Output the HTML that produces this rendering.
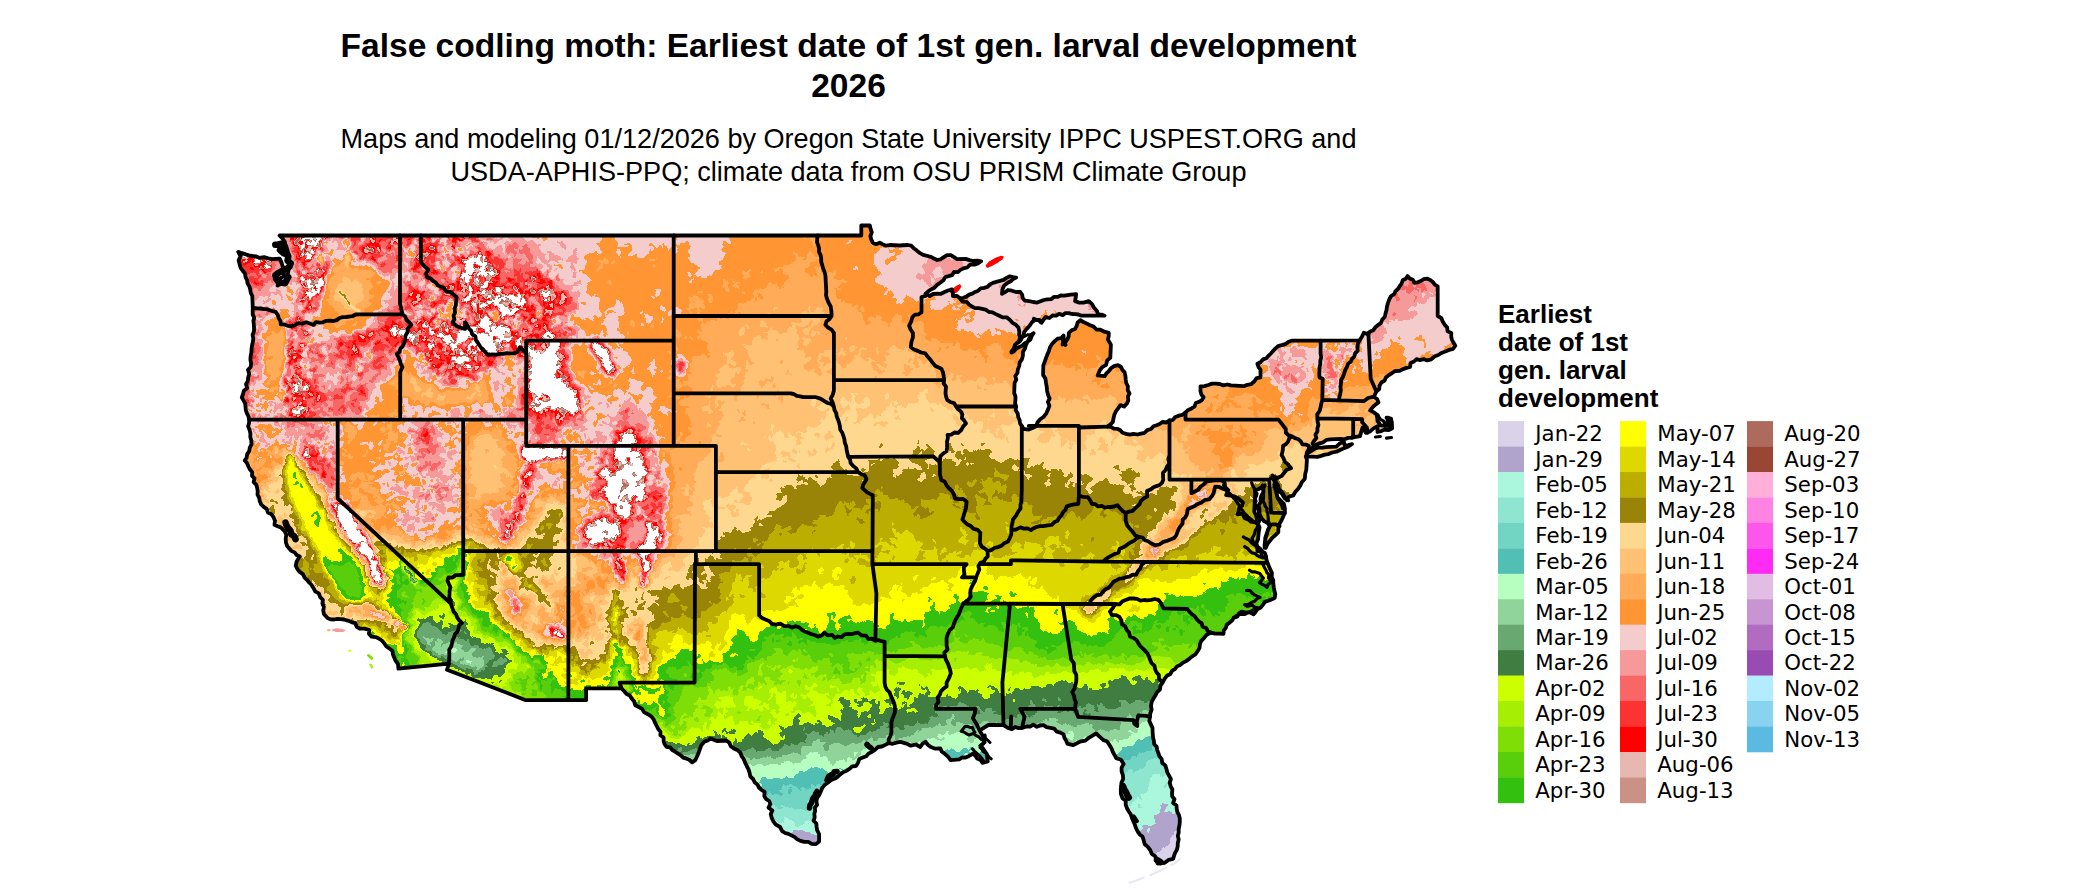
<!DOCTYPE html>
    <html><head><meta charset="utf-8"><title>False codling moth</title>
    <style>
    html,body{margin:0;padding:0;background:#fff;}
    body{width:2100px;height:892px;position:relative;overflow:hidden;font-family:"Liberation Sans",sans-serif;color:#000}
    .t{position:absolute;left:0;width:1697px;text-align:center;white-space:nowrap}
    #title{top:26px;font-weight:bold;font-size:33.55px;line-height:40px}
    #sub{top:121.9px;font-size:27.08px;line-height:33.4px}
    #ltitle{position:absolute;left:1498px;top:300px;font-weight:bold;font-size:26px;line-height:28px;white-space:nowrap}
    svg{position:absolute;left:0;top:0}
    svg text{font-family:"DejaVu Sans",sans-serif;font-size:21.3px;fill:#000}
    </style></head><body>
    <div id="title" class="t">False codling moth: Earliest date of 1st gen. larval development<br>2026</div>
    <div id="sub" class="t">Maps and modeling 01/12/2026 by Oregon State University IPPC USPEST.ORG and<br>USDA-APHIS-PPQ; climate data from OSU PRISM Climate Group</div>
    <div id="ltitle">Earliest<br>date of 1st<br>gen. larval<br>development</div>
    <svg width="2100" height="892" viewBox="0 0 2100 892">
    <defs><clipPath id="us"><path d="M279.5,235.5 L861.3,235.5 L861.3,225.5 L869.9,225.5 L870.6,229.0 L871.8,232.4 L870.4,236.0 L871.2,239.4 L872.8,242.9 L876.1,244.2 L879.7,242.7 L882.9,244.4 L886.2,245.7 L889.7,245.0 L899.2,245.5 L907.6,245.0 L911.3,245.7 L913.7,248.3 L916.6,250.3 L919.2,252.6 L923.2,254.8 L927.6,256.0 L931.0,256.9 L934.0,258.6 L937.1,260.0 L940.7,259.3 L943.8,257.1 L947.0,255.2 L950.8,255.2 L954.0,257.2 L957.1,259.2 L965.6,258.9 L969.4,260.1 L973.2,261.0 L977.3,260.6 L981.1,261.3 L977.9,263.5 L974.3,264.7 L970.1,264.6 L967.2,267.5 L963.4,268.4 L960.5,269.9 L957.9,272.1 L954.0,272.0 L952.0,275.2 L948.7,276.1 L945.4,277.0 L943.4,280.2 L940.2,282.7 L936.8,285.1 L934.0,288.1 L930.8,289.5 L928.0,291.5 L925.5,293.9 L929.7,296.0 L933.1,294.0 L937.0,293.6 L941.0,293.8 L944.5,292.0 L948.1,290.5 L951.9,289.4 L952.8,292.6 L952.9,296.0 L957.1,295.9 L960.3,298.6 L963.4,297.7 L966.5,296.6 L969.2,294.6 L972.3,293.6 L975.2,291.9 L978.2,290.7 L980.7,288.4 L984.2,287.8 L987.5,286.9 L990.0,284.4 L992.9,282.8 L996.4,281.8 L1000.0,280.9 L1003.5,279.9 L1006.5,277.9 L1009.8,276.3 L1012.9,277.0 L1016.1,277.6 L1013.1,279.0 L1010.7,281.3 L1007.7,282.8 L1004.2,285.5 L1002.4,289.4 L1002.0,293.9 L1005.1,292.2 L1008.0,290.0 L1011.9,290.7 L1016.0,292.0 L1020.3,292.0 L1022.2,294.8 L1022.7,298.2 L1025.0,300.7 L1029.1,301.1 L1033.1,302.0 L1037.2,302.6 L1040.5,301.3 L1043.8,300.0 L1047.4,299.3 L1051.1,299.2 L1054.1,296.8 L1057.5,296.9 L1060.7,295.5 L1064.2,295.7 L1067.5,295.1 L1070.9,294.7 L1076.2,294.1 L1075.7,297.7 L1075.1,301.2 L1079.2,302.6 L1083.5,302.6 L1088.8,301.2 L1092.0,304.1 L1094.1,307.8 L1096.8,310.7 L1098.3,314.4 L1101.5,314.6 L1104.6,315.7 L1094.1,315.7 L1081.4,315.7 L1078.4,314.5 L1075.2,314.1 L1071.9,314.0 L1068.8,313.1 L1065.5,313.1 L1062.6,315.1 L1059.1,313.8 L1056.2,315.7 L1052.6,315.5 L1049.3,318.0 L1045.6,317.0 L1043.4,319.9 L1041.4,322.8 L1038.8,320.2 L1035.1,319.7 L1031.9,322.3 L1029.6,325.8 L1026.7,328.9 L1024.3,331.8 L1023.4,335.6 L1020.3,338.1 L1018.3,341.8 L1015.1,344.6 L1013.7,348.8 L1011.5,352.5 L1014.0,351.2 L1016.2,348.6 L1019.1,347.0 L1022.3,345.8 L1024.6,343.3 L1027.7,341.6 L1029.2,338.5 L1031.0,335.6 L1033.4,333.3 L1031.6,336.2 L1030.5,339.4 L1027.5,341.8 L1025.9,345.0 L1025.0,348.6 L1023.0,351.8 L1022.9,355.6 L1022.0,359.1 L1019.8,362.3 L1019.2,366.1 L1017.8,369.6 L1017.4,373.0 L1015.3,376.0 L1016.3,379.7 L1014.6,382.8 L1014.2,393.3 L1015.5,396.5 L1015.4,399.8 L1015.1,403.2 L1016.1,406.5 L1015.7,410.2 L1017.7,413.4 L1018.2,417.0 L1019.6,420.1 L1020.1,423.5 L1023.5,428.8 L1028.8,429.6 L1032.5,428.1 L1036.1,426.2 L1037.6,422.3 L1040.1,419.3 L1043.5,417.0 L1046.3,413.3 L1048.2,409.1 L1049.4,405.7 L1047.9,401.9 L1049.6,398.6 L1048.0,394.8 L1047.1,390.8 L1046.7,386.7 L1046.0,382.6 L1045.4,378.5 L1043.1,374.9 L1043.3,365.7 L1044.6,362.1 L1045.9,358.4 L1047.2,354.8 L1048.8,351.2 L1050.1,347.0 L1052.6,343.3 L1055.0,340.9 L1057.6,338.7 L1061.4,338.2 L1063.5,335.4 L1063.8,340.1 L1062.5,344.6 L1065.6,342.0 L1067.4,339.2 L1068.7,336.2 L1068.8,332.8 L1071.6,330.3 L1075.1,328.9 L1076.7,325.9 L1077.6,322.5 L1080.4,320.2 L1083.4,322.1 L1086.7,323.6 L1090.1,325.2 L1093.6,326.6 L1096.4,329.5 L1100.4,329.7 L1104.4,331.7 L1108.8,332.8 L1108.7,336.2 L1107.8,339.4 L1110.9,344.6 L1110.3,357.8 L1107.2,360.4 L1106.1,364.8 L1102.5,367.0 L1100.3,369.5 L1098.9,372.4 L1097.7,375.4 L1104.6,376.2 L1106.4,373.4 L1108.9,371.0 L1110.9,368.3 L1114.1,366.1 L1117.9,365.2 L1120.9,366.8 L1122.4,369.9 L1124.6,372.3 L1125.4,375.8 L1125.7,379.4 L1126.2,383.0 L1127.9,386.3 L1127.7,390.0 L1129.5,393.3 L1127.9,396.6 L1128.3,400.5 L1126.7,403.8 L1124.0,406.6 L1120.4,405.1 L1118.3,408.1 L1116.2,410.9 L1114.4,414.5 L1113.5,418.3 L1112.8,422.1 L1110.2,424.5 L1107.4,426.7 L1110.8,426.9 L1113.8,428.6 L1117.3,428.8 L1120.3,430.2 L1122.5,432.8 L1126.2,433.9 L1129.9,434.6 L1133.5,433.8 L1137.4,434.5 L1141.0,433.6 L1144.7,432.8 L1147.3,430.1 L1151.0,429.0 L1153.5,426.2 L1156.6,425.2 L1159.6,424.0 L1162.4,422.0 L1166.0,422.5 L1168.9,420.9 L1172.7,420.0 L1175.3,417.1 L1178.8,415.7 L1182.5,414.8 L1185.5,412.5 L1188.2,409.9 L1191.6,408.4 L1194.6,406.5 L1195.7,403.0 L1199.1,401.8 L1201.9,400.1 L1203.6,397.2 L1201.4,394.5 L1200.5,391.2 L1200.5,386.5 L1204.5,386.1 L1208.3,385.0 L1212.1,383.6 L1215.9,383.6 L1219.7,384.0 L1223.4,385.4 L1227.3,384.5 L1231.0,385.4 L1243.7,386.2 L1247.3,384.8 L1251.2,384.1 L1254.2,381.5 L1256.6,378.2 L1260.5,377.5 L1260.5,369.6 L1258.5,367.0 L1257.4,363.8 L1260.5,362.2 L1263.0,359.4 L1266.4,358.3 L1268.5,355.8 L1270.9,353.5 L1273.1,351.0 L1275.3,348.6 L1278.1,346.1 L1281.7,345.2 L1285.2,344.2 L1288.2,342.1 L1291.5,340.7 L1320.6,340.7 L1359.6,340.4 L1361.9,336.8 L1363.8,332.8 L1368.0,334.1 L1370.1,331.5 L1373.3,330.2 L1375.3,327.3 L1378.1,325.1 L1380.9,322.9 L1382.3,319.4 L1384.8,317.0 L1385.5,313.5 L1386.5,310.1 L1387.0,306.5 L1388.0,302.9 L1389.3,299.3 L1391.2,296.0 L1394.1,294.2 L1395.5,291.1 L1397.9,289.0 L1399.7,286.2 L1401.6,283.6 L1402.7,280.3 L1405.8,278.7 L1407.6,276.0 L1409.7,278.4 L1412.9,279.8 L1414.3,282.8 L1417.7,282.3 L1420.8,281.0 L1423.7,279.2 L1427.0,278.6 L1430.2,279.9 L1432.8,281.9 L1434.8,284.7 L1437.7,286.3 L1437.7,316.0 L1441.3,318.0 L1442.8,321.7 L1444.9,324.9 L1447.2,327.5 L1447.5,331.2 L1451.3,332.9 L1451.2,336.8 L1452.1,340.0 L1453.6,342.9 L1455.4,345.7 L1453.0,348.8 L1449.4,349.8 L1446.0,351.2 L1442.0,352.7 L1438.3,355.0 L1434.4,356.5 L1431.2,359.4 L1427.0,360.4 L1423.6,359.1 L1419.9,360.1 L1416.5,359.1 L1414.0,361.5 L1410.6,363.0 L1410.1,367.0 L1406.5,367.9 L1402.9,369.1 L1399.6,370.9 L1395.0,371.0 L1391.2,373.6 L1388.4,375.4 L1385.9,377.5 L1384.5,380.7 L1381.4,382.5 L1379.6,385.4 L1379.2,389.0 L1376.4,391.5 L1373.9,396.7 L1377.0,399.0 L1378.5,402.5 L1375.8,404.4 L1373.3,406.5 L1370.1,410.4 L1373.4,412.1 L1376.4,414.3 L1377.2,417.6 L1377.5,420.9 L1380.6,425.4 L1389.1,426.2 L1387.1,422.4 L1388.0,418.3 L1386.5,417.8 L1389.0,420.2 L1391.8,422.2 L1392.2,428.3 L1388.7,430.1 L1384.8,429.6 L1381.3,431.1 L1377.5,432.0 L1377.5,426.2 L1373.5,428.4 L1370.1,431.4 L1365.9,432.8 L1362.7,427.5 L1361.2,431.8 L1360.0,436.2 L1356.0,436.8 L1352.0,437.7 L1348.2,437.9 L1344.5,439.3 L1340.6,438.8 L1330.1,439.3 L1326.3,439.9 L1323.2,442.3 L1319.5,443.3 L1316.1,444.8 L1313.2,447.2 L1310.2,449.5 L1307.9,452.5 L1305.8,456.4 L1306.9,459.8 L1306.3,469.6 L1305.2,474.1 L1304.8,478.8 L1302.0,481.9 L1300.2,485.6 L1298.0,489.0 L1295.3,491.9 L1293.2,495.4 L1288.9,496.8 L1286.9,500.3 L1284.7,496.8 L1282.7,493.2 L1279.4,491.7 L1276.9,489.0 L1274.2,486.7 L1274.9,480.1 L1275.3,489.3 L1276.5,493.2 L1277.4,497.2 L1280.6,500.6 L1283.9,503.8 L1284.9,508.3 L1284.8,513.0 L1283.2,516.6 L1281.5,520.2 L1279.6,523.6 L1278.4,527.4 L1278.3,532.1 L1275.4,535.1 L1272.1,538.0 L1269.7,541.1 L1267.3,544.2 L1265.8,547.9 L1265.2,538.0 L1266.6,533.9 L1268.0,529.9 L1270.0,526.1 L1267.6,523.1 L1264.1,521.2 L1261.6,518.2 L1259.5,513.8 L1259.5,509.0 L1258.6,505.4 L1260.7,502.1 L1260.5,498.5 L1261.6,495.2 L1263.5,492.2 L1263.3,488.5 L1264.8,485.3 L1261.6,487.1 L1258.6,489.1 L1255.3,490.6 L1254.8,499.8 L1254.2,511.6 L1256.1,515.5 L1257.0,519.6 L1258.0,523.7 L1259.5,527.4 L1258.8,531.4 L1258.4,535.3 L1258.0,539.4 L1256.3,543.2 L1257.5,547.1 L1257.4,551.1 L1261.3,551.2 L1264.8,552.9 L1266.0,556.2 L1266.4,559.7 L1267.5,562.9 L1268.9,566.3 L1270.3,569.6 L1271.9,572.9 L1271.7,576.7 L1273.2,580.0 L1273.3,583.6 L1273.8,587.2 L1274.4,590.7 L1275.3,594.3 L1274.7,597.9 L1271.4,599.4 L1268.1,600.8 L1264.8,601.9 L1263.0,604.7 L1260.9,607.4 L1257.6,608.9 L1255.7,611.7 L1253.6,614.2 L1249.8,612.2 L1245.5,612.7 L1241.6,611.6 L1238.9,613.6 L1237.3,616.7 L1233.9,617.8 L1232.0,620.6 L1229.4,622.7 L1226.8,624.7 L1225.8,627.8 L1223.7,630.6 L1223.5,633.9 L1219.3,633.7 L1215.1,633.7 L1211.0,632.6 L1206.7,634.8 L1203.6,638.4 L1201.1,641.1 L1199.9,644.4 L1199.5,648.0 L1197.7,651.0 L1195.5,654.3 L1192.1,656.3 L1189.2,658.9 L1186.1,661.1 L1182.6,662.9 L1180.0,665.0 L1177.0,666.4 L1174.9,669.1 L1172.0,670.8 L1170.3,674.0 L1166.9,675.8 L1164.7,678.7 L1162.6,682.6 L1160.5,685.7 L1159.9,689.7 L1156.9,692.4 L1155.2,695.8 L1153.2,699.0 L1151.5,702.4 L1151.0,706.3 L1151.6,709.9 L1150.3,713.3 L1149.9,716.8 L1149.3,720.9 L1151.0,724.7 L1152.5,727.8 L1152.6,731.2 L1152.7,734.5 L1153.1,737.8 L1153.9,741.0 L1154.2,744.3 L1156.7,746.9 L1157.2,750.1 L1158.4,753.2 L1159.4,756.2 L1161.7,759.2 L1162.2,763.1 L1165.4,765.6 L1166.5,769.2 L1167.4,772.8 L1169.3,776.0 L1170.9,779.2 L1169.7,782.9 L1170.7,786.3 L1172.4,789.5 L1172.0,793.1 L1172.2,796.4 L1174.5,799.2 L1173.1,803.0 L1176.5,805.5 L1176.7,808.8 L1177.4,812.2 L1179.0,815.2 L1179.8,818.5 L1179.8,822.0 L1179.4,825.5 L1178.7,828.9 L1178.7,832.5 L1177.8,835.9 L1178.7,839.5 L1177.8,842.9 L1177.7,846.4 L1176.9,849.7 L1175.2,852.6 L1174.1,855.7 L1173.1,858.8 L1168.5,859.9 L1164.7,862.8 L1157.7,863.5 L1156.1,860.0 L1155.2,856.2 L1151.8,853.9 L1150.2,850.0 L1147.8,846.9 L1144.7,844.3 L1143.7,840.4 L1142.5,836.5 L1139.7,834.4 L1137.8,831.6 L1136.2,828.6 L1134.8,824.6 L1133.1,820.7 L1131.8,817.5 L1130.7,814.3 L1128.8,811.5 L1127.0,808.3 L1125.7,804.9 L1125.8,800.8 L1122.5,798.3 L1120.9,793.9 L1120.8,789.1 L1121.5,782.5 L1123.2,779.0 L1122.9,775.2 L1121.6,771.4 L1121.6,767.6 L1123.6,764.1 L1121.0,759.8 L1116.2,758.1 L1114.7,755.2 L1113.0,752.3 L1111.3,747.9 L1108.8,743.9 L1106.8,741.2 L1103.4,740.1 L1101.0,737.9 L1098.5,735.8 L1096.2,733.4 L1092.5,735.6 L1088.8,737.8 L1085.4,740.6 L1081.1,741.3 L1077.2,743.1 L1073.0,745.2 L1067.3,743.6 L1066.1,740.5 L1064.4,737.7 L1063.6,734.4 L1060.4,732.6 L1056.8,731.7 L1054.1,728.6 L1050.4,727.9 L1046.6,727.2 L1043.5,725.2 L1040.1,725.5 L1036.9,726.8 L1033.3,724.7 L1030.1,726.7 L1026.7,726.5 L1022.0,727.8 L1018.6,728.1 L1015.1,727.0 L1011.9,729.2 L1007.5,727.6 L1003.5,725.2 L992.9,724.9 L988.4,725.0 L984.5,727.3 L979.7,730.5 L982.4,735.2 L984.5,740.5 L983.2,743.7 L980.3,745.7 L982.7,748.1 L984.5,751.0 L986.6,753.6 L987.2,757.6 L987.7,761.5 L982.4,762.8 L980.5,760.0 L977.3,758.6 L975.4,755.8 L972.9,753.6 L968.7,756.2 L965.6,757.5 L962.1,757.5 L959.2,759.4 L950.8,760.2 L947.9,756.6 L944.5,753.6 L941.7,751.5 L940.3,748.4 L935.4,748.7 L930.8,747.0 L927.8,744.7 L925.5,741.8 L922.4,743.9 L920.3,747.0 L915.8,744.5 L910.8,745.7 L907.4,744.0 L903.8,742.9 L900.2,741.8 L896.4,742.6 L892.6,743.8 L888.7,743.1 L885.3,744.9 L881.9,746.5 L878.1,747.0 L875.2,749.6 L872.1,751.8 L868.6,753.6 L866.3,756.3 L862.8,757.5 L859.3,758.9 L858.1,762.8 L856.0,766.0 L852.1,766.3 L849.5,768.8 L846.6,770.7 L843.4,772.0 L840.5,774.2 L837.9,776.6 L834.9,778.6 L831.2,780.1 L828.1,782.5 L824.9,784.8 L822.3,787.8 L820.8,791.4 L819.2,795.0 L817.0,798.3 L816.4,801.5 L817.1,804.8 L814.9,807.7 L815.1,811.0 L814.3,814.1 L814.7,817.3 L813.6,820.7 L816.3,823.5 L816.6,826.7 L817.0,829.9 L819.1,834.0 L819.1,838.6 L819.1,841.5 L815.9,844.1 L811.7,843.8 L808.3,841.9 L804.3,841.8 L800.5,840.9 L797.0,839.1 L794.4,836.9 L791.4,835.4 L788.4,833.9 L785.1,833.0 L782.2,831.2 L780.0,827.0 L775.9,824.6 L773.4,821.5 L771.7,817.9 L770.7,814.1 L772.4,810.6 L768.5,807.7 L770.3,804.2 L769.2,801.0 L766.2,799.1 L764.3,796.3 L764.6,791.9 L761.7,790.0 L759.1,787.8 L757.5,784.6 L754.6,782.2 L753.1,779.0 L750.3,776.5 L749.6,772.9 L748.5,769.4 L746.7,766.0 L745.1,762.6 L743.7,759.0 L741.5,755.8 L740.1,752.3 L737.2,749.9 L733.8,748.4 L730.8,746.2 L729.3,742.7 L726.4,740.5 L716.9,741.0 L713.7,739.7 L710.6,738.4 L707.7,740.5 L704.3,741.8 L701.3,745.3 L699.7,749.7 L698.4,753.3 L696.9,756.8 L695.3,760.2 L692.1,762.3 L689.5,760.0 L686.5,758.6 L683.2,757.6 L680.8,755.3 L678.0,753.6 L675.2,751.7 L672.3,750.0 L670.0,747.3 L666.4,746.8 L664.5,744.0 L663.6,740.9 L663.6,737.5 L660.4,735.3 L660.5,731.8 L658.2,729.0 L656.7,725.8 L655.0,722.7 L653.7,719.4 L651.2,716.4 L647.9,714.2 L644.3,712.4 L642.1,708.9 L638.8,707.0 L635.3,705.2 L634.0,701.2 L631.6,698.4 L629.8,695.5 L626.6,694.1 L624.5,691.5 L622.1,689.2 L621.5,688.4 L586.1,688.4 L586.1,700.2 L525.8,700.2 L447.0,669.7 L448.9,663.7 L398.4,668.7 L398.0,664.0 L395.2,660.2 L394.1,657.2 L392.9,654.2 L392.5,651.0 L389.7,648.6 L386.4,646.5 L384.3,643.4 L381.9,640.5 L378.9,638.6 L375.6,637.1 L371.4,636.6 L368.9,633.7 L369.3,630.0 L364.6,628.6 L359.8,628.7 L356.7,626.8 L355.1,623.1 L351.4,622.1 L347.7,620.6 L344.0,619.5 L340.8,619.1 L337.5,618.9 L334.2,619.5 L330.9,619.4 L327.8,618.2 L324.0,614.2 L323.2,610.6 L323.9,607.0 L322.4,603.4 L322.9,599.8 L320.2,597.1 L318.8,593.3 L315.2,591.3 L313.4,587.9 L311.6,585.0 L309.1,582.5 L307.0,579.8 L304.5,577.3 L302.9,574.1 L300.0,572.1 L297.6,569.5 L295.7,565.7 L296.6,561.6 L299.7,556.4 L296.6,555.0 L294.5,552.4 L291.4,550.9 L289.2,548.5 L287.1,545.8 L285.9,542.3 L285.7,538.7 L286.3,534.8 L284.8,531.4 L280.8,527.4 L277.6,526.3 L274.5,524.8 L275.0,520.7 L273.4,516.9 L271.3,514.1 L267.9,512.5 L266.7,508.9 L263.7,506.9 L261.2,504.5 L259.7,501.1 L259.2,497.8 L257.5,494.7 L257.7,491.3 L257.2,488.0 L256.3,484.8 L253.7,482.1 L254.5,478.4 L252.0,475.7 L252.3,472.2 L250.0,469.6 L248.4,466.5 L247.1,463.2 L244.8,460.6 L246.6,457.7 L247.2,454.1 L249.2,451.2 L249.8,447.6 L251.5,444.3 L251.3,440.6 L250.3,437.1 L250.4,433.3 L249.5,429.7 L248.1,426.2 L249.1,423.0 L249.2,419.6 L248.5,416.3 L246.9,413.4 L245.8,410.2 L245.5,406.8 L245.1,403.4 L243.5,400.4 L241.8,397.5 L243.0,394.2 L243.9,390.8 L247.1,388.1 L246.0,384.1 L247.8,380.9 L248.2,377.3 L249.2,374.0 L248.0,369.9 L250.7,367.0 L251.1,363.5 L250.4,359.9 L250.6,356.4 L251.3,353.0 L251.5,349.5 L251.9,346.0 L252.8,342.3 L253.3,338.7 L252.6,334.8 L254.0,331.3 L254.0,327.5 L253.8,324.3 L253.4,321.0 L254.2,317.6 L252.7,314.4 L252.7,311.1 L252.8,307.8 L252.3,296.0 L250.8,292.9 L250.2,289.4 L249.3,286.3 L247.6,283.5 L247.1,280.2 L245.5,277.1 L245.0,273.5 L242.7,270.7 L240.6,267.8 L239.7,264.4 L238.7,260.3 L240.4,255.8 L238.2,251.8 L241.7,253.2 L245.3,254.2 L248.8,255.4 L252.5,256.0 L256.3,256.4 L259.7,257.9 L264.0,257.2 L268.2,258.4 L272.4,259.2 L279.7,258.6 L281.3,261.9 L282.3,265.3 L283.3,268.8 L283.9,272.3 L283.5,276.2 L280.0,278.5 L279.4,282.3 L277.6,285.5 L281.8,283.5 L286.0,281.5 L286.9,276.9 L288.2,272.3 L288.7,268.8 L290.0,265.4 L290.3,261.8 L287.5,258.7 L285.9,254.9 L283.9,251.3 L283.3,246.5 L285.0,242.1 L282.5,238.5 L279.5,235.5ZM1306.9,456.4 L1317.4,456.9 L1321.1,455.9 L1324.8,454.6 L1328.6,454.1 L1332.2,452.5 L1336.5,451.7 L1340.6,449.8 L1344.1,448.1 L1347.9,446.8 L1351.1,444.6 L1352.0,444.1 L1348.4,445.1 L1344.8,445.9 L1343.8,441.7 L1339.6,443.6 L1336.4,446.7 L1325.9,447.2 L1322.3,447.6 L1318.8,447.5 L1315.3,448.5 L1311.1,451.2 L1306.5,453.8Z"/></clipPath><filter id="rough" filterUnits="userSpaceOnUse" x="220" y="210" width="1250" height="680" color-interpolation-filters="sRGB"><feTurbulence type="fractalNoise" baseFrequency="0.11" numOctaves="2" seed="7" result="n"/><feDisplacementMap in="SourceGraphic" in2="n" scale="5" xChannelSelector="R" yChannelSelector="G"/></filter></defs>
<g clip-path="url(#us)">
<g filter="url(#rough)"><g transform="scale(.5)" fill-rule="evenodd" shape-rendering="crispEdges">
<rect x="400" y="400" width="2600" height="1400" fill="#DAD2E9"/>
<path fill="#B0A4CC" d="M452 432l2476 0 0 1236-5 4 1 4-12 8-8 0 0-4 0 4-4 3-4-1-12 2-4 7-4-7-4-1-4-5 0 10-8-1-3-3 3-4-2-8 1-4-7-4 4-4-4-8-4-1-4 2-12-6-10-3-2-4-12 4 1 4-1 1-4-5-4 6-8 4-8-1-2 3 5 4 1 5-8-3-4-8-4 1-8 4-4-6-8 1-4 6-4 2-11-6-1-4 2-4-6-5-4 3-12 1-4-1-4-3-4 7-8-3-8-7-8 4 3 4-3 3-8 2 0-2 4 1 2-8-6-1-2 5-2 2-4-4-4 1-4-5-8-1-4 6-4-6-7 7 4 4-5 0-4 7-4 0-3-7-4-4 4-4-5-7-8 7 0 4-4 2-6-2-2-4-10-4-3 0-3 6-3-6-9-1-2 5 2 2 4-2 3 4-11 6-3-2-1-5-4 4 0 3 8 10-4 3-4-2-4 3 8 3 0 2-4 2-4-1-4 2-9-4 4-4-3-2-8 2-8-2-4-5-8 2-2-3 0-4-2-2-4 2-2-8-6-4-4 6-4-1-4 3-12-8-4 0-7 8 5 4-1 4 4 4-3 4 6 4 4-1 2 1 9 16-2 4-9 3-4 0-8 4-4-3-4 0-12-3-5 3-8 16-7 2-3-2-2-8-3-3-4 4-8-3-4 1-3-3 0-4 4-4-12-12 4-4 0-8-5-8 6-8-10-7-8 1-4 3-4-2-1 1 3 4-2 4-5 0-11 6-9 14 0 8-14 8-2 4-7 5-4-2 0 5-3 4-2 8 1 2 4-1 2 3 1 12-7 16 6 4 0 4 6 0 8 5-2-5-2-2-4 1-2-3 4-4 0-4 10-4 0-4-6-4 7-8 4 8-1 4 4 4 4 1 3 7 5 1 1 3-5 8-4-1-4 1 4 4-58 0 5-12-7-6-4 2-8-10-12 12-4-1-4-6-13 5-4 12 1 2 6 2-72 0 2-3 4-1 0-6-4 4-4-3-12 1-3 8-301 0 1-4-5-4 1-4-4-4-1-4 6-16-2-4-4 0-8-3-9 11 4 4 0 4-3 4-12 2-8 0-4 3-3-1 2-4-6-4 1-4 2-4 7 0-11-2-4 4-2-2 0-4-2-1-4 4-3-3 11-12-8-2-8 7-4-8-8 15-8-11-8 0-12 10-1 5 4 4-3 2-12-3-2 13 6 3 0 4-8-3-4 3-2-3 1-8-3-3-14 7-6 5-4-2-5-7-7-2-1-2 1-2 8 2 1 4 3 1 7-5-6-4 1-4-2-4-4 0-4-6-8 0-2 2 2 4 0 8-4 0 1 4-4 4-1 4 3 8 5 2 2-2-3-4 1-2 4-2 4 1 4 11-4 1-2 3-9 0-5-3-4 3-4 0 0-4-4-9-8 7-4 0-4-2-2-4 2-4-4-1-2 1 0 4-7 8 1 4-31 0 6-4-14-4 4-8 0-4 3-1 12 6 4-3 4 7 16-9 4-5 5 1-6-12 1-4-3-4 3-5 4 1 0 5 7 7 4 12 13 9 3-1-7-18-1 6-3 1-8-17 4-5 8 5 2-4-1-4-5 1-4-2-12-7-4-6-4 2-8-16-2 4 2 8-4 0-4-3-8 4-5-1-3 3-4-2-4 2-8-5-1 6-7 8-12 4 3 4-15 6-8-6-4 4-12 2-4 3-2-5-6-4 0-4-4-3-8 3-3-4 3-1 1-3-5-8-1-4-3-2-4 3-12 0-8 2-4-3-3 12 5 8-2 4-4-1-5 1 0 4-5 4 2 4-1 4 5 2 8 8 4-3 4 1 4 8-4 10-8 1-7 5-6 0-3-6-6 6-17 0-5-5-4 3-4 0-13-10-1-8 2-4-4-3-7 3 3 4-4 3-4-2-4 0-3 7-6 0-1 4 2 3 8 0-1 5-927 0zM1428 1723l-5 5 1 4 4 4 3-4 1-4zM1560 1679l-2 9 2 3 4-7 4 0 1-4-5-3zM1680 1711l-4 1 0 5 4 1 5-6-1-2zM1812 1712l-2 4 6 5 6-5-6-1zM2284 1720l-2 8 2 5 4 0 6-5zM2304 1722l-6 6 0 4 6 1 4 8 3-1 0-4-6-8 1-4zM2388 1635l-2 1 1 8 5 7 4-7-8-4zM2512 1654l-2 6 2 2 8 3 4-1-3-4-5-2zM2768 1647l-3 5 7 1 3-5-3-2zM2868 1659l-4 5 4 1 3-1 1-3 6-1zM2376 1660l0-3 4 0 2 3-6 9-2-5zM2474 1660l6 0-3 4-5 2-1-2zM2762 1672l2-4 3 4-3 4 5 4-5 6-5-2 1-7 4-1zM2834 1676l2-1 8 4 5-3 6 8 0 4-8 0-3 8-8 1-4-16-8 7 0-4zM2679 1680l1-3 4 0 5 3 2 4-3 4-4-1-4 2-5-5zM2781 1680l3-2 7 6-3 2-4-3-4 3-3-2zM2582 1684l2-2 6 10-6 2-6-2 4-4zM2714 1684l2-1 0 5-4 2-1 2 3 4-2 1-5-5 1-4zM2594 1696l2-4 4 1 2 3-3 4-3 2-3-2zM2877 1700l3-4 3 4-3 6-4-1zM1589 1708l7-4 5 4-11 16 0 4 5 4 2 8-1 4-8-8 0-5-8-3 10-8-4-4 6-4zM1618 1728l2-3 4 2 1 1-4 4 6 4-3 1-6-1zM1775 1732l3 0 0 4 3 4-1 8-4 0-2-4 1-4-5-4zM1582 1740l4 0 3 4-1 2-7-2zM1477 1744l3-2 4 2-1 4-3 2zM1502 1744l2-3 4 2 2 1-4 4 2 2 16 4 2 2-2 7 4 0 5-3 3 8-19 0 0-8-1-2-4 4-4-9-4 1zM1522 1744l2-3 5 3-5 3zM1541 1748l3-1 4 1-6 4 4 8 6 4 1 4-10 0 0-4-7-5-2-3zM1783 1752l5-2 4 7-4 3zM1702 1756l2-2 4 0 3 2 1 4-12 2-5-2 1-2 4 0z"/>
<path fill="#AAF7DE" d="M452 432l2476 0 0 1223-44-17-12 2-4-1-8 3-12-5-4 2-8-1-3-2-1-4-4 0-4-9-4 5-3-8-9 1 1-5-5-3-4 2-4-4-12 5 0 6-4 0-8 3-4 8-4-5 1-4-1-8-4 0-4 1-4 7-11 8-9 3-4 0-4-4-8 1-4-4-1-4-3-2-4 1-4-3-3 4 1 4-14 5-1-9-3-3-8-3-1-2 6-12-1-2-12-7-3 9 3 4-4 3-4-3-4 1-4-9-4 6-8-10-5 8 1 4-8 1-8-4 0-5-8-7-4 3-4 8-4-5-4 0-4-2-1-5-7-3-16 4-3 3 1 4-3 4 9 4 3 4-3 4-4-1-4-6-8 4-1-1 2-4-2-4 0-12-5 0-2 3-5-3-3 8-4-2-2 2 4 4-6 3-8-9-8 2-4 4 5 8-1 8 5 4-1 8-8-4-4 2-4-2 0-5-4 3-4 1-2-3-6-2-1 6 7 4-2 1-8 1-8-4-8 7-4-2-16 4-4-1-4 2 4 2 4-1 8 3 0 4-8 1-8 12-8-6-4 2-4-1 1-8-2-4 0-12-3-4-7-4-5-6-12-3-7-3-5-5-4 13-4 1-8-5-4 5-8 1-4 4-12-4-4 1-2-3 2-12-4 0-4-3-5 7 5 4-4 4 0 7-4-1-4 6-5 0 1 11 5 1-5 4-8 3-12-1-4 10-5 4 3 4-4 4 2 4-3 12-9 1-8 4-4-3-12 4-2 2 8 8-3 4-3 4-4-3-15 3 3 12-8 3-10-11-6-4-5 0-11-12-4 5-4-6-4 7-8-1-4-4-4 2-4-3-4 4-8 0-8-9-8 6-8-1-4 4 0 6-4-2-1-4-3-3-8 7-4-1-8 4-4-2-4 1-3-2-1-4-4 2-1-2 3-4-1-8-5-1-4-4-16 5 4 3 0 5-4 4 2 4-10 13-8-15-9 2 2-4-1-1-12 3-4 6 1 4-5 2-3-2 2-4-11-9-3-7-8 0 3 1 5 7-1 8-12-12 4-4-4-4-8 4-8-1-4 1 2-8-6-2-1 6-7 2-4 5-4-6-4 0 0 7 10 8-2 3-8 4-8-3-4 2-8-1-8-3-4 4-6-6 10-4 1-4 1-4-6-4-8 7 0-3-8-8-16 5-4-1-4-6-4 6-4 0-8-7-8 5-8-1-4 3-12-8-16 9-4-2-4 4-4 1 0-9 0 5-4 0-4-3-4 0-4 5-4 0-4-5-3 3 2 4-3 1-12-8-12 15-6 0-2 5-1-5-6-4-1-4-4 0-3 4 4 4-1 4-8 1-1-9 5-8-1-4-6-4-5-7-4 4-12-3-4 3-11-17 4-8-5-2-2 2 0 8-2 3-5 1-2 8-4 4-5 1-4-1-3-4 3-4-8-3-8 1-8-6-4 0-4-2-20-2 0 4-4 3-4-2-4 3-16-1-4-4-12 5 0-4-4-2-4 2-12-7-4 3-12-3-16 3-4-2-2 2 1 4-6 12-17 11-4-1-4 5-8 1-2 4-7 8-7 2-4 6-4-2-11 6-5 7-4-1-8 6 0 4-4 4-16 3-12 11-6 2 2 4-8 5-4 0-4 7-892 0zM1756 1679l-2 5 2 2 4 0 0-5zM1768 1678l-2 2 2 2 4 4 4 0 1-2-1-4zM1832 1672l0 5 4 1 3-2-1-4zM1904 1681l-3 3 3 4 4-2 1-2zM1912 1695l-2 1 6 8 2-4zM2036 1696l-5 4 5 5 3-5zM2396 1601l-2 3 2 7 4 0 2-3-2-4zM2696 1592l4 4-8 6-13 6 9 13 8-16 12-2 4 1 0-5 4 1 9-4-5-5-8 0-8 7-4-2 2-4-2-1zM2744 1615l-6 5 6 2 1-6zM2748 1604l-1 4 1 5 4-2 8 5 3-4-3-8-4 4zM2768 1614l-4 2 12 1 3-1-3-2-4 1zM2643 1620l1-1 8 5-4 7-4-2-2-5zM2786 1624l2-1 4 5-4 4-4 0-1-4zM2798 1624l2-2 6 2-6 7-2-3zM2292 1656l4-3 5 3-5 8-4-2zM1970 1716l2-2 4 1 0 5-6 4 6 7 4 8 8 6 4-1 12 12 8-5 8 0 8-7 2 4-3 4 0 4 5 4 4-7 8-1 3-4 9-3 16 6 16-3 16 8 4-1 4-5 20 8 1 6-3 4-262 0 0-8-4-2-4-6 2-12 14-14 8 3 4-3 12 1 8-2 4 3 12-2 12 4 16-3 8 4 8-9z"/>
<path fill="#8FE6D0" d="M452 432l2476 0 0 1217-44-15-20-4-4-3-4 1-3-4-9-2-32-16-12-2-7-4-9-1-12-4-4-4-12-3-8-5-16-4-4-3-8 4-4-6-4 0-8 3-4-2-4 2-4-3-4 0-4-2-7 12-5 2-8-3-4 1-4-3-4 3-12-4-12-1-4 5-4 1-4-3-12-1-8-4-12 4-4-4-8-2-4 5-4-3-12 5-8-3-4 2-8 1-4-2-4-6-4 1-12 9-4 1-4-3-8 1-2 1 0 4-2 1-4 1-4 4-4-2-4 8-4 3-12 5 0 4-4 3-4 1-4-4-4 4-4-6-4 4-4-10-4-3-12-5-2-8-6-6-4 0-4 4-12-2-2-8 2-2 4 2 3-8-7-8 1-4-9 0-4-3-4 0-3 3-1 5-8 2-4-2-4 0-4-1 2-4-2-3-4-2-8-11-3 4 2 4-1 4-2 3-6 1-2 4 0-12-4 1-4-2-8 3-4 22-4 4 1 4-1 4-4 3-4-2-8 2-1 1 3 4 1 8-3 2-4-7-4 3-9 6 0 8-3 4-3-12-7 0 2-4-8-5-4 5 3 4-3 4 2 4-2 2-8 1 0 3 3 2-2 4-10 8 2 8-1 2-4 2-2 4-10 7-8-1-3 2 3 3 4-2 2 3-2 3-4-2-3 3 6 8-6 4 1 4-2 3-6-3-2-4 3-8-2-8-5 8-4 2-6-2 2-4-8-5-4 3-1-6-3-2-12-2-4-3-6 3 6 8 8-1 4 9 5 0-2 12 1 2 4-1 1 3-1 3-4 1-1-4-3-2-4 2-23-8-6-4 2-4-1-3-6-1 2-5-8-2-4 6-4-3-8 7-4-2-4 1-4-3-4 6-4 1-4-4-8 4-4-1-4 1-4-3-8 0-3-3 0-4-9-4-4-1-4 2-4-2-8 1 4 1 2 3-6 5-4 6-4 1-4 7-2-7-6-4 5-8-9-3-3 3 1 8 2 3 2 1-4 4-2 1-1-5-11-7-3 3 0 4-5 2-1-6-11-8-4-7-4 1-4 4-8-13-4 15-5-4-2-4-1-8 5-8-5-9-7 9 1 4-2 2-4 3-4-1-4 5-2-1 0-4-2-1-2 1 1 4-3 1-4-4-4-1-1 8-11 11-8-2-2-5-11-4-3-1-4 4-4-2 2-5-2-4-12 3-4 6-4 0-4-5 0-4-1 4-3 1-2-5-6-2-4-5-4 2-4-4-7 9 4 4-1 3-4-1 0-2-12-7-4 0-4 5-12 1-4-6-8 3-2 8-6 3-2-3 3-4-2-4 3-4-6-2-4 2-8-6-8 10-2-4 2-1 0-4-5 5-7 1-12 7-4-2-4 2-8-1-5-3 0-4-3-5-8 0-4-2-4 5-4 0-8 7-16-4-8 6-12 6-8-10-16-10-4 7 0 5-8 3-4-1-2 1-2 5-6-1 5-4 0-4-11-6-8 6-4-8-4 2-8 1-4 3-5-2-3-6-4 0-12 2-4-2-8 5-2-3 6-4-4-1-4 2-4-1-4 5-16-14-3 5 8 8-3 4 10 8 4 12-8 20-8 2-8 5-4 5-16 11-8 2-8 9-20 11-4 5-8 4-4-2-4 2-5 10-11 1-4 7-4 0-4 7-4 1 3 8-883 0zM2392 1560l-2 0 4 4 0 4 4 0 0-4 3-4zM2338 1564l2-1 1 1 0 4-6 4-1 4-4 0-1-4zM2686 1580l2-2 4 0 1 6-9 4zM2249 1612l3-3 2 3 0 8-2 4-5-4zM2275 1612l1-2 4 0 5 6-5 1zM1792 1644l4-2 9 6-9 5zM1802 1660l2-3 5 3-5 5zM2002 1688l2-4 9 4-5 2zM1879 1736l9 2 12-1 12 4 8-3 8 2 4-1 8 1 4-2 8 3 4-2 8 1 26 12 1 4 9 12-124 0 1-8-4-4-3-8 1-4zM2088 1760l4-1 5 5-3 4-8 0-2-4z"/>
<path fill="#72D4C3" d="M452 432l2476 0 0 1214-60-22-12-3-18-9-14-4-8-5-20-7-8-1-32-16-12-1-16-7-8-2-32-15-4 1-8-2-4 2-4-3-8 0-4-2-4 3-1-5-3-1-5 5 6 4-5 6-3-2-1-7-1 7-7 11-4-3 4-4-3-8 2-12-6-8-5-3-4 0-4 3-9-8-11 0 0-4-4 4-4 0-4 3-4-4-4 7-3-2-1-4-4-2-8 0-8 3-12-4-12 1-12 7-6 7-2 15-4 0-6 5-1 4 2 8-3 3-4-4-4-1-4 3-4-1-8 5-4 11-12-2-4 4-3-6-6-4 3-8-6-4-8 2-3-2-1-4-4-1-4-4-4-7 0-5-4 2-4-5-4 0-4 2-12-10-4-2-4 2-8-6-8 7-2-1-2-4-4 3-2-3-6-1-4-4-12-4-8-7-24 4-3 4-1 8-8 7-4-4-4 7-4-1-3 3-1 5-4-9-4-1-8 5-5 8 1 4-5 4 1 12-2 4-5 4 1 4-10 5-4-3-8 4-2 10 1 8-15 9-4-5-16 10-4-1-2 7-6 2-5-6 1-5-4-3-7 8-9 3-7-3 5-8-6-1-2 5 1 4-11-1-3 1-1 3-12-6-8-1 0 12 4 0-12 2-6-2-2-6-12 11-2-1-2-5-4-3 1-4 6-4 0-4-7-4-4-4-4 6-5 2 5 4-8 6-4-4-4 0-5-6-11-5-4 4-4 1-4 13-9-5 2-4-6-8 0-4-3-2-8 4-4-1-4-10-16-1-6 2-2 4-4-11-12 2-4-4-8 7-3-2 1-16-2-4-3 4 2 16-18 4-5 6-4 1-5-7-7-3-4 1-4-2-8 4-4-2-4 2-8-4-8 2-4-4-4 4-13 2 6 8-9 4 2 4-2 2-4-3-8-2 0-5-9 0-3-2-8 0-4-3-14 9 6 4-4 1-8 9-4-3-4 2-8-4-4 4-8-8-4 2-8-8-6 1 1 4-15 2-4 4-7-2 0-4 3-3 4 4 4-5-12-1-4 3-4-3-4 2-4-1-12 5-8-3-8 4-20 0-2-2 3-4 0-4 8-8-5-4-8-2-8 6-6 0 6 4 4-2 6 2 0 4-6 1-4 3 4 4-1 4-3 1-16-4-4 1-4 4-8-8-12 0-8-4-2 2 4 4-2 1-4 0-12-7-4 0-4 6-12-5-20 10-8-11-8 16-8-5-4-6-4 0-4 2-4-3-8 2-8-8-4-1-4 10-9-1 1-4-7 0 1 4-6 4-3 8-5 4-4 0 0 3 4-3 1 4-1 3-3 1 2 4 9 2 8 9 5 1-1 8 10 0-2 8-4 2-3 6-6 4-6 8-13 6-4 1-4-3 0 4-22 12-8 8-1 4-9-4-8 2-2 2 1 4-3 4-10 0-2 8-4 3-4-2-7 11-7 4 2 5-5-1-1 8-862 0zM1352 1706l-11 6 7 4 4-5zM1384 1603l-1 5 5 4 0 7 4-11-1-4-3-3zM1396 1589l-4 3 3 4 1 5 2-1-2-4 4-4zM1420 1615l-8 5 4 1 8-5zM1760 1597l-4 7 4 4 4-4zM2084 1611l-4 4-6 1 6 8 6-12zM2164 1607l-2 1 2 6 8 0 0-3zM2181 1628l3-4 2 4-4 4 0 4-2 1-5-5 1-3zM2077 1636l3-2 4 1 6 9-6 0-2-4zM1915 1744l4 0 5 3 32-1 16 5 4 2 6 7-1 8-96 0 0-4-4-8 7-7 12-3 8 3z"/>
<path fill="#52BFB5" d="M452 432l2476 0 0 1210-72-25-40-18-19-7-6 0-31-15-12-2-32-14-8-5-20-9-4-2-4 2-12-5-4-3-8 0-16-3-44-19-12 1-4-4-12 0-8-2-12 4-8-5-10 1-10-8-4 12-16 8-8 10-4-1-4 7-6 4-2 6-4 1-4 4-5-3 3-4-2-5-3 1 2 4-8 0 1-6 4 1 1-3-13-4 2-4-2-9-4 2-4-2-11 9 0 4 3 2 4-2 5 4-13 9-6-21-6-6-8 3-3-1 5-4-6-6-4 1-12-2-2 3 3 8-1 1-8-3-4-4-8 2-4-3-8 3-12-17-4 0-4-4-8-2-8 1-5-2 2-8-5-2-8 4-4 12-8 0-4 5-8-3-8 11-8-3-8 9-4-2-8 4-2 5-6 1-7 3-3 8-2 2-8-1-16 2-4 4-4-5-4 2-5 4 5 4-1 4 2 4-9 8 0 4-4 0-4 2-8 12-8 1-4 3-7 2-5 5-8-5-3-8 3-8-4-1-4 2 1-5-1-2-4 2-12-7-12-2 0 5-8 6-3-6 4-4-1-3-4 0-8 5-1-2 3-4-8 0-6-6-10 2 2 8-4 1-4-8-4 1-8-3-4 2-1-1 2-4-5-1-12 3-4-2 1-4-2-8-3-4-8 13-8-1-4-3-6 3-2 13-4 1-2-6-2-1-3 1 1 12-6 4-4-7-4 0-4-3-8-1-4-5-4 3-4-2-4 2-1 5-15 2-3 2-1 4-4-4 1-8-6-4-2-8-5-1-2 1 4 4-6 1-4 7 0 4-4 2-4-2-4 3-4-2-11 3 3 4-4 5-8 0-12-9-4-5-8-1-4 1-3 5-7 4-1 4-5 3-8-8-8 2-2-1 4-4-2-2-12 8-7-2 3-4-4 0-1 8-3 7-16-1-8-5-8 1-4 7-8 0-4-4-8 3 0 4-4 3-5-3 0-4-3-5-8 1 5 4-5 2-8-9-12-2-8-11-4 3-8 1-4 3-8-4-4 4-4 0-4-3-5 4 1 6-4-2-4 4-1 0 1-4-8-5-2 5 1 4-3 2-4-8-12-4-12 3-4-3-4 9-4 0-3 5 8 4-1 4-4 3-8-6-8 0-8-7-2 2 3 4-6 0-7 6-4-4-4 4-8 2-16-7-8 1-8-4-4 4-4 0-4 4-4-3 1 5-5 4-12-3-4 1-4-1-8 4-4-9-4 0-2-8-2-1-12 4-8-8-4 4-4-4-4 0-4 2-4-3-4 0-4 2-3 4-1 8 4 3 4-1 4 2 1 28 5 4-3 4 4 4-5 4 1 4-6 12-1 2-3-2 0-4-2 0-15 20-2 8 1 4-7 6-8 2-1 4-7 4-5 12-3 3-5 1 1 8-4 3-5 9-11 8-8 3-6 13-1 8-829 0zM1356 1580l-2 4 2 2 4 0 2-2 0-4zM1408 1572l-5 4 5 4 4-4zM2023 1560l9 4 4-3 6 7-5 8-13 6-9-10 0-4zM1583 1576l3 0-3 8-7 2 0-7zM1416 1656l7 4 0 4-4 4 5 4-3 8-5 2-1-2 3-4-1-4-7-4zM1901 1756l7 1 8-5 8 5 7-1 5 7 8-6 4 2 4-3 8-1 9 5 4 8-78 0-2-8 3-3z"/>
<path fill="#B7FFC1" d="M452 432l2476 0 0 1207-68-24-12-7-64-23-100-44-16-6-22-3-6-4-28-8-16-7-8 0-8-6-16-3-3-4-5 2-8-5-4-6-4 3-6-2-6-11-7 3 1 4-2 2-8-3-12 4-1 1 3 4-7 4 2 4-13 14-2-6-6-8-12 8-3-4 3-4-2-8-10-5-1 5-7 2-8-2-4 1-2-5 3-4-1-4-8 2-4 5-12-4-4 2-4-1-8 9-8 0-8 7-4 1-16-7-4 2-4-3-12-18-8-5-14-2-2-2-20 3-4 5-12 1-8 10-8 0-8 5-4-1-12 15-9 4-4 0 0-4-3-3-4 3-7 0 3-1 1-3-1-4-4-4-4 5-7 3-1 3-4 0 1 5-5 2-3 6-5 3-12-11-7 4 9 4-9 4 1 4 4 4-2 2-4-4-4 0-3 6-6 4-3 8-4 2-4-4-9-2 3-8-6-8-4 3-12-4-4 3-4 0-3-2-2-8-7-4-4-6-12 11-8 3-4 0-4 4-4-2-4 4-10-10-1-4-13-12-6 0-2 4 1 4-5 1-4 5-4 1-4-2-12 3-6-4 2-4-5-4 2-4 0-4-5-7-16 12-4 6-5-3 3-4-2-2-8 8-4-2-2-4 11-4-9-7-4 10-4-5-8-3-1 5-3 3-8 0-4-5-4 0-4 3-8 1-12 0-8 9-6-3 1-4-3-2-4-2-8 3-8-4-13 5 0 4-3 2-12 0-8 3-8-1-12 13-4-9-4-1-8 3-2-2-4 0-3 4 4 16-3 7-8-3 3-8-3-4-4 3-4-1-8 0-7 6-5 2-8-2-4 11-11 9 1 4-2 4-9-8 1-3 8-1-12-6-4 5-8 1 4-3-1-5-7-6-8 4-12 3-12-9-4 2-4-4-8 0-4 3-4-3-12 9-8-2-4 6-4 2-4 7-12-1-4-4-2 5-10 2-4-2-16 3-12-6-4 1-4 2 0 4-2 4 5 4 1 4-8 3-8-5-8 3-5-1-1-4-6-5-5 1 2 4-1 2-4-1-3-1-1-4-8-1-4-3-1 4-11 6-8 1-8-2-4 3-4 1 4-5-4-9-8 3-18-2-4-4 4-4-6-5-6 9 4 4-6 8 1 4-1 1-12-6-8 2-4-10-8 1-4-6-4-2-12 9-12-3 1 18 3 1 6 11 10 12 12 4 0 5 4-1 4 1 2 3-1 12 6 8-12 8-2 4 2 4-3 7-4-2-4 3 1 4-5 6-6 14-14 12-4 1-11 15-2 8-9 8-2 10-17 14-3 8-6 8 0 4-818 0zM1288 1556l3 4 1 9 3-13-3-3zM1384 1556l-6 8 2 2 8-6zM1456 1552l-10 4 2 3 4-1 4 3zM1680 1535l-3 1 7 5 5-1zM2132 1512l-4 4 0 4 4 3 8 1-1-8-3-3zM1925 1512l7-4 4 3 2 13-1 4-5 2-6-2-2-4 2-4-4-4zM2159 1540l5-2 4 2 1 4-5 4zM1345 1564l3-2 4 2-1 4-3 2-4-1-1-1z"/>
<path fill="#91D49A" d="M452 432l2476 0 0 1205-16-5-112-45-12-3-108-49-12-4-20-4-36-13-12-6-16-4-20-10-11-2-5-4-12-18-1-6 4-8-3-8-4 8-11 4-1 9-13-9-2-8 2-4-7-3-6 3 5 8-3 5-4-6-20 7-4-1-4 4-4-4-4 0-8 5-10-2 3-4-1-2-4 3-8-3-8 1-4-2-4 2-4-1-12 2-4-2-6 10 1 4-3 4-8 2-4 4-12-2-4-6-4 6-2-4 2-8-8-8-12-4-9 0-3-4 2-8-1-4-5-3-8 2-12-1 0 2-12 6-4 6-9 4 3 4-6 7-8-7-3 4 4 4 0 4-5 5-8 0-12 9-4-7-4-1-4 6-4-2-8 4-1-2-11-2-4-5-8 3 0 4-4 2-12-12-4 2 4 8-4 5-4-3-4 4-7-2 3-4-4-7-4 7-8 5-4-6-12-3 0-5-4 1 4-8 4 6 4-4 2 6 6 2 4-1 2-1 2-8-3-4-5-1-2 1 2 4-4 0-8-4-4 3-4 0-4 2-6-5-2-9-4 2-4-2-2 1 1 4 3 4-2 1-8-1-4 2-7 6-1 6-4 1-8-5-8 0-8 3-4 0-8 9-4-4-4 3-3-1 2-4-3-3-8 3 0-4-4-1-12-11-8 5-16-3-4 2-4-6-4 6-4-1-4 3-4 8-4-1-4 6-4 2-7-5 1-8-7-8-3-1-16 4-4 4-8-2-4-6-12 6-8-4-2 7 6 4 4-2 4 2-1 4-7 0-12-5-8 4-4-3-16 9-4-3-4 5-12-4-16 9-4-1-10 13-3 0-3-5-12 4-10-7-2-4-8 8-12-8-4 4-8 2-5 6-4 8-11 8-8-2-2-2-6 0 3 4-2 4-9-4-4 0-8 4-4 5-4 0-12-15-12 1-1-3 0-4-7-2-8 1-4-1-8 6 5 4-4 4-5 1-8 6-4-3-4 1-4 5-8-9-8 1-12 6-8-1-4 2-4-2-12 2-4 2-4-2-8 2-4-1-4 2-8-5-3 5-9 1-8 7-12-5-4 5-8-5-4 1-8-2 0 8-6-2-2 4-2-4-10-4-12 0-4-9-4 5-7 0-1-5-4 4-12 3-4 9-2-3 1-4-5-4 1-4-3-1-12 3-8-1-4 2-1-3-3-2-12-1-8 2-4 5-20-8-1 8-3 3-2-3-6-3-4 5-4 0-1 2 3 4-8 0-10-4-6 0-6 4 0 4 6 4-3 4 15 8 0 4 10 8 0 5 12 1 8-2 8 7 4 0 8 8 4 0 7 5 1 4 4 3 20 13 3 12-12 24-11 15-4 13-8 0-2 4-5 4-1 5-8 7-6 16-12 8-8 16-8 4-11 24-807 0zM820 1587l0 7 4 1 2-3-1-4zM840 1475l-4 2-2 3 0 4 2 1 4 0 7-9-3-3zM844 1438l-3 6 3 5 8 1 2-2-8-4 0-4zM848 1413l-4 3 8 8 3-4-1-4-2-4zM880 1377l-8 8-4-3-2 2 2 4-4 3-8-2-5 7 5 8-1 4 1 3 4 1 0 8 5 4-7 4 2 3 4-1 4 4 8-1 0-9 4-2 5 2 1-4-4-4-2-6-4-1-8-9 1-4 3-2 4 1-4 5 12 8 2-8-4-8 3-4 0-4zM900 1296l-4 7-4-2-2 3 2 2 4-1 4 5 12-6 3-4-11-5zM1228 1518l-2 6 6 5 4-1 0-8zM1712 1503l-4 1 0 10 4-3 1-3 1-4zM2540 1439l-4 3 0 6 4-1 4-3zM844 1519l0 4 7 1-1 8 2 3 3-3 1-8-4-2-4-5zM852 1460l-1 4 5 2 2-2-2-3zM936 1321l-2 3 2 4 5 0 1-4-2-3zM1240 1531l-5 9 5 5 2-1 0-12zM2083 1480l5-4 3 4-3 6zM1312 1560l3 4-3 3-5-3z"/>
<path fill="#6AA871" d="M452 432l2476 0 0 1202-32-11-52-23-8-1-24-11-24-7-64-30-24-9-12-8-12-2-8-5-16-4-19-7-9-1-13-7-35-12-16-8-14-12-3-16 1-5 9-15 3-12-2-4-8-8 3-4-9-4-4 0-4 4-8 2-12 1-2-3-14-4-4 7-4-4-4 3-4-3-4 1-4 6-8 6-4 2-4-2-4 7-4-7-16-1 0 5-4 4 0 4-4 3-4-4-4 5-12-3-1 3-11 2-6 6-6 0 0 8-4-4-4 1-12-6-4 2-4-5 2-4-2-2-8-1-4 2-4-5-9-2 2-4-5 2-4-8-4-3-4 3-20-3-8 1 1 4-5 0-8 12-4-2-4 3-2-1-1-4-5-4-2 8 3 4-5 3-12-7-2 4 4 4-4 8 0 8-14-2-8 6-8-4-12 1-4 2-3-3 0-4-5-7-8 4 0-6-8 0-4 2-8 2-4 4-8-3-4-4-4 0-4-2-8 4-13-6 3-4-2-5-12 1-4 4-4-3-16 11-6 0-6 8-8 0-4-4-8-2-2 2 8 4-6 6-12-2-4-8-4 2-28-6-4-5-3 1 1 4-2 2-8-2-8-6-4 1-16 14-4-7-4 4-4-4-4 0-20-6-3 0-1 7-4 1-7-4-2-4 5-5 4 1-1-4 4-4-3-5-4 7-9 6-1 8-2 2-8 0-4-4-16 11-4-3-8 4-8 1-4 3-4-2-6 8-10 6-4-2-6 4-6 1-4-1-8 5-9-1 5-1 2-3-2-8-5 4-3 5-4-6-4 4-8-2-7 3-1 5-8 1-2-2 1-4-3-1-4 4-6 1-2 6-4-3-4-1-4 5-20 2-8 5-8-7-4 3-4-4-8 0-8 3-4 11-4 1-4-3-3-6 8-8-9 1-4-6-12 4-6 5 0 4-6 1-4 2-8-1-2 2-1 8 3 4-12 0-8-4-3 4-5 0-3 4-17 2-4-2-1 4-3 1-16-5-12 4-4 3-4-4-4-1-4 4-16-8-4 3-8-3-20 4-4 0-4-3-8 2-8-4-3 3 7 4-4 6-3-2-1-7-4-1-16 1-4 3-8-6-12-3-8 5-8-2-4 3-4-1-8 0-4 3-4-1-8 4-12-1-4-2-8 1-1-12-3-4-4 2-4-3-4 4-9 1 2 4-1 1-8 0-4 3-4-2-5 6 0 4-7 5-13-9 2-4-5-12-4-5-8-1-6-6 4-4 2-8 4-4-8-1-2 1 5 4-7 2-9 6 6 4-9 2-8 7-1-5-16 0 5 4-1 4 1 2 12 2 5-4 0 4 7 4 1 4-3 4 2 8 4 4-2 4 8 4-5 20 8 4 0 4-5 8-8 2-6-6 0-4-2-3-4-1 3 8-3 3-2 9-5 8 7 16 8-4 0 4 4 3 8 2 2 7-6 7-3-3 1-4-2-1-2 1-1 4 2 4 9 3 1 5-7 4 0 8-2 2-8-1-6 3 3 8-5 3-4-7 1-4-5-2-2 2 3 8-2 4 1 3 4-2 0 3 7 4-2 4 6 4 3 4 0 4-2 2-4-3-13-3-3-4-2 4 1 4 8 8 3 8 5 4-2 4-5 4-4-1-12 5-4-1-6 13 2 5 4-5-3-4 15 1 4-5 8-2 14 6 2 8-1 4 3 4-6 4-2-4-6-3-12-2-4-4-8 0-2 1 4 8-6 3-8-8-3 1-1 13-1-9-3-2-12 11-1 3 1 4-3 4 2 8-9 0-2-8-1 4-3 2-3-2-3-4-1-8-1-1-2 1 1 8-2 4 2 4-671 0zM880 1276l-5 4 3 4-6-2-3 2 1 4-8 8 2 4 8 2 4 5 8 0 12 7 4 6 4 1 8 0 8-7 4 2 4-2 0 6-10 4 2 2 12 6 12-1 4 3 4-5 3 7-3 4 4 1 12-11 1-2-4-12 5-4-6-1 0 5-4 2-4 1-4-2-8-9 6-8-2-2-8 1-4 5-8-1-4-3 3-4-1-4-2-2-8-1 1-5-1-1-12 3-4-4-16 10 0-3 4-5zM1184 1648l-8 11-4-3-9 0-3 4-3 8 1 4-2 2-8-2-1 4 6 8-2 4 5 3 4-1 8 10-3 4 3 4 4 2 5-10-5-4-4-8 6-4 2-4-1-8-3-8 4-4 5 0 0-4 5-4zM1268 1499l-2 5 2 3 9-3-5 0zM1212 1632l-4 0-3 4 3 5 5-1zM848 1274l0 6 5 4 1 4 6 4 1-4-2-4 5 0 3-4-2-4-4 0-5 3zM852 1355l-4 9 2 4-3 12-3 3-4 13 3 4-4 4 4 4-8 12 0 4 5 8-4 8 5 24-9 8-3 8 1 16-2 8 0 8 1 16 4 20-3 4 0 8-7 8 0 4-12 12 0 8 5 12-3 4 1 4-6 8 0 8-4 0-5 12 1 18 4 1 8-12 8 2 3-1 1-4-2-4 3-8 0-4 5-4 8-24-3-4 9-11 0-5 4-4 5 0-2-4 5-1 8-7 2-8 3-4-6-8 4-4-1-8 2-2 4 2 1-4 7-5 3 1-1 4 2 1 1-9-5-8 7-8 0-4 6 0-1-4 3-4 2-8 7-8 4 2 2-2-1-8 7-1 4-7 8 1 4-5 0-7-4 1-1-2 2-4-6-8 1-3 4-2 4 3 1-2-1-3-4-2-3-7 3-2 4 1 3-3-7-6-4 1-4-1-2 6 3 4-5 9-7-5-1-5 3-3-3-4-8 6-1-2 13-11 8 1 5-2-1-5-4-2-4 1-12-13-4 1-3-2-6-12-8-4-1-4-10-5-4-5zM879 1452l1-1 8 3 2 2-2 5-4 0zM1288 1604l8-3 10 3 7 8-1 12 4 3 4-9 7 6-3 4 4 8 8-12 3 4-1 4-3 4 4 4-2 4 2 4-3 2-8-3-4 5-5 0-2 4 3 3 4-1 1 2-1 2-4 0-2 6-7 12-11 7-9-3-3-3-6-1-3-8 2-4-2-4 1-4 4-3 4 1 4-2-4-8 3-4 17-4 1-4-4-4 0-4-5-4 6-4-5-4 4-4 1-4-2-2-8 9-7-7zM1312 1632l4 5 5-5zM1274 1624l2-2 4 2 1 4-9 3-2-3zM1218 1664l2-3 3 3 1 4-4-1zM1251 1672l5-1 2 5-6 4 1-4zM1264 1684l-1 8-7 2-2-2 2-3zM1240 1704l12 6 4-2 2 4 7 8 0 4 4 4 1 4-5 4-1 6-4-3-4 0-4 2-5-1 5-2 2-10-2-4-4-1-7-7 1-4-9-4zM1272 1704l4-3 4 5 4 0 1 2-5 3-8 10-1-1zM1169 1748l3-3 4 2 2 5-2 3-4-3-1 4 17 11 6-3 2-6 20 0 4-5 3 3-1 4 3 8-20 0-5-5-3 1 1 4-25 0-3-8-8-4 2-3 8-1zM1239 1748l9 1 6 3 1 4-3 3-12 3-4-10zM1230 1764l2-2 8 6-9 0z"/>
<path fill="#3F7D40" d="M452 432l2476 0 0 1199-68-26-16-8-20-6-12-6-36-12-8-6-68-29-8-6-16-4-32-14-12-1-20-10-8-1-8-5-8-2-8-7-4-2-4 1-16-10-4-9-1-12 9-14 4-14-1-16 5-16-1-4 10-12-1-12-8-8-3 8-17 12-4-4-4 5-8 0-4 3-8-2-4 8-8-7-1 9-7 6-4-3-4 0-4-3-8-2-8 4-4 6-13 0-3 1-4 6-8-1-4 5-4-1-4-5-4 2-4-2-4 8-4 3-8 0-4 4 2 4-6 2-4 7-16-10-1 1 1 4-10-4-10-2-8-7-8 4-4-1-2-2 3-4-5-7-12-5-4 1-4-4-8 2-4 5-4-3-4 5-8-2-4-3-8-2-12 9-6-4-2-4-12 0-1 4 5-1 0 1-2 8-2 2-4 0-8 5-4-2-4 2-4-1-4-2 0-4-4-1-4-4-4 3-4-3-2 1 1 12 3 4-2 1-10-5 2-4-1-4-7-8-4 0-2 4 1 4-3 4-4-2-4 3-3-1 4-4-5-2-4 2-2 4 2 4-1 4-7 6-8-14-4 10-4-7-4 0-8 6-5-1 1-6 4 4 1-2-3-4 1-4-3-2-4 8-6-2-2-4-4 1-8-2-12 5-4 12-8 2-8 4-8-6-8-3-4 4-5-1-3 5-4 0-4-2-4 6-8 1-3-2 0-4-5-5-4 4-13-3 7-8-6 0-4-3-12-2 0 5-4 2-6-2-6-7-3 3 5 4 1 4 0 4-3 1-6-5 1-4-7-1-16-11-8-1-2 1-2 4-4 2-8 0-8 4-4-7-4 0-8 5-2 0-1-8-5 2-4-3-2 5 5 8-2 4 7 8-12 3-4-1-2 2 3 4-12 8-9 1-2-1-2-6-4 7-12 1-4-3-8 1 1 8-5 6-6-2-2-5-4-2-4 3-4-2-8 3-4-1 4-4 0-4-4 0-4-3-2 3 2 4-4 1-4-2-4 9-4-1-8 6-4-5-8 9-4 2-8-1-4 3-3-5-9-2-4-6-8 0-4 2-8-8-6 2-6 14-1-6-7-4 1 8-9-2-4 10-1-4-3-3-4 3-4-7-4-2-4 1-4-4-4 8-4 1-4-3-4 2 4 1 2 7-3 4 2 4-5 3-8-2-8 4-8-4-4 6-4 1-4-3-12 7-4 5-8-2-4 1-4-4-16 9-12-1-6-4-2-4-4 3-12 3-8-3-4 2-12-3-12-7-8 9-8-6-4 4-4 0-12 0-4-2-8 2-16-1-12 6-8 0-4 4-8-3 5-4 2-4-3-2-8 4-12 0-4-1-4 0-13-5-19-1-4 6-4 0-3-1 3-4 5-4-1-3-4 1-4-3-4 4-8-5-2 2 1 4-3 5-4-1-8-8-4 4-7 0-2-4-2-8 1-4 4-4 1-8-3-2-4 2-4 6-4-3-4 3-8-2-8 9-8-8-4 9-4-3-4 1-5 4-2 4-5 3-4-4-9 1-4 8 5 0 1 8 3 5 14 11 19 4 0 8 4 4 2 8-3 8 1 4-5 6-8 4 0 10-8 12 0 16-8 0-3 8-2 8 2 4-2 4 1 4-4 0-11 20-10 4-4 8 2 8-9 4-3 4 1 12-2 2-4-3-1 1 3 4 2 8 5 4-10 4 3 4-2 5-4 3 1 4-9 12 2 4-6 4-1 4-5 4-1 8 2 8-7 4-656 0zM812 1138l-1 2 5 7 3-3zM820 1152l8 14 4 3 1-5-1-2-8-11zM856 1243l-4 4-4 0-12 17-3 8 8 8-1 4 13 8-2 4 2 4 3 3 4-1 4 7 4 2 12 3 5-2 15 14 8 3 4-1 12 9 8 3 4-3 8 1 3 6 5 4 15-8 1-5 8-3-2-4 6-9 4 1 6-12-5-8-5-4-8 3-4-4-8 1-8-5-8 2-8-15-4 2-4-2-4 0-3-2-1-5-8 0-4-3 2-4-2-2-8 2-8 7-3-3-5-1-4-7-12-9-4 0-6-3 2-1 0-4zM916 1255l-3 9 3 2 7-6zM928 1263l0 5 4 3 2-3zM996 1316l-11 12 3 5 12-3 4 1 8-7 0-5-8-2-4-3zM1136 1435l-3 5 3 5 4-5zM1436 1480l-2 8 2 2 5-6zM1608 1454l-4 6 4 2 3-6zM2064 1399l-4 1-1 4 4 4-7 4 2 4 6 0 4 3 3-11-6-4zM2084 1396l0 4 5 4 3 2 4-2-4-6zM2116 1394l0 7 4 1 2-2zM848 1342l-4 6 0 12-5 4 4 8-6 24 1 4-5 12 1 4-3 20 2 8 4 4-5 8-2 12-4 8-1 20-2 4 2 20-3 4 4 8 0 8-4 12-4 4 0 4 2 4-12 20-1 8 4 12-7 12-9 24 2 8-5 4 3 8-6 4-1 9 8 4 4-6 4 1 8-4 8-9 5-3 5-8-2-10 4 3 5-13 4-4 0-8 3-4 1-8 4-4 4-12-1-4 12-5 1-3-2-4 5-4 3-8 7-12-2-12 4-1 4 3 4-2 3-16 6-8-2-8 5-1 1-3 7-7-1-5 2-4 7-3 6-5 2-5 4-2 2-5 7-4 1-8-2-8 5-4-3-8 3-4-2-4 7-8-2-15-4 1-2-2 0-4-6-4 3-4-8-8-14-8-9-8-12-1-4-3-16-8 0-5-8-7-8 5zM796 1687l-4 1 0 4 6 0 1-4zM2168 1420l4-4 3 4-5 4 2 3 4 1 4-2 2 2-2 2-8-1-4 4-2-1-3-4z"/>
<path fill="#CCFF00" d="M452 432l2476 0 0 1196-16-5-20-10-16-4-20-10-20-7-24-11-32-11-28-14-20-6-48-25-5-1-35-16-8 0-8-7-4 1-8-6-8 1-4-6-5 1-7-3-4-4-24-10-3-3-2-12 13-20-2-4 2-4-2-16 5-8 0-8 5-4 3-16 6-8-2-4 1-9 4-4 10-3 0-8-6-8-6 4-2 4-8 4 0-4 7-4-3-7-4 10 0-3-4-3-4 0-20 15-1 4-3 2-4 1-8-5-8 1-4-7-4 1-16 8-4 6-8 5-8 0-8 4-3 4 1 4-6 6-16-1-8 4-5-1-9 4-10 2-4-2-3 4-9 2-8 8-4-6 0-4 0 4-4 1-3-1 1-4-6-5-4 2-6-1 1-4-7-5-8-13-4 2-1 4-3 2-2-2 5-4-3-4 2-4-6-5-12 0-4 4-4-1-4 3-2-1 2-4-4-4-7 4 2 4-7 2-8-11-4 1-4 6-4-3-4-7-12-1-4 5 3 4 8 4-7 7-17-19-7-3-4 8-4-1-8 4-8-1-7 9 4 4-5 5-7-1 4-4 1-4-2-2-8 2 3 4 1 4-12 5-4-1-4 1-4-3-5 2 1-8-4-4-5 0-1 4-6 5-4-1-8 3-1-3 4-4-5-4-1-4-3 0-2 3-4-1-4-6-4-1-4 1-16 10-8-5-4 0-2 7-6 3-8-4-4 2-8-2-8 2-4 6-4-5-4 3-12 2-4-2-7 7-1 5-4-4-4 1-4-3-1 5-3 2-4-2-7-4-2-4-7-5-8-3-6 4 2 3 4-3 11 8-3 4-8 0-1 4 2 4-5 1-4-2-4 0-3-3 2-4-8-4-3-6-8 3-8-1-2 4-2 1-8-9-8-4-5 8 1 5 3-5 2 0 0 8-5 2-1 6-3 2-16-11-4 9-4 1-8-1-4-5-16 0-4 1 1-4 3-4-5-8-3-2-4 5-4-6-8-5-1 4 5 1 4 7 10 0-2 8-12-4-5 8 2 4-1 1-5-1-3-5-1 5 2 4-9 14-4 1-4-7-8-2 0 3 4 0 2 3-10 7-6-3-2-3-12 0-4 6-4-1-8 8-4 1-4-3 5-4-4-4 4-8-2-4-3-1-4 6-2-1 1-8-3-3-8 5-12-9-5 3 1 4-4 0-4 2-4-4-4 0 0 2 0 5 4-1 4 2 2 2-3 4 5 4 6-4-1-4 3-3 8-1 6 8-4 4 1 4-3 4-4-2-8 2-4 14-2-2 1-4-5-4-1-4-9-8 0-8-1 4-3 0-1-8-3-7-4 2-7-3-1-2-6 6 3 4 3 10 3 2-1 4-2 1-5-1 5 9 1 7-5 4-4-6-4 2-16-8-1 8 9 7 5 1-5 8-5 4-3 1-8-8-7-1 3-4-8-6 2 6-2 3-4-5-4 7-16-6-8 7-4-1 2-9-6-4 4-4-4-4-6 8-3 8 1 4-4 3-4 0-4 3-16-2-1 4 3 4-4 4 1 4 5 10 4-9 4 1 1 2-4 4 0 4-5 0-8 5-4 0-5 3-3 0-8-10-8-3-2-3 3-4-9-9-4 1 1 4-1 4-2-4-6 0-4 8-8-6-8 9-4 8-9 1-3-9-5 9 1 8-12-11-3-1-1-4-4-4-3 0-1 5-16-15 2 10-18 1-8 5-3-2-1-5-9 5 5 4-4 2-3 6-9 3-4-6-4 6-4-4-20 1-4-4-4 2-2-2-2-6-4 9-4-2-4 3-5-16-3-1-3 1 1 4 3 4-1 1-4 0-1-9-3-5-4 0-4 8-4-2-4 4-20-8-4 1-5-10-7-8-4-2-4 2-1-4-11-1-1 1 1 5-4 0-4 3-4-2-4 7-8-3-12 0-3 2 0 8-9 1-1-1 1-3 7-9-3-2-8 1-4 6-4-5 2-4-4-4-5 0 3 4 0 8 4 4-8 13-8-1 4 0 3-4-2-4 7-8-10-4 1-4-7-10-2 2-1 8 5 4-2 2-6-2-4-8 4-4-1-4 2-4 0-4-3-4-4-2-4 0-14 10-2 4-4-2-7 2 7 4-4 5-4 0-8-3-4 1-4 3 0 3 4-2 3 5 5 1 4 3 12-2 1 2-4 8 11 3 4 10 8 5 8 0 6 2 0 4 4 4-2 4 8 6 8 4 4 4 4-2 16 13 9 3-5 6-2 10-6 8-6 12 0 8-3 8 1 8-12 6-4-1-3 11 3 4-6 12-2 12-4 8-11 8-5 11-3 1 3 4-8 5 0 7-4 6 3 10-5 8 0 12-8 12-3 8-10 12-1 4-8 8-1 4 3 4-2 4-325 0 1-4-4-4 6-12-6-7-6 7-2 8 3 4 2 8-317 0zM812 1132l-4 1 0 3 8 12 4 0 1-4-8-8zM860 1231l-8 6-4 0-4-2-8 2-3 3 6 4 0 4-4 8-5 4 1 4-3 8 4 8 16 22 11 6 5 6 12 5 4 0 4 4 8 3 4 2 0 4 4 2 8 1 7 5 0 4 5-2 4 3 4-2 2 1 2 7 7-3 1-4 8 9 12 0 4 4 4 0 4-3 12 5 4-3 0-4 4-4 4 6 8-4 4-6 0-8 2-4 11-8 3-4-8-1-5-7 7-4-6-7-8-1 0 5 4 3-4 1-8-3-4-10-5-4 0-4-3-5-8 6-4-3-8 1-4-2-1-5 1-4-8-1-4-4-3 1-1 5-5-5 1-8-4-3 0-5-6-4 7-4-4-4-1-4-11 4 6 4-3 1-12-2-4 3-8-3-4 1 7 8-3 1-4-3-8 1-4 4-2-3 2-12-4-3-8 5-5-6-2-8zM888 1224l-4 8-4-2-5 2 5 2 4 5 6-7zM904 1198l-1 2 1 8 4 5 3-5-5-4 0-4zM1072 1444l-1 8 5-1 2-3-2-3zM1088 1421l-9 7 1 3 3 1-3 2-1 6 4 8-1 4 2 3 4-3 1-12 12-4 1-4-1-8-9 2zM1240 1337l-3 3 0 4 3 2 2-2zM1468 1456l-7 4-1 3-4-1-4-6-4 1-4 7 0 8 0-4 8-6 4 8 4-5 8 1 3-2 1-4zM1792 1374l-2 2-2 12 8 11 3-7-2-8 3-3 4-1zM1796 1364l-2 0 2 7 8 3 5-6-5-5zM2020 1376l-5 4 5 3 1-3zM2592 1323l-5 5 1 3 4 0 1-3zM820 1148l-1 4 8 16 5 2 2-6-10-15zM848 1336l-6 4-3 16-5 8 4 8 0 16-6 17-2 7 2 8-4 16 0 8 4 4-3 4-3 8-1 12-2 4-3 16 0 20 1 4-3 8 4 16-2 8-8 8-1 4 2 4-9 23 0 5 3 8-1 4-7 8-3 16-4 4-2 4 2 9-1 3-4 4 1 4-7 8 7 16-3 8 1 4-6 4-2 8 2 3 8 2 9-5-1-3-4-1 12-4 3-12-2-4 10-4 1-5 8-10 4 0 1 7 3 2 16-10-4-6-6-2 3-4-1-7-2-1 9-16-3-4 4-10 4 0 0-6 6-4-2-4 8-10 4-2-1-4 3-4 0-4 8-8 1-4 10-12 1-8 7-4-4-4 1-4 8-8-2-4 8-16 11-8 1-10 8-5 2-5 8-8 2-5 8-3-4 0-2-4 3-4 2-8-2-8 7-12-1-4 12-8 0-4-7-8-4 0 2-4-1-4-9-11-8-2-4 1-4-2-4-7-8 0-12-13-12 4-8-5-8-9-12-9zM980 1466l-4 2 4 10 3-2-1-8zM984 1363l-3 1 3 5 4-5zM1004 1360l-4 1-3 3 3 2 4-2zM1772 1398l-4 2 11 8 1 3 9-7-5-6-8-2zM1808 1382l-4 2-2 4 5 4 1 5 8 3 10-16-6-3-4 5-4 0zM2339 1364l5 0 4 4-4 3-4-3zM2026 1400l2-1 2 1-2 11zM1812 1420l4-3 4 0 14 3-2 7-8-5-4 3-4-2-4 3zM1738 1428l2-1 5 1-1 6-3 2-5 0-3-4zM1746 1440l2-4 1 4-1 8-4 2-4-2-8 1 0-2 8 0 4-1 2-2zM1725 1452l3-2 3 2-7 10-8 3-10-5 2-6 8 1zM1140 1468l0-4 4 1 5 3-1 4-4 1zM1413 1480l3-2 5 6-8 0z"/>
<path fill="#A6EE03" d="M452 432l2476 0 0 1193-24-9-12-7-8-1-40-20-8 0-8-5-12-3-31-12-13-9-12-4-8-6-20-3-27-14-9-9-4 0-33-15-7-14-4 5-8-1-8-10-8-3-8 4-4-2-5-3 3-4 0-8-7-4-3-1-2 1-2 9-8-3-2-2 2-4-1-4 5-2 1-2-3-4 2-4 0-4-4-6-4-2-4-8 3-8-1-4 1-8-3-4 4-8 7-8 0-8 7-16 11-12 0-4 4-4-2-8 5-4 0-4 1-4 1-12-2-6-3-2 4-4-2-4 2-4-1-3-4 0-8-9-10 4-9 8-1 5-9 3-3 6-8 1-4 8-8-2-3 3-1 8-4 5-4-1 7-8-3-9-24 19-8 2-8 5-6-1-10 14-4 1-4-5 0 2-8 1-4 3-4-2-4 5-4 0-4-4-4 1-4 5-2-1 0-4 2-4-4-1-4 11-2-6-10-5-3 25-5 2-4 0-4-6-8-5-8-2-3 3-1 9-4 0-8-5 5-4-1-4-4-4 3-4-3-3-4 4-10-5 0-4-2-2-4 0-4 3-8-8-8-3-12-3-4 2-4-5 0-4-4 0 4 4-2 4-10 4 0 2 0-2-12-2-8 3-4-2-12 0-16 3-28-7-4 2-5-1 2 4-5 5-10-1-2-4-4-1-12 0-8 4-8 0-8 3-8-1-4 4-12-5-3-4-5 0-4 6-12 4-8-4-12-2-8 8-4-2-16 5-4-11-12-1-4-3-2 4-10 3-4 6-2-1-2-8-4-2-8 4-4-1-4-4-4 2-8-2-7-5-1-12-4 5-4-2-4 4-4 1 2 8-10 4-4-5-8-1-4 0-4 3-2-5-6-3-4 2-16 0-4 2-12 1-4-1-8 4-12-1-4-3-4 1-3 2 3 4-4 4-4-3-8 12-2-1 0-4-8-4-3-8-3-3-12 4-16-7-14 6 6 4-8 8-8-4-2-4 2-4-4-1-8 6-12-5-5 4 1 6-4-3-4 1-3 4 7 2 2 2-1 8-1 1-4-3-2 6 6 6 8-6 6 12-2 3-4-2-1 3-7 2-8-6 0 4 2 4-10 5-4-8-4-2-1-3 7-4-10-1-5 5-1 4 5 4 1 4-7-4-9-11-4 5-4-1-4-4-11 11-5-1-4 2-7 7-4 16-5 1-6-1 11-12-5-3-2-5 2-3 4 5 1-6-9-3-4 3-4 0-8-5-8-2-2-1 2-5 6-3-6-7-5 3 0 4-3 2-4-1-4-5-4 4 0 4 4 0 4 4 4 1 1 3-9 7-8-2-4 3 4 6 4 0 8-6 7 8 1 8-6 4 2 3 9-3-1 8 4 4-3 4 1 4-2 3-13-11-3-1-4 3-8-7-8 3-4 4-8 0-2-2 6-4 4 1 2-9 6-4-4-7-8 7-4-4-7 0-2-20-3-2-8 7-8-12-8-2-3 1-2 8 4 4-8 8-1 4 2 2 12-15 2 9 4 4-1 4 3 3 4 1-2 16-2 5-4-1-4-10-8 6 6 8 6 4 4 0 1 8-5-2-2 2 3 4-1 2-4-3-12 10-8 1-10-6 2-4-1-4-3-1-8 1-4-4-4 4 6 4-2 3-8-3-1-4-3-1-4 2-8-3-3 2-1 6-8 0-5-10 2-4-5-3-13 7 1-10 4 3 0-5 4-4 0-4-8-2-3 2 0 4 2 4-3 1-8-7-1 2 0 8-3 6-8-2-8 4 7 4 0 4-3 4-4 10-5-6 0-4 4-4-3-5-4 1-4 21-4-9-8-2-8 1-6 5 0 4-10 4-4 8-4 2-8 0-12-4-16-18-8-1-4 2-4-1-2-4 3-4-5-5-8 0-4 6-4 1-12 0-4-1-4-5-5 0-1-4 8-4-6-4-4 3-16 4-1 1 1 4-5 0-3-3-4 4-12-1 0 4-12 5-8-5-4 4-6-4-2-6-6 2-2 3-6-3-1-4-5-4-8-2-4 1-8-10-8-5-4 3-4-1-2-2 6-4-4-4-4 4-8 4-4-5-3 1 1 4-2 2-8-2-2-4-14-4-2 0-2 5-4-3-4 5-4 2-4-1-3-4-1-6-8 6 0 2 4 1 0 2-20 0-4 5-4-4-4 6 0 4 8 2 12-6 4 6 4 1 8-7-1-4 2 0-1 4 10 4-7 12-6 4 3 7 14 1 6 7 4-2 4 3 8-5 11 5 0 4 5 9 4 1 4-3 4 0 1 1-3 4 2 4 8 2 4 5 8 0 8 5 0 4 4 5 11 7 9 9 8-1 0 7 4-1 8 10-3 4-5 12-5 8-3 16-2 4-6 5-8 2 1 9-6 8 0 12-3 1-5 7 1 8-8 4-3 4 1 4-9 12 1 4-7 8 1 8-5 4 2 4-3 8 1 4-5 8 4 4-16 16 2 12-7 8-1 4-6 4-2 4-7 4 3 8-62 0 2-4-4-2-3 2 1 4-8 0 5-4 1-10-4 3-4 0-8 3 7 8-20 0-3-2-3 2-111 0-2-5-2 5-20 0-6-6 2 6-49 0-1-3-3-1 0-4-15-12 2-4-2-4 4-4-1-4 7-8-1-4 7-4 5-8-2-4 10-8-1-4 8-12 2-1 4 3 4-2 4 5 8 2 3-3-1-8 2-2 8 0 2-2-3-8 1-3 4 4 4-1 4 2-1 10-7 7-10 1 6 8 4 1 8-5 4 0 1-8-4-8 5-4-6-5-4-7-8 3-6-7-1-4 3-7 4 1 1-2 0-8-3-4 9-16-4-8 5 0 3 4 4 0-1-4 7-8 2-12-1-4 2-2 4 3 4-5 2-8-3-4 11-4-1-12 5-4-1-4 5-4-2-4 4-2 4-8 4-1 3-5-4-8 5-7 9-5 7-15 7-5 1-5 7-3-2-4 3-2 4 1 4 5 4-2 9 6-5 4-4 0 0 5 4 3-6 4 1 4 5-1 8 7 7 2 5 8 0 6 12-9-1-13 9 2 2-2 1-4-3-3-1-5-7-3-3-9 2-4-5-4-2-1-2 1-2 5-8-7-3 2 4 4-5 5-5-5-3-5-4 3-6-2-4-12 3-8 3-1 4 3 2-2-3-4 2-12 3-4 4-3 4 1 4-1 3-5-3-8-7-4-4-4 3-4-6-4 2-5 7-3 1-9 12 3 8-6 9 8-5 12 4 2 4-2 0-3 4-1-2-4 0-4 2-3 5-1-3-4 2-8 4 1 4-4 4-1-1-8-3-3-4 1-1-2 1-4 8-5 8 3 5-10-1-2-4 3-1-5-3-1-1-3 1-4-6-4 4-8-2-3-8-3-4-6-11 4-1-5-5 1 4-4-7-3-8-8-12-1-8-4 0-5-12 1-5-4 2-8-1-2-5-2-1-4 1-4-7-7-12-5-4 2-12 0-9-6-3-5 8-5 8 1 5-15-7-8-2-8-8-10-3 6 4 4-2 4 1 9-8 0-4 3 2 4-2 2-4-3-7 5 2 4-3 4-4-2-4 4-4-4-8 9-4-2-4 5-8-4-4-5-4 2 1 5-5 9-6 3 2 2 4 0 6 6-2 5-9 7 2 8-5 4 0 2 8 1 0 5-2 4 6 11 22 13 5 8-1 4 4 4-2 2-4 0-4 4-4-2-4 3-6 9-2 8 0 4-4 8-1 4 4 8 1 16-6 12-2 12 1 8-5 20 1 8-2 24-7 16 2 16-2 8 2 4-2 8 2 16-1 8-9 6 2 10-9 20 0 20-13 32-1 4 1 4-10 20 0 4 3 4-1 8-8 32 5 4-5 4-4 0 0 12-1 4-5 4-3 12 1 8 6 8-314 0zM804 1127l2 9 10 13 10 19 6 3 3-3 0-4-20-28-3-6-4-3zM904 1155l-8 5 0 8 4 6 12-6 4-8-4-1-4-5zM1052 1331l-1 1 5 6 2-2-2-4zM1240 1335l-5 5 0 4 7 4-2 1-5 7 1 5 4-3 3 2-5 4 6 8 4-4-4-4 4-8 0-4-4-4 0-8zM1440 1392l1 4 5 4-6 5-4-1-4-4-3 4 2 4-6 4 11 6 4-4 4 2 16-2 9 2 1-4-3-4-1-12-2-3-4 0-4-2zM1500 1391l-4 3-4 0-4 5 1 9 7 4-4 7-7 1 11 1 2-1 2-6 8 7 4-4 8 5 6-2 2-6 4 6 4 1 4-5-6-4 5-4-3-2-4 4-4-5-3 7-5 2-3-2 4-4 2-4-7-7-4 0-4-5-4 1zM1520 1369l-5 7 1 2 7-6zM1580 1338l-4 6 4 5 6-5zM1664 1370l-4 2 4 6 4 0 4-3 8 7 1-2-8-8-1-1-4 2zM864 1702l-2 2 6 5 1-1-1-6zM880 1683l-3 13 4 4-2 4 1 1 7-5-5-8 2-4zM892 1623l-4 5 4 3 2-3 0-4zM916 1623l-4 8-8 1-4-4-4 4 12 9 2 3-2 4 8 4 4 5 4-2 8 6 8-1 4-4 1 4 7 5 9-1-1-5-8-3 3-4-4-4-3-9-4 17-4-3-4 7-4-1-1-7-5-4-6-3-4 1-6-6 6-4 2-12zM936 1631l-6 5 6 7 4-3 2-4zM984 1560l-12 7-8-2-5 7-1 4 2 7 4-9 12-4 3 6 0 8 1 2 4-4 1-2-4-4 3-3 5-1-3-4 0-4zM996 1407l-6 5 12 4-1 4 3 9 1-5 5-4-1-4 4-4 0-4-5 2-4-3zM1584 1387l-5 5 3 4 2 2 8-1 3-5-3-2-4 4zM1040 1616l-4 1-6 7 2 5 8-5 4-8zM912 1703l-2 1 5 4-8 8 11 4 0 4-2 4 8 1 1-9 4-8-11-4 1-4-3-2zM944 1735l-5 13-5 4 2 3 4 2 3-1-1-4 7-12-2-4zM928 1538l-8 8 0 3 4 4 9-5-3-4 2-6zM964 1589l-8 8-4-1-4 7-4 1-1 4 1 1 4-3 4 1 4-3 5 4-5 4-4 0-8 16 4 1 3-5 5 0-1 4 4 4-2 4 7 3 8-6 4-7 6-2-2-4 8-3 7 3-6 4-2 4-1 4 2 3 3-3-2-4 6-4 1-3 6-1-2-7-8 1-7-6 1-8 5-4-7-1-4 3 0-6-4-3-4 6-4 0zM992 1603l-3 1 3 4 4 1 2-5-2-2zM1020 1507l-1 5-7 8 4-1 4 6 12 5 2-6-2-4 0-12-4 1-4 3 2 8-2 2-3-6 1-8zM1536 1439l-4 8-5 1 5 1 4-2 4 4 3-7zM916 1740l-2 4 2 5 6-9-2-2zM928 1759l-2 1 0 4 2 4 3-8zM984 1711l-6 5 6 2 1 2-4 8-4-4-1-6-4-1-5 3-1 4 3 4-5 1-1 3 1 2 8 2 10-4 2-3 2 3-2 4 4 4-4 4-8-4-8 6-10-10-2-4-3 4 1 4-3 4-2 8 2 4-3 10 4 0 7-6 5-2 4 3 0-5 4-1 4-1 8 5 12-13 2 2-1 4 3 3 9-11-1-8 4 1 4-2 0-5-4-1-3-5 5-4-2-9-15 13 6 12-7 3-3-3 2-16-3-4-4 2-3-2 3-4zM1016 1554l-3 2 0 4-5 4-1 4-1 8 6 4 3-4-5-4 1-4 1-2 4 7 3-1-2-4zM1020 1581l-2 3 2 4-4 1-5 7-3 3-4-5-2 2 0 12 2 2 4-6 6 4 0 4-4 4 2 2 12-9 4 0 8 6 4-7-1-4-3-1-12 4-6-3 10-1 2-7-1-8-5-6zM1008 1623l-4 7-4 2 0 2 9 2-9 1-4-2-2 1 14 10 4-2 1-4 3-3 4 2 4-7-4-5-4 3-4-6zM1008 1684l-6 8 2 1 6-5zM1020 1683l-5 5 5 5 4 0zM866 1324l2-2 9 2 3 5 4-2 9 9 15 7 0 2-13 7-7-4-4-6-4 0-4-9-8-1-5-4zM917 1352l3-1 4 3 20 1 4 4 4 0 4-2 4 5 7 2 4 4-7 6-4 2-4-4 0-4-16 0-4-2-8 2-4-5-7-3-2-4zM2395 1372l1-3 4 1 1 2-5 6-2-2zM1568 1428l4-4 3 4-3 5-4-1zM978 1492l2-2 8 6-4 3zM975 1600l4 0-3 4 1 4-7 8-2 6-2-6-3-4 1-4 9 0 3-4zM779 1724l2 0 0 4-5 2-2-2z"/>
<path fill="#80DE07" d="M452 432l2476 0 0 1189-14-5-2-3-4 0-24-14-12-1-11-6-5-5-4 1-4-3-16-4-4-4-24-11-12-2-13-8-3-7-4 2-8-3-4 0-8-8-4 0-8 3-25-11-8-8-3-6-12-2-6-4-2-5-12-3-3-4 7-1 4-7-6-4-2-4-8 2-10-6-2-4 5-4-9-5-4-5-8 2-8-8-4 0-8 5-2-5 5-4-16-4-1-4 4-8-2-4 8-7 4-1-4-1-4-5-12 0-2-2 2-7 8-4 4 0 4 11 4-5 5-3-5-3-5-13-6-4 7-4-4-8 4-4-5-4 5 0 6-8 6-20-2-4 2-3 4 0 4-5-4-1-3-7 1-4 6-8-1-4 3-8 6-8-3-16 3-2 7-2-2-4 4-12-1-4-4-1-8 11-5-2-3-6-12-2-5 4-3 6-12 1-4 4-4-2-4 1-4 2-4 5-4-2 1 5 8 8-5 9-8 1-3-2 1-4-2-2-5 2 2 4-13 4 0 4-4 3-4 0-12 6-8 9-12 1-4 7-4 1-8-4-4-11-8 3-2-3 2-3 4 2 0-5-16 4-8-4 2 10-6 6-4-6 0 8-3 4-17 12-4 6 0-6 2 0-22 4-4-4-4 2-2-6 6-4 0-4-4-1-4-3-4 1-4-5-6 4-2 4 4 4-4 4-8-7-8 2-4-4-8 4-10-11-10-5-8 1-4 3-12-1-8 3-4-2-8 8-16 4-4 4-36-3-4-2-4 1-12-5-2 2 2 4-4 3-8-4-4-1-4 4-12-5-4 1-8 6-12-3-4 1-4-2-24 6-12-7-8 6-5-5-11 5-12 2-2-3 1-4-3-1-4 4-16-10-4 1-8 5-3-3 1-4-2-3-16 2-4-5-4 1-4 3-8-1-4 1-12-2-8-7-8 1-4 4-2-6 4-4-2-1-4 0-8 6-4 0-8 3-4-4 6-4-2-2-8 2-4-2-4 2-4-2-8 1-4 3-4-2-4 3-4 0-4 6-4 1-12 9-4-4-12 0-4-2-12 2-8-6-4 1-4-6-4 4-4 0 0 4-4 1-7 7-5-1-12 5-8-7-4 0-4-4-5 3-3 4 0 4 0-4-8-2-4-8-4 4-3 6 4 4-1 1-4 3-4-2-3 2-4 12-9-1-2 1 5 4 1 8-2 8-6 3-4 0-4-13-4 4-4-1-8 7-8 2-4 0-12-8-8 3-8-2-4 5-5-8 5-4-16-5-4 8-4-3 0-5-8 4 0-4 4-1 6-6 0-8-2-1-4 4-4-4 0 5-8 4-4-2-4 2-12-6-4 1-8-6-10 7-2 4-4-3-6 3-2 4 7 4-12 8 5 6 4-3 7 1-11 10-13 2 3-8-9-4-1-6-8-1-4 7 7 4 2 4-1 2-4 0-4-5-4 2-6-3-2-4-4 4 1 4-4 4-1 8-8-1-4-2-4 5-4-2-6 0 6-8-4-3-4 1-5 6 0 4 4 4-3 8-4-3-4 1-2-2 3-8-1-2-4 3-1-1-3-9-4 5 1 4-1 5-7-5-1-3-8 4-4-4-4 3 0 6-4-2-1-4-7-7-5 7 3 4 0 4-6 9-8 1-8-4-2 2-1 8-5 4 4 2 4-3 1 5-5 8-7 4 1 8-2 3-8-4-1 5-7 1-2-5 7-4-5-5-2 1-7 16 3 4-5 4 3 3 4 0 2-3-1-4 3-2 4 1 2 1-1 4-3 4 4 4-2 4-4 1-4-3-6 2-2 5 4 0 4 3-4 5-4-3-4 3-9-5 2-4-1-2-4 4-6-6 0-4-6-1-4-3 2-4-2-2-4 0-4 3-8-9-8-1-8-4-4 9-12 0 0-4 3-4-3-7-4-1-8 0-8-3-8 7-4-5-4 6-4-3-4 0-8 6-4 0-8 11-12-2-4 1-1-2 1-2 6-2-8-8-2-9-3 5-1 8-3 4-5 1-7-9-5-3-4 1-4-5-4 0-4-7-4-1-4 1-2-6-2-1-8-2-8 1-4-4-4-1-16 7-16-14-4 6-4 1-4-5-4 6-12-6-4 3-13-7 5-6 0-4-4-4-4 0-6 2-2-6-4 2-3-4 2-4-4-8 1-2 9-2-1-13 4 2 2-5 6-2 8 6 4-6 4-1 5-5 0-4-9-6-8 4-4-2 4-4-1-12-3-2-4 4-6-6-8-16-7-8-7-3-8 3-4-1-1-3-27-13-8-6-4 1-3-2 0-8-1-3-4-1 4-4-6-8-16-8-2-7-4 2-1-3-3-2-4 2-1-4 1-2 5-2 0-12-8-8 0-8-5 1-2-5 8-8 4-12-2-6-8-3-8 2-8 7-1 4 4 8-2 20 4 4-1 2-4-1-8 6-8-7-8 2-2 2 1 4-4 4 0 4-7 5-4-5-4-1 2 5-2 4-11-4-8 0-1-2-1 6-4 8 1 4-8 8 10 12-6 8 1 8-10 8 1 3 4 2 11 11 3 4 1 8 5 5 6 3 2 4-7 12 1 4-6 19-2 1-1 16 3 5 1 11-6 16-2 16 2 4-4 8-3 44-6 12 1 20-3 4 2 8-1 4 1 20-10 16 2 8-2 8-4 7-4-2-1 3 5 8-4 20-12 28 0 8-11 28 4 12-5 4-2 4 2 8-2 8-3 4 1 4-6 12 2 4-4 4-1 8-4 4 1 4-5 8 2 4-1 4-300 0zM804 1123l-2 5 2 8 12 16 8 16 8 4 4-3 0-5-24-36zM916 1135l0 7 4 1 2-3zM1224 1371l0 5 8 0 4 9 4-9-4-4-8 4-1-4zM1236 1335l-4 5 5 8-1 4-5 0 2 8-3 4 6 7 4 0 0 5 4 3 4 2 4-3 4 4 2-2-3-8-8-8 5-2 2-6-7-8 0-4 2-4-9-7zM1344 1451l-3 5 3 2 7-2-3-6zM1524 1324l-7 8 1 4-4 8 6 10 6-6-2-4 0-8 4-8zM1536 1330l-2 2 2 2 6 6 6 2 4-10 4 6 7-6-3-3-8 3-4-2-4 7zM1588 1314l-5 6 1 2 12-2 0-6-4 6zM1668 1350l-5 6 1 3 5-3 1-4zM1724 1350l-2 6 2 4 4-7 3-1zM1728 1331l0 3 4 3 6-5zM2444 1302l-3 2 3 4-6 4 0 4 2 1 9-9zM2664 1423l-7 9 7 7 4-3-3-4 1-8zM2680 1428l0 5 4-1 1-4-1-3zM2632 1395l-3 1 7 5 5 11 0 4-4 4 2 4 5 8 4 0-2-4 1-4 11-8-5-4 2-4-2-4-5-1-4-6-8-4zM1508 1353l-4 5-8 5-2 5-6 4 4 4 8-9 5 1 5-8 1-4zM2632 1406l-2 6 2 4 3-8zM1905 1320l3-2 4 1 0 5-4 0zM1607 1352l1-4 11 8-3 2-8-1-2-1zM1598 1360l2-1 1 1 1 4-2 9-5-5zM1644 1360l4-3 2 3-2 4-5 0zM1573 1364l7-1 1 5-5 0zM1403 1404l4 0-3 4 16 7 7 5-3 6-5 2 5 4-8 2-7-6 4-4-3-4-6-1-2-3 2-8zM1476 1424l4-3 4 3-4 5zM991 1428l1-3 1 7 10 8 4 8-7 4-8-1-4 4-8-1-3-2 4-4-1-3-9-1 2-4-8-4 2-4 5 1 8 6 10-7zM1518 1432l4 0-5 8-5 0zM1388 1436l8-2 2 10-2 2-4-1-4-5zM1023 1444l1-1 4 3 8-2 8 9 4 0 8-4 2 7 11 4 3 4-2 4 2 1 16-4 8 4 4-4 9 15 7 3 4 5 5 0 3 4 0 4 1-4 3 0 4 4 4-2 14 10 2 9 8-2 2 1 8 12 7 4-2 4 1 4 4 3 8-4 4 1-4 1-8 12-4 0-2 3 0 4 3 4 0 8-5 5-4-1 0 5-5-1 0 4-4 12-5 4-1 4 2 4-7 4 3 12-4 4-1 8-6 2-8 13-8-4-4 1 11 8-7 1-2 3 4 4 1 4-4 4 2 4 0 4-5 4-2 16-2 1-4-4 1 11-8 16-1 1-4-4-5 7 6 4-1 4 2 4-2 3-10 13-1 4-5-3-3 3-8 12-32 0-1-5-2 5-7 0 5-20-12 2-4-3-4 1-2 0-1-4 7-4 5 4 1-4-4-8 4-4-3-8 0-4 4-4-2-4 0-12 6-4-3-8-4 1-4-5-7-4 5-8-5-4-2-8 5-5 4 0 4 5 4-2 2-2 2-11 8 6 5-3 1-4 4-4 0-4-8-12 1-4 1-3 4 2 2-7-3-4 5-1 4-7 0-4-8-4-8-14-4 5-4-5-9-2 7-8-2-3-4-1-2 8-5 0 2-8-2-4 3-2 4 5 8 0 4-2 4 0 6-5-1-4-9-4-2-4 1-16 5-8 4 0 0-4-8-5-4 2-3-5 1-4 2-3 8 4 4 5 3-6-8-8-2-8-5-1-8 1-8-7-2 3 5 8-11 21-3-9 5-16-6-8 3-4-2-4 0-4-3-8 10-9 3 1-1 4 2 2zM1048 1483l-2 1 2 5 4 1 4-2-1-4-3-2zM1060 1637l-6 7 2 2 8 2 2-4zM1016 1467l-3 5 7 2 0-4zM997 1468l3-2 6 6-2 1zM943 1476l4 0 3 4-6 4 1 4 7 6 8 2 2 4 1 4-7 7-4-3 2-4-2-8-4 2-4 7-5-1 1-5-4 2-1-1 1-4-2-4 2-1 7-11zM923 1512l1-1 4 5 0 4-4 5-3-1 1-4-2-4zM929 1516l3 0 4 4-4 4zM971 1516l17 6 12-4 4 1 5 5-1 9-4-5-7 8 6 12 0 4-3 3-4-3-6 0-2 7-4-4-12-7-8 2-4-5-7-1 2-4-3-1-4 5-1 8-4 0-3-8 4-4-1-4 5 0 3-4 0-4 5-1 4-5 3 2 1 4 8 7 4 1 1-4-4-4 2-4-5-4zM1022 1536l2-3 4 7-4 4-4 1-2-5zM903 1552l5 1 12 12 8-6 4 2 4-7 12 4 3-2-2-4 3-2 1 10-3 4 4 4-1 4-6 4 7 4-2 3-4 0-4-5-2 10 4 4-10 11-4-2-12 3-8-5-4 1 3-8-7-1-4 3-4-5-5-1 2-4-7-4 2-5 4-2 4 3 8-11 8 6 2-3-2-6-8 2-3-4 0-4zM916 1576l-9 4 9 4 4-4 4 5 4-4 4 4 5-5-5-6-4 5zM880 1600l4-2 1 2-1 3-4 2-2-1zM902 1612l6-4 3 4-1 4-2 2-4-1-2-1zM913 1612l3-3 6 7-6 2-3-2zM931 1612l1-1 4 8 4 2 2 3-2 2-4-5-4 2-7-7zM923 1632l5-2 1 2-5 8-3-4zM875 1636l2 0 3 4-6 4-2 5-3-9zM864 1644l6 8-2 1-4-1zM883 1648l9-3 10 3 0 4 3 4-7 8 1 4-3 8-4 2-12-17-4 1-1-2zM980 1648l0-2 4 4 4-3 3 5-7 3-4-3zM999 1656l5-3 1 3 10 4-7 3zM906 1660l10-3 10 15 6 3 4-4 12 0 2 1-2 4 10 8 2 5 2-1 2-12-4-4-4 0 4 0 4-4 2 4-2 4 4 4 5-4-3-4 6-5 1 9 5 4-1 4 6 4 5-2 1 6 3 4 6 0 1 4-11 7-8-5-4 2-12-5-8-1-4 2 2 4 2 2 4-5 5 7-5 0-4 5-8-6-8 6-4-1-9-4-1-4-2-2-8-1-4-4-4 2-7-3 2-12 4-4-3-6-5-2zM932 1687l-3 5 7 2 3-6-3-4zM891 1684l9-2 3 2-7 4-4-1zM819 1688l10 0-1 8 16-1 4 3 4 1 2 1 2 6 4 1 5 5 0 4 2 4-7 4-2 4 2 3 4-2 1 3-3 4 7 4-2 4 1 6 6 2-2 4-2 0 2 4-4 8-12-7-8-9-8 5-4-5-4 0-4 8-4-7-4 2 0 5-4 7-5 1-4-4 2-4-5 0-1-4-8-8 2-4-5-4-3-8 7-5 8-3-4-4 4-5 4 0 2-3 1-4-2-4 3-1 4 4 6-3zM832 1697l-1 7-6 4-1 4 8 5 6-5zM844 1735l-3 5 3 2 4-2 2-4-2-3zM852 1708l-3 4 3 4 4-4zM890 1696l2-2 2 2-1 4 6 4 2 4-5 10-5-6 1-8zM895 1724l1-1 2 1 1 4-1 4 4 8-1 4 6 8 3 8-2 7-6-7 1-4-3-4-4 0-4-5-4 3-3-2-2-4 1-1 4 3 7-6 0-4-3-4zM927 1732l1-2 2 2-2 9-4-5zM920 1756l1 4-1 3-6-3zM830 1764l2-2 5 2-2 4-5 0zM879 1764l1-4 4 4 4-2 1 6-8 0z"/>
<path fill="#59CF0B" d="M452 432l2476 0 0 871-4 1 0 10-1-6-3-1-5 5-1 4 2 1 4-3 7 6-13 12 4 4-2 2-4 2 1-4-2-4-7-5-7 5 5 4 1 4-3 3-8 0-4-7-3 4 11 6 4 5 7 1 1 5 4 1 2-6-4-4 6-2 4 6 1-4-2-4 5-4 4 0 0 47-5 5 1 2 4-1 0 18-8-6-4 3-4-3-4 5-4 0-2 2-1 8 15 7 4-4 4 3 1-2 3-1 0 30-4-3-4 4-8 0-8-6 2-4-1-12-1-2-11 2 3-8 3-4-7-7-12 11-4 1 4-10 0-6-6 7-6 2-1-6-7-3-1 3 2 8-1 3-7-3-1-7-4 2-4 0-4 3-3-2-1-3 0 3-8 5-2-1-2-5-4 9-7 4 6 8 2 8 3 4-8 7-4-1-4-4-12 3-3-17 3-2 7 2-3 8 4 3 12-1 3-2-3-1-4-5-5-2 5-8 1-8-5-1-2-7-5-4 7-5 4 2 5-1 3-12 6-4 1-4-7-6-8 2-4-3-4 11-8-4-4 2-4-6-4 0-3 4 3 4 4-2 3 2 3 4-10 6-4-2-4 2-4 6-7-8-3 0-11 12 9 5 8-3 8 4 12-6 0 4-4 0-4 6-8 2 1 8 6 4-4 4-3 12 8 1 2 3-2 3-4 0-3-3-5-7-8 3 4 3 6 1-3 4 5 2 3 10 5 5 4-4 4 5 4 0 4 5 20-3 0 7 8-6 10-1 2-4 11 4 4 8-2 4 3 4-2 4-6 4 4 4 4-2 8 4 6-2-1-4-5-4 4-2 5 6-1 8 4 3 5-3 2-8 5-6 4-12 15-2-5-4 2-5 12 9 4-2 12 20 0 9-8-6-4 9-8 1-4 3-2-2 4-4-2-1-5-7 5-8-4-1-4 4-4-3 2 8-11 8 9 3 4-2 3 3-3 2-4 0-1 2 1 2 12-1 4 5 4-6 4-2 4 2 4-5 4 5 0 23-11 9 3 9 2-1 0-4 2-3 4 1 0 59-4 0-6-5-3-8-3-4-12 2-4 3-8-7-4 0-8-12-4 1-2-3 2-8-12 2-4-9-14-9-10-1-1 1 1 3 6 5-2 2-8-2-9-12 5-9 4 3 0-10-2-4-14-2-3-2-2-4 3-4-1-4-5 2-10-2 1-4-3-7-20-3-4 3-8-3-2 6-2 1-2-1-1-8 1-4-2-1-5 1 5 4-8 2-4 4-4-1-4-4 0-2 4 1 4-8 4 2 2-6-2-4-1-16-3-2-4 2 0-8 4-4-4-4-4 0-2-4 3-12-1-2-4 2-4-3-4 6-2-3 2-9-12 3-3-2-3-4-2-8-8-7-7-13-5 3-4-1-7-6-1-7-8-1-4-8-2-8-4-4 2-2 4 1 4 5 6-4 2-5 16-2 12-14 4-1 5 2 3-6 2 6-2 4 7 4-3 1 0 5 4-5 8 2 4-4 4 2 17-17 2-8-2-4-7 4-2 7-4-2-4-6-8-5-4 0-3-2-1-5-4-6-4 6-2-3 4-4-2-3-4 0-3-9-5-3-4 14-4-3 2-4-2-1-4-1-6 2 5 4-3 8-5 4 5 8-4 5-4-1-1 4-3 2-3-2-1-6 0 10 4 6 6 2 1 4-7 2-4-7-4 3-4 7-8-9-3 8 3 4-4 4-5-4 4-4-4-4 13-28-3-4 2-4-2-4 7-5 4 2 4-1-8-8 2-4-3-8 3-12 10-5 3-7 5-4 5 0-4-4-2-4 2-4-2-4 3-12-4-4 1-4 6-12-5-4 2-4-2-6-12 6-4-1-3 1 1 4-2 2-8-4-4 7-4-5-2 4-15 12 3 4-3 4-7 6-8 0-3 10-13-5-14 9 4 4-2 1-4 0-8-6-12 3-2 2 6 8-8 5-4-8-16 7-4-3-4 2-12 0-8-4-2 1 0 4-2 1-1-1 0-4-7-6 2 10-6 8 8 8-8 12-4-3-4 2-4-1-4 1-4-3-8 8-1-4-3-2-4-1-4 1-4-5-4 2-8 10-8-6-12 6-12-6-4 1 0 5-8-6-8 11-5-2 5-8-4-1-8 0-4 2-16 1-8 5-8-7-8 4-3-4 7-4 0-4-8-3-4 3 2 4-2 2-8-1-3 3 3 3 8 1-3 8-5 0-12 9-4-4-4 7-4-1-4 1-8-3-4 2-8-1-4 4-8-7-4 0-4 8-12-5-4 7-4-1-8-9-4-1-4 4-12 6-10-4 4-4-2-2-8 5-4-6-6 11-2 1-8-5-24 6-4 0-4-3-8 5-16-1-8-5-8 4-12-5-4-9-4-1-4-1-4 7-3-1-13-15-12 2-12 7-12-4-8-9-4 1-8-5-4 4-4-3-4 0-4-6-4 3-8-5-12 1-4 3-4-2-4 9-4-4-7-1-4-4 3-2 0-4-4 0-4-3-4 1 3 8-7 5-4-1-3 4-9 5-4-3-8 1-8 6-8-5-8 7-8-3-8-7-8-3-4-5-2 3 2 8-4 3-4-2-1 3-3 1-4-2-4 2-6-1-6 8-4-2-4 2-12 0-1 4 1 4-16-6-8 2-4-5-8 0-12 5-4 0-4-3-4 4-3-1-5-4-4 6 0-2-4-2-2 6 4 8-2 4 4 4 0 4-4 4 4 4 8 2 3-2-1-4 6-1 2-3-4-4 5-4 1-4 2 0 0 12-10 8 0 4-12 3-4-2-8 4-2-1-1-12-2-4 3-4-2-2-4 4-4-3-4 2-4 5-8-2 4-4-8-13-8 1-4 7-4-4-8 6-4-3-4 0-4-6 2-4-6-4-3 4-5 0-8-13-4-1-4 6-4-2-16 7-5-1-1-8-2-1-12-1-4-2-4 4 8 2 1 2-8 4-1 5-8-1-2 4 3 4-1 2-6-2-2-5-4 0-4 4-4-1-8 7-4-1-4 3-4 1-2 4 0 12-2 3-4 0-2 5-2 1-8 1-2-2 1-4-3-5-8 1 3 4-5 0 2-4-12-4 1-4-5-1-4 5-4-3-2 3-6-1-8 6-3 3 3 6 3 2-3 4-5 0 4 4-8 4-3 9-8-1-8-3-4 2-4 0-4-7-4 4-12-2-2 2-2 12-7 12 1 4-2 4-4 0-1 4-5 8 2 8-2 4 6 8 0 4-16 13-4-1 0-4-4-4-9-4-7-8-12 4-8-9-4 2-4-1-4-5-8-3-4-6-7-2-5-5-2 1 4 4-10 3-4-1-3 2 3 3 4-1 3 2-11 6-12-2 8-11 3-1-8-4-3-4 2-4 14-16 4-1 4 3 4-2 5-4 0-4-5-8 2-12-8-12 2-4-1-4-3-2-9-2-3-5 0 5-10 8 6 4-4 8 0 7-4 5 0 2 5 2-5 0-3 4 2 8 9 8-4 7-10 5-6 13-4-3-4-1-8-5-8 11-5 1 4 4-3 6-12 1-8-7-4 2-3-2-2-4-8-8 3-8-2-1-8 8-4 1-6-4-6 2-4-5-16-2-4 8-5-7-7-4 3-4-6-8-5-1-4-3-4 11-8 1-3-4 4-4-1-4 12-1 1-3-5-9-8 7-2-2 2-9 4 3 4-6-5-4 4-12-4-4 4-8-3-2-4 2-6-4-3-4-1-8-6-3-4-6-12-4-12-21-16-7-4-8-4 6-11-1 1-4-2-1-4 2-2-1 3-4-5-6-4 5-12-9-5-14-14-12-1-3-4-1-4-7-11-1 5-4 2-8-4-2-7-10-3-12 10-28 0-4 5-4-1-6-4-2 2-12-2-2-3 2 1 4-10 8 0 8-4 4-8 1-4-1-4 3-4-3-4 7-8 2-1 3 5 2 4-4 4 1 0 3-4 4-8 5-4-1-4 1-8-4-4 0-2 5 2 4-4 1-8-3-4 2-4-4 2-8-7-8-3-8-7-8-7-12-10-7-3 3 1 12 2 4 12 14 6 14 12 8 2 4-4 4 2 4-6 4-2 8-6 8 4 1 1 3-2 8-8 8 5 4-4 1-3 7 10 12-7 13-4 2-3 9 3 6 8 6 3 4 1 8-4 4 8 3 11 9 0 4-7 4 3 8-4 12-3 2-4 0-2 2 4 4-1 8 2 4 4 20-4 4 1 4-3 4-2 12 0 12-3 8-1 20-4 4 3 8 0 8-5 12-3 4 3 8 0 8-1 2-5 2 5 12-2 8 0 16-6 8 0 5-4 3 3 4-3 4 1 8-1 2-8 0 1 6 4 4-3 20-8 20-6 8 1 12-6 12 1 4-4 4-2 8 3 12-3 4-1 8-3 4 0 8-3 4 1 8-4 7-4 1 5 4-5 4 2 4-5 8 0 4-4 4-1 12-69 0-3-3-8 3-216 0zM512 1591l-8 10 16 10 2-7-2-4zM548 1530l-6 6 3 4-1 2-8 2 4 13 4 0 8 11 12 4 0 5 1-5 3-3 4 4 12 1 0-4-5-6 1-10-4 0 1-6-2-4 0-4zM556 1527l0 4 8-1 2-2-2-3zM588 1503l-4 5 0 4 4 2 8-1 3-5-5-4zM600 1518l-2 6 2 2 4-2zM632 1447l-1 5-3 4-4-3-3 3 3 4 4-4 5 0 3-6 4 2 4-4-4-3zM644 1588l-5 4-2 4 4 0 5-4zM740 1340l-5 4 5 9 6-5-1-4zM760 1330l-9 6 6 12 11 2 2-2-1-4-5-1-1-3 10-4-1-4-4 2-4-4zM1064 1324l8 2 4 3 3-1-3-5-4-1zM1368 1347l4 9 2-4-2-7zM1608 1296l-2 4 6 7 2-3zM1656 1307l0 2 8 9 2-10-2-2zM1904 1260l-1 8 1 4 4 0 4-8zM1932 1268l-2 0-1 4 3 3 2-3 0-4zM2160 1303l0 5 4 4 2 0-2-8zM2468 1260l-2 4 1 4 5 1 2-5-1-4zM2492 1235l-2 5 6 8 3-4-3-8zM2540 1225l0 4 4 3 4 0-2-4zM2704 1266l-2 2 1 4 5 2 1-2-1-4zM2720 1268l0 1 8-1 4 4 5-4-1-2zM2736 1251l0 9 19 16-9 20 2 3 4 1 5-4 1 4-3 4 2 4-3 8 10 6 2-6-4-4 0-8 3-4-3-4 6-8-4-4-4 2-1-2 0-8 3-8-3-8-10 0-5-8zM2780 1327l0 7 4-1 1-1-1-4zM2788 1279l-3 1-3 4 3 4 7 2 7-2-9-4zM2824 1250l-2 2 4 8-2 2-4-4-1 2 4 12 5 1 8 5 2-2-7-16 5-8-8-3zM2844 1299l-4 5-5 0 1 2 8-2 4 4 2-4 0-4zM2876 1292l-3 4 4 8-2 4 1 4 8-4 4 8 4-2 3 2 1 7 5-3-4-4-1-13-8 1zM2904 1270l-4 6-4 0 1 4-7 8 2 4 11 0 7-12-3-4 2-4zM2888 1391l3 9-4 4 5 1 2-13-2-2zM2752 1474l-1 2 1 2 4 3 4-1-4-6zM2756 1459l0 6 8 0-4-6zM2792 1495l0 5 4 1 3-5-3-2zM2804 1487l-1 1 0 4 5 2 0-5zM2844 1507l-2 5 6 4 3-4zM2744 1385l-4 7 8 3 4-7-4-4zM580 1643l-5 5 0 4-7 13 4-1 13-20zM632 1643l-4 4-8 2-4-3-2 2 6 10 8-8 4 1 5-3zM652 1608l-5 4 1 5-8-7-2 2-1 4 7 16 8-1 1 1 2 8-5 8 2 1 8-9 4 9 3-9 4-4 2-12 7-3 5 3 8-8-1-3-8-5-12-1-4 2-4 6-4-5-4 3zM684 1394l0 3 4 0 4 4 4 1 3-2-3-3zM2780 1342l-3 2 1 4-2 4 1 4 11 1 2-1-1-4zM2820 1295l-1 5-7 4-4 1-4-3-8 6 1 8-3 4 0 8-8 8 6 10 19-6-5-12 0-4 2-3 8 2 4 4 8-1 2 2-6 4 2 8-2 4-4-1-5 1 5 2 9-2 3-4-1-4 3-4-1-4 3-5 8 3 2-2-6-11-4 0-4 6-7-11 0-4 9-4-1-4-1-1-4 4-4 0zM808 1182l-6 6 6 7 4-1 4 3 2-5-6-3-1-5zM508 1651l-2 1 6 3 3-3-3-3zM616 1663l-4 5-8-2-4 14-12-8-4 4 3 8 9 3 8-2 4 4 8 1 4 3 2-1-4-4 2-3 5 3 3 3 8-4 12 3 4-2-4-5-4-1-8 1-4-4-8-3-4 6-3-2 3-8 4-4-4-7zM672 1641l-2 7 2 3 4-3-1-4zM680 1671l-8 5 2 4-1 4 3 12 1-4 7-4-2-4 6-4-4-8zM2756 1372l-8 8 0 3 4 0 8 5 4 1 2-5-6-14zM2796 1355l-5 5 1 1 4-2 2 1 1 8 5 2 4 5 2-3-4-4 3-4-1-4-8-6zM2820 1349l-3 3 3 9 3-1zM2848 1366l-1 6-5 8 2 5 6 3 2 6 4-9 6-1-5-4-1-4 1-4-1-3zM836 1180l4-3 2 3 0 4-2 2zM842 1200l2-2 6 6-6 7-2-3 2-4zM2327 1296l5-2 7 2-3 5zM2248 1312l6 4 0 4-2 1-4-3-1-2zM1736 1316l4-2 4 6-8 3-3-3zM2922 1332l2-3 4 3 0 6-4 2zM1670 1336l2-1 5 5 6 12-3 1-4-4-4-1-5-4zM1050 1352l2-2 8 6-6 4 0 16-2 3-8 1-3-4 1-4-6-4-4 1-3-5 3-2 4 5 4-2 0-2-4-3 4-5 3 5 5 1 5-5zM1046 1384l2-2 5 2-5 6zM2845 1424l3-3 4 4 8 0 8 7 8 3 8-4-4 5 4 4 0 4-8 7-4 1 1 4-9 6-11-2-1-6-4 3-2-5 2-2 8 0 8-10-8-2-6 2 6-8 2 0-10-1-3-3zM2824 1428l9 0 0 4-9 2-2-2zM1025 1452l7 0 4-2 2 6-6 4 4 3 4 1 4-5 8 10 4-2 4 4 4-5 2 2-6 8-4-3-4 2-4 5-4 1-7-5-1-3-4 4-7-1-1-4 6-4-5-4-5-1-2-3 8-4zM2888 1456l4-3 5 3-5 9-8 1-4-2 0-2 8 1 2-3zM2780 1460l4 1 0 6-7-3zM2912 1464l5 0 1 4-1 4-5 3-3-7zM1081 1472l3-2 10 2 22 21 6-1-2 4 2 4 6 1 6 7-7 8 9 12 5-4-5-4 4-3 8 4 4-4 8-1 8 4 5 8-4 4 1 8-3 12-3 0-2 4 2 3 4-1 4 2 3 4-7 7-4-1-1 2-2 16-5 1-5 7-2 8 0 12 4 4-8 4 0 4-9 11-8 1-8-2-3-2 1-8-2-3-8 3-3-4-1-4 4-9 4 5 5 0 3 0 4-9 4 2 3-1-7-7-4 1-8-5-4 0 1-5-9-4-5 8 4 4 0 4-3 4-8 3-2-3 2-3 4 1 2-2-2-4-4-1-2-3 5-8-3-8-6-8 6-2 4 7 2-1 2-7 8 6 4-3 0-4 4 3 12-9 4 0 0-4-7-6 4-8-5-1-4 5-4-9-3 1 2 4-3 6-4-9-4 1-1-2 2-4-3-4-2-1-6 1 3 8-3 4 6 8-2 4 6 3 4-7 11 4-2 4-5-2-6 2 4 4-2 2-4-3-4 4-12-14 0-6-4-1-4 6-7 4-1 3-4-2 0-5-4-2-4 1-6-11-1-4 4-4-5-1-1-3 1-3 4 0 4 5 4-2 4 3 3-7-3-1-4 5-4-5-4 0 1-7 3-3 12 1 2-2 2-8 4 2 6-2-6-5-8-2-2 3 1 4-3 0-6-4 4-4-1-4 3-1 4 4 4-1 4-8 4 1 0-5-4-2 7-4zM1084 1508l-2 4 2 3 5-3zM1120 1520l-4 1-2 3 2 11 4-11 6 4-2 4 3 0 2-4-2-4zM1136 1539l-3 1-2 4 1 5 4-4 4-1zM1156 1556l-8 2 0 2 0 4 8 5 5-5zM1072 1515l-3 9 3 1 5-5zM1132 1610l-3 6 7 1 3 3 1 5 3-1-3-8-4-1zM1120 1590l-2 2 6 3 3-3-3-4zM1136 1592l-3 4 3 4 4-4zM1132 1500l12 0-2 8 2 1 0 5-4 1-7-3 7-4zM2742 1504l2-1 2 5-8 8 6 9 4 0 2 3-2 2-7-2-5-6-4 6-9-4 1-6 4 0 4 2 2-8zM1059 1560l9 4 0 4 0-4 4-2 8 5-4 14-9-5-2-4 3-4-8-4zM1063 1596l1-1 11 1-11 3zM1058 1612l6-4 4 4 2 8-2 2-4-2-4 1-3 3 7 5 8 1 7 6-6 4 7 5 8-7 1 2-2 4 3 4 0 8-2 3-8 0-4-5-1 2 0 12 5 7 4 2 4-2 4 2 0-5 10-4-2-12-6-4 1-4-3-4 4-4 12 5 8-6 4 5-8 4-2 4 2 1 12-6 1 5-4 4 5 4 1 4-7 2 0 4 3 2-3 7-9-7 1 4 3 4-5 4-2 6-3-2 1-8-2-1-2 5-6 4-1 4 3 4-1 4-3 0-2-3-7 7 0 8-2 4 7 0 2 4 0 4 4 0 2 8-14 14-4 6 1 4-5 6-4-3-4 3-4-1-1-5 3-4-2-2-4 4-4 1-8-12-4 4-5-3 5-8 2 0 2-4 5-4-13-4-4 4-1-4 0-4 5-4 0-3 4 4 3-5-7 0-3-4 0-4 3-4 5 4 3 7 1-3 5-4-4-4-2-12 4 1 8-6 4 2 2-1 0-12-12-12 6-2 4 5 3-3 1-6 3-2-5-12 2-4-8-7-4 0-4-5zM1072 1688l0 4 4 3 3-3-3-6zM1060 1710l-2 6 2 1 8 0 4-5 4 0 0-1-8 2-4-3zM1074 1612l2-2 4 5 4-3 4 1 4 6 3 1-3 3-8-2-4-4-5-1zM653 1624l3-3 4 0 2 3-6 5zM1059 1648l2 4-5 1-8 10-8-4 2 9-6 0-2-12 2-3 8 2 4-5 8 0zM893 1652l4 0-1 6-4 0-2-2zM1045 1668l7-3 2 3 0 4-6 0zM818 1716l2-3 4 3-7 12 7 1 6 7-3 4 1 4 4-1 2 1 0 4-6 1-4-3-8 2-4 4 4 4-4 1-8-5 3-8-6-12 3-4 8-2 1-2-2-4 5-1zM1031 1732l5-4 3 4-7 6zM852 1736l0-2 10 6-3 4 3 4 0 4-2 2-5-2 3-4-2-2-4 1-4-3 5-4z"/>
<path fill="#33C00F" d="M452 432l2476 0 0 771-4-3-3 0 2 4-3 1-4-4-4 2-4-3-5 4-2 8-9 2-8 6-12 3-8-3-9 0-3-5-8 6-10-1 0-4-6-4-4 5-5-5 2-4-5-5-8 7-4-4-3 2-9 11-4-3 2-4-3-4 1-4-2-4-5-4-1-4-16-4-2 4 0 4-10 6-8-1-4 2-4 0-3-7 3-5-20-2-2-5 3-4-3-4 0-4-10-4 3-4-4-8 5-12-2-4 3-4-1-2-4 0-11 6-1 5-12 2-4-3-4 12 3 8-3 5-8 2-4 4-4-6-8 5-4-3-2 5 1 4-3 0-4-8-4 4 1 8-5 5-4-1 0-4-8-5-4 7-5 2 1 4-4 3-4-1-8 5-4-1-3 2 7 4-4 5-8 4-2-9 5-4-3-4-12 1-4 5-4 0-4-4-8 2-2-4 4-4-2-5-4-1-2 2 0 8-2 3-2-3 2-4-1-4-3-2-28 2-2 4 2 6-4-1-4-7-4 6-6-4-2-4-12-2-4 2 1 4-5 1 0-5-4-1-10 5 2 8-3 4-1 6-3 2 4 8-1 1-8 1-8-2-1 4 4 4-3 3-4-4-4 10-1-5-11-13-8 2-1 3 4 4-2 4-5 2-5-6-1-4 1-8-3-5-8 5-4 1-4-2-3 5-17 10-6-2-2-7-4-5-4 1 0 3 2 4-6 3-2 5-1 8 1 4-6-2-4 4-8 1-5-3 5-4-4-1-7 5 0 4-5 2-2 6-18 13-8-3-8 4-1-6 1-4-3-4 1-4 6-2 4 11 7-1 0-8 2-4-1-3-8 1-4-3-4 2-8-1-6 8-2 5-4-3-4 5-4 1-4 5-4 2-4 9-24 18-4-1-4 1-3-2-5 1-8-3-4 3-4-6-4-1-4 3-8-4-4 3-4-4-8 2-3-2-1-4 2-4-6-2-2 2 1 4-7 8-8 4-8-3-4 0-2 3 11 4-17 13-4-7-12-3-9-7-2-4 4-4-5-5-4 1-7-8-1-6-4 8-2-6 7-8-1-6-4 1-4-3-2 4 6 4-6 4-2 6-8 2-4-4 3-4-1-12 4 0 2 5 4-4 4-1-8-1-4-10-4 8-4 0-4-3-4 4-4 1-5-7-7-1-2 1 4 4 3 8-2 4 1 4-4 1-10-5-1-4-5-5-12-1-4 4-4-1-3-1 3-2 1-2-1-1-4-2-5 3-11-13-8 2-4-1 5-4 1-4-6-5-4 2-8-2-4 5-4-2-3 2-1 5 4-1 4-4 8 8 1 4-1 4-4-3-4 5-4 1-4 4-4-3-8 0-8 6-12-2-4 2-4-3-4 1-9 4-3 4-4 2-1 6 3 4-2 2-12-5-4 6-4-1-3-2-1-4 4-4-22 0-6 3-4 9-4 2-3-2 1-4-2-1-15 13-4 8-5 5-3-1 6-8-7-1-4-4-4 2-3-1 3-4-8-2-4 7-4-3-4 3-4 0-4 3-8-4 2-4-2-4-8 5-4-2-2 1-2 6-12-4-8 2-8 6-8-2-4 2-16-7-16 1-16-5-2 1 1 8-3 2-8-5-4 3-4-2 0-3 4-3 4 2 3-2-5-4-6 3-3-3 0-8-5-5-4 2-1 7-3 2-4-2-12 5-1-1 8-8-3-1-12 4-5-3 1-4-3 0-7 4 2 6-2-2-6 0 0 4-8-2-2 2 5 4 1 4-8 2-1 2 2 4-3 8-13 12 3 4-4 3-4-5-4 1-4-5-4 6 5 4-7 4-2 10-8 8-4-1-4-6-4-1-4 2-8-1-4-9-12 2-12 4-8 7-8-2-4 7-7 0 3 1 3 3-3 7-6 1-2 12-1-4-7-7-4 0-4-1 0-1 3-7 5-5 8 3 4-2 0-4-14-8-10-9-2 1 2 8-12 2-4 3-4-2-4 4-1-7-3-1-12 5-4 6 1 6 7 4 4 6 4-3 4 2 5 7-1 5-4 0-4 10-4 0-8-11-2 4 0 8 5 4-4 4-2 8 1 4 7 8-4 8 1 4-2 4 4 1 2 3-2 5-4 0-4 6-8-1-6-6-7-8 1-8-4-1-12 6-4-2-4 5-4 0-5-4-2-8-4-4-9 2-2-2-7-20 5-4 8 0-4-1 0-7-4-12 3-4 0-4-8-20-7-8-5 4 0-4 4-4-3-3-4 0 2-5-2-4-6 8 4 4-5 4 1 4-10 2-1 2 3 8 0 8-4 16-7 4-3 6-4-5-9-1 1 5 4 1 4 4 9 2 0 4 4 0 0-4 4 0 1 8-6 5-2-1-2-8-2 8-6 0-4-4-4 1-2-1 2-1 4 1 1-4-1-2-8-1-4 3-4-4-6 4 11 8-10 4 0 8 4 4-11 3-6-3 6-2 2-2-6-6-4 4-8 1-4-7-12-4-4-4 4-4-3-4-5-2-4 5-4-6-4 1-4-4-4 1-4-2-5 3 2 4-5 0-4-16 4-8 4 0 5-4-5-2-4 5-4-3-4 2-4 6-4-5-4 0-4-5-3 2 7 4-4 8-9-12 4-4-3-5 8-1 1-2-1-3-4 2 0-5 4 2 4-4 4 5 1-5-1-4-4-2-8-12-4-1-4 5-4-1-8-8-5-1 0-4-6-4-6 0-4-4 2-4-8-4-2-8-7-7-15-5 0-8-5-4-6 0-2 8-4-6-4-1 4-9-4-4-7 4-5 1-4-2-4 2-1-5 2-4 0-8-1-2-8 3-5-5 5-4-8-1-6-7-2-5-4-3-5 0 1-3 4 3 2-4-2-2-4 1 1-11-5-1 0-7-8-16 5-8-1-6 5-6-1-4 3-4-1-16-2-7-5-5-3-7-3 11 1 4-2 3-4-3 0 8-6 4-2 4-8 5-7-5 1-4-2-2-8 1-5 13-7 10-4 0-2 6-2 1-4-3-7 2-3 4-6 2 0-6-8-8-2-8-8-8-2-8-16-13-5 5 2 8-2 4 10 12-6 12 5 2 5-6 3-1-1 5 4 4-1 4-6 3-8-4-3 9-8 4-2 8 2 8 7 1 4 5 11 2-3 6-8-5-9 3 0 4 1 2 4-4 1 6 3 4-3 8 5 8-2 4 4 2 4 0 8 10-2 8-2 3-5 1-2 4-1 8 2 8-3 4 1 2 4-1 5 11-8 8 3 8 7 4-1 8 9 0-3 8-6 8 4 8-2 4 5 8 3 20-9 20 2 16-3 8 1 8-3 12-5 4 4 8 1 8-4 0-2 4 2 5-5 7 3 4-2 12-4 4 6 12-2 4 0 16-6 12 0 4-3 4 1 4-11 8 0 16 3 6 0 10-8 16 0 5-4 6-6 5 4 4 0 8-6 12 1 4-7 4 2 4-2 8 4 4-2 3-5-3 3 12-4 8 2 4-4 1 1 11-1 8-8 4 0 4 4 8-8 4 2 8-2 2-4-8-1 6 0 12-4 4-38 0-9-3-4-5 1-4 7-7 8-1-4 0-5-8 7-8-7-8-1-12-2-2-4 4-8 2-9-12 17-1 4-4 8-1 2-2-3-4 9-4 4-4-6-8 4-4 3-12-5-2-2-6 6-4 1-8 4-4-1-6-8-2 6-4 0-4-2-13-7-11-1-8-5-8 3-4-7-4-3 7-4 1-4-4 4-4-6-4 6-5 8 0 4-6 4 1 1 6 8 4 1 4-4 4 6 3 4-1-3-6 2-4-2-4 1-4-3-4 0-4 5 2 4 0 4 4 2-2-3-4-1-8 1-4 6-4 3-12-4-2-4 1 1-7-1-2-4 0-3-2 5-8-6 2-12-4-8 4-4-3-4 1 0 4-4 2-3-2 1-4-3-4 1-4-8-2-4-14 4-1 4 3 12 0 4 2-2 4 2 2 6-6 0-12 14-2 1-2-1-3-4-5 4-8-8-4 0-8 4-5 3 9 3 4 6 4 6 0 2 6 4 2 4-3 7-1-1-4 2-1 1 5 12 8-1-6-3-2 0-4 4-4-2-4 6-4-13-3-4 4-5-5-3-9-6-3 2-4 8 5 3-5-4-4 1-2 4 1 4-2 4 5 6-2-2-8 3-4-7-4-1-4 2-4-2-4 4-8 1-16 4-4 10 0-2-4-4 3-2-3 6-3 4-8 12-7 4-4 12 5 3-3-6-4 0-12 7-4-4-4-4-1-3 1-3 8 4 4-1 4-5-5-4 7-5-2 6-8 0-4-6-12 3-4-2-5-4-3-24 0-8 7-3 5 4 4-1 2-8-1-3-5-3 0 0 4 3 4-13 6-1 2 1 4-12 10-6-2-8 16-8 8-10 17-4-3-8 1 1 5-4 8-6 4 2 8 4 4-1 5-8 6-8-5-8 2-6 8 0 4 2 2 10 2-6 0-8 14-4 1-4-4-4 1 0 4-4 6-16 10-9 12 5 3 4 0 2 1-6 6-8 2-4-2-1 2 2 4-2 4 0 4-3 2-16 0-10 2-2 4 0 8-4 4 1 4-1 8-6 4-2 4-4-2-4 5-5 9 1 4-4 12-16 16 1 8-9 8-3 8-1 8-4 3-8 1-3 4 4 4-1 2-8-1-2 3-2 10-1-2-3-1-4 1 7 4-3 2-4-2-8 4-4-1zM700 1122l-8 4-8 7-20-5-4 1-2 3 2 8 14 20 6 14 13 10 5 8 2 2 16-1 7-5-1-8 2-4-6-8-3-12 3-4-1-4-5-14-4-7zM908 1113l-3 3 3 8 2-4zM920 1100l-2 4 2 3 8-3zM1324 1400l2 4-2 5 4-2 2-3-2-3zM1500 1295l1 9 7 0 1-4-8 0zM2092 1292l-2 4 2 3 5-3zM2404 1210l-3 6 7 4 2-8-2-2zM2560 1179l-7 13 3 2 4-4 8 5 6-3 2-4zM800 1146l-8 4-1 2 4 8-2 4 3 6 6-6-5-4 5-4zM740 1463l-1 5 13 5 5-1-5-7-8-3zM720 1300l-7 4 8 4 5 0zM728 1478l-11 10 3 5 4 1 4 5 1-3 6-4-2-8zM2515 1196l1-3 4 2 8-3 4 3 3 9-3 7 0-3-10-4zM2697 1200l3-3 4 9 4-1 4 3-8 13-4-7-5-2-1-4zM2597 1208l3-4 5 4-5 5-3-1zM2924 1212l4 2 0 15 0-5-7-8zM2379 1228l8 4 1 8-4 2-8-7-3 5 5 4-2 13-2-1 2-4-6-4 0-4-4-4-1-8 7-4 8 5zM2803 1244l1-1 2 1 0 4-2 4-4 1-4-1 0-4 4 0zM2349 1248l5 0 3 4-1 2-4 1zM2313 1252l7-4 3 4-3 5zM2339 1252l1-1-3 13-5 0-1-4 2-4zM2347 1256l1-1 2 1-2 9-4-5zM2356 1260l0-2 4-1 13 7-5 1-4 6-4 1-3-4zM1545 1276l3-2 3 6-3 3-4 0-1-3zM1553 1280l3-2 4 2-4 5-3-1zM1574 1284l2-2 4 1 5 9-5 0-4-3-4 0-1-1zM714 1368l2-1 2 1 2 4-4 2-2-2zM1079 1372l1-4 6 4-2 9-3-1zM732 1376l8-3 3 3-11 4zM710 1388l2-2 4 0 1 2-1 2-4 1zM1133 1392l3-3 4 3 0 8-13 0 1-8zM1239 1392l5-2 4 0 6 6-10 9-4-3-4 0-3-2 7-4zM724 1408l4-2 6 6 0 4-6 11-4 1-4-3-1-5 6-8zM629 1476l11-2 2 2-10 5zM622 1484l2-3 5 3-5 6-5-2zM658 1488l2-4 2 4-2 4 4 4-8 6-4-1-3-5 3-2 4 3 1-1 3-4zM1095 1488l1-1 10 1 2 2 4 10-7 8-5 4-6-4 5-12zM1109 1508l3-3 5 7-5 10-4-2 3-4-4-4zM642 1516l2-3 4 1 4-2 2 4-10 3-4 5-2-4zM1158 1520l6-1 2 5 1 4-3 8 2 4-1 8-9 5-4-3-8 1-4-15 4-2 3-6 5 1 9-5zM646 1524l6-2 3 2-6 4-1 4zM1075 1524l5-1 12 5 16-1 6 5-2 3-4 2-8-8-20 0-3 3 3 7 4 1-8 0-5-8 4-4zM1054 1540l6-1 2 5-2 3zM701 1548l3-4 4 2 2 2 0 4-2 3zM1071 1568l1-2 2 2 0 4-2 4-2-4zM1129 1572l7 0-2 4 2 1 4-3 4 4 12-1 2 3-2 5-4-4-4 1-8 9-5-3-3-10-8 7 1-5-5 1-4-1 0-6zM531 1576l5-3 7 3 0 4-10 8 7 1 2 3-3 4 2 4-5 5-4 0-7-9 3-12-2-4zM1092 1580l4-2 2 2-2 6-4-2zM591 1620l1-1 8-1 8 2 5 4-5 0-8 6-7-6zM1128 1620l0 4 4-1 1 1 0 4-5 6-4 1-2-3 0-8zM530 1644l2-2 4-1 4 3-8 4zM486 1656l2-2 4 3-1 11-3 2-4-4-4 5-4 1-2-4 2-8 4-4 4 2zM1105 1656l3-4 4 4 4 0-3 8 1 4-6-1-3-3 1-4zM529 1668l3-3 4 7 4-3 4 0 3 3-3 4-4-3-4-1-3 4 3 3 5 1-5 1-1 3 13 8 0 4-4 5-4 1-4-2 2-4-6-4-2 4 5 4 1 10-12 0-8 7-6-5-3-4 1-3 8 1 2-2 0-4 5-4-3-3-4 4-3-1 1-4 10-11 4-1-10-8 2-3 8 1zM499 1672l1-2 4 2 4-3 5 3-5 4-8-2zM1077 1680l11-2 2 2-10 2zM471 1684l1-1 3 5 0 4-7 3-1-7zM550 1684l6-1 4 1-4 4 5 4-10 4-3-4zM457 1700l3-2 4 2 4-4 8 4-3 4-5 2-4-6-4 9zM483 1704l5 1 1 3-3 4 7 0-5 10-6 2 0 4-2 1-1-9-4-12zM1076 1704l4-2 2 2 0 8-2 3zM1054 1720l2-2 8 4 4-3 4 0-2 5 6 10 4-3 8-3 4 4-4 5-4-3-3 2 2 4-3 7-2-7-6-5-4 1-4 5-4-2-2-3 5-4-4-4 2-4zM659 1728l2 0 4 4 7 1 4-4 4 12-8 2-6-3-2-8-5 4-1 8-2 2-2-2 1-4-8-4 2-4 3-1 4 3zM627 1736l13-2 2 2-6 8-4 1zM456 1740l10 4-6 4 6 8-6 5-1-1 1-4-1-4 1-4-4-3-4 0 0-3zM623 1744l2 0 4 4-1 4-8 1-6-5 2-1 4 3zM520 1748l0-2 4 3 11 3-8 4 5 1 4-1 0-2 4 6 9 4-5 1-2 3-16 0-3-8-7-4 6-4zM571 1748l8 4 1 4-4 1-3 3 1 4-2 2-10-10 2-1 4 2zM643 1748l1-3 5 3-13 10-4-1 0-2 4-1z"/>
<path fill="#FFFF00" d="M452 432l2476 0 0 754-8 0-8-7-4 1-4-8-4-1-4 3-3-10-5-2-4 3-4-3-4 0-4-6-12-8-8 3-8 0 0 5-7 4-1 4 4 8-3 4 4 4-1 5-12 0-4 5-4-1-4 2-12 2-4-5-1-8-4-4 9-9-12-3-4 5-4-3-8 1-12-5-2-6 2-2 4-1 4 5 2-2-1-4-5-4-12-1-8 11-4-4-8 0-1-2 4-4-7-4-4 4 2 8 2 2 4 0 1 6-1 2-8-2-5-8 5-8-3-4 5-8-4-4-9-16-5-1-3-3 1-4-2-2-16 0-8 7-4 10-4-1-4-5-4 9-4 1-6 9-1 4-6 0-7 8-4 1-4 8-12-10-4 1-4-1-4 4-8 0-1 1 1 3 8 1-12 1-7 11-1 6-4-7-4 2-1-1 2-8-5-1-4-3-4 7-4 1-8-2-5 6-7 2-4-1-7-5 4-4-1-2-8 3-8-2-1-3 5-4-8-2-8 7-4 1-2-2 3-4-1-4-4 4-8-5-3 9-1 1-4-4-6 7-2 0-2-4-2 0-8 5-8-8-3 3-3 8-6 0-4-2 1 10-9 9-4-5-12-1-7 5-1 6-4-2-4 2-4 6-4 0-4 5-8-6-12-1-8 2-4-3-1 3-3 2-4-1-4-7-8 2-4-2-8 1 6 5-10 16-4-1-4 5 0 8-4 4 1 4-5 4-8-4-4 0 0 4-12 4-16-7-4 7-8-2-6 2-2 7-4 3-15-6-1-5-12 2-2 3 6 16-3 12-13 0-8-4-3 4-5 1-4 7-4-6-4-1-4 4-1-5-14-8-1-8-12-7-4-4-8 4-4-3-8 4-5-2 5 6 8-1 5 3-1 2-4 1-12 14-12-5-8 3-1-3-7-2-8-7-1-3 1-4-4-4 0-7-4 1-2-2 0-4 1-4-2-8-5-4-16-2-12 4-8-7-4 0-4-4-4 3-4 0-2-2 2-4-4-6-2 2 0 4-2 3-10 5 4 4-2 2-7-6 11-8-1-8 5-4-12-4-2 4 4 4-2 3-8 4-4 5-4-4-7 0 3-2 4-6-5-4 5-4-4-4-8 1-4-5-8 5-4-2-8 4-5 5-2 8-13 6-4-5-3-1 3-1 3-3-7-5-4-1-2 2 6 8-1 4-12 4-1 4 2 4-4 6-4 2-12-2-2 2 1 4-3 1-1-5-7-8 5-8-1-4-4 3-1 5-7 3-1 5-8 4-3 8 3 4-6 4 3 10-4 5-1-15-3-1-24 3-4-5-2 3-6 2-16-1-3-5 6-8-3-3-8 6-2 13-7 8-3 8-4-3-8-1 3-4-22-12-1-3-24 11-8-6-4 3-5-5 1-1 8-1 2-2-2-5-8-4-4 6-4-3-4 2-4 7-3 1 0 4 5 4-3 4 2 4-9 6-3-6 4-8-2-4-3-3-5-1-2-8 3-3 4 9 5-10-1-3-8 1-4-2-4 1-1 3 1 3 2 1 1 8-5 16-7 4-3 7-4 1-4-8-7-4 3-8-5 0 0 8-3 2-8-5-1-5-3-4-8 1-4-4-12 3-4-3-9 3-3 10-8 0-4 3-4-1 0-5 4 0 3-3-7-5-6 5-13 4-5 3-4 6-12 3-1 4 2 4-2 8-7 5-5-1-3-4-2-4 2-5-8 0-4-7-13-4-3 3 0 6-8 5-4 6 3 4 0 4-7 15-8 1-5 4 3 16-2 1-8-3-4 5-8-4-8-2-4 3-8-6-2 2 2 4-3 4-3 0-4-4 4-8 4-4-2-5-3 1-1 5-4 1-6-10 3-4-1-1-8 4-8-4-12 0-3 5-5 4 2 4-2 6-4-1-4 2-8 9-4 1-8-1-6 4 0 8-3 4 1 2 5 2-9 12 4 5 4 0 0-5 4-2 5 2-1 12 2 8-2 6-10 6 1 4-4 4 9 16 7 4 3 8-6 5-4 0-9-9 2-12-5-6-4 0-4-4-4 5-4 2-4-4-4-1-8 5-4-12-3 3 1 4-6 1 4-5-8-7-4-1 2-4 6-2 8 8 4-5 4 0 0-5-4-1-3-7 3-1 12 7 4 0 4 7 8 1 2-2 0-4 10-3 2-5-2-2-4 3-4-2-8 4-4-3-4 1-4-2-4-7-11 4-1 4-4 2-3-2-2-4 1-3 4 5 3-2-3-4-4-16-4-2-2-6-2-12 1-4-5 2-5-2-2-8-5-4 3-8-3-4-4 0 4-4-1-4-9-4 3-4-5-3-4 1-4 6 7 4-4 4 8 4 2 8-6 4 1 4-4 1-1 3 2 4-9 4 2 8-3 4 3 8-2 3-4-5-4 5-4-2 0 5 4-1 4 4 4-3 1 2-4 8-5 4-4-5-4 3-8 0-2 2 1 4-3 6-4-1-8 5-1-2 3-12-2-2-8 1-8 11-4-3-12-1-4-2 0-4 0 4-4 3-4-9-16 4-2-2-2-16-6-4-6-10-6 6-2 7-8 2-2-1-2-11 4 2 4-1 0-14 5-8-5-6-4 1 0-8-4-1-4 1-4-1-8 1-1 5-3 1-9-13-7-4-2-4-14-5-2-7-10-12 1-4-5-4-4 2-14-10-6-9-4 2-4-5-5 0 2-4-4-8-1-8-9 0-3-4-2 0-2 4-1-4-7-1-14-15 2-12-4-1-2-3 2-5-4 2-2-1 4-8-6-7-2-9 6-4 1-4-1-20 4-8-7-8 5-8-7-8 0-4-7-1-5 5 2 8-5 5-4-4-12 7-8-2-1 2 2 4-2 4 2 4-5 2-4-1-4 2 0 5-5 0 1 8-4-1-4 2-2 3 0 8-2 2-4-1-4 3-4-2-4 2-8-2-4-5-2-9-7-4-2-12-5-4-4 0-8-7-7 7 2 8-6 4-5 6-7-6-1-4 0 8 6 4 2 8-4 8-5 0 10 8-6 8 3 4-6 2-6 6-1 4 6 4-5 8 4 4 2 9 6-1-3-4 1-2 7 2-2 4 4 4-2 4 12 12 0 4 9 4 7 8-2 8-1 2-4-1-4 3-2 8 1 8-2 8 2 4 2 12-9 4-4-3-1-1 2-4-5-4 1-4-5-5-4 1-8-1-4 1-16-12-4 6-11-10 3-1 8 4 2-3-10-8-8 4-5 0 1 3 4-3 2 4-2 3-13 1 4 4-3 2-4-1-4 8-8 0-8 15-10 8 3 4-4 4 0 4-1 2-4-3-4 5 1 4-5 9-6 7-7 4 1 4-5 4 0 8 2 8-9 2-8 5-4 8-13 13-5 12-6 6 0 6-4 8-11 4-5 9-9 7 1 4-8 5-4 13-4 0-7 6-1 4-8 1-8 11-1 4-7 4-3 16-17 20-4 16-13 12 0 8-8 8-2 8-5 6-4 0-4 4-12 19-4 0-4 5-8 3zM592 942l-6 6-1 4 2 4 5 3zM604 968l-4 0 1 4-3 4 6 2 2-2zM636 1024l-14 4 0 4 2 4 4-5 4-2 2 7-7 12 9 7 2-3 1-8 3-8zM680 1096l-2 4 5 12 0 8-7 4-4-3-8 1-10-2-2-7-4 1-1 6 5 15 7 13 4 4 12 20 1 4 16 20 12 4 20-4 2-4 6-2 1-2-5-4 1-8 5-4-2-5-8-3 2-4-5-16 0-12-5 2-5-6-1-4-6-4 0-5-12-7zM1016 1112l-3 8 7 3 5-7-4-4zM1032 1131l-8 2-1 3 1 4 4 0zM1140 1347l-3 1-1 4 8 1 1-1-1-3zM1164 1359l-4 5 4 2 6-2zM1856 1195l3 5-2 4 3 3 4-6 4-1-8-6zM1944 1159l-2 1 2 4-6 4 10 2 2-2 1-4zM1972 1172l-4 1-2 3 2 4 10-4zM2024 1179l-4 5 2 8 2 2 4 1 7-3-3-6-4 3zM2116 1220l-4 0-4 4 0 5 6-1zM2404 1163l0 3 4 2 4-4zM592 962l-4 7 8 2 4-3-2-4zM844 1145l-2 3 2 2 4 0 0-4zM1974 1216l2-3 5 3-7 4 5 4-3 2-6-2zM1985 1220l7 0-3 4-5 1-3-1zM2051 1224l5-2 1 2 1 12-3 0-4-8zM1611 1256l2 0 2 8-3 2-4-2-2-4zM1460 1308l8-2 9 2-1 4-4-2-4 3-8 1-3-2zM699 1320l5 2 2 6-4 0-2-4-2 4-3 0 0-4zM804 1328l4-2 2 2-2 5-5-1zM671 1352l1-2 6 2-5 4 0 4-5 3-4-7zM803 1352l5-2 8 2-4 4 7 4-3 4 8 8 1 4-1 4 2 4-3 4-3 9-4 3 1 4-3 4 4 4-2 8 1 16-4 12-5 4 4 10-8 2 4 1 1 3-2 4 1 4-5 8 2 4-4 8 0 8 7 12-4 3-4-5-3 6 3 3 4-2 2 3-2 12-7 16 0 8-5 4-8-1-4 7-4 1-6 5 6 9 2-1-1-8 3-4 4 1 3 3-4 4 3 4-3 4 5 2 1 2-2 4 3 4-10 15-4-3 0 4-10 8 5 4 5 14-4 0-4-5-1 7 5 8-6 4 3 4-5 0-2 4 3 8-1 2-4 6-4 1-2 3 4 4-5 4 3 3 4-6 3 3-9 8 0 4 2 4 2 8-3 8-6 4 2 8-3 2-4-1-2 3-6 2-8 6 4 4 6 0 1 4-7 4 5 4-1 4-4-3-4 3-18 0-4-12 2-7 5-1-1-3-6-9 2-8-9-8 4-4-2-4 14-12-2-4 5-4 1-4-2-4-5-4-1-4 4-4 1-6 8-6 1-8-1-3-4 3 2 4-2 2-2-2 2-4-4-4 1-8 6-4 0-12-5-12 4-8-7-4 1-3 8-2 4-7-3-8 1-4-3-4 1-2 4 4 8-14 0-8-5-8 9-11 4 4 8 0 2-1-1-4 6-4-6-4 2-4-2-8 7-4-1-4-3-2-4 0-3 2-1 6-4-10 2-8 12-8 3-4-1-4 9-8-1-7-4-1 2-4-3-4 5-8 1-4-5-6-4 1-5-7 1-4 4-3 4 0 3 7 6 0-1-11-4-1-2-4 4-4-3-4 2-8-2-4 3-4 2-8 4-4-7-8 7-4 4 0 6 4 2 5 4 0-4-9 14-8zM712 1721l-3 3 3 2 4 1 3-3-3-3zM720 1702l-3 2 10 8 3 0 2-4-4-1-4-6zM772 1516l-4 2-4-1-3 3 3 4 4 0 4-4z"/>
<path fill="#DDD800" d="M452 432l2476 0 0 739-8-3-8 1-24-18-24-12-4 1-8-5-16 0-6-7 3-4-13 0-4-6-8 5-12-2-1-5 4-4-10-4 5-4-2-1-12-1-4-3-4 1 0-4-4-2-3 2-1 5-2-5-20-8 5-8 1-4-8-4-4-6-4 0-3 2 0 4-9 2-4 5-8-1-4 4-12-3-3 1 3 12-8 4-5-4 1-4-4 2-8-1-7 15 1 4-2 3-4-2-4 2-4 4-2-3 4-4-2-4-8 9-8-3 0 11-1-5-11-7-4 3-7 4 6 4 2 4-1 11-2-3 1-4-7-4-4 3-4-6-8 2-4 5-10 4-14 3-4-4-16 3-12-5-20 2-7-3 1-4-2 0-12 6-4 6-4-1-8 6-8 0-4-3-7 2-3 4-6 0-3-8-5-2-12 4-4 4-8 4-4-2 2-4-2-3-4 1-16 13-8 1-8 9-20-5-16 12-8 0-4-4-4 1-8-7-8 6-4-2-4-6-12-1-12 6-2 3 4 8-1 4-5 1-7 7-1 4-4 1-4-3-8 1-3 1-1 4-8 4-8 2-3 6-5 4-4 9-4 0-8 7-12 17-8 5-4 0-4-6-12-4-4-5-7-3 0-4-3-4-2-1-4 2-4-7-4-1-4 2-8-12-5 1-2-4 1-4-2-5-4 7-8-1-8-5-4 0 4-4-8-8-4-10-8 8-4 0-4-4-10-2 1-4-4-4 8-8-3-8-8 9-4-5-5 0 1-6-15 6-5 5-8-4-16 0-1 3-7 5-10-9-11-4 3-4-2-8 2-4-2-9-4 1 1 4-3 4-6 3-8-2-12 2-4-5-4 3-8-2-1 1 1 4-5 0 0 4-4 4 1 8-3 4-13-2-6 6 6 6 11 6-9 4 4 4-2 1-8 1-2-2 5-4-5-4 3-4-13-7-4 3-4-1-5 5-7 0-8 7-8-3-9 8 6 4-5 5-4 1-4-4-8 1-3 5-5 1-14-9 3-4 0-8 2-4-3-2-1 6-6 4-1 6-5-2 1-4 4-1 2-3-2-2-4 0-6 2-2 8-6 4 0 4 6 9-12 1-8-4-3 2 3 4-4 2-8-1-12 11-4-3-4 1-4-2-8 6-15-2 1-12-6-2-6-10 2-4 4 1 0-1-4 0-4-4-4-12-12 4-8 1-8-6-8-1-8 16-6-6 0-4-8-4 2-5-4 1-7 8-9-2-9 2-4 4 1 6-5-2-1-4-2-2-5 2-5 8 5 4-3 7 0-3-4-3-7 3-3 12 6 7 5-7 0-4 3-4 4 0 8-6 8-3 3 9-7 3-4-2-5 3-1 4 8 8-2 3-7-3-1-4-1 4-3 3-4-1-12 4-4 4-12 1-4 0-4-4-16 3-4-1-1 3 3 4-8 4 3 4-1 3-4-1-4-6-4 2-10 10-2 6-6-14-6-7-8 0-4-4-9 7 0 8-3 1-3 7 2 8-7 8-1 4 1 4-3 8 5 8-2 5-4 1-8 9-2-7 7-8-1-2-4 3-4-2-2 1-4 4 2 4-4 2-4-2-3-4 1-4-6-5-4 1-4 6-4-4-8 5-8-10-3 7-5 2-7-6-1-4-4 6-2-2 2-3 4-1-4-1-2-7-6-3-8 2-5 5-3 11-4-2-4 3 8 4-5 4 1 3 4-1 5 2-5 4-4 1-4 5-4-6-8-4 0 5-4 3 4 0 3 8-13 16-3 20-7 7-4 1-4 6-12-3-4 4-5 1 6-8-5-8-9-4-1-4 4-4-2-2-4 1-1-3 7-8 1-4-11-11-12-1 4-4-3-16-9 0-4-7-8-6-4 5-1 8 3 4-1 4 3 4-4 4-1 12-3 3-4 1 2 4-4 8 6 4-6 4-2 6-4 0-8 6-4-1-8 4-4 0-4-5-12 4-3-2 1-4-2-1-3 5-8 4 5 4-2 3-8 2-12-3-4 3-6-5 2-2 4 4 9-6-9-3-4 1-5-6-1-4 2-2 4 3 4-4 2 3-1 4 3 3 12 1 1 0-1-5 4 3 2-6-2-4-4 1-20-2-2-7 2-1 4 4 2-3 1-4-3-6-4-1-12 3 0 5-8-3-4 5-4-7 4 0 4-4 2-8-2-2-8-2-8 2-6-6-2-1-4 3-8-3-4-11-3 0-5 6-8-3-4-5-6-2-2-10-12-2-4-8 0-7-7-5-5 0-8-4-8-8-4-8-8-3-4-5 0-8-8-9-12 2-8-2-5-7-3-4 3-4 1-1 4 2 4-1 0-4-7-4-3-4 1-8-1-4 2-12-4-1-4 7-3-2 1-4-9-4 8-4-1-9 8-3-8-8 5-4-3-4 1-4-1-8 2-4 5 0-5 0-4-4-1-8-4-4-11-5-10 9 3 4-1 3-4-1-8 2-12-1-5 1-1 4 2 4-4 1-4-3-4 1-4 4-4-3 1-4-1-1-8 9 1 4-9 7-12-5-5 6 9 4-4 1-4 6-8-3 2-8-10-12-4 2-8-8-8 8-4-4-8 4-4-2-4 4-1 4 3 8-7 4 9 4-2 4 2 3 4 0 2 1-2 5-4 0-2 3 4 8-3 4-1 4-6 4-3 4-1 12-4 4 1 4 7 8 0 4 5 0-2 4 3 4 6 2 4-1 3 3-1 4 6-1 5 5 1 4 6 4 4 1 6 7-2 8-7 0-8 12 4 4-1 6-4-3-8-1-1 2 1 2 8 1 1 5-1 2-4-1-8-4-8 0-12-9-4-1-3-3 1-4-2-2-8-1-4-4-12-1-10 4-6 6-4-3-2 1-1 4 3 4-7 4 4 4-10 0-3 8-4 4 1 4-15 8-3 4 3 4-8 8 2 4-4 1-8-1 6 8-4 4-2 8-4-2-1 6-7 4-5 16-8 8 1 4-14 12-4 8-12 16-2 10-13 10 0 4-7 1-4 2 0 5-8 8 0 8-8 7-5 1 0 4-15 9-2 3 0 4-3 8-7 2-3 14-14 20-6 12-1 8-6 4-18 31-8 4-4 8-8 5 2 4-2 2-4-1-2 3-10 3zM580 919l-5 17 0 12 2 4-1 12 4 15 3 5 1 8 6 8 0 8 7 16 4 4 3 10 4 2 2 4-2 4 5 4-1 4 4 2 5 14 4 4 2 8 7 8 8 16 6 28 6 12 5 4 9 17 4 3 0 5 7 7 7 12 5 4 13 2 20-2 4-3 8 0 4-3 5 2-1-12-4-2-4 2-2-8 3-4-6-8 0-4 5 2 0-6-4-1-4 2-2-5-3-12 5-4-8-8-4 0-11-16-13-10-2-2 2-4-8-3-6-5-6-12-11-12-12-24-4-20-5 1-7-9-5-16-7-8-9-20-8-8-2-8-4-4-2-8-4-4-8-17zM1012 1111l0 5-4 4 10 4 4 16 6 2 8-6 0-8-4 0-4-3 3-5-7-10zM1116 1303l-3 1 0 8 3 8 1-4 7-2 4 10 3-8 5-2 0-4-8-3-8 1zM1232 1223l-3 1-1 4 0 5 2 3-4 4 6 3 1-15 2-4zM1640 1134l-5 6 5 9 4-1-2-4 5-4zM1672 1136l-7 8 1 8-1 4 3 6 4-5 4 3 4-4-5-8 1-2 4 4 3-6-1-8zM1832 1148l-4 0-8 8 8 5 5-5-1-5 5-3-1-1zM1868 1151l-4 1 0 4-7 4 3 3 10-7 0-4zM2068 1155l-7 9 7 5 6-5-1-8zM2748 1054l-3 2-5 8 4 2 3-2 4-8zM2747 1100l1-2 16 10 8-2 4-3 4 4 4-1 3 2-3 5-11 3 7 1 2 3-4 8 2 1 8-7 2 6 5 4 1 5-4 4-4 0-8 3-7-4-3-4 1-4-3-2-8 3-8-2-3-11 19 2 4-6-4-4-4 1-4-5-4 3-4-2zM867 1124l1-1 4 2 3 3-3 4-8-4zM855 1140l5-3 4 3-7 8 0 4-5 1-2-9zM1801 1200l12 0-5 1-4 5-3-2zM2280 1208l3 4-3 8-4 4-8 1-4 2-11-3 3-4 4 0 2-8 2-2 8 0 4 3zM1420 1304l0-2 4-1 4 6 4 1-4 9-10-1-1-4zM1094 1340l2-3 8 3-8 7zM806 1356l2-2 4 5 4 1-3 4 8 8 2 4-1 8-7 12-3 10-1 2 4 4-2 8-8 4 3 5 4 0 2 7-2 4-2 8-4 4 0 8-4 4 3 8-4 4 1 4-1 4-5 4 3 4-1 8-7 8 4 8-11 9-1 3 5 1 1 3-3 4 2 1 8-4 4 3 1 4-5 8-4-1-8 4-12-5-3 2 3 8-5 4 7 8-11 8 9 6 8 8 3 14-3 2-4-4-2 2 2 4-4 7-4 1-4-3-5 3 1 2 5 2-9 1-2 3 2 3 4-1 3 2-1 4-5 4 0 4-2 4 4 12-10 12 3 4-1 4 3 12-6 8 4 4-8 2-2-2 6-4-8-12-4 1-5 7 2 8-1 3-13-7 5-8 2-8-4-4 2-4-5-4 5-3 12-1-4-6-4 1 0-3 2-4 6 2 3-2-2-4 4-8-6-4-1 4-6 7-8-7 4 0 2-4 0-4 7-12-6-4-1-20 5-8 5-4-4-4-1-4 1-2 5-2 3-8 5 0-6-8 1-2 6 2 5-12 0-4 9-2 4-10 12-6 4 3 3-1-3-4 1-4 5-4-6-1-2-11-9-12-3-8 0-4 6-8 4 5 4-4 4 2 2-3-10-2-4 2-1-4 5-4 0-12-4-2 0-6-3-4 2-4 5-3 4-13-3-4-1-5-4-3 2-4 6-5 4 3 2-2 4-8-1-4 10-8-1-8 8-8zM748 1641l-6 7 2 3 5-7zM1175 1360l1-3 5 7-5 4-2-4zM1301 1364l3-4 4 9-4 1-3-2zM778 1368l3 0 0 4 3 4-4 2zM773 1552l3-3 9 11-5-1-4 5zM747 1708l1-2 5 2 0 16-10 0 3-4-2-6-2 2 0 4-2 3-2-7-2-2-3 2 1 4-2 3-10 9 3 4-1 5-7-9 4-4 4-8 0-4 3-2 4 1 4-6 8 1zM711 1752l9 5 3-1-2-4 3-3 4 3-3 4 1 4-1 4-5 2-2-2-2-7-5-1z"/>
<path fill="#BBAE00" d="M452 432l2476 0 0 734-8-3-4 1-16-13-4-1-8-6-8-1-7-7-5-2-24-16-8-4-8-1-8-7-8-4-8-8-4-2-14 0 4-4-8-8 0-4-6 0-3-8-15-20-2-12 3-8 0-8-7-10-5 6-2 8-13 7 0 10-8 0-4-6-6 5 2 10-8-1-4 3 0 3-16-3-3 4 2 8-3 2-2-2 1-8-7-4 0-7-5-1 5-2 4 3 3-1-7-7-12 3-2 4 2 7 8-1 4 2-8 4-4-1-4 2-3 3-1 5-2-1 0-8-2 0-1 4-5 4-2 7-10 1-5 4-1 4-8 3-8-6-6-1 2-3 4 2 4-3-4-3-4 2-4-3 0 4-6 4 3 4-2 4-5 0 0-4-2-1-12 11-4-14 4-4-3-8 1-4-2-2-4 5-4 2-4-3-4 5-4-4-8 7-8 0-8 4-2 6 6 8-1 4-7 6-4-1-4-3-12 6-8-6 0 6 4 4-16 8 1-4-6 0 7-8-2-2-4 1-2 5-6 3-5 5 5 4-2 8-6 4-8-4 9-4 1-4-6-4-4 2-8-6-4 6-12-3-4 2-2-5 14-12-4-3-4 1-8-1-4 3 0 5-3-1 2-4-3-4-1 12-3 3-4 1-4-3-16 6-1 5 4 0 1-2 1 2 0 12-1 2-4-2-8 3-4-1-3-2 2-4-3-4-4 4-4-2-1-2 5-1 2-3-4-4-6-1-8 2-4 4-8-4-10 11 11 4-5 0-7 4 3 4-4 5-8-1 1-4-9-4-8 2-4 8-8-5-4 5-13 10-1 4-6 3-8 13-4 3-16 4-15 9 0 4-7 4-2 6-16 13-4 7-8 2-6 8-2 6-16-5-8-9 0-6-4-2 6-12 0-8 2-2 4 4 4-7 8 2 2-5 10-6 4-7 4 1 8-4 2-4 6-4 0-5 6-7 14-2 3-2-2-4 3-1 4 3 8-14-6-8 3-4-1-2-4-2-4-5-8 8-4-3 1-4-2 0 1 8 8 1 2 7 4 4 0 4-4 0-2-2-3 6-7-8-3-8-3-2-12 0-4-2-4 3-4-2-8 3-4-3-4 0-1-1 1-4 4 3 6-7-10-8 0-3 0 3-12 10-4 1-4 4-1 1 4 4-3 2-8-5-4 5-4-7-8-5-6 2-3 8 4 8-7 4-6-4 1-4-2-4-14-12 1-5 7-3-1-4-6-1-8-7 12-6 5 6-2 4 5 3 4-3-2-4 5-4-5-4 1-8-3-2-16-2-10 8 0 8-3 4 4 4 0 4-4 12 0 8-7 7-4-3 0-4-1 0 1 4-4 2-5-6 0-4 13-11 7-9-3-1-4 2 0-5-4-5-4-2-4 1-16-6-7 12 1 4-2 2-4-2 2-4-6-6-4-3-4 2-2 7-4 4 6 9 4-2 3 1-3 4-4 1-8-2-2 1 2 4-4 1-4-4-8 6-8 0-4 2-4-1-2-4-5-4 1-4-11-8 5-4 9 0 2-4-1-4-2-3-4 1-6 2-6 10 0 6-4 1-16-3-3 2-3 12-2 2-8-3-4 5-4 3-8-9-4-2 8-2 2-2-2-2-4-1-4 3-4-3-2 7-6 0-8 4 0 4-8-1-1 5-3 2-4-2 1-4-4-12 1-4-4-8 2-8-4-6-2 2 1 4 0 12-7 4-12-1-6-3 7-8-6-4-11-3-8-13-4 1-4-9-4-1-6 5-2 5-8-5-4 2 1-6-9-2 0 8 12 10-4 4-4-4-8-1-2 1 2 8 4 3 4 0 6 5 0 4-10-6-4 2-8-10-8 3-2-1 2-6 4-2-4-1-4 2-1 7-5 4-3 8 3 0 6-6 4 1 2 1-4 8 2 3 8-3 6 0-1 8-17-4-2 12-7 4 1 4-2 4 1 4-11 5-8-7-12 0-6-2 3-4-1-4 4-2 12 0 4 5 4 1 3-4-5-8-6-4-4 3-8-3-4 2-4-3-4 5 7 8-3 3-8-9-4 5-4-14-4 7-6-8-1-8 4-8-5-3-7 3 1 4-6 4 3 4-3 3-4-6-8 0-8 11-4-2-4 3-5-1 1 7-6-7 3-4-1-3-4 3 0-4-8-4 0 4-4 4-8 4-4-4 0 5 4-1 4 8-7 4-1 4-3-8 1-4-6-4-4 4 2 16-14 6-4-2-2-4 2-5-4-1-4 6-7-8-4 0-5 4 0 4-3 4 3 4-13 8 0 4-5 4 0 4-2 2-8 2-3-4-7 0 2 5 5 3-5 1-8 7-1 12-4 0-3-9-8 1 3-16-3-5 10-3-6-3-8 2-4 7-3 2 0 4-5 1-1-1 4-4 1-11-8 0-4-3 0 6 2 4-5 4 1 4-5 4 1 12-7 4-1 8 2 2 4-5 4-2-4 13 4 4-11 8-1 12-12 2-4 6-9 0 1 5 4-2 0 5-8 10-4-5-4 2-4-1-2 2 4 8-2 4-4 2-4-2-4 5-6 3-2 5-4-1-4-4-4 2-4-5-4 2-8-9-4-1-4 4-2-1 1-4-3-2-4 6 0 2 3 2-7 2-4-2 2-4-2-1-8 3-4-3-18 5-3 8 3 4-11 4 0 8 8 4 3 4-3 4 1 5-4 3 3 4-2 8-5 8-1 16-5 4-1 8-5 7-9-3-1-4-8-12-3-16 5-4-11-8-3-4 1-4-2-4-1-1-4 1-1-4 3-4-3-4-7-3-8 1-4-7-4-1-4-4-8 6-2 4 3 4-2 12 2 4-2 4 1 8-4-1-4 9-4 2-8-4-8 2 7 4 2 4-5-2-4 4-8 2-3 4-1 8-4-5-1 5-3 1-4-3-8-1-2-5 2-5-4-5-4 1-4-6-4 8-2-1 1-4-3-4 1-4-2-4 2-4-2-8-11-6-4 3-2-1 2-4 0-4-5 4-15 5-1-1 1-5-4 2-8 10-4-5-8 2-6-4 0-4-6-6-4-1-8 2-4-6-8-5-4-6-12-7-5-11-19-7-4-5-1-8-11-4-3-4 3-4-4-18-4-4-4 4-8 1-2-3 0-4 4-4 0-4-3-4-3-1-4 5-3-4 1-4-4-4 1-4-4-4 5-1 3 1-2 4 7 3 4-1 4-6-8-6-4 1-3-3-1-5-4 2-3-5 7-2 1-2-4-8-5 2-2-2 2-8-5 0 3-4-5-8 2-8 8-8-1-4-2-4-9 4-1-16 4-8-2-1-2 1 0 4-6 4-4 0-8-3-8 7-12-2-4 1-4 5-4-1-4 4-4-3-16 6-4 5-4 1-4-3-8 1-8-3-3 1 4 12-5 5-3-1-1-9-4-1-4 3-8-2-4 1-4-6-4 2-4 0-4-7-4-2-8 2-8-5-3 0 1 8 5 8-1 8-4 4 6 8-6 4 5 4 0 8 5 4-4 4-1 8 1 4-3 4-5 6-4 0-2 2 0 4-2 2-8 0-13-14 0-4-3-8 2-4-1-4-9-3-1-5 2-12-1-4-12-8-4-8-14-12-6-11-9-5-1-4-6-9-5-3-1-4-7-8-2-8-9-12 1-4-3-4-2-13-6-3-6-8-8-18-4-3-9-19-20-32-7-16-8-8-4 5-4 11-1 20 2 4 0 12 6 24 1 8 12 28 5 8 5 12 1 12 10 8 12 24-1 4 6 4 9 16 5 22-1 6 5 4 1 4 7 5 9 15 0 4 13 16-3 8 6 4 15 4 28-2 16-4 8 4 4-6 5 4-7 4 4 4 14 4-4 1 0 5 8 2 2 4 6 4 16 9 4 0 2 3 12 8 3 4 0 4-1 3-4-1-6 2-2 5-6-1-3 8 4 4-3 1-4-2-4 2-4-2-1 5-3 1-5-5 1-8-4 0-4-4-4 1-3-5-5 0-12-9-4 1-12-4-4 6-16 14-1 8-11 8-2 8-6 9-9 7-7 12-11 8 2 8-1 4-6 4-3 8-9 0-1 4 3 4-6 12-9 4 0 4 3 4-6 4-2 4-9 8 1 4-15 16-6 16-13 5-4 9-6 6-2 6-4 1-2 5-11 8-13 16-6 4-8 24-16 24-2 8-7 4-2 12-12 12 1 4-6 8-4 1-4 7-8 4-8 12-8 0 0-361 4-2 1-5-1-2-4 4zM952 1098l-3 2 7 7 3-3zM1024 1104l-5 4-7 1-3 3 1 4-4 4 6 5 4 0 4 15 4 4 8 1 4-5 4 0 4-3 1-5-9-16 0-8zM1060 1170l-4 2 4 6 5-6zM1452 1195l0 7 6-2-2-6zM1524 1127l-5 9 1 1 6-1 1-4zM1744 1103l0 4 2 1-1 4 3 4 4-4-3-4-1-5zM1888 1094l-6 6 0 4-4 4 2 2 16-10zM2008 1043l5 5 3 1 2-1-2-4zM2020 1051l-4 4-4-1-2 2 2 13 16-5-6-4 3-4zM2128 1086l-3 2 5 4-10 4 12 4 4 4 4-4-1-4-6-4zM2132 1058l-2 2 2 8-2 4 2 5 3-1 2-8 0-4zM2160 1086l-1 2 5 6 2-2 0-4-2-3zM2236 1082l-3 2 2 8-7 3-4-3-4 8 12 3 8-11 3 8-1 4 1 4 5 6 0-6 4-8-6-4-2-5-4 0-1-7zM2552 1053l-3 3 3 2 8-2zM2760 1004l0 4 4 10 2-6-2-5zM1232 1216l-4 1-4 6-1 5 1 4-2 4 0 4 7 4-1 8 4 1 7-29-6-4 6-4-3-2zM1692 1095l0 5 4 4 4-4-1-4zM1700 1081l-1 3 2 4-1 4 4 8 6-8 1-4zM1784 1044l0 9 6-5zM1920 1057l-1 7 5 2 5 6-5 0-4 4-3 8 11 5 8-3 3-2 2-4-1-1-4 1-5-4 3-4-3-4 1-9-4 3-4-6zM1952 1082l-3 2-1 8 4 1 3-5 5-4 0-2-4-1zM1228 1259l0 2 7 3 1 4 3-8-3-4zM2548 1080l3 8-1 4 2 2 8-3 2 5-2 2-8-1-3 3 1 4-2 2-7-10 5-4 2-4-2-4zM1840 1100l4 3 4-1 2 2-5 8 6 8-11-1-4 4-4-3zM1788 1108l5 4-5 9-2-1zM2557 1116l3-2 4 1 5 5-1 1-4-1zM1690 1120l2-2 3 2 1 4-4 2-6-2 2 0zM1780 1120l1 0 1 8-2 1-2-5zM1895 1120l1-1 2 5-3 4-7 2-2-2zM2166 1124l6-3 4 2 3 9-3 4-4 0-8 6-5-6 8-8zM2349 1124l3-1 0 5 6 4 2 6-6-2zM1606 1128l2-4 8 4-10 4 6 4-5 8-11 6-2-14 2-2 4 2-1 4 3 0zM1563 1136l8 0-11 6-3-2zM1703 1152l9 0 1 4-2 4 1 4-8 5-4-9 3-4zM1519 1184l1-1 3 1 0 4 9 4-4 5-4-2-4 3-4-6zM1481 1188l4 0 4 8-5 1-4-3-1-2zM1419 1268l1-2 0 7-4 2-6-3 2-2 4 1zM802 1368l2-2 4 3 4-2 4 7 4 2-4 13-4-2-4 3-2-2 0-4 4-4-3-8zM798 1384l2-4 3 4 0 4-3 3-8 1 0 4 1-8zM803 1396l5-1 4 2 1 3-3 4 2 8-4 4 1 4-8 4 4 4-1 3-4-2-1-5-3-3-4 7 2 4 6 3 4-2 5 7-1 4-4-5-16 4 0-5 5-2-2-4-3-1-8 8-2-3 2-4-1-4 5-8 4 0 2-4-6-8 8-7 8 0zM783 1448l5-2 8 2 7 4-8 4 6 12-1 2-8-1-2-1 2-4-4-2-4 1-4-2-1-5zM776 1484l4-2 3 2 2 8-1 1-4 1-8-6zM781 1500l7-4 3 8-7 5-1-1 2-4zM775 1528l6 0-5 7-4-1-4 5-3-3zM760 1548l4-4 2 4-3 8 2 4-9 2-4-6 4-1zM753 1568l3-2 4 2 1 4-3 0zM743 1572l2 0 1 4 6-2 4 7 4-2 4 5 5 0 8 12-1 2-6 2-2 9-8 1-4 5-4-2-3 3-1 4 6 8 5 4-3 3-4-2-4 1-4 5-14-7 8-12 2-1 5 1 0-4-8-4 3-3 4 1 3-2 1-4-4-3-4 2-2-3 5-12-3-4 3-4-1-4zM741 1656l3-2 5 6-5 0 1 8-5 6-2-2-1-12zM742 1676l2-1 3 1-2 4 5 4-2 4 0 5 0-5-4-7-3-1z"/>
<path fill="#998408" d="M452 432l2476 0 0 729-12-4-4-5-21-12-11-3-16-14-20-11-16-7-4-5-8-4-12-12-21-16-9-16-8-8 3-4 4-20 9-20 0-8 5-4-1-4 4-4 1-4-7-4-8 6-3-2 4-4-9-4-1 4-3 1-4-2-8 0-4-6-4 1-8 3-4-1-3 4 4 4 5 8-4 4-7 0 1-5-5 1 0-4-3-4-3 4 2 4-3 4-17 16-5 8 1 4-3 2-4-2 4-4-5-4-1-4 4-4-2-12-2 0 2 4-5 12-1 8-2 2-4-2-8 9-1-5-10-12-9-3-12 1-8 6-4-1-7 5-5 9-4-3-4-10-8 5-5-1 4 12-3 2-1-2 1-4-4-2-4 6-3-4 2-4-3-4 2-4-2-3-3 19-2 0 0-4-3-5-11 1 0-4 9-8-6-2-4 2 0 5-4 3 5 8-5 8-4-9-5 5 3 4-2 2-8-4-4-6-4 0-4 4-6 0-10-16-8-5-7 5-1 4 3 4-7-1-4-7-4 4-4-5-4 0-6 5 5 8-4 4 1 4-3 4 1 4 2 1 3 7 1 5-11-5-5-14-3 2 2 8-7 8-8-2-8-8-2 2 1 8-7 3-8-5-4 1-17 13 2 4-1 2-4 0-2 2 0 4-2 3-8 4-4 0-3 9 0 4-5 2-5 6-3 2-8-3-4 0-4 5-8 0-2 4-6 1-3 3-3 8-2 2-4-2-1 4-3 2-4-3-3 1-17 14-12 3-2 7-5 4-13 17-4 0-2 3-10 4-12 7-4-1-2 2-3 8-7 8-4 0-4 3-9 13-7 4-4 7-16 4-9-11-1-4 4-4-2-5 4-1 8-9 4 0 4-4 5-1-1-4 4-1 7-7 13-8 16-3 6-5 3-4-4-4 15-7 7-17 5-6 1-6-5-4 4-12 4 2 5 6 1-8-4-4 3-4 0-8 4-4 1-4-4-16-2-1-1-11-4-4-1-4-6 3-4-3 1-4-5 1-4-2-4-9-4-1-4-5-12-3-8-8-2 3 1 4-3 4 0 4 4 0 2 4-6 4-8-4 1-8 4-4 0-4-3-8-2-2-4 6-4-2-5 6-3 10-20 14-3-4-5-3-4 3-8-12-4 0-5 8-7 6-8-4-4 3-3-1-1-5-4 0-4 4-8-3-1 4-11 4-4 11-1-7-3-2-4 6-8 0 0-5 8-4 8-1 5-6-17 1-4-19-4-3-4-1-4-4-8 5-4-1-1-2 3-4-6-4 2-4-6-6-8 0-2 2 1 8-7 4-8 1 0-7-4 2-8-2-4-4-8 4-1-6 7-8 0-4 2-2 4 6 0 4 4-4 4 0 8 4 3-4-1-4 3-4-4-4-1-6-4 5-4-1-2-6-6-3-8 5-6-6 5-4-7-2-4 1-3 5-5 2-3-2 0-4-2 0 2 8-5-1-1 1 6 12-5 6-4 2 4 3 4 0 4-5 4 2 1 4 3 4-3 4 2 8 1 2 4-2 2 4 6 4-8 1-4-3-12-1 5-9 0-4-5 0-7-4-1-3-4 2-1 5 3 8-3 4 1 4-3 4 1 4 2 8 8 8 1 4-5 1-4-2-4-7 2-4-10 0-4-2-4-5-8 2-1-3 4-4-4-4 6-4-1-4-5-4 8-4 0-4-7-15-4 4-2-1 0-4-6-7-5 15 5 1 6 7-4 4 1 4 4 4-11 4-2-4 2-4-8-2 0-6-4-3-18-1 2 7 5 1-9 1-4 3-4-3-12 3-13-4-2 4 1 8-2 4 4 4 8 2 4-6 3 4-1 4 2 4 8-2 2 2-2 4-12 2-4 5-4 0-4 3-4-1 1-5-5-5-8 7-4-2-2-4 17-16-7-1-2 1 0 4-6 3-3-3 4-4-9-8-4 0 0-4-4-2-8 2-8-2-4 3-4-3-4 0-4-2-1-4-8-4-3-7-4 4-4-7-7 6-1 4-5 0 13 3 1 1-1 3-4-1-4 3-4-2-4 3-8 1 0 3 4 6-8 3-4 7-4-2-4 1-11-1 1-4 5-4-3-4-4-2-3 2-1 5-8-6-2 1 1 4-3 2-2-2 0-4-6-3-4 7-5 4-2 12-5 8-8 3-8-5-8-1-2 7-15 8 13 4-12 4-20-2-13 10-3 5-4-1-4 4-4-4-4 0 12-8-4-4-8 2-4 5-6-3 2-4-8-1-8 5 4 4-12 8-4 1-4 17-4-4-3 2 4 4-6 4 2 8-4 4-1 4-8 6-3-2-8-8 1-4-2-6-7 6 4 8-1 4 4-1 6 5-6 7-4 1-2-4 0-4-2-2-4-1-4 7-4 0-4 3-8-2-4 2 0 9-4 8 1 4-17 1-3 3-3 8 10 8-7 4-5 8 5 12-5 8 5 4-5 8-4 1-4-3-4 2-4-7-3 3 3 4 4 0-2 4-10 9-4 0-3 3-2 4 2 4-1 1-4 3-4-1-4 4-4-1-4 1-8-8-4 1-2-8 4-8-10-7-4 2-4 1 14 8-10 14-4 1-8-2-4 1-3 2 1 4-2 5-8-1-8 2-12 13-4 0-8-5-2 10 3 16-1 4-4-2-1 2 5 10 0 6 4 0 0 8 4 4-9 16 2 4-2 8-3 4-3 8-5 4 0 4-1-4-8-8-5-12 0-8 3-4 0-4-4-4 1-8-10-6-3-6-9-10-4-1-4-6-4 7-3-6 2-4-1-4 3-4 0-16-5-4 4-4-2-4 0-8 2-4 6 0 0-4-7-4 3-4-2-4-4-2-4 2-1-4 5-8 1-4-7-8-1-4-2 4-3 28-8 24 7 8 1 4-1 4 2 4 9 8 1 12-3 0-4-4-4-2-4 6-3 8 2 4-4 16 1 4-4 0-1 12-3 3-4-3 0-4-6 4-6-1-4 5 4 4-12 7-1-3 4-4-1-4-6-1-2 13 3 4-5 2-4-5-4 2-5-11-7-2-1-2 5-8 0-6-4-2-3 4 2 4-3 4-4-2-1-2 4-4-5-4 3-4-17-8-4-6-12 6-4 0-4-8-4-1-7 1 3 3 4 1-8 4-8-5-12 0-6-3 2-5-4-1-4 2-12-9-4 0-2-3 1-8-7 1 0-5-8 0-1-4-5-4 0-4-18-4 0-8-4-7-4-2-4 3-2-2 3-4 1-4-6-4 0-12-8-6-4 4-4-2 4-18 4 2 1-4 1-4-2-1-4 4-1-3 1-10 4-2-4-1-4-8-4-4-4 0-8-10-5-1 1-2 12 0 3-2-3-6-11-2 0-8 3-4 4-1 2 1-3 4 1 2 8-3 7-7-2-8-9-13-16-5-4-10-4-1-4 2-4 3 0 4-12-2-8 4-8-1-12 8-4-3-4 4-4 0-4-3-4 1-8 5-4 1-4-3-3 5-5 2-12-3-4 2-4-2-4 3-8-3-4 6-4-9-4 7-5 1 2-4-1-4-6 0-2-5-4 4-8 0-16-7-12-1 0 2 12 8 4 7-4 3-8-9-1 2 3 8 5 4 1 3 4-6 4 3-2 8-2 2-4-5-1 3 1 4 4 1 6 7-5 4 4 4 1 8 4 4-5 12 1 4-18 16-3-4 1-4-2-3-4 2-6-3-3-8 1-4-2-8-8-4 0-20-12-8-6-12-12-8 1-4-1-5-4-1-12-12-8-12-10-10-1-8 4-4-1-2-8 1-4-7 1-4-5-4-4-21-4 0-3-3-1-4-9-12 1-4-7-4 0-8-5-3-2-5-7-8-3-8-12-18-5-14-11-11-8 11-3 16-1 12 4 8-3 4-1 4 2 4-2 8 0 4 6 4 2 4-1 12 9 12 4 13 5 7 3 8 0 7-5 5 12 8 0 8 5 7 4-2 4 4 3 11 8 16 5 2 3 6 1 12-4 8-4-5-2 1 3 8-1 2-4-3-2 1 1 4 5 0 4 5 12 2 0 5 8 3 4 4 3 9-7 12 4 2 12 14 6 4 3 4 10 4 5-1 4 2 4-4 44-2 13 9 7 10 12 4 12 9 12 4 8 7 4 1 4 5 0 4-16 4-4-4-5 4 1 11-4 1-8-4-4-6-9-2 1-3 3-1-5-4 6-4-8-2-2 2 1 4-2 4-5 1-5-5 1-5-4 1-8-2-3-2-1-4-1 4-3 2-8-1-3 3-1 4-8 3 0 5-8 7-4-3-6 4 3 8-10 12-1 8-11 12-3 9-4 4-4-3-2 2 0 4-4 4 1 8-3 4-16 12 0 12-4-1-6 1 4 4 0 4-7 4 1 6-16 18 2 4-8 4-2 8-4 4-4 8-4 0-4 6-5 2-7 12-5 4-1 4-7 8-1 4-11 8-7 8-8 3-1 1 2 4-9 8-4-1-2 5 7 4-5 3-2 13-6 11-8 5-1 8-11 12-2 8-18 25-4 2-4-1-3 2-1 6-4-1-2 3 2 5-3 3-5 0 0-352 0 4 4 3 8 0 7-7-3-6-8 0 0-4 6-6 0-4-6-8-1-4-7-1zM488 1280l-2 4 2 5 4-2 1-3zM516 1136l0 4-4 5-8 2-5 5 1 5 12 3 2-4-2-5 17-7-5-7-4 1zM520 1093l-3 3 3 4 7-4-3-3zM556 1175l-2 1-1 4 6 0 1-4zM1056 1088l-2 0 0 8-3 4 1 4-8 7-4 1-4-8-4 2-8-5-8 2-14 9 1 8 12 8 3 12 6 6 8 1 4-4 4 0 10-7-1-8-5-4-1-8 1-3 8 0 6-5-1-8 3-1 6-11-2-2-4 3zM1084 1049l-4 3-1 4 1 4 4-1 4-3 1-4zM1096 1045l-2 3 2 12 4-1 4-8 4-3zM1116 1028l-2 4 2 2 4-2 0-5zM1324 1222l-1 2 3 4 6 6 4-1-8-12zM1344 1187l-4 5-3 12 3 2 8-1 4 4 5-5 0-4zM1472 1096l-4 0 4 9 2-5zM1508 1075l-2 1-2 8 4 3 7-7 2-4zM1520 1084l-8 4 4 2 4-2 2-4zM1764 972l-2 0-1 4 3 3 3-3zM1956 956l-4 2-4 0-4 7-4 2-4-3-3 4 1 4 2 2 12 1 4-11 5-4zM1988 939l2 5-3 4 1 7 8-1 12 8 4-2 4-7 3-1-11-4-4 1zM2292 1031l-1 1 5 8 8-4 0-4zM2708 971l-3 1-1 4 10 0zM596 1283l-4 3 0 3 8-1 7-4-3-3-4 3zM608 1116l0 4-3 8 2 4-3 3-4 1 7 8-4 8 7 0-1 4 3 5 8-13-3-8 2-4-1-8-6-10zM456 1271l-2 5 6 2 2-2-2-4zM492 1304l4 9 4-1-4-7zM992 1120l-3 4 0 4 3 3 5-3zM1052 1153l-5 7 3 4-4 8 6 5 4-3 3 6 9 3 4 4 4-7-7-4-5-7-8-1zM1088 1117l-7 7 7 6 4 2 4-4zM2272 1050l-3 2 3 4 4 1 1-5-1-2zM612 1269l-2 3 0 4 2 3 4 1-3 4 7 3 4-1 2-2-1-4-4-4 0-4-5-4zM460 1284l-1 0 3 4 2 8 4 0 1-4-5-11zM512 1451l-9 5 5 3 8-4 3-3-3-2zM548 1175l-9 9 0 8 5-3 4 7 2-8-5-4 7-4-1-4zM616 1364l-10 4 10 2zM2767 980l9 1 3 3-1 4-2 1-9-1zM1756 1000l3 4 0 4 3 4-3 4 2 4-1 2-4 2-1-4-7-5-4 9-4-1-4 6-4-5 1-4 8-4 2-8-2-4 3-2 8 3zM1903 1008l5 0 14 8-2 2-4 0-3-2-1-3-4 0zM1690 1016l2-4 8 6 4 0 1 2-9 8 4 4-5 0 1-4-3-4 0-4zM2496 1036l4 2 1 2-1 2-4 1-4-3zM1714 1040l2-4 8 2 6 10-6 3-4-2zM2096 1040l0-1 8 1-4 1-4 5-2-2zM1626 1060l2-1 3 1-7 8-2-4zM2439 1060l1-3 1 3 3 1 4-3 4 6-4 2-4 4-4-2zM1559 1068l1-2 5 2-5 6-2-2zM2182 1076l6-3 4 3-8 10zM1076 1300l4-3 5 3-1 4zM800 1408l4-2 4 1 1 5-5 4-4-4zM751 1584l5-1 8 6 2 7-2 5-4 3-2-4 4-4-4-8zM744 1596l7 0 0 4-3 2zM743 1624l3 0-1 4-9 5-2-1 2-5z"/>
<path fill="#FFD890" d="M452 432l2476 0 0 721-8 1-4-5-8-3-12-9-8-2-8-7-4 0-12-13-8-2-12-9-11-4-5-6-28-20-4-7-8-3-4-5-8-19 4-20 5-8-1-4 6-4 0-4 3-4 3-12 5-4 0-8 6-12 9-5 2-3-2-4 5-8-1-4 3-4-11-21-4 1-7 8 1 8-2 5-4-4-4 2-7 1-5 7-4 2-12 1-8 7-8-7-4 3-8-3-12 9-8-9-4 2-4 6-4 0-4 3-4-8-3 3 0 4-1 1-5-1-3-4-8 1-4-4-4 3-8-2-5 2 3 12-2 2-15 2-9-2-4-3-8 5-2 4-5 4-3 12-6-1-4-6-2 3-10 4-4 9-8-1 2-4-1-4-5-1-3-3-1-4-1 4-4 0-1-12-12-12-1-4 4-4-9-1-5 5-1 8 6 1 4 3-2 4 3 4-5 3-8-1-3-2 3-4-8-9-12 11-4-4-4 4-4-1-4 4-4 2-4-3-4 12 4 4-4 3-8 1-20 14-6 14-2 2-4-1-8 5-4 6-12 10-8 0-8-6-4 2-1 2 5 2 1 2-1 4-4 4-4 1-1 3-11 12-4 1-16 18-4 0-4 5-12 6-8 2-4 4-4-2-8 12-4 3-4-1-1 4-11 3-4 4-16 9-4-1-6 13-7 8-15 11-7-3 3-1 8-11-3-4 0-4 4-4 0-4 6-8 2-8 7-6 14-2-2-4-4 3-2-3-1-4 3-3 4-1-4-4 1-4-2-4 1-2 12-10 0-4 9-8 11-7-1-5 3-8 6-4 8-11 4-3 4 7 3-5 0-4 5-6 5 2 0-8 2-4-7-7-5-1 9-11 0-6 9-3-5-7-4-2-3 1-5 7-8-6-4 3-9 0-3 2-2 10-2 2-8-4-8 2-8-2-8-5-4 1-2 2 2 4 4 0 5 4-5 3-8-1-4 2-4-6-4 0 0-2-4-1-8 1-5-8 7-4-6-6-4-2-4 2-16-5-8-7-4 1-4 3-4-1-8 8-8 3-3 4 5 8-6 5-4-1-6-12 6-9 9-7 1-4-6-2-8-5-4 3-4-3-5 7 7 12-14-2-3 2 0 4-5 0 3-4-3-5-6 9 2 5-4-1-5-8 1-3 4 1 3-6 7-8 0-4-5-4-6 4 0 4-3 3-6-3 2-4-8-8-4 2-4-4-8 1-4 5 2 4-2 4-4 4-3-4 5-4 2-4-4-4-5 0 1-6-4 4-4-1-2-5 2-4 5 0-1-5-4-1-16 12-4-1-8 4-1-5 4-12-5-4-10-4-4 7-4-4-4 5-12-5-8 6-8 3-8-1-18-11 4-8-6-6-12 2-8-4-4 6-4-2-8 4-4-6-4-1-3 3-2 8-3 3-4-3 0-5-4-1-3 2-4 8 5 4 2 7 4-4 4 0 4-5 3 2-7 4-6 12-6-1-3-7-5-3-12-2-4-2-4 4-4-5-5 4 1 4-4 8-4-2-4 1-4-4-3 1 2 4-3 6-2-2 2-8-5-4 1-2 1-2 11-4 6-12-2-5-4 1-8-11-4-2 0 5 2 4-2 3-4 3-4-2-4 3-1-3 2-4-5-4-4 7-5 1-4 12-5 4-1 4 26 12-2 4 1 4-2 3-8-6-4-1-8 3-4-3-4 4 0 5-1-5-5 0-4 8-6 3-4 5-5 0-1-4 5-4-5-4 2-5 4 2 6-5-4-4 4-4-1-4-9-7-12 0 0-5-4-5-1 9-7 5-8-5-4 4-4-1-4 2-8-1 0 4 3 4-1 8 2 4-8 6-8 0-4 4-28 0-5-6 9-4-4-4-4 2-10-10-2-9-15 13 3 4 9 4-1 6-4 0-4-5-4 3 2 4-1 8-10 4 2 4-9 7-4 1-8-9-4-1-2-6-6-2-4 6-8-6-8-3-4-4-5 9 4 4 1 4 4-4 4 0 0 6 4-3 9 5-5 2-8-1-4 3-4-2-4 10-4-8-8-3-8 1-4 7-4-3-3 6 4 8-1 5-1-5-7-2-2 2 2 4-3 4 7 5 9-5 3-5 4 1-3 4 1 8-6 7-4-1-4 6-4 1-8 6-9-3-6 8 3 3 8-2 1 3-1 2-8-1-8 4-8 1-4 4-2-2 5-4-3-3-8 6-1 1 5 4-5 4-3 6-4 1-1 1 3 4-2 2-8 1-4 3-8-6-4 3-4-10-4 3 1 4-5 2-4 5-4-4-7 1-1 4 3 4-3 3-4-1-5 2 5 4-8 2-6 6 1 4-2 4-5 6-1 6 1 2 3-2 5-8 10 8-1 4 3 3 3 1-7 1-4-2-4 6-4-6-8-3 0 4-4 2-5-2-1 8-6 4-7-4 2-8-3-1-2 1 1 4-7 6-8 5-4 9 3 4-7 4 0 8 4 3 4-4 4 4 3-7-4-8 5-1 9 13 1 8 2 2 4 1 2-3-3-4 1-2 4-1 6 7-3 8 6 4-1 1-4 1-4-3-4 2-8-7-8 3-4-3-4 5-4-2-4 0-4 4-4 0-2-1-2-6-4-1-8 1-8 8-12-7-3 5-1 5-4-2-8 2-4-2-8 3-4-2-2 4 2 1 8 5 8-1 4 7-7 4 8 8-1 2-8-5-8 9-7 2 11 12-1 4 5-2 1 6-1 4-12 9-4 7 4 1 1 3-5 4-1 4 6 8-4 8 1 8 9 20-2 8-7 8 4 4-6 16-8 2-4-6 1-4-5-4 3-16-4-4 6-4-1-4-8-8 1-4-1-3-12-1-4-4-1-4 3-4-6-8-4 2-4-5-1-9 3-4-5-8 3-5 4 2 0-5 4-5 6 1-8-12 2-4 6-4-2-2-4 1-4 4-4-1 0-3 6-3 0-8-2-3-8-2-4-7 2-8-6-6-4 3-4-1 1 16-2 4-3 16-11 8 3 2 4-1 1 3-5 12 5 4 1 4-4 4-1 4 7 1 2 3-5 4 7 4 0 4-7 8-1 6-5 2-2 8 1 4-4 4 7 4-5 3-4-3-4 0-2 4 1 4-3 4-4 1-4-6-8 5-4-3-4 2-4-3-8 2-4-13-8-13-12 2-4-4-4 0-12 4-4 4-3-2 4-4-5 0-4-5-16 1-8 5-12-1 2-4-2-4-7-4-1-3-8 2-7-3 1-8-2-8-4 2-8-3-5-3-1-4-11-4 3-4-2-2-4 3-1-1 2-4-5 0-4-4-1-12-9-4 1-4-5-12-4-4 1-4 7-4 3-8-1-1-4 3-10-10 2-4 8-4 4 2 1-2-4-4-2-8 1-2 4 4 1-6-1-3-4 1-4-4-4 2 1-4-5-7-4 4-1-1-1-12 2-5 4-3 2 0-4 8 5 8 5 0 4 6 8-2-4-8 3-4-2-4 3-3 12 8 6 15 6 6 4-1 12 5 4-3 4 1-3 4-7 4 6 4-5 8 1 6 4-2 4 0 8 6 12 4 8 6 1 4-2 4 5 6 8-4 12 14 2-4-3-4 2-4-5 0-5-4 8-12-3-1-4 3-5-2-7-12-8-6-2-6-6-4 3-8-11 2-2-6-5-4 7-7 8-3 8 6 4-5 4 1 4 8 8-4 5 0 1-8 6-4 1-4-5-4 0-4 4-6 5-2-4-16 12 0-1-4 2-4-2-2-9 2-2-8 7-9 8-2 0-5 4-4-4-3-4 2-2-3 1-4 5-2 0-6 5-8-5-14-4-1-8 5-4-4-4 2-5 4 5 8-4 4-2-4-3 0-2 8-5 1-6 7-3 8-4 4 1 4 3 4 5 1 8-4 3 3-6 8-21 0-4-2-4 2-12 20-8 1-4 7-8-6-8 1-4 3-8 2-8-8-4 4-4-5-2 5-4 0-18-14-4 3-4-1-8-6-4-5-12-1-8 6-8 1-4 5-8-4-12 8-4-2-8 6-4-3-24 5-4-3-8 6-16-5-12 5-8-8-8 3 0-8-8 6-7-6 3-5-7 1 1 8-2 2-4-1-4-3-6-2 4-4-2-3-4-2-4 2-4 5-4 0 0 2 10 12-4 4 2 8 5 4-1 8 3 4 7 4 2 4-4 4 4 5 1 7 4 4-6 12 1 4-12 9-4-1-4-5-4 2-4-2-4-7 1-8-5-7-4-1-1-20 2-4-5 2-9-6-3-13-4 0-9-7-2-12-17-14-4-6 0-5-4 0-3-3 0-8-3 0-2 2-1-2 4-8-3-5-5 1-9-12 1-4-5-16-4-4 0-4-5-8 0-4-13-8-7-20-5-2-6-10-1-8-9-8-8-17-12-13-6 6-4 8-4 16-2 14-4-3-3 1 11 8-7 20 1 4 8 8-7 8 4 8-1 8 6 2 4-3 4-1 1 2 0 4 4 4 0 4-7 4 2 8 6 4 1 4-4 4 5 7 4 1 0 6 5 2 2 4-3 4-1 4 5-4 12 9 1 3-1 4-4-5-8-2 0 3 4 5 4 1 4-2 3 4 1 6 5 2-5 1-5-1 3 8-10 8-4-6-8 7-4-5-4 2-4-1-3 3-1 4-8 0-4 4-4-2-4 1-8-3 0-5-2 9-2 2-4-1-8-4-4-4-4 4 0-10 4 4 8-7 4 0 4 5 4-6 4 4 8 2 3-5-3-4 4-2 4 5 3-3-5-4-2-4-4-2-3 2 1 4-2 2-16-2-4 1-4 5-3-2 0-4 5-8 5-4 2-8-5-3-8-1-11 8-3 4 1 4-7 8-4-1-8 7-4 0-7 6 1 4 6 2 4-2-2-4 2-3 1 3-3 12 5 4 1 4 8-6 1-2-2-4 1-4 4-2 2 2 0 8 3 4-4 4-1 8-4 1-4-3-6 2-5 12 1 4-2 5-4 2-2 5 6 6 8-4 8 4 4-6 6 4 2 6 6-2-3-8 1-1 8 4-1 5-5 8 2 3 3-3 3 0 1 4-3 9-4 3-8 2-3-2-1-8-4 1-3 3 5 4 2 7 4-1 4 7 8 3 4-2 4 3 8-7 4-1 4 1 1-2-3-8 2-10 2 6 7 0 3-12-4-9 8-7 4 8 4-1 1-3-5-8 0-8-2 4 1 4-11 7-8-7-4 0-2-4 10-8 8 4 4-2 4 2 4-5 4 5 3-8 9-3 3 3-10 8 1 4 6 0 4-6 4 2 3 12 7 4-2 3-8 1 4 6 9-2-3-4 7-12 7-2 8 12 4-2 8 4 0 12 4-2 6 6-3 8 5 6 12 1 1 1 0 4 7 3-2 9 3 8 3 0-1-4 1-5 4 3 1-2-2-8 1-4 8 0 4-4 24-1 8-2 16 5 3 2 1 4 8 3 4 5 12 3 7 5 1 6 8-1 8 3 15 12-4 4-7 3-4 0-4-4-2 1-4 4-2 8-5-8 5-4-1-4-3-4-3 4 0 4-5-1-4-3 2-4-2-6-8 2-4-2-8 1-4-2-4 2-4-5-4-1-4 4-16 0-4 5-2-6-6-4-3 4 4 4 5 8-3 4 3 4-2 1-4-3-4 3-8 1-5-6 3-4-6 0-4-6-8 1-4 4-8-8-2 5-9 4 0 4 9 4-6 5-8 3 0 4 4 3 7-3 9-18 4 3 4 0 4-5 2 4-2 4 3 4 1 8 10 8-2 3-5 1-5 16-8 8-2 8-4 0-4 4-1 4-5 4 0 8-17 16-1 4-3 4-5 1-4-3-4 0-8 5-4 1-7-4 3 0 6-8-2-1-4 0-7 5 3 4 4 18 4 3 8-3 2 2 2 8-9 8-4 8-6 4 1 4-6 9-12 11-8 4-1 8-8 4-3 9-7 3-2 4 3 4-6 0-12 14-4-2-10 4 4 4-2 4-4 1-4-3-1 2-1 8-3 4-7 4 4 8 5 4-5 8-9 4 1 3 4 1-7 16-8 8-9 15-4 0-2 9-2 2-8 0-4 3-6-5 3-8-2-4-7-3 0-124 2-1-2-2 0-45 3-9-3-2 0-4 13 2-6-8 2-4-3-4-2-1-4 7 0-65 4-1-4-2 0-27 3 17-2 4 7 5 4-5 4 2 4-2 4-8 4-2 5 2-6 8-3 12 2 4 6-2 1 6 5 4-6 4 4 9 5-1-3-4 0-4 2-2 4 3 1-1 2-12 5-4 0-4-4-3 0-3 12-2 4-4 4 5 1-5-5-7-2-1 2-4-4-8-8-1-8 10-4-10-4 2-4-2-4 2-6-1 4-8-3-8 4-4 1-4-8-4 8-8-1-8 1-12-16-3-8 7-4-4 2-4-2-2zM464 972l-4 2 0 3 8 5 4-2zM676 583l4 6 14 11 6 10 2-2-7-12-15-13zM1184 1280l-5 4 1 6 9-6zM1208 1262l-2 2 2 2 8 2-4-6zM1260 1219l-1 5 6 4-2 4 1 3 6-3 3-8zM1272 1176l-2 4 2 4 5-4zM1288 1186l-3 2 2 4-5 4 2 2 4 0 1-2zM1724 936l-2 4 2 3 4 0 3-3-3-4zM1760 886l-2 6 1 4 3 0 5-8-3-4zM1836 879l-2 5 2 8 3-12zM1920 887l8 8 1-3-3-4-2-1zM1964 886l-3 2 1 4 2 2 3-2 3-4zM2232 929l-5 7 9 4 4-1 1-7-5-3zM2252 936l1 4-11 0 2 4-4 4 3 4 1 9 12 9 4-5 2 3-3 4-1 4 4 4 2 7 4-6 4-1 0-4-7-8 7-14 4 1 4-2 1-5-5-1-8-5-4-6zM2412 1016l-8 11-4 3 0 6 6-4-1-4 11-5 1-3zM2568 922l-10 14 6 6 8 1 4-2 4-5 5 0-5-9zM2824 902l-8 14 8 2 8-6-6-4zM1072 1149l-4 3 4 4 5-4zM1116 1134l0 6 4-1 2-3-2-3zM496 1197l-7 7 0 4 7 3 4-5 4 1 2-3 0-4zM524 1220l-3 4 2 4 8 8 1 4 4 1 4 5 7-2-7-15-8 5-4-10zM576 1269l-2 3 2 8 4-6 4 2 3-4zM608 1258l-10 14-1 4 5 4-2 1-8-2-2 1-2 8 3 4 1 5 4 2 4-4 8 2 4 4 8-8 4-1-2 4 6 3 2-3-1-8 3-5 6-3-2-3-8-1-12-14-4 3zM624 1187l-8 5 4 1 4-1 3-4zM644 1203l-3 1 2 4 9 5 2-1-6-11zM476 1403l-2 5 2 2 4-2 1-4-1-2zM496 1382l-6 6-1 8 3 1 9-5 1-4zM532 1066l0 9 4-2 1-5zM544 997l-4 3 0 6 4-2 8 7 2-3zM1272 1196l-1 8 8 0-1-4zM1288 1201l-8 7-4 7-3 1 3 6 4 1 4-1 5-6-3-4 5-8zM1632 946l-2 2 2 9 4-5zM1900 885l-1 3-6 4 3 4-5 4 9 5 8 0 3-1-5-4zM500 1251l-10 9 2 5 10-9zM544 1251l-3 5 2 4 1 1 1-1 0-4 3-4 4 10 1-2-1-9zM568 1299l-4 11 0-2-4-1-1 5 5 0 3 4 1 5 8-13 4 0 4-4-8-6 0 9-6-3zM492 1431l-14 13 2 3 4 0 4 7 4 1 4-2 11 11-3 7-4-1 0 7 4-1 4 7 8-7 4 5 8-3 1-2-1-1-6-3 2-8-4-2-8 6-3-4 13-8-2-16-4 7-12-6-8 2-1-3 2-8zM544 1011l-5 13 5 10 4-2 2-12-2-6zM532 1315l0 4 8 5-4 4 4 5 8 2 4 4 5-3 5 8-3 4-6 4 7 4 12-20-4-2-5-6-19-12-8 1zM556 1274l-1 2 5 3 5-3-5-3zM576 1332l4 5 5-1-1-5-4-1zM600 1316l-4 1-6 11 2 2 6-2 3-4-2-4zM544 1073l-2 3 2 1 8 1 2-2-2-3-4 2zM548 1044l-2 12 2 3 2-3zM544 1346l-2 2 0 4 2 4 4 2 1-2zM572 1355l0 10 7-5 0-4-3-2zM544 1358l-4 5 0 6 3-1zM544 1383l-1 5 5 4 6-8-2-4zM1836 908l4-4 4 4-4 6-8-2zM1932 924l4-2 4 5 8-2 1 3-5 3-4-3-4 3-3-3zM1742 928l6-2 2 2-6 5zM2022 932l2-2 8 2 6 4 1 4-3 2-12-5zM2040 940l4-2 4 0 2 2-1 4 3 5 10 3-1 4-5 4-7-8-7-4zM1840 948l8-2 4 5 2 5-10 5-8 0-3-5 7-3zM1867 948l1-2 6 2-6 6-1-2zM1731 956l2 8-5-3-4 2 0-4 4 1zM2095 960l1-3 5 3-3 4 4 4-2 4-4-1-4 3-5-6zM2516 988l4 8 0 4-2-4-6-4zM2499 992l1-2 8 6-7 0zM2535 996l8 0-3 5-4 0zM2268 1008l7 0-5 4-6 0zM2309 1016l4 0 2 4-8 0zM1519 1048l5-3 2 7-5 0zM1075 1104l3 0-1 4 2 4-3 4-10-4-1-4 3-1 4 4 4-3zM992 1108l4-2 4 11-4 1-4-2 3-4zM625 1112l3-3 3 3-7 7-2-3zM1063 1120l5 0 4-3 1 3 1 4-2 6-4 4-4-6-5-4zM1407 1132l5-3 5 3 11 17 1 3-1 3-4-4-6 5 4 8-6-1-6-7 3-4-1-6-4 1-4 5-2-4 0-4 5-4 2-4zM976 1152l7 0 3 4-2 2zM2214 1176l6-1 1 5 0 8-5 8-12 2-1 6-3 5-8 2 3 5-7 3-3 5-5 3-8 1-1-4-4-4-1-4 5-4 2-8 3-2 8-1 16-18 4 3 4 0 2-2-1-4zM688 1268l6 4-2 6-4-6zM503 1288l1-3 7 3-7 7-2-3zM490 1296l2-2 4 2 2 4-10 1-2-1zM1170 1324l7 0-9 10-4 0-2-2 2-3zM622 1364l2-2 5 6-5 6-4-2-2-4z"/>
<path fill="#FFC174" d="M452 432l2476 0 0 714-17-6-1-4-6-5-4 0-8-5-4 0-12-8-12-12-4-1-8-6-4 0-8-2-8-8-5-1-5-8-11-8-3-8 0-5-8-1-14-18-1-4 3-8 5-4-2-8 6-8-1-5 8-11 9-4-1-8 1-8 15-19 7-5 1-6 6-2 2-8-4-1-4-7 8-5 4-7-4-4 9-8 3-8 0-4-4 0-1-4 1-9-16-11-4 0-1 4-7 2-16 14-8-4-4 5-4-2-12-12-10 1-6 4-4-2-3 2 1 4-9 4-1 4-6 4 4 4-2 4 0 8 3 4-1 4-2 2-4-5-3 3-1 4-8 6-4-6-3 4-1 13-3-1-9-10-8-2 2-4-2-2-8 2-8 8 0 7-4 1-2-8 3-4-1-4-4 6-5-2 7-8-2-2-1 2-7 3-4-6-8-5-4-8-4 2-8-5 0-10-12 3-3 2 7 6 5 2-1 4-8 5-4-2-4-6-2 3-1 8-1 0-6-8-5-4-2-8-3-3-8-3-4 2-4 7-4 0-8-4-4 0 1 5-9 4-6 8 5 4-3 6-4 0-8 5-8 2-2-1 3-4-4 0-2 4-7 5-4-6-1 5-7 3-4-3-4 0-8 3 0 3 4 2 0 1-3 3-5-1-5 5 5 1 2 3-2 3-9 1 0 4-3 1-4-1-4-4 0-4-3-4-5-4-4 0 0 8 2 8-2 4 4 8 4-5 4 5-4 4 10 12-1 4-9 6-4 0 1-18-4-4 3-4-4 0-8-5-1 1-5 20-8 0-5 4-1 13 0-5-4-1-4 1-3 4 1 4-3 4 3 8-10-3-8 8-4-1 2-4-2-2-1 6-7 0 0 5-4-1-2 4 2 5-12 1-1 2 4 4 1 4-2 4-11 4 2 4 11 4 4-5 6 1-2 4-8 4-4 9-4-3-1 2 2 4-9 4 0 4-12 8-12 5-5-1-11 12-1 4-11 4 0 4-8-1-4 6-8-6-8 13-4-2-3 2-1 4-4 2-4-2 6-4-5-4 5-4 0-4 2-3 4 0 4 4 1-5 4-4-1-6-3-2 1-8-2-4 3-4 1-1 4 4 1-3-1-4 6-4-1-4 3-2 4 5 4-3 0-4 6-4-1-4 3-4 0-8 4-8 5 0 7-9 4 3 11-6 0-4 9-16-2-4 9-4 2-8-2-8-4-4 8-8-1-4-6-9-6-3 0-4 5-4-11-9-2 1 0 4-3 0 2-12-5-9-8 3-4-2-3-4 5-8-2-7-5-1-3-5-4 0 2 5-2 1-4-1-8 12-8-8-4 8 0 4-4-1-4 2-10-9-1-4 2-4-2-4 3-3 8 1 2-6-2-4-8-3-4 5-4-1-4 2-4-6-12 1-2-2 3-8 0-8 8-8-9-6-4 1-4-3-2 4-1 12-7 8 1 4-7 6-2-10 8-8-3-4-11-3-4-4 2-13-3-4 1-5-18 13-4 8-1 8-17 4 2 8-4 8 2 5 5 3-5 2-4 4-7-2 0-4-9-6-3-6-5-1-3 1 6 4-7 16-2-4-1-4 3-4-3-8-5-4 2 4-2 4-8 5-3-1 1-8-2-4 4-4-7-8-1-6-4 3-3-1 6-12-3-4-8 4-12-4 3-4-7-5-4 1 4 2 0 3-6 3 18 7 4-2 0 7 8 12-4 3-4-3-12 12-8-1-4 1 0-4-4-1-2-3 6-7 6-1 0-4-2-2-4 0-4-6-5-4-15 0 0-1 4 0 2-3-2-2-8 3-1-1 6-8-1-3-16 1 0-6-4-2-4 2 6 8-6 2-4-1-12 12-8-7-8 6 5 4 0 12 3 4-4 7-4 0-4-5-4 0-3-2 2-4-3-2-4 1-4-3 0-4-4-3-3 3 1 4-2 3-7-3-3-4 6-4-3-12-5 1-4-4-4 6-4 1-2-4 2-4-4-2-4 5-2-3-1-8-12-8 1-4-2-2-8 4-3-2 0-4-5 0-6 4-2 3-9-7 1-4-8-6-4-2-1 4-3 2-8-5-8 1-2-2-6-8 1-8 5-4-2-6-4 0-4 5-8 0 2 5-6 3-2 5 5 4-3 4-4 2-4 2-12-4 0 4-4 6-4-1-4-6-4 3-4-2-4 7-6-7 0-4-2-2-4 11-8 5-6 6-2 7-4 2-4-4-8 10-2-7-6-4-18 12-2 4 0 4-4-2-8 2-3-4 7-1 2-3-1-8 5-4-5-4 0-4 3-5 8 3 12-4 4-6-3-4 1-4-6-4-4 1-4 3 5 4-13 3-9-11 1-4-4-4-8-1-1 1 1 2 4-1 1 3 0 4 4 8-1 2-20-12-4 2 7 20 1 1 8-9 4 4 0 9-9-1-11 15-8-11-4 5-3-1 1-4-2-6-5-6 2-8-9 0-8 4-4 6-4-1-2 3 6 6 8 2 6-8 5 0-1 4-6 8-1 8-3 2-4-3-5 5 7 4-10 7-8 3-4-3-4 2-4-2-4 10-4 3-8-4-7 4 3 2 3-2 1-3 3 11 3 4-2 3-4-1-2 2 0 4 4 4-2 1-4 2-2-3-2-4 2-8-2 0-2-4-6-1-4-5-5 2 3 8-6 1-5-5 1-4-8-9-4 6-4 1-5 6-3 2-5-2-1 4 2 8 4-3 7 7 0 8 2 4-3 4 4 12-2 4 1 4-9-3-8 4-4 4-8 3-5 8-9 8-1 4 4 4-1 1-12 1-7 10-8 8 7 11 4-1 5 2-2 4 4 4 1 4-6 4 2 4-4 3-12-9-6 2 4-8 5-4-1-4-6-4-4 1 1-5-5-5-4 4-6 1 4 4-6 1-1 3 2 4-17 3-4-5-2 2-6 8 5 4-9 11-9-11 4-4-3-2-12 5 2 9-3 4 5 8-2 4 2 3 12 5-4 1-1 3 6 4-1 4 7 8-3 2-4-4-4 3-12-3-2 2 3 4 0 4-5 7-4 1-3 4 0 8 3 8-4-1-4 5-4-1-4 6-4-2 0 11-4 1-10 9-1 4 6 8-3 4-4-5-1 5-7 6-4 1-8-3-4 3-4-7 8-2 2-2-6-9-4 1 0 4-4 3-4-1-5 6-1 4 4 8-2 2-4-4-1 2 1 4-8 6-4 0-4-5-1 3 2 8-7 12-10 4-8-2-3-2-1-5-4-3 0-13-8-1-1 6 1 4-5 4 1 6-4 2-6 0 5 8-3 3-6-3 0-4-2-1-4 1-4-1-4-5-12 2-2 4 1 8-3 6-4-3-3 1 0 4 9 12-6 3-8-2-4 3 4 8-3 4 8 4-2 4 6 12-19 0 3 4 0 8 3 3 5-7 3-1 2 1-4 4 0 4-2 2-8 0-2 2 2 3 4-3 4 3 5 5 0 4-6 4-11 2-4-10-1 4-3 2-4-8-2 2-2 12 2 8-2 6-8-5-5-5 1-3 4 1 5-2-2-4 3-4-2-1-4 1-4 7-8 1-4-1-2-3 1-4-3-1-3 9 2 4-3 1-2-9-2-1-4 3-4 1-2 5-10 4-23-8-1-5 0 5-4 2-4 0-8 4-4-2 7-4-5-4 2-4-5 0-3 7-4-11 0-4-4-2-4 1-8-2-12-11-4 2-1-4-7-5-4 0-12-11-7-8 2-8-6-4 4-8-5-7-4 2-5-3 5-5 3-7 0-4-3-5 4-1 6-6-6-8 1-4-2-4 1-8-3-4 8-4-7-8 6-7 8 8 3 7 0 8-6 4 3 2 8 1 4-1 4-3 8 12 2 1-1 12 4 8-1 2-4 0 0 3 4 3 8-10 4 6 8-1 8 5 4-1 0 9-2 4 3 4-1 5 8-4 8-1 4 4 0 8 3 4 5-1 4 3 1-2-2-4 4-8-5-8 4-4-2-3-4 3-4 0 2-8 5-4-3-3-6-1-9-8 2-4-7 0-4-4 4-12 8-5 4 1 4 7 4-2 4-10 2 1 6 14 7-2 9-7 6-1-3-4 1-4 4-4 4-1-2 5 2 4-5 8 9-2 4 2 4-3 1-5-1-3-5-1 0-4-5-4 6-1 4 6 3-5-3-8 1-8-10-8-4-8-1-8-6-4-1-4-7-4-2-4 3-8-1-5 4-3-4-4 4-1 2-3-1-4 3-4-7-4 0-4 7-10-1-14 7-8-2-9 0 5-4 3-8 0-4 2-3-5-5 2-4-4-1 2 1 5-8-2-8 2-2 3 2 4-6 8-1 8-7 4-6 16-8 1-1 3 3 4-5 4 0 4-9 4-4 7-4-6-1 7-5 4 0 8-10 6-4-3-4 2-8-2-1 5-7 2-4-6-4-3-4 1-8-6-4 4-4-6-8 0-4-5-12-2-2-3 3-4-5-2-4 3-12-3-8 5-8-5-3 2 1 4-2 2-4-3-16 13-4-2-8 5-4-5-4 5-4-9-4-2-4 4 0 3-4-1-4 2 0 5-12-1-8 2-8 0-3-2-1-4-4-1-8 4-4-5-8-1-4-5-8-4-4 4-4 1-8-5-4-6-8 6-4-6-3 2-1 4-4 4 3 4 0 4 5 8 3 16 5 4-1 8 5 6 5 2 0 4-2 4 6 8-1 4 3 4-5 16-6 6-4 1-4-1-8-7-4 1-3-8 2-4-7-8-2-4 0-20-2-1-4 2-7-5-1-8-4-8-4 2-7-6-3-12-9-8-1-4-4-1-3-3 0-4-5-9-4 2-1-1 1-8-6-4 2-4-1-4-4-4-7-3-5-5 2-4-3-4-5-20-6-8 3-4-1-4-13-6-6-10 3-8-1-2-8-2-8-8 3-4-15-17-3-7-13-18-4-2-10 8-2 12-4 11-4 2-8 1-4 14 4 1 4-3 2 2-4 4 0 4-2 1-4 0-4 6-5 1 2 4-1 4-4 4 2 4-2 2-3-6-5-5-1 5-3 4 6 4 2 4-4 4 4 2 4-3 2 13-2 2-4-4-3 2-3 8-6 3 0 5-6 4 4 8-3 4 1 4 8 4 2 4-2 4 3 4 1 4-4 0-4 4-4-2-7 2 0 4 6 4-5 4 0 4-2 2-8-3-8-9-4 1 2 9-2 2-2-2 1-4-3-1-4 9 0 4 4 1 0 4-4 1-4-4-4 2 9 20-1 4-4-6-4 1 4 6 4 1 1 2-4 4 3 3 4-1 2 2 0 4 5 4-3 5-4 4-8-1 2-4-2-3-5 3-3 4-2 8-2 2-5-10-3-2-4 1 0-18 4-4 4 4 11-5-11-2-4-4-4 0 0-85 1-1-1 0 0-23 8-3 2-6-2-3-4-1-1-4-3-3zM460 970l-3 2-1 4 4 6 4 2 4 9 2-1 5-12-11-12zM676 580l-3 4 19 18 10 14 14 8 5 0-13-12-12-18-16-14zM988 930l-1 2 1 6 4 0 3-6-3-3zM1180 1194l-2 2 4 4 1 4 4 0-1-4 4-4-2-2zM1488 883l-8 4 2 5 2 1 4-3 8 0 0-3zM1500 895l-6 5 2 5 4-2 1-3zM1532 870l-6 6 2 2 4-2 2-4zM1544 847l-4 5 3 4-1 4 2 10 2-2-1-4 3-1 1-3-5-4 4-4zM1628 792l-7 4 5 4-5 4 1 4 6 7 4-3 1-4-2-4 3-4-5-4zM1668 775l-2 5 10 5-4-12zM1712 785l-2 3 2 3 5-3-1-3zM1772 789l-3 7 3 4 4-4 1-4zM1792 801l-3 3 2 4 3 0 2-4zM1972 839l-1 1 5 4 2-4-2-2zM1988 815l-2 1 2 12-8 3 0 2 8 1 2-2zM2016 820l4 15 8-1 4-2-4-7-4 6-3-3 0-8zM2364 947l-2 1-2 8 2 4 6 1 7-9-3-3zM2380 948l-6 12 2 5 4 1 4-5 4 1 9-2-1-4-4 3-4-2-4 1-2-2 3-4-1-3zM2680 879l-2 1 4 8-8 8-2 14 4 0 12-14-1-4 3-4-1-4zM2720 902l-3 2 5 8 6 4 2-4-2-3-6-1 5-4zM1004 1150l-3 2 1 4 2 2 4-2-1-4zM1152 1168l-11 4 11 1zM480 988l-5 4 3 4 2 2 4-2 4 1-1-5zM720 1021l-2 7 2 3 8 0 3-3 0-4-7 0zM2060 827l-1 1 1 5 10-5-2-3zM2268 879l-3 5 3 2 8 0 1-2-1-5-4 2zM1064 1231l-4 1-1 4 9 8 4-8zM1076 1235l-4 1 3 4-6 4 3 5 5-5 2-8zM1992 855l-1 1 0 8 5 7 3-3-2-4 5-4-6-5zM1859 816l1-3 8 7 1 4-1 2-8-6zM1785 820l3-3 3 3 3 4-2 3-8-3zM1917 828l3-3 8 8 7 3-3 4-4 2-6-6-1-4zM1691 832l5 3 0 6-4 1zM1793 832l3-2 6 10-2 2-4-2-4 3-1-3-5-4zM1907 832l1-2 7 2 4 4 1 7 7 5-3 2-4-2-4 3-6-7-1-4-4-4zM1771 840l6 4-9 7-4 2-4-5-4 1-4 5-5-2-1-4 2-2zM1658 864l2-2 4 1 0 5 5 8-9 1-8 5-4-6 0-8 4 0zM1628 868l8-3 3 7-1 4-5 0 1-4zM2010 876l6-1 1 1-2 4 2 4-1 5-4-2zM2199 876l5-3 7 7-2 8 10 4-3 4 2 4-2 9-8-8-14-1 6-10 7-2-3-2-9-2zM1663 888l1-2 4 1 3 5-3 4-16 10-1-2 5-11 4 5 3-2zM1592 896l4 8 4-2 0 6-4-4-1 4-7 0-5-4zM2183 896l9 10 0 7-4-2-8 1zM1626 900l2-2 3 2 3 4-6 7-4 0-4 3-9-10 5-2 8 5 5-3zM2055 900l5-4 3 8-3 2-4-1zM1562 904l2-2 8 4 8 1 0 4-12 4-4-7-4 0zM1579 916l1-3 2 3 6 0 2 4-2 2-8 0-2-2zM2628 916l4 0 0 6-4 0zM1567 920l1-2 9 6-1 1-4 0zM1595 928l1-2 4 2 2 8-2 2-3-2zM1539 936l3 0-2 4 0 12-4 4-4 1-4-3-5 2-3-8 4-8 12 0zM2485 956l3-3 3 3-2 4-5 1-1-1zM1538 960l2-2 6 2-2 6-4 1zM555 980l2 0 3 4-4 6-5-6zM1467 1004l5-4 4 4-4 3-4-1zM2447 1004l1-2 4-1 4 3-2 8-18 10-6-2 3-4-1-3-8-5 8-3 4 1 4-2 4 3zM1454 1008l2-1 4 4 8-2 3 3 0 4-5 4 2 8 4-9 4-1 3 2-2 4-1 8-12 5-6-9 4-4-10-12zM1432 1012l4-1 4 4 8-1 3 2-3 3-12-2zM571 1024l1-1 4 5-4 12-4 1-6 7 7 12-1 2-4-2-5-8-5-4-1-4-3-4 2-3 4 2 0-7 8 1 4 6 4-3-3-4zM2418 1028l6-3 8 3-12 8-4-4zM584 1068l3 4-3 11-4-4-4 4-8-3-6-8 6-2 4 3 4 0 5-1zM596 1088l7 4 2 4-5 3-12-2-12 8 0-13 12 2zM860 1088l4-1 3 5-7 0zM1131 1116l1-4 8 2 2 2-2 4-4 2-5-2zM2263 1136l1-3 4 3-4 5-2-1zM1106 1140l3 0 7 9-4 3-3-4zM1328 1156l4-3 8 1 3 2-15 5zM461 1168l3-2 4 0 1 2-9 12-2-4zM478 1172l4 0 9 8-8 8 5 4 1 4-5 6-4 2-12-8-8 8-1-4 5-5 4 0 2-3-4-4-1-4zM585 1172l11-2 1 2-2 4 6 4-1 4 10 4 2 4-4 4 1 4 8 8-5 0-6 8 6 4-2 4 2 4-6 4 2 2 11-2 1-4-2-4 4-8 1-8 5 2 4 0 1 2-5 4-1 4-5 4 3 4 0 12-3 4 6 10 4 0 4 6 8-1 0 5-12 2-8-10-10 0-6-4 1-4-5 1-2-1 2-4-2-4-6-7-2 7 3 4-5 3-8-4-4-6-4 3-12-6-8 7-4-4-4 0 0-2 8 0 9-7-5-2-8 4-6-2-2-4 4-4 4-1 4 2 5-1-3-4 2-7 4 5 2-2-1-8 4-4 2-12 1-2 4 0 4-2zM642 1180l2-1 1 1-1 9-6-5zM2196 1192l4-4 6 4-6 2zM732 1208l12 2 4 2 1 4 15 11 4-1 13 6 1 4-4 4 0 4 4 4-2 2-4 3-1-1-1-8-2-5-8 4-8-4-4 2-4-4-4 3-4-8-16 7-20-12-1 5-3 4-7-4-2-4 3-4-3-8 1-1 4 0 20-6 4 1zM2174 1208l2-3 4 2 4-1 4 4 0 4-4 6-5 0 1 5-8-5-2-4 4-4zM647 1216l3 0 2 4 4 3 4-3-1-4 4 0-3 4 4 3 8 0 2 5-5 4-1 4-4-6-4-1-4 6-8-13-7 2 1 4-6 7-7-3 8-8 1-4zM531 1220l5-2 8 6-7 0zM490 1228l2-3 3 3 0 4 3 8-1 4-5 6-9-6 1-10 4 0zM508 1228l8-3 3 3 1 4-4 7-2-7zM687 1232l1-1 2 1-2 9-3-5zM1267 1236l5 1 8-4 4 3-2 4 6 2 2 6-2 4-1 8 2 4-2 4 0 8 4 4 5 29 4-1-1 4-4 4 3 4-2 3-4 0-8 7-2-2 0-4-4-8 6-4-1-4-3-6-5-2-1-16-7-8 1-11-4 1-4 4-10-2 1-4 5 1 1-1-2-4 1-4-5-4 1-6 4 4 4-3 7-7zM523 1240l2 0 3 6 8-1 2 7-2 6-4-1-10 7 5 4-3 3-4-4-5 1 2 4 0 4-1 1-2-5-8-8 0-12 2-8 4 1 4-4zM790 1240l10 1 14 11-4 4-6 2-4 0-4-3-4 2-6-9zM562 1244l2-1 10 5-2 2-8 2-4-4zM695 1252l6 0 1 4-2 2-4 0-2-2zM664 1260l4 0 4 5 4-3 1 2-2 4 1 4-4 4 6 4-2 8 2 4-6 10-4-3-1 1 1 4-4 7-4-4-5 1-1 8 2 4 0 4-5 0-3-4 1-4-1 0 0 4-7 8 3 4-4 4-4-1-1 1 5 8-4 2-4-2-2-4 1-4-3-3-8 5-2-6 1-4 7-4-6-4-9 0 5-8-4-3-4 2-3-3 1-4 2-4 4 7 4-6 4 0 9 3 7 9 8 0 0-2-4 1 0-4-6-4 6-2 4 4 4-5 4 1 1-2 1-4-2-2-4 3-8-5 5-4 7-2 13-14-6-4zM1220 1268l1 4-5 5-2-5zM636 1284l4 8-4 1-2-5zM550 1288l6-2 5 6-5 2-4-2zM534 1292l6-2 5 2-4 8 1 4-2 2-9-6-1-4zM524 1300l8 7 4-1 3 2-3 3-4-1-4 7-4 1-3-2 1-4-2-4zM1155 1300l9-1 4 7 4-4 8-3 4 1 3 4-3 5-4-2-3 1-5 8-4-4-4 3zM579 1312l5 1 4 4 4-2-1 5-3 3-4-3-4 4-6 0 5-4-4-4zM452 1316l0-4 8 10 2-2 2-7 8 7-6 4 1 16 1 3 3-3-2-4 3-4 8 3 4-1 0 3-4 0-8 3 16 9 4-7 4-2 2-8 6-7 3 3-4 4 5 4 3-4-2-4 3-4 8 2 8-3 1 1 3 4-4 3-12 2-3 3 2 4-5 4 2 1 3-1 1-2 0 2 6 4-3 4 0 4-5 4 6 4 4 1 1 3-7 8 0 4-6 2-4 5-4-11-4 4-1-4 1-2 4 1 0-4-4-3-4 0 2 4-3 4 0 4-7 5-4-4-4 12-4 4-4-2 0-7-4-4-1-8-5-8 0-4-5-4 2-4-4-4 7-8-6-5-4 4zM476 1324l4-2 3 2-7 1-4 6-2-3zM523 1336l1-1 10 9-2 2-8-6-7 0zM590 1336l2-2 4 1 8 9-4 4-4-5-4 0 2 9-2 8 6 8-5 8 7 6 10 2 0 8-8 0 3 4-1 4-5 4-1 8-6 6-13 6 3 4-6 6-4-2-4 4-1 4-4 4 0 4-6 8-5 0-3-4 0-8 7-6 4 2 2-4-6-1-16 5-2 12 3 4-1 4 3 4-7 8-4 1 0-6 6-3-2-3-8 4-3-5 2-4-3-8 0-4 4-2 4 7 2-5 0-8-4-4 1-4 5 2 2-6-6-10-4 9-4-7-4 1-8 19-8 0 2-8 3-4-1-4 4-4 1-8 5-4-6-1-1-3 3-8 6-3 4 0 4-4 4 4 8 1 2 2-9 4 0 4-2 4 1 6 4-6 4 0 4-7 4 1 4-7 4 4 4-2 8-9 7 0-7-1-1-3 5-4-4-6-8 7-12-13 4-5 4 3 8-7 4 2 2 11 6 2 5-6 3-12-4-4-6 0-2 3-2-7 6-7 4 4zM544 1407l4 6 4 0-4-7zM576 1419l-9 5 1 2 8-3 2-3zM1282 1336l2-2 6 2-1 4-3 0zM610 1340l8 0-4 4 2 4 4-5 1 1-1 4-4 6-4-6-7-4zM525 1352l3-4 4 4-4 3zM523 1360l5-2 4 3 4 3-1 4-3 0-4-7-4 2zM535 1372l1-3 4 16-16-9 8-2zM452 1404l0-4 6 8 6 2 4 5 3 1-7 10-4 0-4-7-4 4zM496 1416l4-2 1 2-3 4-2 9-4-5zM479 1424l2 0 0 4-1 2-4-1-1-1zM459 1436l5-3 8 1 4 2-2 8 4 8-1 4-10 0 8 8-3 9-4-4-3-9-5-5-4-1-3-2 3-3 5-1 2-8zM488 1460l4 1 4-4 2 3-6 7-4 0-2-3zM452 1468l4 9 4 0 3 3-2 12 3 2 4-7 4-1 4 4 4-2 7 4 1 4 12-6 1 2-5 8 4 1 4-4 1 3 0 4-8 8 4 20-3 4 4 4-6 12-8-1-4 1 4 3 2 5-11 12-3 9-4 1-4-1-4 1-2-2 6-2 1-2-2-4-5-4 7-4-5-4-4-1-2 1 1 4-3 2-4-5 0-6 4 2 6-5 1-4-11-8zM472 1490l-2 2 1 8 5 3 2-3-5-4 1-4zM476 1505l-2 7 5 4 1 9 3-9 5 2 1-2-5-5-4 4zM480 1476l8 0 5 8-9 0z"/>
<path fill="#FFAB57" d="M452 432l2476 0 0 508-4 0 3-4-4-4 0-4-11-12-8 5-4-1 0-5-4 4-3-3 1-8-2-5-4 1-2-4 4-8 0-8-6-10-4 0-8 5-2-11 2-4 4 0 2-4-1-8-5-11-4 2-5-3 2-4-1-1-4 3-3-2 1-8 2-2 4 4 8 1 3-3-3-5-8 3-4-7-4 7-8-1-4 11-1-4-3-3-4 1-8 0-4 6-8 1 1-5-12-20-5 2-8-3-1-3 4-8-3-2-4 9-20-5-8 7-4 1-4 14 6 12-2 1-12-11-10 6-2 9-4 3-4-8-4-1-4-5-4 3-3-5 3-3 8 1 2-2-7-12 13-8-4-5-4-1-4 6-8 4-4 7-4 0-4 6-12 5-4 4-8 0-3-2 5-4-2-2-5 2-3 5-4 0-3-9 5-4-2-2-10 2-2 6-1-6-7-2-2 2 0 8 3 8-5 4 4 4-4 1-8-5-4-1 0 17-8-2-4 6-8 1-4 5-12-1-8 9-5-2-7-9-8 0-8-4-8 2-8 5-8-1-3 3 7 4 4 0 0 4-9 12 2 4-7 4-1 4 2 4-5 4 1 4-3 1-4-3-4 3-16 3-4-7-4-1-1 4-4 4-8 4 0 12-3 6-8 0-3 2-1 5-10 11 0 4-2 3-8-2-6 3 2 3 5 1 0 4 5 8-2 3-4-2-8 12-8 5-3 6-1 10-4 0-4 2-8-2-4 7-8 3-4-2-3 2 2 4-9 8-1 4 2 4-11 9-2 3-2 10-1-2-3-1-10 9-6 0 0 4-4 5-4-3-12 10-8-2-2-2 4-4 2-1 4 3 3-2-5-4 0-4 2-3 4-1-2-4 2-3 4 4 1-1 6-12-3-4 19-12 9-20 9-8 0-4 3-3 0-5 4-3 8-1-4 0-3-8 3-2 8-1-2-5 2-3 12-2 8-3 3-4-2-8 1-8-2-3-8 0-3-5 1-4-2-1-4 3-5-2 0-4-8-12 2-8-1-1-4 2-4-1 0-4 10-8-6-5 0 5-8 6-2-2 1-4 2-4-2-4-3-3-4 1-3-2-5-7-4 1-3-2 1-4-5-4-1-5-4 3-2-2 1-4-3-1-4 2-3-1-1-4-4 4-4-1-8-10-4 5-1-2 1-3 3-1-3-5-8 3-8-4-4 1-8-2-5-5-2-8-5-2-4 4-4 1-3-3 9-8-5-4-5-7-4-1-6 8 0 4-4 0-2-8-4 0-1-4 3-4-2-7-12-8-4 3 0 4-8-4-4 6-4 1-4-3-12 5-8-9-12 3 4 4 4-1 6 6-2 5-4-6-4-3-4 2-12-7-4 1-3 4-1 8-5-4 4-4-3-2-8 8 0-10-4-1-4 3-8-7-3 5 2 4-3 3-4-4-4 1-4 4-4 0-4 4-4-1-8 4-1-3 4-4 1-4-4-11-8 4-4-6-5 5-11 2-4-4-8-1 0-5-8-4-4 3-4-3-12-20-4 0-4 6-4-1-8 4-2-1-2-4-1 4-3 2-4-3-4 2-5-5 6-4-1-4-4 1-4-5-12 6-4 9-8-9-4 0-16 9-7-11 7-4-4-3-6 3 0 4-6 6-8-2 4-2 3-6 1-4-4-2-4 1-8 13-4-2-8 6 3 8-3 2-4-5-9-1-1-4 6-4-2-4 3-8-5-11-10-5 1-8-3 0-8 4-2-4-8-4-2-3-2 3 6 12-4 3-4-1-6-6 5-16-3-4-4 0-8-13-4 2-4-3 2 6-2 0-12-5-8-8-2 5-6 2-4 6 4 9-4 3-4-2 0 6-4 8 5 8-1 5-4 1-4-6-2 0-2-5-4-1-2 2 8 12 11 4-13 5-8-5-10-16 2-4 10-4-10-2-4-4-4 2 2 4-2 3-17-11 4-4-2-4 3-3 4 2 8-3-8-5-10 5 1 4-7 9-8-2 6 5-6 3-2 5-10 7 0 4 3 1-3 0-8 1-4-10-4 2-1-1 2-4-10-8-1-8 2-4 4-4-2-4-4 0-2 5-4-2-8 0-4 8-8-2-4 7-2 12 6 4-6 4 12 16-2 4-4 0-11-8-1-5-4-1-4 2-4 4-2-4-6-4 1-8 7-5 4 0 4-3-4-5-4-1-5 2-1-8-4-4 1-4-3-2-4 4-4 1-7-3 9-4-4-12 10-8-4-1-8-7 3-12-1-4 2-1 4 4 12-8 4 2 3-1-1-8 2-1 8 4-8 12-8-2-8 6 0 2 6 7 6 2 2-2-2-4 4-2 8-10 5 0 7-8 1-8 7-4-4-12 3-4-3-4-4 3-4-3-8 13-4-1-3-4 1-8-2-1-4 5 2 8-2 2-8-3-4 1-3 8 5 8-2 4-8-1-8 2-6-1 5 8-11 4-2 4 3 4-5 3-8-1-4 3 0-5-4-3-9-1-7-9-2 5-6 7-6 1 2 3 8-1 0 3-4 1-2 2 4 4-1 4-11-4 0-4-6-2-9 6 1 4-5 4 2 4-1 2-4 0-4-3-9 1 3 4 2 8 4 0 4 12 3 8 4 4 1 4-4 1-11-5 3-1 1-3-1-2-3 2-1 8 3 4-6 4 7 3 0 5-4 1-6 7 3 12-4 8-6 4 4 8-3 8-4 3-1 5-3 2-3-2-1-4 5-12-1-2-4 4-4-3-4 2-4-3-12 6-12 1-7-9 2-4-2-8-2 0-3 8 2 4-8 12 6 2 8-5 6 7-5 4-1 4 3 4-5 4 2 1 4 0 5-5-3-4 2-5 4 1 4 5 4-1 3 4-7 2-4 7-4 1-1 2 5 4 4 1 5 7-10 12 2 4-5 4 1 4-6 8 0 4-7 4-1 12-4 4 3 8-3 4 0 4-9 12-2 6-4-2-4 4-4 0 0 8-5 12-7 4 3 4 1 8 4 4-5 8 4 4-7 12-7 4 1 8 8 4 0 8-2 3-8-2-3 3 3 5 4-2 2 1 2 10-4-3-12-1-4 2-4-1-12 6-1 3 9 5 4-7 1 2-2 12-5 4 9 4-6 4 4 4-8 4 3 6 4-3 5 1-5 14-4 2-5 8 3 8-7 4 0 4-3 3-8-2-8 6-4-2-3 3-5 14-4 1-4 8-7 5 1 4-3 8 2 4-3 8-10 6-8-2-4-8 1-4-3-12-2-3-4 0-4-7-4 2-1 4 2 4-1 10-9 6 3 4-2 1-12 5-3-2 2-4-7-6-4-2-4 1-4 4-4-2-3 1 3 16-2 4-6-1-8 3-4-1-4 1-3-2-1-4-4 0-4 5-4-2-4 3-9 2 3 4 2 10 4-3 12 5 6 4-1 4 2 8-3 20 4 4-1 4-7 3-4-1-4 4-4 0-3 2-5 8-1 4-7 8-4-12 0-4-4-1-1 5 1 4-4 6-4-2-4 4-4 1-8 8-20-5-2-4-6-5-4 7-2-2-8 0 3-4-5-6-8-7-10-3 3-4-3-4 2-4 12 5 4-4 6-1-3-4-2-12-1-1-4 2-2-1 3-4-1-4 7-8-4-4 9-1 3 13 9 4-5 4 1 2 8-1 5 7 4-8-4-4 2-8-3-4 1-4-2-4 1-3 8 3 3-4-2-4 2-4-3-2-11-2 3-9 8-6 4 0 4 8 2-9 2-1 4-2 12 3 8-1 4-7 4 3 3-3-8-12 2-4-1-8 8 0-1-8 1-1 12-2 9 3-5 6-4-4-4 6-8 0 2 4 18 4 4 7 1-3-3-4 1-4 5-1 3-3-4-4 5-4-8-7 0-5-4-2-6 2-6-7-12-6-12 1 2-4-2-8-4-2-6-10-6-4-2-4 3-8-2-4 0-8 6-16-5-4 4-8-2-16 7-4 1-4 0-8-6-5-4 1-2 4 2 5-4-2-5 1-13-8-2-4-4 2-4-1-8 12-16-10-7 5 3 4 1 12 3 1 4-3 3 2 2 4-4 4-1 5-4-3-4 3-4-2-1 1 7 8-2 4-7 4-7 8 2 8-8-4-8 10-4-3-5 1 3 4-2 6-5 2 2 4-3 4 5 4-3 4-4-4-4 4-4-1-9 1-3 5-4 1-4-8-4 0-4-3-4 2-5-5 5-4-4-3-8-2-4-3-4 5-4-6-8 0-8-6-8 1-4 2-8-12-8 4-10 0 2 4-2 4-7 0 1 8-4 3-20 7-4-4-4 4-1-6-3-4-8 2-10 6-2 5-8-6-8-1-3 2 1 4-2 2-8-6-8 0-4-2-2-2 5-8-3-2-4 5-4 1-1-4-11-4-12 3-8-9-2 2 4 4-2 2-4-2-4 1-4-1-8-7-8 0-2 3 2 10 4-4 2 2-3 8 7 16-3 4 5 3 3 9 4 4 0 8 5 7 4 1-2 8 6 8 1 12-9 17-8-1-12-8-2-4 3-4-8-8-1-4 0-12 2-4-2-4-4-2-4 1-4-3-2-8-4-4-2-6-5 2-8-16-9-8-2-7-4-2 0-9-4 1-8-14-5-1 3-4-1-4-5-6-10-6-6-19-3-17 3-8-4-2-4-8-4-1-2-5-8-4 2-4-5-8 1-6-12 3-1-1 4-4-5-4-2-4-4-2-8-14-4-3-1-5-7-7-1-5-7-1-4 1-4-8-4 0-3 4 2 4-3 2-4-1-2 3 10 8-4 15-4 3-4-6-4 5-4 9-4 3-4-5-5 4 4 4 0 8-5 4 2 2 4-2 4 0-4 5-8 3-8-2-4 2 8 3 4-2 5 3-13 1-4 6-4-3-2 4 6 3 1 5 6 4-3 2-16 3-5-1 3-12 5-8-11-1-4 1 5 4 0 4-5 3-4-2-2-1 3-4-6-8 1-7 2-1-10-1-4 3-16-1-4-2-4 3zM468 944l-10 8 3 4 0 4 3 2 8-6zM476 934l-1 2 4 4 1 7 3-3-1-8-2-3zM496 927l-3 1 7 4 3-4-3-3zM640 511l-3 5 7 9 1-5-4-4 4-4zM820 756l0 9 4 0 1 3 4 12-2 4 13-1 4-3-4-7-4-3-7-14-5-2zM856 777l-4 6-10 5 2 8 8-7 8 8 4-5 0-4-4-4 0-8zM880 632l1 4 3 1 2-1 1-4-3-3zM908 624l-6 4 7 8 3 1 2-1-5-4 10-4-3-4zM936 788l-4 8 8 1 8 0 6-9-2-2-8 1-4 6zM952 767l-2 1 0 8 2 4 4 2 3 6-5 4 6 5 2-1 1-12-5-4 2-4-5-8zM976 867l-21 5-9 8 2 10 6 2-2 3-4-2-1 3 3 4-2 1-4-3-4 2 2 4-2 4 5 8-5 4-2 4 2 4-2 4 4 4-3 8 1 4 5 4-5 8-7 4 7 4 4-1 4 7 4 0 2 2-1 8-5 10-4-3-8 5 4 3 12-4 4 3 6-6-3-4 9-1 8-4 4 4 4-4 4 0 4 5 6-8-2-2 0-4 4 3 12-4-10-13 2-4-3-4 1-4 6-4 6 4-4 4 2 2 8-4 4 5 4-3-10-8-2-6-12-2 2-8-6-4 0-4 11-8-3-4-3 0 2-4-3-4-4-4-4-1-2-11 3-4-1-3-8 1-3-6zM1200 1147l-3 1 3 0 8 8 3-4-7-5zM1276 1131l-12 5 5 4 3 7 6-11zM1372 963l-1 1 2 8-5 3-4-1-2 2 2 2 4-1 2 3-2 3-6 1 1 4 9 5 3-1 2-12 3-2 4 4 0-2 0-4-4-2zM1464 699l-8 8-8-2-3 3 3 3 3 1 0 4 4 12-7 2-6 6-3 8-3 3-4 0-5 5 5 1 4 3-4 4-1 4 5 12 16-3 4-4 6 3 2 5 2-1 3-4 0-4-5 0-2-4 1-4 8-8-1-4 2-4 4 2 7-6 1-4-4-3-8 0-6 3-5 0-5-8 4-2 4 3 8 0 1-5-1-2-8-2-1-4 4-4 1-4-2-8zM1484 655l-4 2-5 11 4 4 1 9 1-9 10-8 2-4-5-6zM1492 648l2 8 6 1 0-5-2-4zM1524 642l-2 6-4 4 2 2 12 0 2-2-3-8-3-3zM1536 623l-5 5 5 8 5-8zM1680 696l-4 11-4-2-2 3 2 2 4-2 4 5 4-8 4 4 4 0-4-7-4 1 0-8zM1692 673l-3 3 3 3 4-3zM1704 691l-7 5 1 4 6 6 8-10 4 2 1-2-5 0-4-7zM1756 695l-5 5-1 4 2 4 5-4zM1836 707l-2 1-2 4 4 4 3-4zM1988 754l-3 2 3 8 6-4-2-5zM2028 765l-4 7 4 4 5-8zM2084 766l-7 6 7 5 8 0zM2376 847l-4 11-4-3-3 5 3 8-4 0-3 4 3 10 4 1 4 0 5-3-7-8 6-4 6 0-3-12 2-4zM2424 935l-3 1 1 4-9 8 2 4 3 0 6-6 4 3 2-1 0-8zM2748 797l-2 3 2 4 4-3 4 3 1-4zM2844 806l-4 5-4 0-1 1 5 6 4-2 1-8zM2848 783l-2 5 6 5 4-9zM1608 674l-4 2 5 8-1 4 4 5 5-5 5-8zM1624 663l-2 9 2 3 4 2 4-12 4 5 4-1-4-7zM1416 804l-1 8-3 3-8-2-1 7 1 4 4 2 4-3 4 0 4 6 7-5-3-2-2-6-5-4 0-4 4-4zM1168 1210l-1 2 5 5 3-1-3-4zM1176 1235l-1 1 5 4-2 4 2 5 8-1-1-4-6-4 1-4zM1088 1239l-1 1 1 6 8-2-2-4zM1128 1200l1 4 3 2 2-2 0-4zM1140 1209l-3 7 3 2 2-2zM548 894l-1 2 2 4-1 4 4 3 2-3 0-8zM696 508l-5 8 2 4-5 4-1 8 9 6 3-6-2-4 3-8-1-8zM876 788l-1 8 5 5 7-1 5-8-8 0-4-4zM940 1051l0 11 3-2 0-4 2-4-1-3zM1108 927l0 3 4-2 4 2 3-2-3-3-4 3zM1552 615l-4 1 0 7 8-5 0-5zM2736 815l-8 5 4 5 6-9zM1412 843l-1 5 1 5 8 2 3-3-1-4zM696 552l-8 1-3 7 1 8-2 1-4-2-2 1-1 4-5 5-4 15 1 8 18 12 1 5 4 1 4-1 20 10 4-1 3-2-11-12 12-10 5-2-1-3-3-1 1-4-2-8 2-4-2-12-8-3-4-5-8 2-4-2zM820 1074l-5 6 1 2 4-3 4 1zM948 1045l-3 3 7 4-7 4 1 4 2 1 8 0-3-5-1-8zM712 1018l-2 2 1 4 1 2 4 0 8 16 16-19 4 4 5 1 0-4-5-5-20 3-4-4zM740 1029l-3 3 7 2 2-2-2-3zM1551 680l5-3 3 3-3 3zM1642 712l2-2 4 4 8-1 5 7-1 5-12 5-3-2 3-5-4-2-4 2-4-3 9-4zM1561 720l3-1 2 5-2 3-4 1-2-4zM1816 720l4-3 3 3-3 5-4 0zM1805 728l3-2 4 3 4 1 4 4 7 2-7 8-3 0 3 0 2 4-6 5-3-1-1-3-6-1 2-5 6-3-9-8zM1664 736l7 4-7 4 8 4-8 2-13-6zM1571 744l5-3 4 6 5 1-1 2-8-2-4 2-1-2zM1543 752l6 4-3 4 1 4-7 1-4-4-7 3 2 4-7 9-6-9 0-4 10-3 4-7 4 5 4-2zM1749 752l3-1 3 5-3 3-4-2zM1547 768l1-3 4 7-4 4-2 0-2-4-5 0 5 0zM1954 772l2-2 5 6-1 2-4-1zM1967 776l5-1 2 5-2 2-3-2zM1551 784l5-2 2 2-6 4 0 4-4 2-1-2 5-4zM1515 788l2 0-1 11-4-7zM1561 792l3 0-1 4 3 4-2 6-3-2 0-4-3-4zM1524 808l4-2 8 2 3 8-7 0-4-6-5 2zM2778 816l2-4 5 4-5 6-2-2zM1473 820l3-4 4 6 4 2 4-4 4 0 2 8-2 2-8-6-4 1zM2767 824l5 8 8-1 4 5 4 3 4-8 8 1-8 9-4 0-4 3-4-3-4 2-3-3-1-8-4 6-2-2 0-4-3-4zM1482 836l2-3 4 1 2 6-2 3-8 3-3-2 5-4zM1507 836l2 0-1 4 2 4 0 4-2 2-2-2zM2750 844l2-2 4 6-8 3-1-3zM2816 844l4-4 4 3 4 0 2 9-2 2-4-1-2-1 2-4zM2712 848l8-1 3 1-2 4-5 1-3-1zM2778 848l2-2 4 3 2 3-1 4-9-1-2-3zM2759 852l2 0-1 4-4 2-4-2zM2794 856l6-3 4 3 1 4-9 3-2-3zM1433 868l3-1 6 5-2 2-4 0-4-2zM967 900l5-3 5 7-5 5-2-5zM1444 904l4 1 1 3-1 12-4 3-8 1-1-4 4-4 1-7zM2888 952l4 0 3 4-7 3zM2849 964l3-2 4 2 5 0-2 4 2 4-9 6-8-5-8 1-3-2 11-4zM2873 964l3-3 4 3 8-4 8 7 4-2 4 3 1 4-13 13 4 1 4-1 4 2 12-3 2 4-2 4 1 4-6 4 4 8-7 4-4 5-8-13 4-5 4 2 3-1-1-4-6-7-4 0-6 3-2 5-4-1-7 4 3 1 2 7 4 4-2 4-4 0-4 5-5-5-2-8 7-4-3-8 4-8-1-8-9-8zM2888 971l-2 5 8 0 1-4-3-3zM2835 984l1-1 4 5-4 3-6-3zM2835 996l5-2 3 2-3 5zM2807 1004l5-2 4 6 6 4-6 4-1 4 5 2 4-3 1 5 6 4-1 4 5 8-2 4-9 6-4 1-1-3 2-4-3-8 1-4-11-4 1-8-5-1-4-3 0-4zM471 1008l5-2 0 6 12-2 8 2 4-6 5 2 3 5 8-3 2 2-2 5-4-2-3 5-1 9 3 3 0 4-4 8 5 1 3 3-3 7-4-1-4 0-2 2 4 4-6 2-2-2 0-4-6-1-1 9-3 5-12 9-1 2 3 4-2 4-10 8 3 4-5 5-2-1 2-4-5-4 3-4 0-4-2-2-4 5-4 0 0-28 2-3-2-5 0-14 4-4 4 3 4-1 0-5-4 0-1-2 3-4 4-12-2-4-10 12 3 4-3 0-2-1 0-15 4 1 8-1zM2895 1012l3 0-2 9-4-2-2-3zM2910 1020l2-1 4 5-1 4-3 4-7-4-1-4zM2880 1024l4 10 8 2 0 8 7 4-2 4 2 8-2 8 3 4 4-1 4 3 5-2 1-4 0-4-4-4 0-8-2-2-4 4-4-6 3-8 5 1 8-8 1 3 8 8-2 4 5 6 0 19-4-3-7 6 3 9 8-7 0 11-4 0-1 3-3 1-4-5-11-8-1-4-4 1-2 3 2 12-8 8 0-4-4-4-2-8 4-4-2-4-4 6-4-8-12 8-4 1-4-3-4 1-4 4-9-9-3-11-4 2-8-3 4 0 4-6 8 7 16-3 6 2 6-13 4 1 5 0-4-4 2-4-9-8 6-4zM2887 1024l1-2 4 5 8 1-4 7-4 0 0-3-5-4zM2351 1076l9 4-4 5-12 6-1-3-3-2 0-5 4 0 4-5zM2296 1084l8 5 8-4 4 3 2 8 7 4-5 11-12 6-4-2-4-1-4 4-6-2-1-12 4-4-3-4 8-4zM1003 1128l1-1 1 1 1 4-2 4-3-4zM452 1140l8-2 1 2-1 3-8 1zM1007 1140l5-3 0 9-8 0-2-2zM1009 1160l3-2 12 3 8-2-1 9 5 4-4 8 4 12 4 2 8-4 4 4 8 0 4 5 3 1-6 4-1 8 1 4 4 4-1 2-4 0-13 14 2 4 8 4-5 3-4-2-1 3 7 4 1 4-3 2-7-2-4-8 5-4-2-2-4-1-3 3-1 5-2-1 0-4-6-5-4-1-4-6-4 1-2-1-2-5-4-2 4-5-4-6 4 2 3-4-6-8 0-4-7-8 3-8-1-4 4-1 2-3 0-4-4-4zM1016 1170l0 3 10-1-2-3zM1082 1160l6-3 8 6 7 1 6 4-1 2-8 0-8 7-4-7-7-2zM574 1192l2-2 4 6 5 4-1 5 4 0 5-5-1-2-4-1 0-3 4 0 4-4 4 2-1 4 5 4-7 4 7 4-2 4 0 8-6 8-5-4 2-4-5-5-3 1 3 4-10 12-2 1-6-5-3-8 2-4 3-3 4 8 8-5 1-4-1-2-6 2-2-10-4 1-1-3zM1200 1200l4-3 2 3-1 4-5 2-1-2zM724 1212l4-2 8 3 4-2 4 1 1 4 18 12 9 2 8 4-4 10-4-8-8 6-4-3-8 0-4-4-4 2-4-7-4 0-8 4-4-6-8-2-8 1-4-3-4 4-3-4 3-5 4 5 4-2 2-2-5-4 3-2 4 0 4 4 4 0 4 10 4-2 3-2-4-4zM1198 1232l2-2 4 1 1 1-3 4 6 4-14 0-1-4zM1275 1240l1-2 1 6 3 4 7 0-2 4 1 20-2 7-2 5-5 4-1 4 0-8-6-8 2-16-8 2-3-2 3-5 4 5 4 0 6-4 1-4-3-3-4 3-4 0-4-4 12-4zM790 1244l2-3 8 1 12 10-3 4-5 1-4 0-4-3-4 1-3-7zM514 1248l3 0-1 6 8 2-8 8-5-4-1-8zM1169 1264l7-2 3 2-1 4-6 5-3-1 2-4zM664 1276l3 0 5 8 1 4-5 6-4 1-3-3 5-8-3-4zM653 1288l3-4 2 4-2 6zM1291 1296l1 0 2 8-1 16-5-2-4 4-3-6 6-4 0-4-2-4-4-4zM656 1300l4-3 3 3-7 5-2-1zM495 1344l3 0 0 4-6 3 0-3zM480 1348l4 4 4 1 2 3 0 4-2 2-4-5-4-2-2 1 4 8-2 1-4-1-4 10-3-2 2-8 1-3 3-1-2-4zM514 1368l2-1 2 1-2 6-4 1-4-2zM583 1384l1-3 8 5 4-2 4 4-4 4 5 4-5 10-4 4-4-4-1 2 3 4-10 4-6-4 7-4 1-4-2-2-12-1-4 4-1-5 9-3 1-5zM452 1412l0-2 12 2 0 2-8 2-4 4zM543 1420l1-3 5 3-1 7-4 0-4-2zM542 1432l2-3 2 3-3 4-3 1-1-1zM456 1496l4-1 0 5 4 2 4-1 2 3 0 4-6 4 6 4-2 1-3-1-1-4-4-3-2 3 2 7 4-1-1 6 5 0 4 5 5 3 3 4-4 3-8-6-12-1 2-4-2-7-4 7 0-25 4 3 2-2-3-4zM483 1500l1-2 3 6-3 3-3-3zM496 1520l-1 8-3 4-4-1-3-3 9-4zM473 1548l3-1 1 5 6 4 1 4-4 3-8-1-4-4-8-2 8-3z"/>
<path fill="#FF9533" d="M452 432l1156 0-4 4 7 4 0 4-10 4 0 4 8 4-3 4 6 3 12-8 4 9 8-8-4-4-4 1-10-5 4-4 2-5 4 1-3 4 3 1 1-1-1-4 3-8 1297 0 0 311-6 1-4 12-6 1-4 7-4-1-8 6-4-3-11 2 3 1 4 7-4 2-4-7-4 3-8 1-4 2-1-9 2-4-1-2-8 2-7-4 3-4-7 0-1 4 2 4-2 2-12-5-4 0-2 7-2 1-4-1-4-6-8-4-4-6-7 4 3 4-8 2-3-2 6-4-4-8 5-1 2-3 0-4-2-1-4 3-4-4-8 6 5 8-5 4-8 2-1-6-7-5-4 1-4 7-8 1-4 11-5 1 3 4-2 3-4-3-6 0 3-4-1 0-8 5-4 1-4-4-4 0-4 4-12 1-8 4-5 5 0 4-1 8 3 4 1 4-6 5-5-1-3-3-8 3-2-4-10-5-4 1-8-3-8 0-4-4-4-1-6 12 0 8-2 4 2 8-3 8 3 4-4 8-6 4-8-4 3-4-2-4-5 0-8-10-1 6-5 8-3 8-3 3-8 0-5-3-3-8-4-3-4 2-2-7 2-3 4 5 2-6-6-5-4-1-2 2 0 4-2 2-4-6-8 0-4-5-5 1 1 4-4 0-1-4-3-1-1 9 1 4-4 3-7-7 4-4-1-2-14-6 11-4 1-4-5-4 7-13 5 5-1 8 8 3 4-3-8-14-8-3-8 1-8-3-12 8-8-3-4 5-8-1 0 3 8 1 0 6 8 7 4-2 3 3-7 5-8-2-4-9-4-4-3 2 0 4 3 4 0 4-4 1 0-5-4-2-7 6 1 4-10 6-3-6 3-4 0-4 4-1 3-7 9-4-2-8 2-2 6-2 1-4-7-13-4-2-4 2-3-3-1-4-4 1 1-5-1-1-12-4-4-11-1 4-3 2-12-6-4 3-4 0-8 9-8 1-4 4-4-1-4 2-1-2 1-4-4-8-8 3-3-3 4-4-1-3-8-6-4 0-12 5 4 4-12 7-4 0-3-7-5-2-5-6 1-7-4 2-4-1-8 6 5 4-1 3-8-4-4 7-4 0-4-3-3 1-9 7-4-5-4 3-4-2-4 1-3-8-9 4-4-1-3-7-5-4 2-4-4-8 3-4-1-1-4-2-4 13-14-6 0-4-6-6-3 6 6 4 0 4-4 4 1 4-8 6-12 2-4 9-2-1-1-4 7-4 0-4-4 2-12-13-4 1-1 2 5 2 5 6-9 7-4 0-1-3 1-8-8 0-4 4-8 0-4-4-4-9-4 6-12 0-2-1 1-8-3-3-4 7 2 4-6 3-4-2-8 2-4-2-4 5-4-7-4-1-4-5-12-2 2 5-4 0-4-4 4-8-6-6-4 4-3-2-1-4-3 8 5 4 4 12-2 3-8-4-7-7 3-4-20-1-4-7 5-4-5-12-16-8-12 10-4 0-1 6-6 4 3 1 4-3-1 6 7 4 0 4-5 4 1 4-2 2-3-2 2-4-2-4-5-4 0-4-6-4 2-5-4 0-4 3-4-2-4 1-4-6-8 8-10-3-3-4 2-4-5-9-4 7-8 3 2-5-2-2-4 0-4-3-8 4-12-3-4-2-4-7-8 7-8 0-2-10 5-4-7-4-1-4 1-4-4-13-8 1 0 4-1-4-3-1-8 7-16-1-6-5 0-4 4-4-2-4-12-5-9 9 1 4-4 4 1 4-5 9-1-5 4-4-11-3-4-5 0-5-8-5-4 0-4 7-8-7-2 2-1 4 4 4 1 4-6 8-2-4 1-4-3-3-6-1-1-8-3-4-8-4 2-16-4 1-4 4-4 0-1-5-7-2-3 2-1 3-4-8-8 5 1-8-1-2-4 1-4-7-1-12-3-4 4-1 3 5 5 3 3-3-8-8 5-1 4-4 8 0 3-3-7-7-20 0-1-1 2-4 4-4-1-8-7 4-1 4-4-5-12 6-7-5 5-4 1-4-3-3-8 4-4-6-2 1 0 4 6 12-4 4-4-6-4 5-4-1-9-6 1-6 9-6-2-4 5-2 4-4 4 0 4-5 3 3-4 4 1 3 8 3-2-10 1-4-7-3-8 0-2-5-6-6-6 6-1 8-5 3-2-3 5-4-7-1-4 3-4-2-1-4-7-2-4 2 8 8 0 4-4 4-12 7-4-1-8 2-8-1-8 4 4 8 4-1 4-8 6 6 1 8 5 0 5 4-7 12-2 14-4-7-4 8-7-7 3-5-12 1-4-6-4 1-8 15-4-1-8 5-4-4-4 2-1 4-5 4 4 4 1 4-7 6-4-1-8 8-4-4-4 0-2 3 1 8-9 8 2 3 4 1 4-6 5 6-9 0-4 4-2-4-5 0 1 4-10 7-6-3-2-3-4 4-3-1-1-4-4-5-2 13-2 2-8-3-4 2-4 2-4 7-3-2-1-4 1-12-1-2-8 4-4-1-1 3 5 7 4 2 3 3-6 4 2 12-3 1-4-7-2 2-1 4 5 4-2 8 4 5 4-3 0 6 8 1 3 3 1 4-3 4 3 3 5 1-1 4-6 4 2 3 4-1 1 2-5 5-8-7-16 3-8-1 1 12-1 1-4 0-2 3 2 8 4 0-4 0-2 4 7 8-5 3-4-2 0 11-4 4-6 0-2 7-4-7-5 0 3-4-2-2-10 2 3 12-4 4 1 4-3 4 1 5-6 3 1 4 5-4 12 7 4-2 0-3-2-2 2 0 4-6 3 2-2 4 5 4-10 5-3 3 3 6 8-1 7 3 3 4-6 1-4 11 4 1 12 11 0 4-2 4 3 4-1 4-8-3 0 7 5 8-5 6-4 0-4 7-4 1-4-10-4 3 0 6-4-1-13 8-11 2-5 6 1 3 15 5 3 12-2 3-4 1 4 2 3 10 4 4-1 12 5 4-4 8 5 4-2 4 1 4-4 8-7 4 1 4 5 4 0 8 0 4-6 3 0 2 4 0 3 3-3 6-4 0-2 10 5 8 1 7 2 1-3 8 3 8-2 4 5 8-5 8 0 8-4 9-4 4-8 2-10 9 2 4-4 2-4 9-4 1-1 12-6 4-3 4 1 8-4 4 3 4-3 8-5 4-7 0-3-2-3-6 2-8-2-8 4-8-2-4 1-4-7-16-2 0-3 10-2-6-2-1-3 1 0 4-5 0-2 4 5 8-4 12 0 8-7 9-8 1-8-6 0-4-7-4 1-8-2-3-8 5-4-4-4 0-7-6 2-16-3-3-4 2-1 5-3 2-2-2 1-4-3-4-8-2-8-7-4 2-4-5-8 0-10-12-6-12 5-8-5-1-4 2 1-5-3-4 2-6 4 3 4-1 0-4-5-4 3-8 0-4-5-4 3-3 5-1 3-4 1 12 3 4 7-4 3-8-2-3-4 4-3-5 5-4-5-4-3-8 6-4 12 0-4-5-4-2-4 1-4-3-5 1-3-15-8 1-4-3-6 1-6-4-4 10-3-2 2-4-3-3-4 4-8 1-4-2-3 4 3 4-12 0-4-4 4-4 8-6 9-2-1-4-4-2-8 7-12 4-3 3 3 4 4 0-8 2-6 6 3 8-2 8 3 4-6 6-4-4-4 6 0 2 4 1 4 6 4-2 1 1-5 5-8-3-8 17-8 0 0 2 4 3-13 4 0 4 2 4-5 8-9 4 5 5-16 1-12-4-9-10-11-6-4-1-4 5-2-10-10-8 8-1 4 8 4-3 4-12-4-3-8 6-4-3-6-8 10-3 0-5-8-1-4-8-6-3 2-4 4 1 8 9 4-1 2-1-3-4-8-4 5-6 4 0 4-4 4 3 5-1 4-4-1-5 12 3 16 1 4-4 4 3 6-6-2-4-8 0-1-4 9-7 8 2-2 5 7 0 2-8 2-4-1-3-4-3-4 8-5-6 5-6 5-2-5-4 0-4 4-3 1-5-3-4 0-4 10-5 2-3-1-4 4-4-6 0-1 8-2 3-4-1-1-10 2-4-6-8 1-2 4 3 2-5-2-2-4 0-4-3-4 2-6-5 1-8 5-3 2-5-12-4-6-8 0-15-10-1 2-2 4 0 3-2-3-2-4 2-4-3-2 7 3 4-1 2-4-5-4 5-4 0-4-4-4 0-8-4-2 2 2 4-22 12-5 8 2 4-1 4-15 20 0 12-3 4 4 6 8 2 1 8-4 8 3 8-6 4 2 5 6 3 0 16 5 4-7 8 4 7 3 1-7 4 8 4-5 4-3 10-4 2 4 8 5 4-5 2-3 6 8 8-1 8-4-3-4-8-12 5-8-2-4 8-4 1-4-7-2 10 2 4 4 0 0 4-8-5 0 6-4 2-6-3-2 4-8-11-4 4-8-2-4 5-4-1-1 5-3 3-4 0-4-3-4 1-8 0 2-9-10-1-11-3-5-7-4 2-3-3 2-4-3-1-8-2-4 5-4 0-4 3-8-11-5 2-3 8-8 1-1-1 1-4-7-4 2-4-5-4 0-4 2-2 3 2 1 6 4-9 8 0 4-4 4-1 4 5 4-1-4-6-4 2-2-4 6-3 1-5-3-8-8-4 7-8-5-4-3-8-5-1 0-8-21-7 5-3 8 1 3-2-11-4-15 0 3-3 4 0 8 3 1-4 9-8-6-5-4 1 0 2 0-2-4-2-8 2 4 0 5 8-5 3-4-11-4-5-4 5-1-4-3-1-8 5-4-2-2 2-3 8 1 2 5 2-1 1-4 0-3 3 3 2 4 4 2-6 10-10 8 6 1 8-13 9-4-1 0-5-4 2-4-2-6 1 5 4-5 4 11 12-1 13 16-10 2 1-2 7-7 5 1 4-2 3-8 1-5 4 5 2 4-4 3 10-2 4 7 0 6 8-3 4 0 4 4 0 0-4 5-5 3 1-2 8 3 2 4-3 4 1 3 4-3 6-4-4-3 2 3 5 0 7 11 24-1 8 5 4 3 8 3 4 1 8 7 8-1 8 7 8 2 12-5 10-4 1-4 3-4 0-12-7-1-3 2-4-7-8-1-4 2-4-2-8 3-4-4-5-8-3-4-8-5-4-3-8-8-5-7-11-7-4 1-4-7-8 2-4-2-4-4 2-2-2-8-20-6-8-8-6-3-6-3-16 2-4-5-4 3-12-8-12 1-4-3-3-12-1 1-4-4-16-5 2-9-6 1-5-8-7 1-4-5 0-7-8-1-6-7-6-1-7-12 1-4-9-4 0-8 9-3-2-1-5-8-3-2 0 0 8-2 4-4-1-4-5-4 2-8-5-2 5 2 2 4 1 4-3 2 8-3 4 1 2 4-1 4-4 8 2 8 9 4-7 5 3-1 4 1 4-5 5-12-8-6 7 5 8-3 2-7-2-1-2-4 3-6-5 0-4 4-4 1-4-3-3-9 3-3 8-4-5-4 4-3-3 6-8-3-4-2-8 5-8-3-4-11 8 5 4-4 8-6 5-4-1 1 8-9 6-7 2-1 8-13 0-1 4-6 3zM544 659l-5 5 3 4-2 3-6 1-2 4 5 8-3 12 1 12 5 5 4-2 3 1-3 8-8-2-2 6-1 12 2 8 7 8-4 8-6 4 0 4 4 1 6-5-1-4 7-1 4 4 0-7 10-8 1-4-4-4-1-4 6-8 1-8 3-4-4-4 4-4 1-4-3-16 4-12-5-8 3-8-4-2-4 8-4-2-4 4zM552 642l-2 6 10 1 0-2-4 1zM640 510l-5 6 9 12 3-8-3-4 2-4zM760 561l-6 7 2 2 6-6zM796 739l-2 13 3 4-9 1-4 4-6 7 2 4 4 2 4-1 4 6 7 1 2 4-6 4 5 7 4 1 4-2 12-2 6 4 2 8 4-3 4-1 4 3 6 1 2 5 4 2 7-7 5-1 16 7 8 0 4-5 4 4 4-2 12-2 4 1 4-3 28 2 4-3 4 1 4 4 4 0 4-5 4 1 4-6 4-1-4-3 2-5-2-8-4-4 2-4-2-1-1-7-3-2-8 0-4 3-8 2-16 14-4 0-4-2-8 3-16-1-16 4-12-8-8-8-4-1-4 2-4-1-10-9-10-5-12-13-2 2 1 4-3 2-3-2-5-10-4 1-4-2zM844 714l-8 6 4 4 4-3zM884 531l-2 5 6 2 2-2zM1092 926l-2 2 2 4 7-4-3-4zM1140 915l-3 1 1 4-6 2-4 3-12-5-4 5-5-1-2 4 0 4-2 4 2 4 7 5 4-6 12-3 0 4 8 3 4-4 11-3 3-4-2-3-4 5-4 0-3-2 4-8-3-4 1-4zM1156 742l0 11 4-1 4 6 2-2 0-4 5-4 0-4-3-3-8 2zM1192 1004l-4 3-8-1 0 8 12 4 2-2zM1196 518l-2 2 8 8-6 4-2 8 2 2 8-3 2-3-1-4 3-4 4 2 7-6-7-6-8 2-4-3zM1228 519l-5 5-1 4 2 1 5-1 2-4zM1256 659l-2 5 2 12 2-4zM1260 643l0 9 4 4 5-4 0-8-5-4zM1304 515l-4 5 12 1 2-5-2-1zM1356 655l-3 1-2 12-3 4 8 6 7-6 0-4-5-4zM1384 592l-4 0-2 4 1 8-4 8 1 5-5 3 9 3 4 3 2-2-5-4 11-5 2 1 1 8-5 4 6 4 5-12-3-4 2-2 4 4 4-1 2-1 0-4-4-4 1-4-7-4-4-6-4 0-4-6zM1404 580l-10 4 2 3 4 1 5-4zM1416 589l-3 3 3 4-1 4 5 7 6-7 1-8-3-3zM1448 557l-5 15 9 3 1 1-5 4 8 5 5-5-5-8-1-12zM1464 558l-3 2 3 4 4 2 3-2zM1472 566l-10 6 10 4 4 5 2-1-4-8 9-4-3-3zM1484 540l-1 4 7 4-4 8 2 2 4 1 4-4 8-2-5-9 3-4-2-2-8 7-4-4zM1524 538l-5 6 5 4 3-8zM1600 458l-7 6 2 4 5 7 4-6 3 3 0 4 5 1 2-9-2-4-8 0zM1624 467l-6 5 2 8 5 4 3 9 4-6 4 0 4-7-12-16zM1724 613l-6 7 6 5 5-1 0-4-1-4zM1816 626l-2 2 1 4 5 5 2-1-1-4zM2280 726l-2 2-1 4 3 5 4 0 2-5zM2388 735l-7 5 3 4 4-2 4-6zM2424 467l8 10 6-9-6-3zM2532 808l-3 0 7 6 6-2-2-3zM2540 804l1 4 3 1 2-1-2-6zM2660 689l-3 3 3 4 6-4zM2672 721l-1 7 5 1 0-4zM2688 728l-2 8 2 1 4-5zM2700 715l-4 3-1 2 1 1 5-1 2-4zM1360 867l0 5 4-1 3-3-3-2zM920 934l-5 6 5 0 4-4zM564 787l-8 5 3 4 5 3 4-11zM696 500l-4 12-6 12-6 4-2 4-6 0-4 7-1 13-3 1-3 3-6 16 6 12-4 12-6 4 3 4 2 8 13 4 8 12-3 4 1 4 5 0 0 6 4 2-4 1-4-1-4 3-4-1-1 2 5 8 8 0 12-8-4-4 4-4 12 1 0-5 4-3 16-4 8-15 4 0 6-6 2-4-5-4 5-6 4-2-8-3-3-5 7-8 1-8-4-4-1-8 9-4 2-4-2-4-13-5-8 0-8 2-4-5-4 1-9-1-4-8 3-8-1-8-3-4 3-8zM784 816l4 0 3 4-3 3-4 1-4 6-4-2 0 4 8 2 4-5 4 1 6-2-5-8 0-4zM904 858l-1 6 5 1 4-1zM880 630l-1 2 1 4 4 2 4-4 5-2-1-3-4 2-4-3zM904 616l-4 4 5 4-4 4 2 4-4 4 5 4 4-3 4 1 3-2-4-4 9-4-4-7-8 1zM1144 942l-2 6 1 4 5-2 4 4 2-6-6-2zM1144 904l0 10 5-10-1-2zM1156 903l-2 1 0 4 2 2 6-6zM1216 561l-4 3 4 1 4 5 4-2-4-6zM1304 532l4 5 1-1 1-4-2-4zM1336 702l-1 2 5 7 2-3-2-7zM1372 670l-4 3 0 4 5-1 1-4zM1380 672l-2 4 1 4 5 4 3-4-3-6zM1460 623l-2 5-8 4 6 2 8-6zM1484 584l-2 0 2 5 4 1 3-2zM1148 1071l-1 1 5 3 3-3-3-3zM920 1001l0 4 4 1 2-2-2-3zM516 901l-4 6-4 1 8 5 2-1-3-4 4-4zM528 854l-3 2 2 4 5 1 0-5zM556 771l-4 2-8 0-9 11 9 5 2-1 2-6 4-3 4 2zM680 922l-2 2 0 4 6 2 3-2 1-4-4-3zM684 895l0 3 8 4 2-2-2-4zM692 848l-1 8-3 4 3 4 5 0 3 4-3 8 2 4-3 4 1 4 4 1 0-5 11-8-2-4 6-4 2-4-6-8 1-4-11 0 4-4-5-2zM712 643l-6 5-2 4 9 0zM736 705l-3 3 3 6 3-6zM740 830l-1 2 1 4 12 3 6-7-2-4-4 4-4-2zM784 843l-8 4-4 7-8-2-5 8 5 7 8-8 4-1 4 2-4 6-8 3-1 3 1 1 4-3 4 0 3 2-1 8-6 0-2 4 4 4-7 4-1 4 2 3 4-1 4 2 4-1 1-11-3-4 2-2 16 3 2-1-5-4 4-8-3-4-1-4-1-2-4 2-5-8zM808 872l-3 4 0 4 3 2 1-2-1-4 4-4zM908 941l0 8 5-5-1-4zM1012 793l-3 3 4 4 1 8 6 3 3-7zM1148 962l-8 8-8 2 4 5 4 0 4-1 0-4 1 4 7 1 9-5-1-4 2-4-2-2-8 4zM1224 760l-4 0-4 4 4 3 4-2 1-1zM1228 766l-2 6 2 4 9-8zM1308 648l-6 4 2 3 4-2zM1320 849l2 7 2 1 2-1-2-8zM1340 738l-2 6 5 4-9 8 2 4 4 1 4-5 0-4 2-8-2-5zM1352 691l-2 9 6 2 2-2zM688 905l-2 3 2 6 4-2zM696 907l-4 5 2 4 6 3 7-3-7-11zM776 986l-4 2 4 6 5-6zM1320 903l4 10 4 2 5-3-5-10-4 2zM2716 733l-1 7 1 1 5-5zM736 900l-4 1-3 7-4 4 3 2 4 0 1-6 4-4zM752 915l0 3 4 0 4 4 3-6-3-3zM776 1004l-6 4 2 4 12-3 2 3 0 4 10 5 5-5-5-8-8-6-4 6zM808 938l-4 5-4-2-3 3 0 4 3 2 4-4 4 0 6-6-2-4zM1172 967l0 5 4 4 1-4-1-3zM1212 1127l-3 5 7 5 1-9-1-3zM784 1026l0 6 4-2 4 3 1-1-1-5zM731 556l7 0 1 4-6 0zM1515 588l5 0 4 2 2 6-2 2-9-6zM1509 596l3-3 2 3 0 4-2 5-2-1zM1381 604l3-3 7 3-3 2zM1895 692l2 0 1 4-7 4 0-4zM1878 696l2-2 3 2-3 5-4 3-2-4zM1956 708l1 4-5 5-2-1 2-4zM2202 728l4 0 2 4-4 13-8-5zM2189 752l3-3 4 9 4 0 2 2-6 12-4-7-4 0-4 7 1-12 3-1 2-3zM2240 764l4-2 5 2-5 6zM2210 768l6-2 5 10-9 2-11-6zM2284 772l5 0 2 8-3 2-3-2zM1352 776l4-1 4 3 8-5 12 3 6 4 0 4-10 10-4 0-4-10-4-2-8 1zM2347 780l5 1 4 3 0 13-4-2-4 3-4-2-2-4zM2292 788l6 0 4 8-10 9-4-1 0-8zM2434 788l2-1 2 1-2 9-8 1 0-4zM2306 796l2-3 7 7-2 4-7 0zM2928 796l0 25-10-5-1-4 3-5 4-1 2-2zM2418 808l2-1 3 1 3 4-4 4 3 4-2 4-7 5-2-1 3-4-1-3-4 2-2-3 8-8zM2406 836l6-2 4 6-8 4 0 4 5 4-1 2-8 0-3-2 7-4 0-4-3-4zM2591 844l1 1-4 7-6-4zM2480 848l13 12 0 4-4 4 9 4-2 5-4-2-4 2-4-1 0 9 8-5 12 4 0 4-8 1-4 3-4-2-8 5-8-1-8-4-4 6 8 12-3 8 1 12-2 3-15 1-9 9-1-9-3-4 4-3 8 5 0-3-9-7-3-11-4 0-10-5 6-4 2-4-1-4 3-4 0-6-4 4-4 1-9-11 3-4-2-2-4 4-4 0-3-2-1-4 2-4 6-3 4-4 4-1 4 7 8-1 12-9 3 3-4 8 1 3 4-3 8 2 4-2-1-4-10-8 11-2 4 0 1 2 1 4-5 8 3 1 4 11 12-3 3-1-3-8 1-8-4-4zM2456 880l-4 1-2 3 0 4-6 4-1 4 5 6 2-2 0-4 2-3 8-5 0-4zM2401 860l3-2 2 2-10 10-2-2 0-4zM2470 864l2-2 6 6-2 2-4-2zM2506 864l2-4 4 8 0 5zM1396 884l4-2 3 2-1 4-2 1zM1352 888l4-3 4-1 1 4-5 9-12 6-4-3 5-4 1-4zM507 932l1-2 2 2-1 4-5 1-2-1zM521 936l3-2 2 2-2 4-8 4-3-4 3-2 4 0zM1356 936l8-2 3 2-1 4-2 2zM488 940l0 4 4 4 3 0-1 8-2 2-4-1-1-5-4-4 5-4zM498 940l2-2 8 14 4-1 4-7 8 5 4-2 7 5-1 4-2 3-8 1-7 8-1 4-4-3-4 4-8-2-2-3 1-4-2-8 4-4-5-4zM2418 960l2-1 1 5-5 9-5-5zM2391 976l1-2 16-1 8 5 4-3 4 5-4 8-1-4-3-3-3 3 0 4 3 4 1 4-5 9-4 1-4-3-8 4 0 5-2 4-26-2 1-6 9-4-4-4 1-8 4 0 1 2 4-2 6-8zM718 980l2-3 4 1 8 7 8-1 10 4-3 4 1 2 4 0 2 2-4 4 0 4 6 7 5 1-13 0-7-4-4-4-1-12-4-3-4 1-8-4-3-2zM488 1016l2 0 0 4 7 4-5 1-4 7-6-8zM2367 1020l1-3 4 0 2 3-2 3zM502 1024l3 0-1 10-5-6zM938 1028l2-1 4 2 0 4-8 0zM2345 1040l3-3 12 1 2 2-2 8-4 0-2 8-6 6-12-6-1-4 6-4-2-4zM461 1052l3-3 12 9 4-2 1 4-4 4-1 5-4 2-4-2-12 0-1-5zM473 1052l3-3 4 2 4-2 8 3-4 4-4 0zM452 1080l0-2 6 2 0 4-2 4-4 0zM2305 1092l3-2 14 10-2 8-12 7-7-7-1-4-5-4 0-4zM2291 1108l1-3 7 7-3 2-4-1zM1167 1156l1-3 6 3-6 4zM1195 1156l5-3 8 6 8-5 0 6 5 4-5 1-4-4-3 7 1 8-2 6-3-2-1-5-8 0-4-7 2-4-3-4zM1178 1160l2-4 6 8 3 12-1 2-8 0 0 2-4 2-6-2 4-4 0-12zM1015 1176l5-1 8 4 0 5 4 4 0 4 4 2 4 1 8-1 4 6 4-2 1 2-9 1-2 3 6 2 4 4 1 6-1 3-8-2-6 15-2 1-4-2-8 6-2-1 1-4-7-6-4 2-2-4 3-4 0-4 5-4-1-4-5-6-4 3 0-5-5-4 3-8-1-4zM1131 1180l13-1 3 1-1 4 2 5 8-8 3 3-4 4 3 4-2 4 5 4 0 4 6 12-7 12-5 0-7 7-8-1-3 2 7 6 4-1 3 3 0 8-6 4-1 12-9 4 2 4-5 2-4 6-4-1-4 2-4-1-2-4-6 1-12-8-4 3-4 0-5-4 2-4-1-1-9-3 13-10 4-6 4 1 8-8 8 3 4-4 4 0-4-9-5-3 4-4-5-12 2-4 4 3 4-2 12 2-1 5 1 8-8 4-4-5-3 5 3 2 4-2 4 7 5 1 2-4-3-8 4-1 8 7 5-2 0-12-5-8 1-4-4-8 1-4-2-1-4 3-9-2-1-4zM1162 1184l2-1 6 5-6 1zM1178 1220l2-4 5 8-1 9-6-5zM737 1224l3-3 8-1 20 12 5 0-9 9-4-4-16-2-1-3 2-4-7 0zM1163 1228l5-1 5 5-3 4 2 8-2 4 2 3 4-2 2 3-10 4-7-4 0-4-8-8 7-11zM791 1244l9-1 4 2 6 7-3 4-3 1-4-1 2-4-2-2-1 2-7 2-2-6zM1155 1256l4 0 1 13 0-5-4-1-1-3zM1279 1260l2 0-1 8 2 4-5 4 3 4-4 1-4-5-1-4z"/>
<path fill="#F4CCCC" d="M452 432l615 0 1 3 0-3 49 0 7 1 4-1 114 0 2 8 1-4 3-4 102 0 10 5 2-5 123 0 4 4-9 5-4-1-1 4-3 1-1 3 1 4-5 4 5 5-12 1-2 2-1 12 6 8-3 3-4-1-4-5-4-3-6 6 7 12-5 2-2 2 1 4 5 1 2 3-5 12-7 4 2 6 4 2-3 8-1 1-4-2-4 2-4-1-4 9-4 0-8 6-8 2-4-7-4 4-9-6 5-2 3-6 6-4-13-9-4 0-9-11 3-4-1-4-3-4 8-8 0-4-10-8-16 7-4-5-16 14-1-4 1-5-6 1-2-4-4 0 3 4-3 2-4-6-4 5-4 0-4-1-4-6-5 6 1 3 8-2 1 3-5 10-2-2-2-7 0 11-4 2-8 9-8-2-4 1-3-6 1-4-2-1-8 6-6-1-1-4 5-4 1-4-3-14-8-1-3 3 3 3 4-1 2 2-2 1-20 0 0-9-10-8-6-1-4-3-4 0-4 3-4-2-1 3 3 4-3 4-3 3-8-1-2 2 8 4 0 8 5 4 1 4-8 1-2-5-6-2-4 4-8 0-5 6-1 8 4 4-5 4 1 8-2 4-4-2-8 2 0 4 4-3 4 2 13 13 8 4-11 8 3 8-3 8 6 8 4 2 4-8 4 8 8 1 0 9-3 4 1 8 7 12-1 4-8 4-4-7-5 7 1 4-4 2-5-2-1-4-6-2-8 4-4-3-8 1-4-6-10 6 1 4 9 0 0 7-4 1 4 4 4-4 4 4 4 1 4 10 4-3 8 13 8-5 8 3 4-2 4 0 1-5 3-2 8 12 4-6-3-12-5-5-4 0-3-3 5-4-1-4 7-4-3-4 2-4-4-4 5-2 8-9 4 2 6-3-1-12 3-2 5 2 3 4 4-2 4 6-1 8 1 8-4 7-9 1 4 8-1 12 3 4-5 0-1 4 2 4 10 8 0 8 2 4-5 2-16-11-3 5-1 1-4-4-3 3 1 4-3 4 1 3 4-2 4 12 6-1 2-4 4 3 2-3-11-12 5-3 9 11 6 4-5 4 13 4 1 4 4 2 4 10-6 4-2 9-4-1-5 8 4 4-11 3-12 13-4-3-8-3-8 3-2-5 0-4-6 1-4-5-4 1-4 5-8-2 1-4 3-3 4 4 8-2 4-3-11-4 4-12-1-4-12-11-4-1-2-8 1-4-5-8 2-3 4-1-1-4-7-4-6 4 5 4-7 9-4-4-4 0-3 3-10 4 3 4 6 16-7 12 4 12 5 4 1 16 8 4 0 4 9 1 7 7 0 4 5 8 4-1 4-4 4-1 14 10 6 2 4-7 4 0 3 1-3 7-4 0-2 5 10 11 2-3 2-10 4 5 6-7-13-8 1-4 2-3 6-1 2-4 8 6 4 8 6-6-2-2 0-3 4 0 5-7-1-5-4-3 0-4 4-3 4 3 12-1 4 4 8 1 1 4-5 2-2 6 6 4 8-5 4 2 9 7-2 4 7 8-10 8-6 0 6 12-3 8-7 4 2 8 4-5 4 7 9 2-1 4-6 4 4 4-5 4 3 2 4-2 8 4-4 1-5 7 12 4 5 4 0 5-4-4-8 3 1 8 4 4-4 20 6 8-3 4 0 4 4-2 4-6 4 2 2 6-1 8-4 4 1 4 4 4 0 4 8 12-5 4 1 8-3 8 0 4 5 4-2 12-3 8 2 4-1 5-6 3-2 4 3 4-2 4 3 3 4-2 1 3-3 4 2 4-2 8 10 12-4 4-2 12-10 16-8 8-4 0-2 4-1 8-6 8-2 12-9 8 2 4-5 8 3 4-4 8-4 4-7-4-2-4 2-12-3-4 4-8 0-8-3-4 1-4-4-4 0-6-8-2-4 2-3-2 2-4-3-5-8 7-4-2-4 2 0 3 4 4 4-3-1 6 3 12 3 4-4 12-2 12-3 3-8 0-3-3-1-7-8-1 0-8-4-7-2-1 2-4-8-14-4 2-8-6-8-2 1-4-1-6-4 3-8 1-4-9-8 1-4 3-12-2-4-2-2-5 0-4 4-4-2-3-4 3-5 0 1-7 4-5 4 5 5-1 1-8-2-4-7-4 3-11 8-6 4 3 1-2-3-4 2-5 4-4 8-3 4 1 5-5 2-4-6-4 7-2 8 4 4-1 0-2-4-3 8-5 4 5 7 4-4 4 6 0-1-8-5-4 0-4-5-4-6-2-4 2-8-5-12-3 2 4 1 24-3 3-4 0-4 4-4 0-4-3 2-4-2-5-4 2-2-5 14-1 7-11-2-4-13-6-4 5-4-4-4 0-1-7-3-3-4 3-7-4-1-4 12-2 12 4 4 5 2-3-2-8 4-4 0-5 4 1-1 8 5 4-2 4 2 2 0-6 7-4 0-4-1-4-5-4 3-3 8 0 5-5-17-4-4-5-4 4-5-7 3-8-1-4-8-4 2-12-6-4 3-5 4 4 4 0 12-6 5 3-8 12 7 4 7-4-2-8 3-4 4 2 7-2-7-7-4 6-4-1-8-12-4-1-4 8-8 0-8-9-2 8-6 4 2 4 0 4-14 10-12-3-4 4-4 0-8-3 1 4-1 2-4-4-8 5-4-1-7 6-1 4 4 1 4-2 9 1 3 10 8 3 4 5 3-6 5 0 4-4 4 6-2 6 2 2 4-2 4 2 4-4 4 4 5-2 0 4-5 5-12-4-3 3 1 12-2 2-4-2 1-4-1-3-5 7-7 3-6-3-2-8-4 2-4-7-8 5-6 8 2 4-12 12-4 12-5 4 4 4-6 4 1 4-7 8 2 4-4 4 5 4-4 4-2 6-4 2-4-1-2 9-8 4-3 8 1 6-4-3-2 5-10 9-2-1-2-5-4 2-4-1-3-8 2-4-2-4 1-4-3-4-7-3-6-5-2-11-5 3-2-4 4-4-1-2-4 1-2-3 6-2 2-6-2-4-8-2-1-2 5-4 8-1 4 3 8 1 8-6 4 3 3-4 5-3 4 3-6 4-1 4 3 7 8-3 2-4-1-8 4-4-3-4 2-3 5-1-3-4 6-1 6-7 1-8-2-4 2-4-4-16 6-4-1-3-4-1 17-20-15-4-2-20-5-8 1-4-4-1-4-10-4 1-7-2 4-4-7-4 6-4-4-12-4 2-3-6-5-1-8-16-1 5-7 6-4-3-2 1 4 8 6 4-16 1-4-6-12-10-4 4-3-1-1-5-4 0-2 1 2 4-4 1-8 8-4 11-4-2-4 5-4 0-4-6-4 2-3-3-1-5-8-1-4 3-2-5 3-4 0-4-9-4 1 4-2 4-3 1-4-3-4 6 4 9 4-2 5 1-5 3 0 3 4 0 4-4 4 5 4 0 5 9-3 8-6 4-3 8 3 2 4-4 4 2-4 4 4 2 7-2 3-4-3-4 2-8 3-1 8 9 6-8 5 0-3 11-4 1 1 8-11 8 2 1 4-2-1 5 2 4-5 4 1 4-1 1-4-2-2 1 0 4 4 4-6 0 1 4-1 1-8 1-2 2 6 2 1 6 3 3 8-8 3 1-3 4 6 4-4 4-1 4 4 4-7 4 4 4-2 3-4-2-2 3 2 2 4-2 6 4-5 4 4 4-1 4 2 4-6 3-9 1 9 1 4 7-2 8-2 2-4-4-8-2-6 4-3 4 2 4 3 1 4-2 2 1 0 4 2 2 8-8 1 2-1 4 4 1 4-5 2 4-6 10-8 1-8 8-4-2-4 2-1-3 3-4-2-2-8 2 1 4-7 8-6 4-1 4 3 4-2 4-8-3-12 6-4 0-4 10-4 0-6-5-6-12-4 5-12 0-5-5-3-6-6-2 3-4-1-1-4 2-9-1 5-4-11-8 7-4 3-4 0-4-7-4 4-2 4 1 4-4 3 1 1 6 4 0 2-2-1-4 3-3 4-1-8-3-4 1-4-2 8-2 8-11 10 5 2 5 4-10-28-6-8 0-20 8-3-1-2-4 1-1 4 2 4-4 4-1 0-7 4 5 4-2-12-5-12 4-9-3 3-8-2-7-4-6-4 3-5-6 5-3 8-1 5-4-4-4 15-2 3-2-7-5-8 3-8-3-4 6-10-5 10-6 8-8 4 3 4 1 3-2 1-6 8-1 4-3 4 5 4-2 3 3-3 4-13 8 1 2 8 1 3 5-2 4 10 4-3 0-2 4 1 4-3 2-4-4-4 0 0 4 12 5 4-6 4 1 4-4 3 2-3 4 8 10 3-2 1-5 8 5 4-1 8 2 4 3-2 4 2 2 8-2-8-4 4-7 6-5-10-6-3 2 4 8-5 0-1-4 1-9-4 2-4-2-4 3-4-1-10-5 2-3 7-1-7-1-3-3 4-8-9-2-4-4-4 2-3-8 8-4 0-4-8 0 3-1 1-3-6-4-3-2-8 7-8 1-8 0-1-2 5-9 4 4 8-2 4-6 4 0 2-3-2-8 14 8 2 3 3-3 0-4-5-4 10-16-4-6-8 3-1-1 3-4-2-1-4 3-2-2 1-4-4-4 0-4 5-6 4 6 4-2 5-6-9-4-4-7-4 4-4 0-2-5 10-1 14-7-3-4-3-13-4 7-6-2 1-4 4-4 0-4 5-2 8 1 1 1-3 4 1 4 5 6 4-5 8 1 4-3 4 2 3 3 0 4 5 4-4 4 4 3 5-7-4-4 3-2 4 1 4 4 8-7 4 0 16 8 4 0 4 4 4-2 4-10 4-1 4 2 12-4 7 7-1 4-5 4 3 4-1 4 1 3 4-1 8-6 6-8-2-4-7 0-3-4 2-1 4 3 4-6 8-2 4 1 4 5 4-1 4-7 4 3 4-2 8 3 2 4-3 4 1 5 4-3 4 7 4-5 8 4 1-4-5-4-1-4-3-4-4 1-4-5-1-8 2-4-9-8 4-8-7-12 5-4-2-8 3-4-5-4 6-2 0-3-6 1-3 8-3 2-9-2 3 8-2 4-7 0-3 4-6 0-8 3-4-8-5 1 1 7 4 2 1 3-9 5-4-4-12 4-16-3-8 1-4 4-16-11 5-12-1-7-4-1-5 8 1 4-4 5-5-1-2-4-1-8-8 2-4-3-4 0-2-3 1-4-5-4-3-8 3-4-1-8 3-2 4 6 5 4 3 1 4-1-4-4 4-16-5 0-3 2-1 6-3 2-4-6-8-3-11-9-4 0-4 4 5 8-2 11-6 1-1 4-13 8 3 4-3 8-14 16-6 3-4 0-5 9 4 8-2 8 1 4 7 4-1 2-8 1-4-7-4-2-4 2 4 4 2 8-6 4-1 4-7 2-9 6 1 3 5 1-5 14-5 6-2 8-5 3-4-7 2-4-2-2-4 3-8-7-8 0-8 4-4-3-7 1 9 8-3 4 3 12-6 9-6-1 0 4 2 3 8-2 4 0 2 3-4 8-6 2-5 6 6 8-6 20 7 4 2 4-3 4 6 4-5 4 2 3 4-1 2 2 2 12-4 2-4-1-4 3 2 8-4 4 3 4-5 2-8-3-5 1 1 3 5 1 2 4-3 4 4 5 10-1-6-1-4-3 1-4 3-2 8 1 0 5 4 5 8-2 4 3 2 2-2 4 4 3 5 1-5 1-6 7 2 2 8 3 0 9 12 5 0 2-4 3 1 4 3 2 8-1 6 3-8 4 2 4 7 4 1 7 10 21 0 8 4 4 6 12 1 8 6 8 0 8 6 8 0 4 3 8-4 8-8 4-8-1-8-6 2-5-4-4-4-8 2-4-2-8 2-5-4-5-6-2-4-4 0-4-6-3-4-10-8-6-4-9-9-4 1-4-7-8 1-4-1-4-6 0-1-8-5-4-2-8-6-8-1-6-4-1-5-5-3-8 4-3 1-5-6-8 2-4-2-8-6-12 3-4-12-7-4 1-5-18-3-2-4 2-7-4 0-12-5 1 0-5-14-8 0-8-7-4-1-12 4-12-6-6 0 10-4 12-7 0-2-4 7-4-10-6-20 6 4 0 1-4 0-4-5-6-5 2 0 4 2 4-5 1-8 7-4 1-8-6-3 9 4 4-5 0-4-8 0-4 5-4-5-2-4 6-5-12-5-4-2-8-9 4 0 4 3 4-2 2-7 2 3 3 4-2 8 1 3 2-3 5-4-3-4 4-4 0-8 9-8-2-3 3 2 4-3 2-4-5-4 3 6 4 2 7 3 1-6 4 4 4 1 4-10 5-2-1 5-4-7-1-4 1 0-36 5-4-2-8 1-3 4 3 4-1 4-7 7 8-1 4 6 2 1-2-3-4 5-4-7-6-12 2-8 3-4-8 0-61 4-6-3-4 2-4-3-1 0-177 2-2-2-6 2-2-2-1zM460 605l-2 3 2 1 4 1 4-2-4-3zM488 597l-8 11-8 2-11 10 3 2 4-1 8-8 12 13 2-2 1-8-3-12 2-4zM504 777l-2 3 2 5 5-5zM544 600l-1 4 4 4 5 1 0-5zM560 618l-2 2 2 3 4 1-4 1-4 6-4 0-20 14-2 3 2 3 5 1-2 4 2 4-3 4-9 4-2 4 5 4 4 8-4 4 1 12-1 4 2 4-3 8 3 8 0 12-3 8 5 8 4 4-8 7-16 1 12 1 12 11-4 6-4-4-4-1-4 6-4-2-4 2 1 5-6 4 1 2 8 0 4-5 8 1 2 2-6 2-1 2 9 6 12-3 4 2 3-1-1-4 3-8 3-4 3 4-7 4 2 4 6 5 4 1 4-10 7-4-11-12-2 4 3 4-5-1-2-3 3-16-2-4 8-12 1-24 3-4-1-28 3-4 0-12-4-8 2-12-3-4-2-8 6-8 4 1 5-5-1-2-5-2 1-2 4 1 1-3-5-5-4 2-4-4zM572 587l-1 1 1 8 8 6 6-6-2-4-4 4zM576 574l-2 2 3 4-2 4 9 4 4-4zM640 507l-6 9 5 8 1 5 4 0 4-1-1-4 2-4-1-8zM652 482l-4 6 4 1 6-5zM660 496l0 4-4 3-8 1 2 4 6 1 4 4 8-13-4-5zM692 479l-5 5-1 4 2 2 4-2 4 7 2-7zM820 495l-4 9 2 4-2 4 12 6 2-6-4-4-4-8 1-4zM852 725l-4 3 4 5 6-5zM860 592l0 4 2 4 5 0 1-4zM916 462l-6 6 10 3 2-3-2-4zM940 487l-9 5 5 2 5-6zM992 622l-7 6 5 4-2 4-4 0 4 7 9-3-1-8-3-4zM1040 643l-3 1 0 4 3 3 3-3zM1056 437l-5 11 10 4-2 4-5 4 6 4 9-8-5-8 4 0 5-4-1-5-4-3zM1088 470l-6 6 2 7 4 0 5-3 1-4-2-4zM1108 527l0 6 8 0 8 6 3-3-7-9-8 4zM1124 447l-5 9 1 5 4 1 8-6zM1128 432l-1 4 5 4 4 10 8-10 4 1 8 3 0 8 5 0-5-8 5-4-1-7-16 7-4-8-7 4-1 2zM1180 451l-9 5 1 6 4 2 7-4-1-4 4-4zM1196 457l-3 3 0 4 6 4 1 6 4-3 4-11-8 2zM1228 451l1 5 7 1 1-1-5-5zM1320 471l-4 5 4 1 4-3 1-2zM1352 442l-6 10 5 4-2 4-5 1-4 3 5 4 1 4 10 10 0-6 4-4-4-7-5-1 1-3 4 1 1-2-6-8 5-5 4 0 2-3-2-2-4 1zM1396 455l-3 1 1 4-2 4 8 9 8-6 3-7-3-3-8 4zM1440 448l-2 4 2 4 5-4zM1164 603l-4 1 0 4 4 3 5 1 0-8zM1216 622l-3 6 3 2 8-4 4 3 3-1-11-7zM1232 714l-3 2 7 3 1-3-1-3zM1180 800l-8 5-1 3 1 3 8-7zM1192 828l0 12-7 4-1 4 8 7 1-11 3-3 4-1 8-5 4 2 4-1-12-10-4 0-4 3zM1240 807l-4 1 0 6 4 0 2-2zM1256 785l-1 3 11 8 6 9 4 2 2-3-3-4 1-2 6 2-1-4 4-4-5-6-4 5-8 0zM1316 959l-2 1 3 4-1 5 6-5zM1180 932l-6 4 2 6 4-4 4 1 2-3-1-4zM832 1021l-3 3 5 4-2 4 4-1 4-7zM764 966l-2 2 2 0 4 6 2-6-2-2zM852 1011l-6 9 5 0 4-4zM832 824l0 6-4-1-2 3 2 5 10-9zM864 823l-1 1 1 5-5-1-1 4 3 4 3 1 4-4 8-1 4-4-8-6zM896 824l-3 4 3 5 2-1 1-4zM908 839l-1 1 4 8 0 4 5 5 5-5-1-3-7-1zM484 699l0 4 4 2 9-1-1-2-4-1-4 1zM512 817l-1 3 1 5 9-1 1-4-6 0zM516 804l-3 8 3 2 4-4 4 0 1 2-3 4 2 3 4-4 4 7 4 2-2-8 4-8-6-4-4 5zM544 817l-4 3 4 7 1-3zM696 497l-4 3 2 4-7 8 2 4-5 6-16-7-5 5 9 8-5 4-3 12-4 4-4 1-2 3 1 4-3 16 1 8-10 24 1 8-2 8 1 4-1 8-2 3-12-2-3 3-1 4-6 4 5 4 0 4 5 3 7-3-8-4 1-4 4-4 4 7 10 5 2 5 4 2 4-3 3 4-1 4 2 2 28-5 4 4 8 0 12-7 12-1 6-5-1-4 3-8 7-4 6-8 2-8 9 1 10-9-5-8 6-16 5-6 6-14 0-4-6-6-8-2 1-4-5-1-20-20-4 3-8-3-4 1-4-4-8 4-8-2 0-9 2 3 4 0-2-4 1-8-2 0 1 4-4 4-1-8 2-4-3-4 0-4zM868 567l0 3 4 4 5-2zM884 530l-4 6 8 4 3-4zM920 495l-2 1 6 7 4-3-4-7zM1008 705l-3 3 3 4-1 4 3 4-2 6-5 2 5 5 2-5 4 0 5 8-3 5 4 2 4-1 2-2 0-8 5-4 0-4-3-4-4-2-4 2 0 8 0-8-4-4 12-1 3-3zM1032 643l-1 5-5 4 6 3 2-7zM1040 737l-4 7 4 2 2-2 1-4zM1060 464l-1 4 1 2 8 6 4-1 4 3 6-6-2-5-4 4zM1104 638l-2 2 2 4 4 4 3-4-1-4-2-2zM1236 461l-1 3 5 5 6-5zM1236 730l-1 2 5 4 6 0-2-4zM1180 812l-4 1-2 7-7 4 5 5 12-11 5 2 1-4-2-4-4-2zM776 962l-2 2 0 8 2 1 2-1 0-4zM860 980l4 6 3-2-3-5zM864 958l-4 2 5 4 4 0-1-5zM496 818l-1 2 5 6 4-2zM516 847l-7 5 3 2 4 0 1 2-1 4-4 0 8 2 4-2 10 8 0 4 6 3 8 0 8-9 4 0 4-6-4-2-4 4-2-2 0-4-2-1-4 3-8-9-8 1-4-2zM608 731l0 6 5-1 3-4-4-3zM628 671l-8 9-4 2-4-5-2 3 6 7 8-2 6-9zM632 888l8 1 1-1-1-3-4-1zM636 667l1 5 3 2 4 1 2-3zM652 836l-4 4 0 8 4 3 4-3 4 1 4-1-4-7-4 6zM672 842l-8 6 4 5 8-5-1-4zM716 729l-4 3 0 4 4 5 1-1zM736 703l-5 5 5 9 4 2 1-11zM900 605l-6 7 0 4-3 4 1 2 4-1 4 3-4 2-4 0-4 2-8-10-4-1-1 3 6 8-4 4 1 4 10 3 8-9 4 2-3 4 7 5 4-3 12 1 0-6-4 3-4-4 8-2 4-6-4-1-3-3-1-6-4 5-4 2-5-9 2-4zM912 541l-3 3 7 7 2-3zM1016 753l-9 11 17 8-5 8 0 4-3 4-12 7-4-3-1 4 5 1 2 3 1 4-4 4 4 4 9 0 8 5 4-5-5-4 4-4-2-4 4-4 0-4-3-4 1-8 4-4 1-4-8-5-5-7 0-4zM1024 746l-2 6 6 4 4 0-1-4zM1036 863l-7 5 1 8 2 1 3-1 4-4 1-8 2 8 6 1 4 7 4 1-3-5 1-8-6-4zM1064 979l-4 1-4 6-4 2 0 2 16-5 1-1zM1076 622l-2 2 0 8 2 2 5-6 0-4zM820 894l-3 2-2 8 1 5 8-1-2-12zM512 868l-1 4 5 6 3-6zM648 893l-2 3-1 8 3 3 5-7zM656 883l-7 5 3 3 9-3zM892 494l-6 6 6 5 7-1-6-4zM876 642l-3 2 3 8 3-8zM1024 858l-6 10 2 1 6-5zM1132 859l-4 4-4 1-1 4 5 2 3-2 1-4 2 4-3 4 1 4 6 8 2 2 8-6 4 8 4-2 2-2-6-8 4-3 5 11-1 4 4 2 2-2 1-4-6-4 1-8-5-4-1-4-4-3-4 2 0 7-4-1-4-1 6-8-2-2-4 3zM824 924l-3 4 3 4 14-4-6-5zM868 1046l-4 3-8 1-4 5-4-2-7 3-1 3-4-5-1 6 1 3 24-3 4 3 4-7-1-4 3-4zM872 1025l-4 7 4 3 3-3 0-4zM1128 878l-8 7-1 3 3 0 2-2 4 3 3-1 1-4zM1502 436l2-2 4 0 8 2 2-4 19 0 0 4-5 2-4 6-12-3-8 3-4-1zM1546 432l9 0 7 8-6 4-4-3-4 1-3-2 4-4zM1563 432l20 0 2 4-1 1-4-2-4 3-12 0zM1805 436l6-4 5 0-3 8 3 2 10-2 6-8 583 0-3 8 1 4 7 4-3 8 1 4-7 4 2 4-1 3-4 6-5 3-1 4 6 12 1 8 11 8-2 4 2 1 20-13 4 0 4 2 8-3 4 5 4-2 8 0 6-6-2-4 0-4 4 0 8 8 8 1 8-9 8-4-4-7-20-5-4-8-4-1-2-7 3-4-5-5-4 0-4-11 2-4-3-4 461 0 0 269-4-2-4 2-12 10-3-3 7-8-8-3 0-5 4-1 1-3-5-5-4 7-4 0-8 3-2 3 0 8-6 6-4-1-4 7-4-5-8-2-1-1 6-4-5-3-7 3-5 6-4-5-5 11 3 4-2 2-12-2-8 5-8 0-1-9-7-4 6-16-1-4-5-2-4 1-8-6-4 1-4-9-5 3 1 6 3 2-3 4 1 4-1 1-4-5-4 9-4-2-4 4-7 1 3 4 0 4-4 5-4-1-4 5-3 7-5 4 4 4-4 12-4 0-4-5-4 2-4-2-1-3 4-4-9-8 2-4 4 2 2-2 0-4-2-1-4 5-8-9-4 2-4-4-12-3 0 10-4 0 2 4-5 4-5 12 2 4-3 4-2 8 3 4 5 0-4 8 2 12-7 7-4-6-6 7 6 1 3 3 1 4-8 3-12-3 0-3 4 1 4-2-4-2-4 2-8-4-3 0-1 4-5-12 6-4 3-7 4 4 2-1-4-4 10-1 5-3-9-2-8-6-5 0 0-4-7-13-7-3-1-8-5 4 5 12 0 20-4-3-9 11 1 2 9 2-1 7-1-3-3-3-8 0-7 3-15 20 8 4-6 5-4 0-1 3 1 4 4 4-8 4 0 6-8 1-4 2-4-9 4-8-14-20 6-4 2-4-2-4-8-5-1-3 1-4-8 1-8-5-1-4 5-4-4-5-12-1-4 4-4 1-2-3 2-3 6-1 0-4 6-5 2-7-2-4-8 0-3-4 0-4-5-5-4 0-4 3-4-2-7 0 0-8 7-7 4 0 8-6 4 4 2-3 0-4-10-4-2-4 1-8-3-8 8 3 4-1 4-4 4 0 4 3 4-5-2-4 2-2 4 3 1-1-5-6-4 3-4-1 3-4-7-8 0 4-4 5-3-5-5-3 0 6 4 5-4 3-12 1-4-4-5 0 3-8-10-2-4 3-4-1 1-12-5-3-4 3-6 0-3 8 6 12 5 4-2 5-4-3-8 6 6 8-3 8 1 2 4-1 6 3-2 3-8-1-4-4-4 1 1 5-5 4-5-8 0-8-3-2-4 3-4-1-8 11-4 2-4-1 2-4-3-4 6-8-5 0-6 4-1 4 2 4-6 8 3 5 4 1 4-4 3 2-3 10-3 2 0 4 7 4-8 2-5-6 3-4-9-16 0-8-5-4-4 0-2 4-6 3-7-11 5-4-2-7-8 9-4 0-4-4-16 11-8-2-4 0-8-19-14-12 2-3 4-1-4-8-5 0-7 7-4 1-12 0-4-3-4 5-8-2-8-5-4 1-1 4 4 16-3 4-13 4 3 8-6 1-1 7-3 2-1-2-7-2-1-2 7-4 0-4-5-4-3-12-10-8-8-17-4 4-4-3-8 7-4 1-20-3-4 2 1-7-9-3-3 3 4 4-5 0-4-1-4-5-4 1-4-7-8-2-4 4-4 0-4 3-4-1-2-4 1-4-5-8-2-1 0 3 2 2-1 4 2 12-3 4-8-3-5-5-5-12 2-4-4-2-1 10-6 4 2 8-7 7-12 1-12 5-4-3-1 2-1 4 6 12-5 4-3 1-4-4-4 2-2-3-10-6-12 2-4-4-8-1-8-4-1 5 4 4 5-3 2 7-2 2-4 1-4-4-4 5-4 0-3-8-5-5-12 9-8-4-2 4 6 4-1 4-3 1-4-1-3-4-5-11-8 3-12-5-4 6-8-3-2-2 0-4 4-4 0-4 3-4-1-4-4 2-1-2 1-2 8 3 3-5 1-7 4 5 4 0 4-4 6 6-6 3-4-1-1 2 5 5 10-5-1-4 5-4 0-8-6-2-4 4-4-2-9 4 9-11 4 2 4-5 1-6-5-5-7-3 2-4-1-4-6-5-4-1-8 4-4-6-4 1-2 3 2 8-2 4 2 2 4-4 2 2-2 7-4-2-4 5-4-2 0-5-4 1 4 4-9 4-7 7-12 0-8 3-5-18 5-5 8 1-4-8-8-4-2 4 0 4-10 2-1 6-3 3-5-3-3-3-4 3-16-12-4 3-4 0-1 1 5 4-8 6-4-3-5 5-2-4 1-4-2-3-10-1 8-8-3-4-7-4-6 8-6 2-2-2 11-12-5-3-4 3-1-4-15-8-2-4 2-4 11-8-3-6-4 1-1-7-3-3-4-1 3-4-3-4 0-12 8-11 4-4 4-1 0-4 4 0-4 4 5 0 3-3 4 3 4-6 8 0 3-6-3-8 5-4 3-10 7-2 8-8 0-4-2-4 2-4zM1988 506l-6 6 1 4 9 4 1-12zM2104 626l-4 6 0 5 6-1 1-8zM2380 658l0 6 4 2 2-2 0-4-2-2zM2568 643l-7 5 0 4-6 8 1 3 4 0 6 5-10 2-4-2-12 23-5 1 9 7 6-3 6-8 12 0-1 4 5 2 8-1 8-8 4 0 8 7 12-1 8 7 8 1 8-7 0-4 8-4 0-5-8 1-4-9-8-3 0-4 0 4-4 2-5-2 2-4-1-2-4-2-8-2-4-4-7 6 0 4-5 3-7-3zM2612 607l-14 5 1 4 1 1 4-2 4 3 5-6 1-4zM2672 675l-4 3-8 3-7 7-2 4 5 7 4 0 4-3 4 6 4 0 9-14 5-4-2-3-8-2zM2692 683l-2 1 2 7 4 1 0-4zM2712 671l-6 5 1 4-4 12 1 1 4-4 4 1 1 2-1 4 5 4-2 8 1 1 7-5 1-8-6-8 6-4-1-8zM2752 702l-4 6 4 2 4-6zM2800 671l-6 5 6 4 3-4-1-4zM2844 671l-15 5-3 4 2 1 4-2 11 5 4 4 1 10 4-6-1-4 2-4-1-2-4 1-3-3-2-4zM2912 692l-2 0 6 6 4 0 2-2-2-8zM1792 494l-8 7-8-5-1 4 9 8 4-5 1 1-2 8-7 5-4-3-6 10 6 5 4-5 4-2 4 3 4-9-2-4 6-4 4 2 3-2 1-5 4 3 1-2-5-6-4 0zM2028 639l4 7 4-5 4-1zM2588 718l-1 2 3 4-2 4 4-1 1-3zM2608 722l-6 6 8 0 0-4zM2668 718l-2 2 3 8 6 4-6 4 3 3 5-3 0-4 4-4-4-8-5-4zM1492 440l4 6 4-3 4 3 4-1 4 2 4 0 0 5-12 6-4-5-6-1-1-4-6-4zM1774 472l2-2 4 6-3 4 3 3 0 3-4 4-2-6 2-4zM1699 480l3 0-2 5-8 1-2-2zM1739 480l5-2 4 4 2 6-6 4zM1351 492l5 4-2 4 2 4-8 5-4-1 7-8-1-4zM1234 500l6-3 2 3-2 15-8-11zM1705 536l7-2 3 2-7 5-2-1zM1376 544l4 1 2 3 0 4-2 2-5-2zM1381 560l3-3 2 3-6 7-2-3zM1310 580l10-3 2 3-3 8 1 5-8-3zM1301 592l3-3 7 3-3 4-4 0zM1923 608l2 0-1 4-4 3-4 0-4-3zM1322 612l2-1 5 5 0 4-5 3-3-3zM1355 612l5 4 3 8-3 3-8 4-4-1-4 3-9-1-1-4 2-4 4-2 8-9zM1907 612l3 0 2 6 8-1 3 3-15 1-5-5zM1283 624l5-1 1 1-1 4-4 1-3-1zM1288 628l4-1 7 5 5-1 2 9-6 6-6-2-2-8-4 0 2-4zM1324 632l4 8 0 6-4 1-3-3 3-4zM1284 644l4 0 2 4-6 5zM2291 660l1-2 6 2-6 5zM2062 668l7 0 6 8-3 8-8 5-4 0-2-1 6-7 4-1-4-1-3-3zM2569 668l7-4 4 4 0 4-4 3zM2362 684l10 2 1 2-5 1-8 7-3-4 7-4zM2665 688l7-3 3 3-3 5zM2483 692l1-2 8 0 2 2-6 7-5-3zM2330 696l2-2 11 10-11 5-1-1 1-8-4 3-3-3zM2165 700l3-2 3 2 0 4-3 2zM1353 708l11 0 4 6 9 6-2 8 2 4-5 8-1 12-3 4-16-5-3-11-7-12-1-4 6-8 7 0 1-4zM2860 716l4-3 2 3-4 4 1 4-3 2-3-2zM1307 720l2 0 0 4 4 8 0 4-7 4 4 4-2 9-8-12-4 0-2-1 6-8-2-4zM2695 724l5 0 2 4-6 3-3-3zM2707 728l6 8-3 4 1 4-3 4-6-4 5-4zM1263 732l2 0 2 8-1 4 4 4-2 3-9-11zM1317 740l3-3 4 1 2 2-2 5zM2519 744l7 0-6 6-2-2zM2690 760l2-1 4 1-4 5-6-1zM1185 764l3-1 4 4 4-5 4-2 3 4-1 4-14 1zM2482 764l2-3 8 3-8 2zM1176 772l4 0 8 4-4 6zM1319 812l1-2 8 2 8 6 13 2 6 4-7 3-4-1-4-5-4 3 2 8-2 2-4-5-4 2-4-3 0-4-9-4zM2561 816l3-3 3 7-7 1zM2595 828l5-3 5 3-9 4zM774 836l4 0 0 4-2 3-8 3-3-2zM751 844l4 0 1 4-4 4-4 1-2-5zM543 864l1-3 4 0 3 3-7 4zM927 864l1-3 4-1 2 4-2 3zM909 868l7-2 8 3 2 3-2 6-4 1-4-1-4-4-6 2 2 4-4 1-3-1 1-4zM762 880l4 0-6 12 2 8-6 7 0-7 4-4 0-4-4-4 1-4zM726 884l7 0 3 6 2-2-2-4 4-2 5 2 3 8-4 7-4 0-4-6-4-3-8 0-3-2zM495 904l5 0-4 6-4-2zM539 912l6 0-1 3-4 2-3-1zM790 912l2-2 4 6-4 2-3-2zM516 916l4-2 3 2-6 4-1 3-4-3zM747 920l1-1 4 5 4 0-12 2-4 0-2-2zM807 948l3 0-2 4-4 1-4-1zM923 968l5 1 2 3-2 3-4 1-2-4zM2395 980l2 0 0 4 3 1 8-8 5 3-3 4 2 8-3 4-5 3-4-4-4 1 3 4-3 1 0-5-4-4-1-4 4-4zM2384 996l4 6 6 2-2 4-7 4-8 0-2-4 5-2 4 0 1-2-3-4zM792 1000l0-2 13 2-1 3zM777 1016l3-4 2 12-2 7-5-3 2-4zM922 1040l2-1 2 5-5 8-9-1-4 3-3-2zM975 1056l8 4-3 3-4-1zM985 1068l6 0 1 5-4 1-4-2zM2303 1096l5 2 4-3 4 4 3 1 1 4-12 9-8-12-3-1zM1014 1180l2-2 8 2 6 8-3 4 1 2 4 0 4 2 11 12-4 4-1 4 3 4-2 4-3 3-8 4-7-3-2-4 2-4 0-8-9-12 5-4-6-4-4-8zM1134 1184l6 0 1 4-9 0zM1117 1216l3-2 4 5 4-2 1 7zM738 1224l2-2 4 0 5 2 3 8 4-5 11 5 1 4-4 2-8-4-11-2 1-4-2-2-4 1zM1125 1240l3-3 4 3-10 8 10 7 7 1 0 4-3 4 1 4-5 3 0 5-4 5-4 1-24-8-4-4-6 2-2-4 1-8 3-4-1-4 1-2 4 2 4-7 8-1-2 4 2 4 1-4 7-4 4 1zM799 1244l7 4-2 3-4-3-3 4-5 1 0-7z"/>
<path fill="#F69999" d="M452 432l20 0 0 1 0-1 60 0 4 6 8-4 4 1 2-3 269 0-5 8 0 4-2 2-4 0-1 2 1 2 8 2 4 0 4-6 4 2 0-5-8-1 0-4 4-2 4 3 3-3-3-2-4 2-4-4 183 0 1 5 5-1 4 8-5 2-8-7-2 1 1 8-3 2-3-6 0-4-9-2-3 2 6 4-6 4 5 8-3 8 10 8-3 4 6 2 6-6-6-4 0-4 4-2 8-1 4 7 4-4 1 4-9 1-1 3 1 2 5 2-13 2-8 9-8-6-10 11 2 4 4-4 1 4 7 2 12-9 4 1 2 10-2 3-5 1 5 1 4 5 2-2-1-20 7-7 4 4 4-5-7-4 7-8-2-4 3-4-5-3-4 1-3-6 1-4 6-3 4 3 8 0 4-8 4 4-2 4 3 8-5 3-4-4-2 1-1 8 2 4 9 6 4 0 8 8 4 1 4-4 4 1 12 10 4 0 2 2-2 4 1 4 3 6 8 2-3 4 1 4 6 7 3-11-1-4-4-4 2-3 4-1 4 1 4 8 4 0 8 6 6 1-2 4-4-3-3 3 1 4-2 2-8-7-4 1-8 7-1 1 5 1 2 3 0 8-3 12 1 3 4 0 4 3 8-10 4-1 0 9 7 4-1 4 6 4 8 1 4-2 4-5 8-2 4 1 4 6 0 1-8-3-4 6-4-2-7 3 5 4-5 4 11 6 4-5 6 7-5 12-2 8 3 12-5 4 1 4-2 4-4-4-4 2-4-2-7 8 3 8-6 4 2 3 8-2 8 6 4-5 3 6 6 4-8 4 1 12-2 2-2-6-2-1-8 5 4 1 2 3-6 4 4 4-11 8 8 8 1 12-1 4-5 4 0 4 4 4 3 12 5 6 0 11 8 10 15 5-2 12 3 2 4-2 5 8-5-1-2 1 2 4-4 1-4-8-3 3 5 16-2 3-4-2-1 3 2 8 7 8 2 8-6 8 1 4 10 8-15 7-5-3 3-4-2-3-4 3-4-2-4 1-4-5-4 0-4 3-8-2-2 1-5 8 0 4 7 4-4 6-8 1 2 5-1 4 3 2 12-1 4 5 4-5 4 1 0 10-4 2-1 2 2 4 0 4-13 7-8-1-12 4-8-3-8 2-4 4-4-2-4 5-4-1-4 4 3 9 5 3 1 5 5 4 0 4-2 2-4-3-4 4-4-4-1 1-4 12 5 12 4 0-4 5-1-5-7-5-8 5-1 4-4 4 1 7 6 9-2 8-4-2-2 2 1 4 4 4-3 5-4-7-1 6-6 4 3 4 4-3 2 3-3 4 5 4-6 4 1 4-3 2-4-1-4 3-2 8-6 4 0 4-12 16-4 2-4-4-4 1-5-7 2-4-3-4 1-8-3-3-7-1 3-1 4 1 3-4-3-4 1-4-1-3-4 3-5-4-1-8-5-4 3-4-5-4 1-2 12 1 2-3 6-2 8 6 4 7 4-3 4 2 2-2 2-4-1-8 3-4 0-8 6-3 1-5 3-2 5-10-2-8 2-4 0-8-3-8 10-11 2-5-2-4 5-4 1-4-11-4-3-4 0-8-1-4 1-12 4-2 1-6 3-4 8 3 5-7 0-4 3-4-4-7-4 4-4-1-1-4-3-3-8-2-3-3-1-5-8-2-8 3 8 4 4-1 2 1-6 9-1-5-3-2-4 4-4-1 0-5-4-4 2-4-2-2-4 4-8-2 0-4-3-4 3-3 4 1 5-2-4-16 3-2 4 0 3 2-6 4 3 3 7-7 5 4 12-8-5-4-2-8 5-4 1-8 2-4-4-20 7-7 5-13 5-4-5-4 1-4 6-5-8-5-8 9-2-7 1-4-6-4 3-4-20-10-4 0-4 3 1 11 3 4-2 4-10 8 0 4 4-3 1 3-1 4 4 4 4 1 2 3-2 4-4-7-4 2-8-3-4-8-4 1-4-1-6 4 0 4-2 3-12-4-6 5 9 8-15 6-4 1-8-6-4 0-4-2-8 5-4-3 0 9 5 2-5 3-12 2-8-2-12 2-10-9 0-4 2-3 4 0 6-5-2-1-7 1-1 2-4-7-4-3-6 0 4 4-1 4-5 4 0 5-4-1 0-4 5-8-1-2-4-2-4 4-9 0 5-8 4 2 3-2-2-4 1-4 6-3-8-6-4-1-1-2-1-4 4-4-2-6-12 2-4 2-4-7-4 0-4-5-12-3-7 5 4 8-2 8 0 4-7 3-4 0-3 5-5 2-5-2 0 8 5 4-1 8-3 3-5-3-3 4 0 8-12 1-4 7-4-3-2 7 0 4-6 8-1 4-4 4 2 4-7 8 4 12-2 3-8-4 0 5-6 8 10 7 0 2-4 2-8-3-4 5-1-5-3-3-4 4-4-3-4 5-8-3-4 5-4-4-4 3-4-2-4 0-8-3-4 3-8-6-4 4-3 12 7 6 4-4 7 2-7 4-1 4 4 4-3 2-5-2-1 8-2 1-1 7-3 3-8-4-4 5-1-4-4-4-3-2-3 2 4 4 1 4-2 3-4-6-2 3 2 3 20 5 4-5 1 1 2 4-8 8 4 4-3 4 8 4 3-8 4-4-2-4 7-5 4 3 2-2-1-4-4-4 3-3 4 1 3 6-1 8 8 12-6 5-1 3 6 4-9 12 8 5 2 3-2 3-4 1 4 1 8 12-4 1-5 6 2 4-3 4 5 4-4 4 2 4-13-3-4 4-8-5 2-4 0-4-6-9-4 1-4-6-4 5 0-7-3-8-5-3-4 1-4-2 0-8-2-4-8-8-10-4-1-4 2-4-4-4-1-8 2-8 6-8-5-4 7-4-2-4-4 0-8 7-2-7-2-2-3 2-3 12 4 4-2 2-4-1-16-9 4-4 4 6 5-2 5-8-2-1-4 4-4 0-3-3-2-4 3-4-4-4 5-8-3-2-4 2 1 4-1 0-4-1-4-5-4 3-4-1-2-12-2-4 2-4 2-3 16-4 8 4 1-1-3-8 2-2 4 0 0-3-4-3-8 0 3 8-3 3-4-7-8 10-4-2 0-14-4-4-4 2 5 4-5 2-1-2 1-4-5-4 5-2 8 2 4 4 8-4 4 0 4-8 9-8-5-4-1-4 2-4-1-3-4 4-3-5-2-12 5-10 6-2 1-4 0-4-5-4 0-8 3-8 0-12 3-4-3-4-1-8 4-4-3-8 1-4 5-4-7-5 0-9 4 3 2-5-9-12 11-9 6-3 2-8-6-4 6-1 1-3-1-4-6-4 15-16-7-4 1-4-2-4 3-1 3 1-2 4 3 3 2-3-3-8 5-1 2-3-6-5-4 1 0 4-4-10-3 2-1 5-4 1-4-2-4 3-4-7-8 5-4 1-4-3-8 3-6 10 2 3 11 1 1-5 8 0 6 13-2 4 3 4-3 1-2-1 1-8-3-3-4-3-4 4-4 0-4-6-4 7-4 0-8 3-4-3-8 5-4 5-4-4-12 2-4-7-4 1-4-4-4 1-2 2 3 4-1 3-8 0-8 3-5-2-2-4-5 0 0-51 1-5 6-4-2-4 3-4-6 0 1 4-3 3zM548 479l-2 1 6 7 3-7-3-3zM568 498l-5 6 1 2 8 4 4-3 4 1-1-4 1-4-4-3zM668 475l-4 4-12 2-4 3-1 8 7 0 0 4 2 4-8 2-4 6-8-7 1 11-6 0 9 19 9-3-1-4 4-4-2-4 2-4 4 2 11 14-3 4-3 12-8 4-5 8 4 4-2 12 1 4-6 16 0 4-4 4 1 4-5 16-13 13-8-6-5 1 0 4 3 8 0 8 10 8-9 4 5 3 8-5 3 6-9 8-1 4-4 4-1 1-2-5-3 0-2 4 4 4-1 4 4 2 8-3 4-5 4-1 4 4 4-1 4-5 8 1 4-2 4-7 8-3 1 4 7 2 12-7 4 2 4-2 4 2 20-10 8 2 4-7 7-2 9-7 5-1-1-5-4 5-4-4 5-4-2-4 5-6 4 1 12-10 9-5 1-4-10-4-1-4 1-1 9 1 8-8-3-4-6-4 4-4 4-12-1-8-3-10-4 2-20-8-4-4-2-8-6-5-12 1-3-4-5-1-8 2-4-3-2-2 3-4-1-4-8-8-1-4-6-4 3-4 0-4-8-11-10 7 6 10 4-2 3 4-7 5-8-2-7 1 4-4-3-12-2-1-8 3-1-2 6-4zM796 523l-2 1 0 4 6 4 4-2 0-2zM824 490l-8 6 0 3-8-6-1 3 1 8 4 0 4 4-3 4 0 4 3 3 8-2 4 2 4-7-4-3-2-5 3-4 1-8-2-3zM844 562l-6 6 2 8 4-2 4-6 0-5zM864 477l-2 3 2 2 6-2-2-3zM888 443l3 13-1 4-6 4 4 8 6-8 2-8-3-12zM908 435l-2 1 2 4 4-1 4 1 0-4-4-3zM936 483l-7 9 7 6 4-4 4 0 2-2-2-4zM964 473l-2 7 2 2 12 4 3-2-3-3-4 2 0-3-7-4zM992 620l-8 7-4-1-3 2 5 4 1 4 5 9 10-5-1-8-3-4zM1008 687l0 5 8 3 2-3 0-4-4 0-2 3zM1012 511l-1 1 5 7 4-3-3-4zM1036 630l-4 2-5 8 4 4-1 4-6 4 8 5 2-1 2-7 4 3 5-4-5-7-4 1-2-2-1-4 7-4zM1056 842l0 4 4 1 2-3-2-3zM1076 511l-3 5 2 4-4 4 5 4 8 2 1 6-5 4 4 5 4 1 8-10-4-7-9-5 1-4-7-4zM1116 631l-4 9-4-5-4 2-3 3 5 8-4 4 2 2 8-7 9-3 2-4-4-4 2-4zM656 905l-3 3 2 8 5 2 4-6zM560 839l-2 9 6 3 0-9 4 2 4-4-4-4-4 4zM588 664l0 9-4 3 8 4 3-4 0-4-3-4 2-4zM596 609l-3 3 2 4 5 5 4-1 1-4-1-2-4-5zM580 529l-4 7 3 4-15 1-4 1 0 4 8-1 4 2 4 8 4 0 8-4 8 3 0-3-4-4-7-3-1-8zM604 542l-2 2 2 2 4 0 4-2zM616 696l-4 1-11 11 3 5 8 1 3-2-3-4 1-4 5-4zM648 692l-5 8 1 4 8 5 4 0 1-1-6-8 1-4zM664 698l-6 6 2 2 5-2 1-4zM676 727l-4 3 0 4 4-2 4 6 4-1 0-3zM700 743l-7 5 2 4 10-8zM708 752l-2 8 2 3 6-7-2-5zM716 726l-6 6 0 4 6 8 8-8zM740 695l-13 13 1 6 4 0 4 6-4 4-12-5-2 1 2 6 16-2 6-4 4-8-8-8-1-4 5-4zM724 475l-2 1 2 10 5-6-1-4zM800 544l-4 1-10 15-1 4 5 4-4 8 2 4 8-7 4 1 3-2-3-4 2-4-2-4 3-4-6-4 3-7 4 6 4 1 1-4 3-1 2 1 0 4-3 4 5 6 2-2 2-12-4-5-4-1-4 2-4-2zM812 522l-4 2 8 11 1-7zM832 481l-4 3 8 5 0-5zM892 472l-4 0-10 12 2 3 4-4 3 1 0 4 5 4 1-4-4-4 4-4zM916 461l-8 7 12 4 2-4-1-4zM1076 619l-4 5 2 4-1 4 3 3 6-7 1-4zM1104 884l-8 4 8 2 2-2zM576 754l-3 2 3 6 4-2-1-4zM560 551l-3 5 7 4 1-8-1-2zM604 720l-5 8 5 4 4 8 8-2 7-10-3-1-4-6-2 7-8 0 3-8zM652 714l-4 6 4 2 4-2-1-4zM888 494l-5 6 4 4-4 4 2 4 6 4 0 4-3 2-4-1-1 3 5 4-8 6-5-2 3-8-2-2-4 2-1 4 2 8 7 4 8 1 3-1 1-4-5-4 1-4 4 3 4 0 4 0 1-3-7-4-2-12-2-4 6-2 3 2 1 7 2-3-1-4 8-4-5-5-8 2-4-9zM912 496l10 8-11 4 5 0 4 5 6-9 6-4 4 7 3-3-3-3-8-3-4-6zM1016 639l-7 5 7 3 1-3zM600 851l-2 1 2 4 4 4 4-4-3-4zM616 743l-5 5 3 8 6 3 3-3-4-4 1-6 4 5 2-3-2-3zM648 728l-8 4 4 5 4-5zM804 623l0 3 4 4 4 1 8-3 0-3-4 2zM828 631l0 6 4 1 2-2-2-3zM836 612l4 6 4-1-4-8zM872 563l-8 6-8-1-1 4 5 5 8 1 1 2-3 8 10 5 0-17 4-4-6-4zM912 531l-8 4-2 5 6 4-4 4 1 4-3 4 6 3 4 0 2-3-3-8 5 4 3-4-5-8 0-8zM652 746l-1 6 1 4-4 0 2 4-3 4 5 1 3-5 5-1 4 4 4 9 7-4-1-4 4-4-2-4 6-8-6-4-4 2-4 2 2 4-2 4-2-4-8-4-2-3zM836 622l-3 2 1 8 6 4 2-4-2-5 4 2 2-1 1-4zM856 622l-3 2 7 6 2-2-1-4zM860 590l-2 6 3 4 3 2 5-2 1-4-6-5zM872 639l-2 1 3 8 0 4-3 4 2 2 5-6 3-8zM900 599l-8 12-8-1-3 2 7 1 2 3-2 8-4-2-4-6-4-1-1 1-2 4 6 8-3 4 0 4 12 5 4-5 12 5 9-1 7 6 2-2-2-4 4-6 7 2-3-8 1-4 4-4-5-3-8 5-2-2 1-4-4-4 1-5-8 3-6-6 3-4-1-2zM1072 873l-4 3 4 3 4-3zM592 857l-3 3 7 4 1-4zM640 847l-4 1 1 4 3 2 2-2 0-4zM660 766l-5 10 1 2 6-6zM864 619l-1 1 5 6 3-6-3-3zM1075 436l2-4 10 0-3 5-4-4-2 3 6 8 0 4 8 3 3-3-4-4 5-6 8-3 8 1 0 4-4 0-7 8 7 1 1 3-7 8 2 2 4-4 4 6-4 0-4 11-12-13-4 0-4 3-1-1 1-4-4-1-1-3 2-4-2-4 1-4-4-4zM1181 436l3-2 3 2-1 4-4 0zM1216 432l7 0-3 4 4 0 1 4-5 5-4 0-4 10-4-4-4 1-4-4 8-7 8 2 4-3-4-4zM1255 436l14-4 9 0 6 4 8-2 0-2 7 0 2 4 11 4-2 8-2 2-12-4-4 3-4 1-8-5-7 7 2 4-3 2-13-2 0-4 3-4-2-3-4 5-3-2 2-4-3-4zM1863 436l7-4 144 0 2 2 9-2 7 5 1 3-5 2-1 10-11 11-4-3-8 6-8-9-4 0-8-5-6 8 6 6 4-2 6 8 2 8-4 7-4-5-8 0-4-6-4-1-4 1 0 4-12-2-5 2 7 4-1 8-5 6-12-8-8 5-8-6-4 0-3 3-1 6-4-2-4 1-4-7-3 2 1 4 3 4-5 4-4-4 0-4-4-3-5-1-3-7-8 4-5-5 3-4-2-2-4 0-11-6 0-8 1-4-4-4 0-4 3-8 5-4zM1880 466l-2 6 6 12 2-8-2-7zM2226 436l6-3 2 3-6 6-3-2zM2319 436l2 0-1 11-7 1 1-4 5-4zM2374 432l14 2 0 6-4 4-1 8-11 3-4 4-4-3 4-1 2-3-8-4 2 0 6-8 6-3zM2490 432l287 0 3 2 1-2 72 0 3 6 4 0 11-2-1-4 58 0 0 62-3 2 3 3 0 65-4-5-4 4-4-2-4-6-4 7-4 1-4 6-8 0 0-6-4 2-3 3 1 8-10-1-6 13 2 3 8-6 4 1 4-8 8-2 4 8-6 4 2 2 4 0 3 6-15 8-4-1-4 2-4-1 6-4-10-7-4 4-12-2-2 5-4 4-10 4-4-6-1 6 1 4-4 5-3-5-5-1-9 9 5 2 4-2 4 0 6 4-2 7-5 1 2 4-5 3-4-3-1 4-3 2-8-3-4 4-8-3 0-4-8 3-8 0-2 1 3 4-1 1-4-2-1 1 2 4-5 3-4-9-2 2 2 15 4-1 2 2 2 8-7 4-1 5-4 3-16 6-4 0-4 5-4-3 2-8 2-2 4 3 4-5-4 0-2-8-2-2-4 2-9-4 12-12-7-4 3-4-4-4 5-1 4 6 4-2 8 1 0-4 4-3 12 1 2-2-14-10 0-4 4-2-4-2-1-6 1-2 4 2 1-4-7-12-2-2-4 5-4 0-5-3 2-4-4-4-1-4-4 3-4 1 0 2 4-1 4 3-8 4-4 6-4 1-4-3-4-4 4-1 2-3 0-8 4-4-2-2-4 3-4-2-8 5-8-14-4 3-2-1 8-8-2-7-4 0-3 3-2 12-9 4 3 4-1 4-4-1-8 5-4 6-8-2-3-4 2-4-4-4 2-4-17-2-2-2 2-5-4-2-4 1-4-10-12-1-2-3 6-5 4 4 2-3-2-4-4-2-12 3 2-5-2-2-16 3-4-3-4 2-8-2-2 2 0 8-6 4 4 3 4-2 2 3-2 2-12 1-2 1 1 4-3 2-4-4-4 3-4 1-8-9-7 3-1 4 1 4 3 2 4 0 1 2-9 11-8 0-4 3-9-10 1-4-8 1-2 3 0 4 6 4-12 0-2 4-8 4-3 4 4 8-3 2-4-5-5 7-6 0-1-4 6-4 4-8-2-5-4 4-4-2-4-5-4-1-8 13 0 8 4 3 4-6 3 3-1 8-2 4-4-6-4 3-4-3-8 8-4-5-4 2-5-7 1-3 8 6 2-11 8-16 8-4-2-2-4 0-8 8-4-2 0-12-3-4-9-1-4 4-4-6-6 3 3 4-1 1-4 4-4-1-4 8-4 1-4-6-5-3 1-6 4-1 3 3 1 4 9-8-1-3-4 2-4-8-12-3 1-4-1-2-8-3-4 6-4 0-8 5-8-3-4 1-3 4 5 4-4 16-4 4 2 3 14 5-3 4 1 3 8-1 1 2-1 4-4-3-3 3 7 0 1 4-5 4-8-6-4 2-4-8-7 4 2 4-3 6-6-2 2-12-4 1-3 3-1 6-6-6-4-8 2-2 4 3 4-4 12-3 2-2-2-8-8-2-2-2 2-4-4-2-3 2 2 8-3 1-4-2-4 1 1 8-5 8-4-2-2-2 0-4 10-8-10-4-2-4 4-8 2 0-8-4-2-5-4-2-4 5-8 2-16-2-8 7-8-2-4 6-8 1-2 2 2 4 4 3 4-4 6 5-6 4-1 8-3 3-20 1-4-4 4-4-4-1-1 5-6 4 1 4-2 2-8-4-4 6 0 4 4 4-14 4 2 4-4 1-5-1 4-4-9-12 0-8-2-2-4-1-4 5-7-2 1-4-2-3-3 3 2 4-1 4-2 2-2-2 1-8-1-4 2-3 12 6 8-9 4 3 1-1 3-4-8-9-8 5 2 4-2 5-2-5 1-4-7-5-4 0-2 1 0 4-10 9-4-3-8 4-12 11-3-5 0-4-2-4 0-8-3-2-4 8-4-4-4 3-4 0-4-7 1-2 5-4-6-2-4 2-8-3-4 1-3 6 5 4-2 3-8-2-4-3-3 2 1 4 6 8-5 4 1 5-16 0-4 4-2-9-2-3-4-1-2-8-6-3-4-4-4 3-4-3-4 1-4 3-3-5 3-2 8 1 1-3-5-4 5-8 0-4-6-4-1-4 3-4 0-8 3-2 4-1 5 3-4 4 1 4 6 4 0 5 4-4 3 7-5 4 6 8 8 1 2-1-1-4 3-6 4 2 5 0-2-4-3-2-9 2 3-4-6-6-4 3-3-1-1-4 10-8-2-4 4-4 1 4 7 7 8 4 2-3-2-4 4-8 4 0 8 7 4-3 3-4-8-4 5-7 4-1 8 4 4-8 12 4 4-5 12 0 11-7 1-3 4 1 4 4 4-3 3 1 1 4 7 4 2 4 7 0-2-4 6 0 4-3 12-14 4 7 8-1 2 3 1 4-2 4 2 4 5 3 8 0 8 5 4-3 2-5-1-4 3-1 8 8 4 1 2-4-2-5 4 2 4-7 4 0 3 2-5 4 5 4 1 3 1-3 3-1 2 5 2 1 4-4 8 2 4-2 4 1 8-5 12 16 3-5-2-4 3-1 6 5 2 5 4-4 8 1 3-2-6-4 3-3 8 0 4-3 2 2-1 4 3 2 8 1 4-2 20-2 12-7 8 4 4 9 4-1 4 2 4 6 12 1 8-7 12 3 4-5 8-4 4 2 16-4 4 4 8-2 4 14 4-4 8 1 4 5 3-12 5 0 4-4 16-3 0-7 4-1 0-5 5-4-1-8-1-4-8-8-3-1-4 4-12-19 0-4-4-2-4 2 0 9 0-13-4 0-4-4 1-4-6-4zM2548 492l-3 4 7 7 4 0 2-3-3-4zM2644 551l-2 5 2 5 8-8 5-1-1-1-8-1zM2740 559l-6 9 2 6 11-6 3-4zM2764 548l-6 4 6 4 3-4zM2780 466l-6 6 6 2 2-2 2-4zM2848 441l-3 3 0 4 3 3 6-3 0-4zM2876 450l-8 6 3 4-2 4-3-4 2-4-4-4-2 4 0 8-5 4 5 4-8 8 6 6 8-6-2-4 6-11 2-1 0-4 2-2 4 2 1-8-1-3zM2444 599l-4 5 4 4 4-4zM2140 504l0 6 5 2-1-7zM2180 499l-3 9 12 4 2-4zM2308 533l-3 3 1 4-2 6-5 2 1 3 12-6 3 3-1 4 2 3 4-1 2-2-1-4 1-4-2-3-4 3-1-4zM2328 536l4 8 5-4-1-4zM2364 535l-1 1 1 4 4 1 1-5zM2632 550l-3 2 0 4 3 3 4 0 4-3-4-5zM2864 488l-4 4-4 0-4 7-8-1-2 2 2 3 4-1 1 6-5-4-16 11-3-3-1-4-3 8 3 3 4 0 4 2 12-1 4 3 4-4 4 4 5-3-2-4 1-2 6 6 7 4-2 4 1 2 4 3 4-1 5-4 4-8-5-4-8 3-8-7 2-4-4-4 0-8 2-4zM2872 486l-1 2 2 4 7 5 6-1 0-4-6-7-4 3zM2112 576l-4 4 1 4 3 1 3-5zM2180 587l-4 4-4 0-1 1 1 2 8 1 5-7-1-3zM2468 566l-4 6 4 1 4-2 2 5 2 2 4-1-4-7zM2516 571l-2 5 2 2 7-2 0-4-3-3zM2792 541l-4 3 1 4-1 4 4 1 5-5zM2848 587l-4 1-2 4 2 3 4 0 4-3 1-4zM2860 554l-2 2 1 4 5 2 8-5 5-1-13-4zM2888 550l-4 6 0 4 4 3 3-7zM2304 566l4 8 6-6-2-2zM2860 586l-3 2 7 5 3-1-3-5zM2165 440l7-3 9 7-2 4-7 5-8 0-2-1 3-8zM2201 440l3-2 10 2-7 8 2 4-1 4-5-4-1-4 2-4zM2350 440l6-2 4 10-4 2-7-2zM1316 448l3 4-7 5-2-5zM1151 456l1-2 7 6-3 1-6-1zM2157 460l3-3 1 3-5 13-2-1-2-4 1-4zM1046 464l5 0 1 4-1 4-3 1-9-5zM2186 472l2-1 3 1 3 4-6 1-2-1zM2013 476l3-2 2 2-2 6-4 0zM2221 476l3-1 3 1-11 9-2-1zM2175 480l9-2 2 2-10 8zM1113 484l3-2 4 5 4-4 9 9-1 9-12-9zM1150 496l2-1 1 1 1 4-4 8 6 2 2 6-2 3-3 1 1 4-2 2-4-2-2 4 3 4-2 4 1 7 4 1-2 4 0 4-2 3-3-3 2-8-8-4 0-4 4-4-2-8-5 2-3-2 7-11 8-5-5-4 5-4zM1892 512l5 0-3 4 6 1 4 4 4-4 8 3 4-2 3 2 5 12-4 12-4-1-8 4-4 6-4 1-12-4-4 1-5-3 1-8-4-4 0-5-4 2-4 0-4 4-2 7 4 4 1 4-1 4 6-2 12 1 2 5-2 5-8 3-8 8-4-3-4 3-8-3-12-16-4 1-6-2-3-4 5-6 8 4 2-2 2-4-5-12 5-6 4 3 6-13 6 0 8 3 4-3 8 3 5-3zM1864 548l-3 8 1 12 2 2 6-6zM1935 516l4 0 5 7 4 1-4 0-8-4zM1107 540l5-2 4 2-8 3zM1986 544l2-1 3 1 0 4-3 4-2-4zM1968 552l4 5 4-4 11 7 1 4-5 4 2 4-13-1-12 4-7-7 3-3 4 1 2-2-8-4-1-4 3-3 4 6 6-3zM2599 560l4 0 1 4-4 4zM2275 572l1-1 7 1 4 8 3 12 7 4 1 4-2 1-4-1-4-6-6-2 0-4 5-4-3-1-4 1-8 8-4-1 0-6 5-1-5-4 6-4zM2559 572l1-2 2 6-6 4-1-4zM2607 572l2 0 1 4-2 4-4-4zM2076 576l4 4-1 4-4 0-2-4zM2353 580l3-3 12 4 3 3 1 4-4 3-4-4-8-1-3-2zM2564 588l8-3 4 5 2 6-1 4-7 4 2 2 4 0 8-6 6 4-6 1-8 7-12 1 2-17zM2702 588l2-4 4 5 4 1 2 2-2 4-4 0zM535 596l1-2 4-1 3 3-15 13-4-6 4-4 4 0zM2514 600l2-1 4 2 4 7-8 6-4-5-4 2-5-3 2-4zM2036 608l4-2 8 6 4-5 0 9-4-4-4 0zM2304 608l0-2 4 0-1 6-5 0zM503 612l5-4 8 7 5-3 7 6 4-5 8 3 4 0 4-3 4 3 2 4-6 4 0 5-16 6-8 9 2 4-2 4 3 4-2 4-11 12 2 3 4 2 4-1 3 8-3 4-1 4 4 4-2 8 2 4-2 4-1 7-4 0-1 5 1 6 4-4 3 6-6 8 3 3 1 9-5 10-9-2 0 8-3 6-8-4 1 6-2 4 1 4 9 4-5 5-4-3-5 6 1 1 4-3 4 3 4-1 2 4-2 3-4 1-1 4 5 1 2 7-2 3-4-4-8 1-3 4 2 4 5 4 4-2 4 3 4-2 2 1-2 4 0 8-12 6-4-4-4-1-4 3 0 8 8 1 2 3-2 3-6 1 4 4 0 4-2 2-4 1-12-8-12 5 0 4-8 0-4-6 0-52 4-3 4-7 4 9 8-17-4-4-12-2-4-3 1-15 11-15 4 0 5 7 3 1 8-2 4-3 1-4-5-7-10 3 0-8 4-4-2-12 0 4-6 4-2 8-7 4-4 12-5 1 0-32 8-5-4-2-4 2 0-46 2-2-2-7 0-19 4 2 4 5 1-5-2-4 1-8-8-7 0-9 10 4-2 4 4 2 3-2-1-4 6-7 4 7-5 0 5 6 4-4 4-1 16 5 3-2-4-8 2-4-3-4zM504 648l-3 4 3 2 4 0 2-6zM512 630l-2 2 1 4 9 5 5-5zM464 818l-2 2 6 7 2-3zM460 703l-1 5 4 4 1 8 1-12zM488 642l-3 2 7 3 4 6 2-1-2-7zM516 649l-6 7 2 2 7-6zM484 822l-1 2 5 5 3-5-3-3zM496 677l-4 3 3 4-1 4 4 4-2 2-8 0-8 6-3 8 3 6 4-5 12-1 3-4-1-8 3-4-2-4 3-4-2-7zM508 742l-4 4-4 2 8 0 4 2 5-2-1-2zM2663 616l5 3 4-4 0 5-8 1-2-1zM2184 620l4-1 8 1-4 5zM2691 636l5-3 2 3-2 3-4 1zM2687 644l5-4 2 4-1 4-5 0zM2643 648l6 4-9 4-3-4zM1184 672l8 1 4-2 4 4 4 0 6 9 2 9 6 3 6 8 6 4-3 4 1 12 6 4-1 4 5 4 2 8-4 1-8 11-12-4-4 0-4-6-4-2-1-4-4-4 0-4-7-16-15-16 0-4-3-4 2-3 4-1-3-4 3-6 3-2zM2681 672l3-4 4 0 4 4 4-1 2 1-2 3-8-1-8 2zM2692 680l0-4 4 1 3 3 2 4-1 6zM2584 692l8-1 8 7 12 1-3 5 5 4-4 4 6 4 0 3 4 0 1 1-9-1-4-4-16-1-4-3-4 4-2-3 2-4-3-8 0-4zM2557 696l3-2 4 6 7 4 0 4-5 4 2 6 4 2-5 4 1 1 4 0 4 5 4 0 4 4 4-2 12 3 4-4 4 1-6 8 8 8 0 8-7 8-15 5-4-3-4 1-4-5-3 2 2 4-2 4 7 3 11 9-7 4-16-12 2-4-6-4 8-4-8-14-3 6 4 8-1 4-4-6-4 4-2-2 1-4-9-8-2-4-5-4-1-8 3-8-5-4 4-7 4-1 8 2 4-4 2 2 1 4 1 1 1-1 0-4-2-4 2-4-8-8zM2564 726l0 6 4 4 3-4zM2596 743l-2 5-5 4 3 4 5-4 1-8zM2560 730l-2 6 6 7 2-3-4-4 2-4zM2647 696l1-1 20 16 0 5-4 4 2 8-1 8 3 5 8 0 2 3-4 16 5 4-15 18-6-6 1-4 5-4 4 2 2-6-18-7-3-5 3-4-9-4 1-4-2-4 1-8 1-1 4 4 1-7-2-4-1-8-4-4-4-8 2-3 4 5zM2679 696l5-2 21 2-5 9-4-3-4 0-4 4-1 2 2 4-5 13-10-9 1-4-4-4 8 0 1 6 2-10-4-4zM2706 700l7 0-1 5-4 0zM1360 712l4 8 4-1 6 5-2 4 1 8-5 14-3-2-5 1-4-3-10-18 13-12zM2575 716l1-3 6 3-3 4-3 1-3-1zM833 728l3-2 4 5 7 1 3 4-6 4-4-7-4 6-4-2-1-1 3-4zM2611 736l5 0 3 4-1 4-3 0zM988 760l4 2 4-3 4 9-6 4 5 4-7 6-4-6 1-4-3-8zM2610 764l2-2 4-1 1 3-5 5zM1000 768l4-1 4 4 6 1-7 4 2 4-1 6-6-6 1-8zM2652 776l5 4-2 4-3 2-6-2 1-4zM520 792l5 8-1 4-6-4-1-4zM1246 800l2-1 4 3 8-4 3 2-1 4 10 6 2 2 0 4 2 2 4-3 2 1-4 4 6 1 9 11 1 12 5 4-5 20 2 4 4-8 8 8-1 8 5 4 1 4-7 4 0 4 8 4 2 4-4 7-4-1-1 2 1 2 4-1 5 3 0 12 7 4-4 4 2 4-2 4 2 4-2 4 8 4-4 8-1-4-3-1-4-2-4 2 2 9-2 4 4 1 4-2 4 1 4-7 7 7-3 4 1 4-3 4 6 12-4 12 2 8-2 4-4 3-2 5-5 4 7 10 4 2 1 4-6 8 10 4-3 4 1 8-3 4 0 4-8 19-5 5-10 4-2 8 1 4-6 20-7 8 0 8-4 4 2 8-5 6-6-2-2-4 2-12-2-4 4-4-2-8 2-4-6-12 1-4-7-8-8-3-8-11-10 2 2 4-8 8 4 4 0 5 4 3 6 20-4 20-2 2-8-3-2-3 1-8-3-2-4 1-7-11 0-4-5-12 4 0 1-4-2-4-3-2-4 5-8 0-4-5-4 0-1-6 1-2 4 1 2-3-2-10-4 2-4 8-4-6-4 1-4-2-8-7-8 9-4 2-8-1-3-8 2-4-1-4 8-4-2-4 0-8-7-4-1-8 12-4 2-4-2-4 1-4 7-4 4 1 4-3 4 4 1-2-2-4 5-5 12-4 0-7 4-3 8 7-3 4 7 3 3-3-1-4 2-4-5-4 2-4-1-1-12-6-20-4-4-3-4 0-4 4-3-2 7-8 1-8 4-4-1-8-5-4 6 0 3 4 4-2-1-6 6-8-14 0 9 0 1-4-3-4 2-8 0 4 4 1 1-5 9-4-19-4 5-1 9-7-11-4 14-6 1-2-3-4 0-8 9-4 1-4-4-4-4-1-4 8-3-3 2-4-3-2-11 10-1 4-4-1-3-3-3-8 2-4 8-4 4 2 4-4 4 3 3-1-3-4 1-4-2-4 1-5 4 0 8 5-4 4 4 4 4-2 5 6 0 8-5 4 2 4 10-1 2-3 2-12-6-8 8-8-10-10-8-2-4-4 4-5 8 7 3-2 0-8-5-4 0-4 6 0 1 4 3 1 8-2 4-3 1-8 7-8zM1276 1014l-3 2 2 4-2 8 3 2 6-6 1-4zM1300 902l-6 6-1 4 3 1 10-5-2-5zM1312 925l-3 3 0 4 3 2 3-6zM1212 919l0 9 4 1 2-5zM1224 867l-2 1 6 6 1-2-1-4zM1228 840l-5 8 5 2 3-2 1-4zM1304 933l-4 7 4 0 4 3 2-3zM1288 1027l-1 5 5 6 2-2-1-4zM1304 948l-9 4 0 4 3 4-2 12 4 1 6-5 1-4-3-4 7-8-3-5zM1200 804l4 0 1 4-9 2-2-2zM1210 808l2-2 6 6-2 3-4 2zM2579 808l1-2 4 1 0 5-6 0zM823 816l5-2 1 2-4 4-1 6zM905 820l3-3 8-1 5 4-1 4 2 4-2 2-4-3-1 5 1 2 8 0 2 2-6 6-4-4-4 1-4-3-7 12-9 1 4-8 4 1 2-2-3-4 3-4 0-8zM958 820l6-3 4 3 4 8 4 3 8-2 3 3-7 4-4-2-2 6 4 4-2 2-4 0-4-14-4 6-5-2 1-8-8 3-6-3 2-6 4 1zM517 828l3-2 4 6 4 2 4-9 8 3 0 4-7 4 2 4-3 6-4-3-4 3-11-2 2-4-2-4 3-3zM991 828l9-4 2 4-2 4zM807 832l3 0 5 4-7 3-2-3zM838 836l2-2 12 7 4-4 8 3 4-3 2 3-5 8 6 4 6 8-1 4 14 4-6 4 2 4-2 3-4-4-3 1-2 4 5 6 8 2-5 4 1 4 4-2 2 2-1 4 6 4-3 3-8-2-7 7 10 4 1 3 5 1-4 4 4 4-3 8-6 4-4-3-4 2-1 5 1 1 8-5 2 4-1 4 3 2 8 0 4-4 6 6-6 10-4-4-6 10 2 3 4-6 4 3-2 4 2 5 8-10 2 5-6 8-1 8 5 3 4-2 8 7-4 1-8-4-4 7 4 2 8 1 0 11-2-2 1-4-3-1-4 2-4-5-4-2-4 3-4-4-4 2-1 1 1 2 5 2-5 4 5 4-1 4 1 4-9 8-7-8-7-4 4-4-2-2-8 6 1-8-5 2-3-2 3-7 12-1 7 4 1 3 1-3 0-4-5-1-7-7 0-4 6-4-3-1-4-7-4-3-7-1 5-4-2-1 0-4 4 4 8-3 3-4-4-4 5-4 3 4-2 4 7 5 2-1-6-8 0-4-8-2-12 3-1-5-3-1-12 5-1-8-11-8-1-4 2-4 7-5-3-3-8-4-1-4-1 4-3 2-8-6 3-4 5 0 4 4 1-4-3-4 2-3 4 1 2-2-7-4 1-3 5-1-5-6-4-1-4 4-6-1 6-7 4 1 5-6-5-2-4 4-2-2 5-4-2-4 7-4-12-1-3-3 0-4 7-6 8 1 4 6 6-5-6-4-6-8-1-4 3-1 4 2zM888 982l-5 6 1 1 5-1 1-4zM856 936l-4 7-4-2-2 3 0 4 2 2 4 1 5-7zM1195 848l1-2 4-1 6 7-2 1-8-3zM502 856l7 0 2 8-3 3-4-3zM673 860l3-2 6 2-2 9-7-5zM517 864l7-2 4 6 1 8 3 7 8 2 1 3-5 5-3-1-1-6-8 1-5-3-1-4 6-12zM1172 868l2 4-2 7-5-7zM653 872l3-2 4 2-8 11-2-7zM795 896l1-2 7 2 2 4 6 4-1 4-2 1-4-3-4 2-7-4zM1188 896l4-3 2 3-2 5zM459 900l2 0 0 4-5 2-2-2zM903 900l5-2 6 6-10 8 4 8-4 3-2-3-8-4 3-12zM1169 908l3-1 2 1-2 4-12 7-2-3 10-6zM809 916l3-2 4 2-4 5zM779 924l3 0-2 8-3 0zM816 924l2 0 0 4 0 4-2 2-6-2zM1155 928l1-2 8 0 4-2 4 4-4 5-4 0-4-5zM835 948l1-1 0 5-8 2-10-2 2-1 12 0zM907 956l6 0 0 4 4 4-6 0zM1111 956l5 0 6 4-2 3-4 1zM1107 964l1-2 8 2-4 10-4-5-2 3 3 4-1 1-4-2-1-7zM789 968l3-1 12 7 2 2-2 4 8 5 4-4 1 3-3 4 3 4-5 2-8-3-6 1-6-10-13-2 5-8 8 3 1-3zM810 972l2-1 5 5-1 3-5-3zM830 976l2-2 7 2-2 4 7 4 4 1 8-5 4 2 2 10 6 4-4 3-4-2 0 7-8 4-2-8-2-2-3 2-7 8 0 4 2 3 4 0 4-5 1 2-1 4-4 1-4 4-4 0-7-5 7-16-2-4-2-2-4 4-6-6 5-8-4-4 5-1zM2408 984l0 8-13 0 1-3 4 2zM675 992l5 0 2 4-2 2-4-2zM659 1000l1-2 4 0 4 0 1 2-1 2zM669 1004l7-3 8 0 4 4 4-2 4 3 7 6-5 8 2 3 3 1 0 4 4 4 1 4 5 0 3 14 12 0 2 2-6 4 4 9 4-3 2 2 0 4-2 4 5 4-3 4 2 4 4-1 4 9 1 8 6 8 5 11 1 9 5 4 1 8 5 8 1 8-2 8-7 6-4 2-12-8 3-4-4-4-4-8 2-4-2-8 2-4-1-2-12-10-1-4-6-4-5-11-8-5-4-9-8-3 1-4-7-8 0-8-6-2 0-6-6-4-4-12-4-4-1-8-9-5-1-3 3-12 2-3zM815 1020l3 0 0 8-2 4 4 3 8-4 4 4 4-1 3 2 0 4 2 4-12 4 3 8-4 9-4-6-4 5-9-4 3-4-1-4 15-4 3-8-3-3-4 5-8 0-8 10-4-3-5-1 1-2 7-2-7-2-4 3-8-5 8-4 4 3 4-1 4 2 0 2 2-6-2-8 4-2zM1172 1020l4-3 1 7-4 0zM842 1024l2-2 8 2 8-3 4 6 4 0-3 5 5 4 2 5-24 8-2-9 4-4-7-4 8-4-3-3-4 2zM847 1064l5-2 4 2 1 4-5 0zM2307 1100l5-3 6 7-2 1-4-2 0 5-4 2-4-6zM1016 1180l8 2 4 6-4 8-9-8zM1029 1196l4 0 7 8-2 4 3 4-1 8 1 4-9 5-5-5 0-12-7-12 4-4zM1099 1248l1-1 3 1 5 5 3-1 1-4 5 0 1 4 10 9 5 7-5 11-4 2-14-5-2-3-4 1-5-2-2-4 0-4 3-4-5-4 3-4z"/>
<path fill="#F96666" d="M452 432l17 0-1 4 5 4 7 2 4-2-8-3-1-5 52 0-5 8 2 1 4-5 5 8-5 4-1 4 2 4 0 8 3 4 12 4 6-4-2 0-2-4 1-4-11-4 4-7 4 5 7-6-3-4-6 0 2-3 4 3 6-8 0-4 4 0-1 4 7 1 1-1-4-4 212 0 7 2 2-2 33 0-3 12-8-5-2 1 3 4 0 8 3 2 12 1 4-5 4 1 2-3-1-8 3-3 4 8 4-3 3-6-1-4 53 0 1 2 1-2 15 0-8 4 4 6 4-2 4 2 2-2-1-4-5-4 58 0 2 6 10 6-13 8 3 3 1 5-5 8-10 4-2 4 4 3-1 5 6 0 3 7 3 1 5 8 9 0 3 10 14-2-2 1-1 3 2 4 7 4 4-2 2 2-3 4 3 4-4 4 2 3 12 5 2-4-1-4 2-8-1-4-4-4 2-3 4 5 4-6 4 5 5-1 1 4-7 4 1 7 0-3 4-2 4 5 4-1 4-8 4 0 3-2-1-4-10-8-4 3-5-3-2-4 3-4 4 4 3-12 5-4 4 4-3 4 10 4-1 4 5 4 2 4-9 8 8 4-8 3 0 6 4 2 8-3 12 16 8 2 2-2 1-8 1-1 2 1 0 8-3 4 9 9 5 3 0 8 3 3 4-6 8 10 4-1 4 3 4-2 2 5 0 4 9 8-1 8 2 2 4-3 1 1-2 12 1 4-8 3-8 0-5 5 4 4-3 2-4-2-12-2-4 5-8 0-5 5 5 8-4 4 4 3 4-2 4 0 3-5 5-1 4-5 4 2 4-2 2 2-2 1-4-1-4 10-4-2 0 4 5 4 3 2 4 0 2 2 2 4-2 4 2 1 1-5 5-4-16-8 14-5 4 7 5 2 1 8-6 2-6 6 2 4-2 4 1 4-3 2-4-3-1 1-1 12 7 8 1 8-1 4-5 4 6 12-3 8 7 4 4 12-3 4 1 2 4-1 8 11 5 0 0 4-2 8 3 4-3 4 6 8-3 12 2 11 5 5-3 4 2 4-4 2-12-2-2 4 6 4 1 4-1 1-4-2-4 1-1-8-7-2-4 5-12 6-4 1-5-2 0 4 6 4-5 7-8 1 4 2-2 10 4 4 0 4 2 2 8 4 4-1 1 3 3 1 8-2 1 5-2 4 1 5-8 8-12 0-12 3-4-2-4 0-4 2-4-1-4 3-4 0-4 3-4-1-6 4 2 14 5 2-5 1-2 3 2 4-5 4-1 4-2 2 1 10-9 6-8-4-2 2 4 4-2 1-7-5 1-16-2-4 1-4 7-7 6-9-3-4 5 0-1-8-13-8-1-20 7-12 8 1 4-4 2 3-3 4 5 5 1-1-2-4 5-3 4 0 4-4 4-1 0-4-8-9-3 1-1 5-2-1 2-8-5-4 5-3 2-5-2-4-5 0 3-8-6-3-4 1-4-2-2-4 3-4-5-6-12 3-4-5 3-4 5-1 3-3-2-4 0-8-3-4 1-20 1-2 8-2 1-8-6-8 5 0 0-10 4-3 1-3-3-8 4-4-5-12-5 3-12-3 4-2 0-2-11-4 3-1 1-3-5-3-4 3-3-4 2-4 1-9-8 2-4-3-1 2 1 6 6 2-15 8 4 4-1 8 3 4-1 4-4-6-5 2-2 4 4 4-5 10-4-4-8 0-8 5 0 5-12-3-7 7 4 8-9 5-12-6-12-2-4 1-4-3-4 4-4-1-2 2 8 8 0 4-10 0-4 2-17-2 5-11 7 3 5 5 1-1-1-4-5-8 2-4-1-1-8 4-4-7 5-4 3-7 0-6-1 5-12 8 5 4-1 4-7 2-8-8-4 0-9-6 1-4 4 1 1-5-13-8-1-4 4-4-3-7-16 3-8-15-4 2-4-2-4-5-8 8-4 0-4-6-5 6 1 4 4 0 6 8-4 12-2 1-3-1 2-4-2-4 3-4-4-2-4 4-4-2-4 4-5-4 1-9-8 0-4 5 6 4-1 4 7 5 4 1 4 5 4-5 3 2-3 6-8-2-8 4 3 4-2 8-5-3-6 7 1 4-3 3-4-1-4 3-4 13-4 1-4-7 8-11 11-5-3-4-12-3-4-3-4 2 5 4-5 5-8 2-2 9-6 7-6-3 4-4-4-8 6-6 6-2 1-8-7-4 4-2 4 2 4-2 4 3 9-9 3-9 4 5 2-4-5-8-5 3-3-3 3-8 5-4-4-4 7-8-8 0-3 4 2 4-3 5-4-3-4 4-4 2-4-2-3 2 5 20-10 3 0 5-5 0-3 9-4 3 4 1 2 3-2 3-7-3-5-6-4 2-4-8 4-4 0-5-4 4-13-3-4 4-2 8 2 4-3 2-4-2-7 0-6-4 8-12-1-4-4-4 10-6 4 2 0 5 0-15 1 6 3 2 2-2 0-4-4-4 4-12-8-4 6-5 4 2 12-6 3 1-1 4 2 4 3-4-3-4 4-2 4 1 4-3 12-4 4 2 8-2 4-7 4-1 8 5 4-5 4 0 5-4-1-3-5-1 13-3 4 4 1-1-1-5-12 0-3-7 3-4 8-6 10-2-2-3-4-1 4-1 4-3 8 5 5-5-3-4 10-5 4 2 4-1 3 4-3 5 4 0 2-9-2-2-4 1 0-3-10-8 6-2 1-2-1-4 8-3 4 2 5-7-1-5-4 1 1-4-6-8 1-6 8 5 4-2 2 3 0 4 6 9 8-7 4 13 8-3 4 3 4-5 7 2-3 4 4 1 1 3-5 1-4-3-1 2 3 4-2 6-3 2 11 3 8-3 0-7 4 2 4-3-1-8-2-4 0-4 5-4 0-4-6-1-4-5-4 1-4-3 3-4-3-3-5 3 5 4 0 4-12 4 0 6-4-2 4-4-4-8-4 0-4 3-1-3 1-2 4 2-2-8-6 1-2-5-10-4-4 1-4-5-3 0 3 0 8-8-4-1-1-3 4-4-2-4 3-2 2 2 0 4 2 4 1-8 4-8-1-4-4-1-1-3 5-4 0-11 4 2 3-3-5-8 10-8-2-4 3-4-7-4-2-5-4-1-2 2-2 8 5 4-3 12-6 4 0 4-8 7-4-1-8-7-1 5 3 8-1 12 4 4-3 8-2 2-12-4-6 6 10 4 4 6 4 2-4 1-4-3-8 1-2 1-2 7-8-3-4 3-4-1-7-6-5 1-4-9 0-4-4-4-8 1-16-4-4 2-5-7 1-4-10-8 3-4-1-3-4 1-4-2 3-8-3-4 0-5-4 2-1-1 3-8-2-2-4 1-2 5-10 5-4-5-4 2-4-4-4 3-8-1-8 5-2 3-1 8 5 8-6 5-8-6-2 1 0 8-4 4 0 4-6 2-12 14 4 2 8-8 4 6 3 0-11 4-1 4 1 3 8-1 4-10 0-6 4-3 6 13 3 0-1-4 6-4 0-4 2-3 4 2 4-1 1 2-1 3-4 1 4 1 2 3-4 12-7 4 0 4-3 4 0 16 1 4-2 8-5 4-1 4 2 4-5 4 3 4-6 16-3 4-8 5-12-3-4 6 4 12-4 3-4-2-1 3 1 2 8-1 3 3-6 4 3 4 4 1 8 7-4 3-4 1 2 4-6-2-4 4-8 0-4-2-2-8 3-4-1-4 6-4-2-4-4 4 0 4-4 3-12-7-9-12 9-6 4 3 0-5 7-4 1-5 4-1 4 6 4 3 4-3-7-8 5-4 0-8 10-8-4-5-8 11-4-6-4 2-6-2 0-4 9-8-2-4 3-6 4 5 4-3-6-4 2-8-8-7-4-1 5-8-1-7-6-5 3-4-4-8 4-8-1-1-4 1-3-4 2-8-6-8 3-16-5-4-2-8 1-4-5 0-1 2-4-5-16 1-4 6-4-3-2 7-6 4 0 4 4-2 6 2 2 8 3 4-4 4 1 2 4 1 4-3 5 4-1 2-4 2 1 4 3 2 12-4 2 2-1 4 3 4-16 4-4-3-4 1-2 2 2 4-4 7-10 9 5 4 3 12-2 1-4-4-4 4-8 3 1 8-5 1-4 3 0 5-1-5-7-3-10 3-2 6-4-11-4 3-4-4-3 2 1 8-2 1-8-3-2 10-9 4-1 4 2-12-2-6-1 6-3 3-4 2-4-1 0-5 3-3-3-5 0-11 8-9 4 3 6-6-2-2-6-2 1-4-3-3-4 2-2-3 2-2 8 1 4 4 6-7-2-5-4 0-2-3 0-8 4-8-6-7-6 3 2 4-1 4-3 4-4 1 0-11 3-2 2-4-5-2 0-22 5-8 1-8-2-9-4 10 0-17 4 4 1-4-1-6-4 1zM520 542l-3 2 1 4 2 1 4-1 4 7 9-3-3-4-10 0zM600 524l-2 4 3 4-7 4 10 10 4 2 8-4-4-4-10 0 4-4zM728 462l-10 6 6 2 4-2 3 4-3 3-4-2-3 3 1 4-1 4-5 2 0 3 4 1 5-2 7-12 4-4 4 2 7-6-3-2-6 2-2 3-2-7zM788 464l12 4 4-1 1-3-1-4-8 2-4-1zM812 459l-2 5 2 3 5-3zM864 447l-2 1 10 7 1-3-2-4-3-2zM888 439l-3 5 4 8-1 8-8 3-8 9 1 4 3 2 4-8 2 6-8 12 6 2 4-2 4 4-4 4-4-3-6 3 7 12-1 4-4-3-3 3 2 4 7 4-1 4 3 4-4 3-2-3 1-4-7-3-3 7 1 4-5 4 3 4 8-2 8 8 10-6 0-4 6-3 2-5-7-8-3-12 5 0 2 8 5 8 3-4-3-8 1-4 3-1 4 5 4-3 4 6 4-6 4 0 4 3 4 0 0-4 5-4 3-5 4 5 4 1 5-5-7-4 0-4 6-2 2-2-2-3-4 0-8 1-4-6-12 0-8 5-4-5 0 5 6 7-6 2-4-4 0 8 4 6-4 2-10-10-1-4 2-4-3-1-4 4-5-7 3-4 0-4 0-4-3-4 1-1 5 1-2-4 2-8-2-4 1-3 2-1 0-4zM916 454l-1 2 1 2 6 2-15 4-1 4 14 6 3-6 0-4 2-4-2-4zM964 456l-4 3-2 5 2 3 4-7 5 0zM992 619l-8 5-4 1-4-3-5 2 15 16 2 6 12-6-2-8-4-4 1-4zM1012 539l-3 1 3 6 8-2zM1060 567l-3 1 6 4-7 4 4 1 3-1 5-7 4 1 1-2zM1156 830l-5 6 1 4 9-4 1-4zM816 620l-4 3-8-3-2 8 4 4 0 4-4 4 2 2 4-2 4-7 4 1 11-10zM844 530l-1 6 5 4 4-8-4-3zM464 565l-6 7 6 7 3-3-3-4zM776 503l0 4 3 1 1 5 3-1-3-4 4-2 2 2-1 4 3 4 0 5 1-1 0-8 2-4-1-4-6-3zM788 491l-2 5 2 2 6-6zM864 464l1 8-4 8 3 3 4 0 3-3 0-12 2-4-5-4zM884 557l-3 3 3 5 4 0 2-1-1-4zM908 531l-10 9-3 8 2 4-2 4 1 3 4-3 2 4-2 4 8 4 8-14 4-2-2-8 4-4-6-4 2-4-6-2zM1064 590l-7 6 4 4-2 8 1 2 3-2-2-4 3-1 4 2 4 6 4 1-6 12 3 4-1 5 4 3 4 0 3-4 1-8-2-12-6-5-6-11zM1092 872l4 8 2-8-2-2zM1108 835l-4 9 4 1 4 6 2-3zM628 605l-2 3 2 6 4-2-1-4zM900 597l-8 11-4 2-8-3-8 12-3-3-5 0-4-4 2-4-2-3-5 3 5 4-4 3-8-7 5-4-1-2-6 2 1 4-3 2-4-3-8 6-9-5 0 4 4 4 3 12-5 4 1 4-5 4 3 2 4 1 4-1 4-5 8 1 0-6 4-3 8 6 8-7 0-4 4 3 4-5 4 2 2 4-5 4 1 4-7 4 4 8-2 8 3 2 6-6 3-8-7-4 2-2 12 5 4-5 4 0 3 2 1 5 4-3 3 2 1 10 8-2 4-5 8 3 3-2-7-4-3-4 2-4 1-1 8 2 2-1-4-8 2-6 4 4 4 1 2-3-14-10-8 7 1-9-5-7-8 3-3-4 2-4-3-3zM916 583l-1 1 13 10 2-2 1-4-7-2-4-4zM948 627l-3 1 1 4 2 1 4-1zM964 710l-3 2 7 8 3-4zM1032 631l-4 6-4-3-4 0-8 8-8 2-5 4 21 2 3-2-5-4 2-4 4 7 4-5 2 2-2 4-4 1-1 3 3 4-3 4 5 1 8-3 11-10-5-8-2-2-4 1-2-3 6-2 1-2-1-3zM1052 640l-2 8 8 8-2 4 4 7 4-3-3-4 3-4-8-7-4-5zM764 489l0 7 4 8 4-4-5-4zM824 645l-3 3 3 5 8 0-4-2-1-3zM840 688l-2 4 2 3 4-1 1-2zM928 686l-2 2 2 3 6-3-2-3zM940 629l-2 3 1 4-5 4 10 7 5-3zM932 608l-3 4 7 4 3-4zM960 715l-1 5 5 5 1-5zM968 726l-5 6 1 3 8-3zM1044 657l-5 7 3 4 0 4 6 2 3-2 0-4-9-4 2-1zM1068 675l-3 1 2 8 5 4 0-4 5-4zM1104 878l-6 6-6 1-4 3 1 4 3 1 8-1 12 0-4-4 1-4zM768 507l-1 5-11 6-1 2 4 4 0 4 1 1 1-5 3-3 4 2 4-2 4-5-6-4 5-4zM872 678l-6 6 2 4 4 2 1-6 3-2 9 2-4-4zM888 686l-2 2 1 4 5 2 3-2zM908 741l-3 3 3 5 3-5zM992 432l8 0 1 4-7 0zM2574 432l9 0 2 4-1 4-4-6-4 5zM2574 448l2-2 3 6-3 2-3-2zM559 476l1-1 2 5 7 4 1 8-6-1-7-7zM967 476l13-2 4 0 1 2-5 3zM1026 484l2-2 4 5 4 2 2 7-2 4-4 1-3-1-1-5-2 1 2 8 4 4-4 4-1-4-7-5-2 5-6 0 2-4-3-4 1-5 4 0 3-7 5 1zM882 516l2-3 4 2 1 1-1 4zM2770 516l2-1 4 5 1 4-5 3-6-7zM2141 532l3 0 2 4-3 8 0 4-3 4-4-8-1-8zM2102 540l6-1 5 5-9 10-5-6 1-6zM822 552l2-3 4 1 6 6-2 3-8-3zM1115 552l1-1 2 1 0 4 4 4-2 2-7-6zM2817 560l3-2 4 3 4-4 12 9 3-2-3-4 0-2 4 1 2 1 0 8 8 8 1 4-3 2-4-2-3 4-2 0-2-8-5-2-1 2 4 4-2 4-3 0 0-4-2-2-8 6 0 4-8 2-6-6 3-4-1-5-8 6-4-1-4 2-4-10 12-4 12 5 2-5zM2832 567l-6 5 2 2 6-2 1-4zM2783 584l1-1 1 5-5 6-2-2 0-4zM2791 588l1-2 4 5 1 5 4 4-5 2-3-2 2-4-5-4zM2827 592l1-1 4 5-2 8-2 1zM503 616l10 4-3 4-2 1-4-3zM547 616l2 0 0 4-5 5-4 1-4 5-4 0-3-3 3-6 4-3 8 0zM846 616l2-3 4 4 8 1 2 2-2 2-4-2-8 2-12-2-4 2-2-2 14-1zM882 616l2-2 3 2 1 6-4-1zM2787 624l1-2 4 2 0 4-4 4-4-4zM512 628l4-3 10 7-6 0zM483 632l3 4-2 5-10-1 6-1zM500 636l8-4 1 4 6 4-7 5-8-1-4-4zM491 656l9-2 2 2-3 4 5 7 12-8 4 1-4 1-4 10-8-2-4 5-4-1-1-1 4-4-7-2-12 12-4 0-1-6-3-4-5 4 2 4-3 4 2 6 4 1 2 5-4 0-2-3-4 0-4 6-7-3 7-8 0-3-3-1 5-16 2-3 4-2 4 2 4-2 5 5-2 4 1 2 10-6-2-4zM582 664l3 0 2 8-6 4-1 4 4-1 4 3 1 2-3 4 5 8-2 4 3 2 3-2 2-12-1-4 4 1 4-4 4 0 3 3 1 8-9 4 4 4-2 4-5 4-5 0 5 0 4 6 9 2-1 2-8 0-4 7-4-2-6 1 2 2 4-1 8 11-4 4 3 4-1 4 2 2 4-3 2 1-3 4 13 9 2-1 4-4 1-8-3-5-4 0-3-3 3-6 4 2 4-6 7 2-1 4 1 4-5 8 2 3 16-6 2 3-2 4-12 8 4 5-4 0-2 3 4 4 1 4-2 4 7 6 8 3 4-8 4-1 4 3 8-9 4 5 4-4 4 2 0-5 10-8 2-10 2 2 1 8 5-2 1 2-3 4 0 4 2 1 5-1 0 4 3 1 1-5 7-7 4 5 4-1 8-6 2 1-2 1-3 7 6 8-6 8 0 8-9 9-6-1 6 12 0 4-6 8-6 2-4-6-4 2-2-6-6-4 0 5-4 0-1 3 1 5-4-2-4 5-4 0-4 3-10-3 0-8-6-1-5-7 1-2 12-2 0-7-4-6-8 2-3 3-1 4 2 4-6 2-4-5-6 3 6 4 0 6 8 0 8 6 0 4-4 0-4-3-4 1-4-5-6 3 6 8 0 6-4 1-4-7-4 4-4-3-12 3 0 4 4 3 4-4 7 5-3 7-4 1-4-7-8 8-4-7-7-2-1-5-11 5 4 4-9 5-2-1 3-4-1-3-4 2-4 7-2-2 1-8 6-12-5-6-2-6 7-12-1-2-4 2-3-4-5 2-2-2 3-4-1-4 4-6 4-3 2 1 2 10 0-6 6-4-7-4 2-4-1-1-5 1-3-13-4 3-2-2 3-4-3-4-1-4 3-6 4 3 4 7 4-1 2-3-2-4 8-8 1-4 0-4-5-9-3 5 2 8-3 6-4 3-5-1 5-4 1-8 2-4-3-9-4 4-1-3 4-8 1-4-2-4 3-8-2-4 3-4-5-4 3-3 5-1-7-8 2-4 4-2zM660 789l-3 3 1 4 2 2 4-6zM708 779l-9 5-3 4-7 0 4 4-3 4-1 8-3 4 6 5 1-9 8-4 0-8 7-7 4 2 3-3zM584 804l-2 4 6 4 5-4-1-4-4 2zM624 811l-2 1 4 8 6 2 5-2 0-4-1-2-4 4zM584 839l-3 1 3 7 4-7zM1187 676l9-2 4 5 4 1 6 8 2 8 4 1 9 11-2 4 3 12 9 12 0 4-3 7-4 1 0 5-8-1-8-4-4-8-6-4 1-4-8-16-16-16-3-8 6-4-3-4 2-4zM643 684l3 0 5 4-7 3-6 9 4 8 8 4-4 8 2 4-8 5-4-8-12 2-4 2-1-1 3-4-8-12 5-8-3-8 8-2 4-4 4-1 8 4zM620 706l-2 2 6 7 4-3 8 7 1-3-5-9-4-2-4 2zM632 693l-4 6-4-1-2 2 6 2 5-2zM662 684l3 0 0 8-4 8-4 0 1-4-5-8 3-1 2 1 2 5 2-1zM503 688l5-3 8-1 9 12-1 3-4 1 2 4-6 4 2 8-2 4 1 8-1 2-4-1-4 3-8 1 0-2 4-1 2-2-2-4 2-4-2 0-1 0-1 4-6 1-4 3 0 6-4-2-6 0-3-8 8-8 1-4 8-2 9-10-3-4zM2683 708l1-1 3 5-3 5-2-5zM2652 716l4-2 8 0 1 2-5 4 4 12-1 4 5 7 5 1-3 4 2 5-8 5-10-2 6-4-6-8 4-4-3-4-1-8 3-4-6-4zM1357 724l3-3 8 0 3 3-3 19-8 3-2-2-2-7-4-5zM2555 728l1-2 4 2-4 4-3 0zM2550 736l2-4 2 4 8 8 0 4-2 2-4-6-8 4 0-8 5 0zM685 740l7-4 6 8-10 6-5-6zM2571 748l5-2 2 2-6 9-4-5zM502 752l6 1 8-3 3 2-11 8 0 9-8-9-3 4 2 4-2 16-4 8 0 4 7 4 8-1 0 2-4 0-3 7 6 4-3 2-12-1-12 6-12-2 0-2 4-1 2-10 4-4-4-4 1-4 5-4 4 0 3-4-3-3-4 1-4-2 2-8 2-2 8 3 1-1 1-4-4-4 10-10 4 0zM2579 752l5-2 11 14-3 2-7-2-4-4zM682 756l2-2 6 6-10 6-2-2 5-4zM464 772l4 0 8 8 0 6-4 0-4 3-4-2-2-3 2-3 4 5 2-2-2-5-7-3zM644 772l4-1 2 1 0 8-2 1-1-5zM1254 816l2-2 4 6-4 4 1 8 3 4-6 4 0 4 14 9 4 0 1-5 3-2 4 1 4 5 8 1 1 3-8 8-1 8 4 2 4-3 4 4 4-2 3 3 4 12-4 4 0 4-6 8-3 0-2-3-4 3 4 4 0 6 6 6 0 20 8 4-10 5-2 3-1 4 3 4-4 8 0 4 3 4-4 4 5 4 4-1 2-3-5-4 11-8 4 0-2 4 2 3 8 1 0 3 4-2 7 3-5 4 0 4 2 6 4-3 2 5-2 5-7 3 4 4-4 20-5 2-2-2-2-8-4 3-1 5 1 3 4-1 4 3 8 11-6 4 5 4-2 4 6 4 0 4-3 4 2 4-2 12-4 11-4 4-19 9 4 12 0 4-3 12-8 12 0 8-4 4 2 8-4 5-4-1-2-4 4-20-3-4 2-8-3-4-2-16-8-8-4 0-5-4-4-16 5-5 4 4 4 2 0-5 4-4 8 2 2-2 0-4 5-12-1-8-3-8 1-4 8-6 4 0 5-2-5-2-4 0-6-10-10-10-4-2-1-4-3-2-2 2-1 4 4 8-2 8-7 5 4 2 4-1 12-8 1 6 5 4-3 4 0 4-3 1-8-1-8-5-1 13-3 3-4-1-3 6-1 4 3 8-7 12-1 12-7 4 2 4-8 8 5 4-1 4 8 12 2 16-2 4-2 12-4-1-4-3 1-8-5-5-4 1-5-8 2-12-3-4 0-4 3-4-5-10-4 2-4-4 4-4-8-6-3 2 0 8 3 1 4 7 4-4 1 4-5 0-8 4-1-20-3-4-4 0-4 9-4-6-4 2-12-9-8 9-3-1-2-4 2-4-1-4 4-3 4 5 2-2 0-4-6-4-4 1 0-9-8-4 11-12 0-12 5-2 8 3 4-1 8-12 4 5 5-9 3-9 4 5-2 4 2 3 8 2 4-1 4 6 3-2-3-9-4-3 3-4-6-4 2-4-3-2-12-6-4-6-4 4-4 0-17-6 3-4 2-9 4 1 0 4 0-4 7-4-3-2-4 2-2-4 2-2 9-2-3-4 3-8 3-4-4-2-4-6 8-4 4-5 4 2 8-7 4 2 2-4 1-4-3-4 3-4-3-5-8 12 0 6-4-2-8 2-4-1 4-4 4 3 1-3-2-4-5-4 6-4 4 2 4-1 0-2-5-3 1-2 8-6 0-4 8-2 1-2 4-12 5-4 1-4-1-4-4-4 10-7 4 1 2-2-2-8-4 7-7-3 3-1 3-7 5-5 4 3 2-2-4-4 5-4-7-7 0-3zM1216 1082l-1 2 1 3 4 4 8-3-4 0-3-4zM1216 898l-4 2 4 6 4-2 1-4zM1308 1039l4 1 4 7 1-7-5-3zM455 820l1-2 1 2 2 4 0 4 3 4 2 5 4 1 2 2-2 5-7 3 3 4-4 3-4-7-4 3 0-10 3-1-3-6 0-12zM961 820l5 0-2 7-6-3zM1261 820l7 0 1 8-5 3-2-3 4-4-2-3zM478 824l2-3 3 7 6 4-9 10-4-2 3-8zM1015 824l5-1 14 9-2 8-4 3-8-1-8-6 1-4 7-4zM520 828l1 4 7 7 4-1 0 4-4-1-8 1-1-6zM561 828l3-1 9 5 1 4-2 3-4-5-4 2-7 0 3-1 2-3zM501 832l3-3 6 3-2 4zM548 832l4-1 3 1 1 4 1 8-5 6-4-6 8-4-8-2-2-2zM1038 836l2-2 4 2-3 4 3 3 8 0 1 1-9 9-4-4zM856 840l4 4 4 0-4 0-6 8 6 10 5-2-5-4 4-6 7 6-2 8 1 4-2 2-4-3-2 1 2 5 4 0 1 3-4 8 1 4 2 3 8-6 5 7-1 4-4-2-4 2-2 4 1 4-7 8-4-7-4 3-7-4-1-2 1 6 3 4-4 5-8 1-4 3-3-5 3-8 4 6 6-2-3-4-7-4 4-7 16-2 2-3-6-1-4-4-4 1-4-7-4 3-4-2-1-2 6-8-9-7-13-1 1-2 8-5 8 6 4 1 8-3-2-5 8-4 1-8zM479 848l1-2 4 2 2 8-2 1-4-3-4 6-5-4zM641 856l3-2 2 2-5 4 1 4-6 4 4 2 4-3 4-1 0 2-2 4-2 9-4-2-8-8-4 4-15-3 3-9 4 3 8 0 4-8 4 6zM609 880l3-2 8 11 8 1 3 2 1 4-2 4 2 3 2-3-1-4 3-2 4 2-2 4 4 4-3 4 1 2 4 1 4 3 4-3 0 5 4 4 4 0-4 1-3 3 7 3 0 5 4 3 8 3 2 2-5 4 1 4 6 12-11 4 7 4-4 2-4 6-8-3-2-5-6-8-4 1-4-5 0-6-4 3 0-5-6-4-1-4-5 0-9-12-3-8-4 2-6-6 1-4-2-4 7-18 8 5 2-3-10-6-1-2zM1180 880l6 0 1 4-7 4zM827 884l1-1 4 2 4-1 3 4-3 3-4-1zM657 896l3-3 5 3-5 6-2-2zM1306 900l7 4-1 5-5-5zM664 904l4-2 5 2-1 4-4 3-8-3zM663 916l1-1 4 1 4 6 0 3-4 3-4-6-4-2zM848 924l4-2 4 4 8-3 1 1-2 4 1 3 4-5 4 1 4-3 4 4-7 8-1 7-4-9-1 6-3 2-4 0-1-2 4-8-3-1-4 2-4-1-8 10-4 2-6-8 2-2 7-2 1-5 4 3 1-2zM1314 940l3 0 1 12 2 3 5 1-1 2-8-3-5 1 2-4-3-4zM867 972l9-2 2 2-5 4-5 1-4-1zM879 976l17-3 2 7-6 2-8-6-3 4 4 4-4 4 3 5 4-2 4-5 0 6-8 7-8 2 0-3 3-2-4-4 4-4-8-4zM841 988l3-2 2 2-6 8-4-4zM850 988l2-3 4 2 4-1 0 5-4 0-4 5 4 5-4-1-5-4zM1039 988l5-3 4 1 3 14 5 8-4 0-4 4-3 12-6 0 6 12-5 11-4 2-4-4-2 3 4 8-8 8 1 4-5 4-6 9-4-2-8 2-4-5 5-8-1-1-5 1 3-8-3-12 1-4 4 4 3 0-7-12 8 2 4-4 4 4 2-2 2-8 11-8-5-4 5-4-3-8zM671 1004l13-2 8 7 4-2 1 1 4 4-4 8 10 12 1 7 4-1 1 2 2 16 9 2 3 6 0 4 3 0 2-4-1 8 4 4-2 4 0 4 3 5 4-2 4 13 10 16 2 13 5 3 1 8 5 8-1 4 2 5-7 11-5 3-10-7 2-4-5-4-3-8 1-4-1-14-11-14-5-4-8-12-5-4 3-8-4 0 1 4-3 2-4-9-6-1 0-4-7-8 1-8-8-4 0-5-5-3-3-16-4 1-1-1 1-8-11-8 3-13 4 0zM998 1020l2-3 8 6 0 3-4 4-4-1-1-1 2-4zM859 1036l5-2 4 2-4 5zM1025 1200l7-3 2 3-3 8 1 3 4-3 3 4 1 12-8 2-2-2 2-5-4 2 1-9-3-4zM1097 1256l3-3 4-1 8 2 4 3 4-1-1 4 5 0 6 8 0 8-6 4-12-4-4-5-7 1-3-8 3-4z"/>
<path fill="#FC3333" d="M452 432l10 0 4 4-6 6-4-3-4 4zM478 432l7 0 3 2 1-2 29 0-3 8 5 8 4 2 2 6-5 8 3 4-2 4 4 4 2 7 4 1 1 4 3 2 8 0 5 10-4 4-2 8 1 3 4-3 4 1 1 7-1 1-4-2-8 9 4 4-3 4 0 8-13 2-8-6-5 4 1 4 8 4-10 8 6 5 4-8 0 3 5 4-4 4 1 4-2 2-4-2-4 3-4-1-12-9-4 3-2-4 4-4-1-4 3-4 4-2 8 5 2-3-6-8-8 4 0 3-8-3-4 2-12-6-1-8 3-4-9-4 9-8 0-8-5-4-1-4-9-12-3-2-4 3 0-5 9-4-6-4 0-4 6-8-1-4-4 0 8 1 6-5-4-4 5-4-1-4 2-5 5 5-2 4 1 6 6-6-1-8 2-4zM504 479l1 9-3 4 2 1 4-3 8 4 4-6-3-4-5 1 1-5-5-4zM476 478l-4 10 14-4-2-2-4 0zM564 432l134 0-6 2-1 2 5 2 4-6 3 4-1 4 2 2 4-2-3-4-1-4 29 0-1 4 4 2 3-6 13 0 4 4 4 0 2 0 0-4 7 0 1 4-5 4 7 2 4-5 8 6 2-3-5-4 2-4 9 0-6 4 6 1 3 3 1 5 4-2 5 5-5 4-4-1-2 5-6 4-5 8 1 1 8-2 12 4 4-3 8 5 2-1-4-4 5-4-1-4 6-2 3 2-6 4 1 4 2 3 4-4 1 1-1 4 1 4-7 8 0 4-6 5-7-5 3-4-3-8-5-2-3 6 3 4-4 8-4-3-8 0-8 12-6-5 2-8 7-8-7-4-3 4-1 5-4-4-4 0-6 7 4 4 2 8-1 4-4 4 6 4-9 3-4-2-1 3 4 8-3 2-4-4-14-2 6-2 5-6-1-2-11 2-1 7-6 1-2-3-1 3-3 2-3-6 9-8-8-12 3-4 7-2 4-6 8-1 2-3-2-4 16-10 4 0 1 2-1 4 4 2 2-2 1-4-5-4 1-4-4-8 1-2 4 2 2-4-2-2-12 1 4 9-4 2-4-3-2 9-2 1-16-5-4 2-4-4-2 2 2 4-6 4 10 4-4 1-1 3 2 4-1 2-4-3-4 1-1 4 2 4-5 6-3-2 3-4-6-4 1-4-4-8 3-4-1-4-2 0-3 5-4-1-4 4-3 0 1 4-2 1-10-5-7 0-3 2-4-4-8 7-4-1-1 4-3 4-4 0 4 0 0 9 3 7-3 2-4 0-4-4-3 2 0 4-5 11-4 2-4 6-5 1-1 4-4 4 2 4 6 0-2 6-4-6-4 3-2-7-4-8-2-1-3 1-1 6-2-2 1-4-6-4 0-8 3-4-9-4 1-2 5-2-3-4 4-4-4-4 1-4-3-4-4 2-3-6 4-4 0-4-1-1-4 2-16-3-7-6 0-16 3-4 10-4zM752 498l-2 6 2 4 4-8zM792 432l22 0-2 6-4 1-8-7-4 3zM843 432l51 0 2 4 7 4-3 3-12-6-6 7 2 4-1 4-7 3-2-3 1-8-3-2-4 2-4-1-12 5 8 1 3 3-5 4 2 4 8-6 2 2-10 11-2-3-6 0-1 4 9 1 4 3-4 7-4 3-3-2 0-4-5-4-2-8-5-8-1-8 5-12zM848 454l-2 2 6 7 0-7zM913 432l46 0 1 2 4-1 7 7-1 8-6 5-8 11-6 0 2 3 4-3 3 4-6 8 5 4-2 3-8-2-4 3-1-4-3-3-4 2-4-3-12 7-4-5-2 2 0 4-2 4-4-2-4 0-3-2 3-3 0-7-7 2 1 4-2 2 0-10 3-8-3-13 5 1 0-4 3-2 4 2 3 0-2-4 3-2 4 1 4-3-2-4zM916 449l-4 7 4 4-4 3-7 1-1 4 19 8 1 3 0-27-4 2-3-2zM459 448l1-2 4 0 4 6-4 2-4 0-2-2zM873 460l3-2 7 2-7 5zM842 476l2-1 8 5-4 7-8-1-3-6zM869 484l3-3 4 0 0 4-4 3 5 4-4 4 3 8-5 8 0 8-3 7-8-5-3 2 7 6 4 0 0 2-5 4 3 4 6 1 4-2 4 9-4 2-4-1-8 2-4 3-4-2 2-4-2-1-4 1 4 4-8 6-2-2 0-8 4-4 2-9 5-3-5-5-4-2 2-5-2-2-4 4-4-5-2 3 5 8-3 9-4-1-1 4 5 3 2 5-2 1-8-6-4 2-7-5 3-5 4-1 6-26 6-4 1-8-7 0 3-4 3-3 8 0 8-4zM864 507l-4 5 4 4 2-4 0-4zM902 492l2-2 4 0 2 2 1 4-3 4-5-4zM954 496l2-3 5 3 4 12 3 2 3-2 1-6 8 1 6 5-4 4 2 6 4 1 1-7 7-1 1 5 11 8 2 4-3 4 2 4-8 4 2 8-1 4 1 4-4 4 1 8 4-5 6 1 2-4 0-6 4-1 4 5 8-1 2 7 2 2 3-2-1-12-2-1-4 4-2-3 2-4-3-4 3-5 4-1 4 6 4-6 3 2-1 4-2 0-1 4 1 2 4-4 7 2-5 4 0 4 2 5 4-5 4 3 2-7-6-5-1-7 5 4 4-5 4 3 8 0 4-3 5 9 6 4-1 4 9 0 10 8-2 4 7 8-2 5 8 5 12-6 6 8 2 7 4-4 4 5-4 9-15 7 9 8-6 10-12-1-4 3-8 1-4 3-4-2-4 2 5 4 2 16 10 0-1 9 9-5 2 4-6 4 3 4 4-7 2 7-2 3-4-3-2 4 1 4 5 0 4-5 4 9 8-8 1 4-8 8 1 4-2 3-4-2-4 7 4 3 4-3 3 8 4 4 0 4-3 3-4 1 6 12-6 7-7 1 7 1 4-2 2 5 4 4 2 10 4 0-2 6 1 4 5 3 4 7 8 2-4 4 3 8-1 4 5 8-3 24-4-2-6 6-2 6-4-4-5 2 1 4 5 0-13-1-4 7-8 5-4-4-8-15 2-4-2-5-3 5 1 4-2 9-4 2-2-3 1-8-3-3-4 7-4-2-4 2-2 4 7 4-1 4-4 0-2 4 4 4-10 10-4-2-2-4 2-7 6-9-7-4 0-8-3-3-4 3 0 4-8-3-3-1 1-8-6-6-4 2-9 0 5-1 6-7-3-4 2-8-4-4 2-8 7-4-2-3-4-1 8-4-1-8 3-8-3-8 4-16-3-4 4-4-5-12-3-2-8 1-9-11-7-4-3-4-1-10-12-1-2 3 3 8-5 5-8-1 6 8-13 16 3 6-12 3-8-3-1-2 3-4-2-2-4 3-2-1 9-12-7-1-4-3-4 3-4-2 0 8 9 11-4 4-3 8-9 4 1 4-2 1-5-5 0-4-4 0-2 4 14 12-3 3-8-5-8 0-16-4-4 2-3-4 5-4-2-4-4-1-7 5 5 4 0 4-3 4 9 7 0 3-8 0-1-2-1-4-4-4-2-4 3-4-3-4-8 4 0-4 4-4 2-12-2-3-5-1 2 4-1 4-8 7-4 1 4 4 1 4-5 0-3-4 3-4-4-2-8 3-7-5 5-4 2-8-4 1-8-5 0-8-2-4 2-4-20 2 0-13-4 2-4-4-4 2-5-5-7-1-4 7-3-2 2-4-3-3-4 3-4 6-4-3-4 1 4 2 0 5-2 5-6 2-2-2 0-4 5-4 1-4-12-8-6-8 2-2 8 0 0-6-4-4-8-2-7 2 6 4-3 6-8-9-2 3 2 4 0 4-8 2-16 14-4 0-4-2-2 2 6 20-1 4-7-1-8 7-4-3-4 11-8-2 4-4-1-4 2-4-5-11-11 7 7 9-5-1-3-4-4 1-6-5 2-4 4 2 3-2-3-6 7-2 1-2 8 5 4 1 0-4-6-8 2-4-4-2 0 2-12 12-2-4 3-12-2-4 9-2 4 6 4 0 4-6 4 0 4 3 1-1-2-8 5-3 4 6 3-3-1-4 2-1 14 1 0-4 2-4 12 3 8-2 20-13 0-7 5-1-3-4 8-4-4-4 6-2 4 3 4-2 8 7 4-1 0 4-4 1-4-3-1 1-4 8 5 4 1-4 3-3 6 7 0 4 6 3 4-3-6-4 6-8 6 12 0 4 2 1 4-2 2 1-1 4 3 2 5-10-5-1-4-3 8-9 5 1 3 3 2-11 2-1 8 8 16-13 4 0 1 2-5 2 0 6-6 4 4 8-2 3-4-7-2 4 1 4 5 1 0 7 8-4 8-14 4 2 4-4 4-1 0 5 3 4-3 4 4 2 1-10 3-1 2 1 2 12-3 4 11 2 5-6-4-4 3-3 4 0 4 3 4-3-11-9 3-4 8 3 12 11 6-6-3-8 5-3 0-3-4-5-4 1-6-6 3-4-1-6-8-4-8 10-1-4 2-4-1-4-4-3-4 2-1-3 1-3 4 3 4-4-2-4 2-1 4 4 3-3 4-8-3-4-4 7-8-7-4 1-8-6 4 11 4 6-4 2-4 8-4-7-4 1-12-3-2 3 2 4 8-1-4 8-4 2-2-1 2-7-20 14-4 0-3-3 3-4 0-4 16-4 0-4 4-4 1-4-7-8 1-4 6-4 1-4 2-1 4 5 8-6 4 0 4 4 4-2 1-4 6-4-3-1-1-3 5-1 1-7-2-4 10-8-1-3-12-5 2-4-6-1-4-2-2-9 2-3 4 6 4-5 4 6 4-6 12 3 4-4 8-2 4 3 4-2-2-4 4-4zM960 591l-2 1 1 4-3 4 4 1 7-1-6-4 0-4zM968 558l-6 6 2 1 8-5zM984 523l0 7 4 3 4-1-1-4zM1012 566l0 3 8 0 4 4 2-5-10-3zM1044 563l-3 5 3 7 3-7zM1056 561l0 8 4 3-12 5 0 7 4-5 8 0 4-3 4 0 4 4 2-4-1-4 3-4-4-3-12-1zM1084 593l-3 3 3 9 2-9zM1112 599l-2 5 2 6 3-6zM872 666l-4 2 1 4 3 0 4-4zM936 680l-12 8 0 9 4 0 1-5 15-12-4-2zM996 529l-4 3 4 4 3-4zM1012 576l-5 4 1 3 8 4 4 0 0-3 4-3 4 5 3-2-3-4-4-1-4-4-2 1-2 4zM1072 587l-4 6-4-4-4 4-4-5-5 4 4 4 1 12 3 4 0 4 2 0-1-4 4-3 5-1 3 8-4 8 3 4 1 8 8 2 7-6-2-4 2-12-11-12-1-4 4-4-1-4zM1112 615l-6 9 2 2 16 1 3-3-3-7-4 3zM844 662l-2 2 0 8 2 2 4-5 3-1zM860 670l-2 2-1 4 3 3 4-3 4 4-3 4 2 4 5 3 4-7 8 2 2 6 6 4 4 8 4-8-7-8-10-8-14-4-1-4-4 1zM948 724l-3 8 3 6 4-6zM988 614l-4 6-8-2-5 6 14 16 0 4 3 4 12-6 2 2-7 4 17 1 4 3 4-1 4 5-3 4 3 2 8-1 8 7 1 4 3 2 4 1 8-5 4 0 7-6-4-4 5-5 0-3 4-4 5 0-1-2-4 1-4-2-4 6-8-4-2-3 8-12-3-8-3-2-8 2-4-1-6 5-6 1-4 6-4-3-4 1-4-3-4 6 1 4-5 2-7-6-1-4-5-4 0-8zM844 684l0 5-4-3-4 2-2 4 5 4 1 6 4 1 4-6 4 1 0-2-2-4 0-8zM872 693l-4 3 0 4 4 3 4-3 1-4-1-3zM880 699l-4 1 2 4 2 1 2-1 2-4zM1056 674l-4 5-8 1 8 2 8-2 4 1 8 9 3-2 1-4 8 3 4-3-4-2-4 0-12-8-7 2-1 3 0-3zM1084 655l-4 7-4-5-4 1-3 6 3 3 12-3 2-4zM1076 694l-3 6 5 0 5-4-3-2zM711 500l5 2 0 4-4 0-4-1zM791 512l9 0-1 4 1 2 5 2 0 4-5-3-7-1-2-4zM651 524l3 0 0 4 5 4-1 4-5 4 3 4-6 4-3 8 0 20-2 8-9 8-3 0 1 4-6 0 1 4-5 8 4 7 4-1 2 2-2 4-4-3-4 5-4-1-2 3-6 0-4 3-4-3 3-4 2-8 7-5 1-3-3-4 3-4-5 0-4 8-4 2-8-6 10-8 0-4 3-4-4-4 3-2 4 3 5-1-5-5-4 0-11-11 3-4-2-8 2-3 4-2 3 1 1 5 2-1-1-4 15-4 3 0-1 4 6 7 12-5 2-2-6-7-4 6-4 1-4-4 7-12-3-4 4-3 4 14 7-3-1-4 2-1 4 6 2-5-3-4zM764 524l4 2 7 6-15 5-3-1 6-8zM903 528l5-4 7 4-3 0-8 5-2-1zM594 544l2-3 5 3-1 3-4 0zM888 544l4-2 2 2-2 6-7-2zM474 552l6-1 3 5-3 3-4-3-1 4-3 1-1-1 1-6zM887 556l5-2 1 6 5 4-2 2-3-2-2-4zM855 560l5-1 1 5-9 1zM816 572l4-3 4 7 8 4 4-6 1 6 3 4 4-3 7 3-5 4 0 4 2 4 5 0-21 16-4-4-8-4 4-3 0-2-8-1-4 5-2-3 9-16-1-8zM815 604l3 0 0 4 7 8-1 5-4-4-4 1-4 3-2-1 2-6 4-2-2-4zM799 612l6 0-3 4-2 11-4-3-1-4zM931 628l1-4 7 4-3 3-4-1zM1042 628l2-2 4 3 8 1 2 2-8 8-2 7-4-7zM595 632l1-1 8 6 4-2 1 9-5 0-2 4 2 3 4 1-3 4 4 4 7 1 3 3 4 4-3 2-8 3-3-1-1-10-3-2-3-8-6-4-2 0 1 4-2 4 2 4-3 3-4-3 2-4-2-1-4 3-6-6 0-4-4-4 2-2 4 0 4 4 3-2 1-8zM1135 656l5-3 3 7-3 2zM1045 660l3-3 4 0 4 7-4 0-4 3-4-3zM1128 664l4 1 2 3-2 3-4 0-2-3zM755 680l5-2 1 2-1 5 4-2 1 1-3 4 6 0 7 4 1 4-8-2-4 7-4-3-4 7-4-4-4 0-2-1 0-4 4-4-3-4zM1182 680l6-3 4 4 4-5 3 4-1 4 2 1 4-1 4 3 3 9 6 4 5 8-2 4 14 28-2 4-8 6-8 0-3-2-1-5-7-7-1-7-4-5-3-8-17-20-1-4 4-4-2-4zM580 684l4-3 3 3-3 8 4 1 2 3-3 4 5 3 4-1 4-5 6 3-2 4-4 2-4 0-2 2 6 1 6 7-6 4-4-1-16 13-5-8 4-8-4-4 4-8-1-4 2-3 4 0 0-5-4 3-5-3 7-4zM603 684l1-1 4 1 2 8-6 3-4 0-2-7zM506 700l2-2 3 2-1 4-2 3-4-3zM620 700l0-2 6 6-6 1-2-1zM633 704l3-1 1 5 9 4-6 7zM501 712l7-3 4 0 2 3-2 3-4 0-4 0zM491 716l1-2 3 2 0 4-7 8-1-4zM757 716l7-3 2 3-2 4-14 8 6 2 4-4 4 4 6 2-6 3-12 1-8-12 4-1 1-3zM659 724l5-1 2 5-2 2zM1360 724l9 0-3 12-6 6-2-6zM590 728l6 0 6 8-8 4 2 6 4-4 4 10 18 12-1 4 7 4 0 3 4-6 4 3-8 8 4 1 20 11 2 4-1 4-5 5-4 1-4-2-4 3-4-3-1 4-3 2-3-2 3-4 0-9-4-1-8 4-4-3-1 5 3 4-2 8 8 2 2 2-3 4 1 4-8 7-3 1 2 4-7 4-4-1-8 6-4-1 6-8-10-1-8-7 4-4 0-9 4 3 4-3 6-7 0-4-2-4-4 4-6-4 1-4 4-4-6-4 3-3 0-7-8 4-1-6-3-7-5-5 0-4 1-3 4 1 4 7 7-1 1-4-3-4 8-8 2-4-1-4 3-4-6 0zM588 756l-4 4 4 1 6-5zM608 784l-2 4 2 4 4-1 1-3-1-3zM626 736l2-3 3 3 1 4-4 5-4-4-4 1-2-2 2-4 4 3zM721 744l5 0 0 4-6 6-2-6zM629 760l3-3 1 7-5 4-1-4zM490 764l2-3 6 7-4 12-2 1-9-5 5 0 6-4zM691 768l5-1 4 6 6 3-2 4-4 0-4-2-8 8-4-2-1-4 11-8zM727 772l1 0 0 4 3 8-3 11-8-6-4 4-1-5 3-4-6-4 4-4zM667 788l1-2 1 2 7 0 8 3 2 5-6 3-12-2-3-1 3-3zM477 796l3-2 4 4 12 2 5 4-1 2-4 5-4-3-4 6-4-1-4 2-3-7 2-8zM571 796l5-3 3 11-3 2-4-2-3-4zM704 800l8-2 2 2-2 4-4-3-4 1zM702 808l2-3 4 5 5 2-5 3zM680 812l4-3 4 6 4 1-4 7-4 2-1-1 4-8-5 0-6 6-4-2zM659 816l10 0-1 3-4-1-4 2zM714 816l2-2 4 1 2 5-2 2zM1251 820l5-2 1 2-5 8-3-4zM452 824l4 0 0 4 5 4 1 4-2 4-8-11zM620 824l4-2 5 2 3 4-4 5-4-2-1 1 0 4-7 2-3-2 7-6zM1088 848l8-1 2 1 2 11 4 0 4-5 2 2-1 4 7 1 1 3-5 2-4-4-4 4-4-4-8-3-3-3 4-4-1-3zM1249 852l3-2 4 5 4-2 8 2 4 5 4-5 7 5-3 3-4 0-4-3-2 4 1 4 9-3 1 7 15 8-6 4 1 4-6 4 5 4 0 4-4 4 6 12 4 4-5 4 2 4-1 4 5 8 6 4-7 3-3 5-1 4 2 4-3 4 1 12-4 4 8 7 8-2 8-6 10 5-2 3-4-1-3 2 11 0 2 4-2 3-8 2-4 5-4 0-8-8-8 6-4 6-12 1-4-2-6 3 4 8-4 4 3 4-1 4-6 4 0 4 4 4-2 2-4-4-4 2-6 12-5 4 0 4 5 4-5 8 7 4 0 4-7 8 5 8-6 3-4-2-4 11 1 4 6 4-2 4 8 12 2 12-3 8 1 8-1 2-4 0-2-2 0-8-14-14 2-6-2-8 4-4-1-4 4-4-3-2-4 3-4-9 4-4 0-4-4 3-2-3 0-4 10-4-8-2-8-6-3 4 7 8-4 4-4-4-4 3-4-4-4-1-4 5-4-3-12-1-4-3-1-8-10-8 1-4-2-4 1-8 9-12-2-4-3 0 7 0 4 4 4 1 4-11 4-2 4 4 8-6 4 3 12-2-3 5 3 2 12-6 4 4 1 4 4 0-1-3-3-1-1-6-4-3-4 1-4-15-5-1 1-4-8-7-4 0-6-5 2-3 4 2 0-5-4 1-4-4-4 1-4 7-4-8 0 5-4 3-4-3 0-4 8-6 4 3 1-5 3-2 4 0 1-6 3 0 6-8-2-3-8-1-4 1-1-1 2-8-5-3-2-5 6-1 4-5 9-2 3-4 8 5 4-2 8 5 1-4-9-8 4-4-2-4-5-4 3-4 0-20 4-12 8-4-4-6-1-6 5-4 7 0zM1268 892l-2 4 6 4 0-6zM849 856l3-1 5 5 6 16-6 8 1 4-2 1-5-1 2-4-1-6-4 7-10-9 2-3 8 4 3-1-10-8 5-4zM1086 868l6-3 3 3-7 2zM1298 880l2-1 4 9-5 4 2 4-5 6-3-6 4-8zM1075 884l5 0 8 12 12-3 12 3 4-4 8 4 12 1 3 3-2 8-5 8-8-2-12 4-12-1-4 2-4-1-8 2-6 0-6 6-8-1 0 11 4 1 1 3-2 4 1 4-9 12 3 8-1 4-5 5-10-5-3-4 1-8-2-4 2-3 3-1 1-4 11-16-3-4 0-4-8-4-4-6-1-18 5-10 8 1 4 5 4 2 3-2-1-4 6-1zM620 892l9 0 2 4-2 4 3 6 3-2 1-6 4 6-6 12 2 7 8 3 4-1 4 6 3-3 2 0 1 12-3 0 1-4-4-4-4 3-2 5 11 8-3 4 1 4-3 2-8 0-2-2 1-4-2-4 1-8 2-7 3-1-7-2-4 1-4-6-4 0-4-4-3 3 15 12 3 4-3 2-8-4-4 0-3-6-4-4 1-4-3-4-3-2-4 3-1-1 2-4-6-8 5-13 4-1 10 6-3 4 1 4 7-8zM850 900l2-2 6 6-2 2zM1209 908l3-2 4 2 4-2 3 2-3 3-4-3-4 6zM648 916l4 4-4 4-8-1 0-4zM1200 916l7 0-1 8-2 2zM661 956l3-4 4 1 4 7-8-1zM660 964l5 8-1 2-6-6zM1042 988l2-2 4 2 2 8-2 4-5 0-2 8 6 4 0 4-3 7-6-3 2-4-4-1-2-3 3-8-1-8zM673 1004l11-1 3 5 5 3 4 0 3 5-2 4 3 6 6 6 2 8 4 0 3 12-1 4 10 4 2 4-1 4 3 1 4 7 0 8 4 5 4 2 4 9 8 12 4 19 4 3 1 6 5 8-2 4 4 4-8 12-4 3-9-7 1-4-8-12 2-16-2-3-9-13-6-4-13-16 4-8-7 0-1 4-2-8-7 0 1-4-9-8 1-8-7-4-1-5-4-3-3-16-5-1 0-9-4-4-5-2 1-10 6-2zM1300 1004l4-2 4 2 4 7 3-3-1-4 6-4 3 4 2 12-1 9-4 1-1-2 1-4 2 0 1-8-4 0-7 8-4 14-4-3-8 0-2-3 10-4 0-3-2-1 5-4-1-4-8-4zM1292 1008l4 2 2 6-2 2-8 2-3-4zM1034 1024l2-2 3 6 1 14-4 3-4-3-3 6 2 4-3 4 1 4-4 4 1 4-6 3-4 7-8 2-4-2-2-2 5-4 2-4-4-4 3-3 4 0 2-5-5-4 0-4 4-4-4-4 3-4 4 6 4 1 7-7-4-4 2-4 3-3zM1271 1036l5-2 4 3 4-5 5 4-5 6-4 0-4-1zM1296 1040l8-1 4 3 4-1 2 3 1 8 12 12 1 12-4 12-8-4 4 12-20 12 3 20-2 8-8 12-1 8-4 0-3-4 2-4-3-8 2-4-2-4 0-10-4-8-4-2-4-7-8-5 12-9 4-6 4 0 6-5 3-16-1-8-3-8 1-4zM1319 1040l1-2 5 6-5 4-2-4zM1166 1084l2-2 5 6-5 3zM1286 1160l2-4 3 12-3 4-5-4-1-4zM1035 1212l2 8-1 4-4-8zM1100 1256l4-2 16 7 8 7 0 8-4 3-16-8-4 0-5-7 3-4z"/>
<path fill="#FF0000" d="M491 436l1-2 4 2 4 5 4-5 8-2 2 2-1 4 3 4-3 8 3 2 4-1 3 3-3 4-4-2-1 2 2 4-6 4 3 4-2 3-20-5-4 3-5-1 0-4 9-4 8 3 1-3-1-6-4-2-4-7-4 1-2-6 5-4zM565 432l118 0 1 8 3-8 3 0-1 4 3 4 8 0 4 3 4 1 4-10-4 2-3-4 15 0 0 4 12 1 4 3 0 3 4-8 3-3 2 0 3 3 4 0 4 4 4 0 3 5-7 2-4-5-4 0-1 3 6 8 0 4-5-3-8 9-8-2-4-2-4 2-4-4-8 5-4 8-4 0-1-5-3-1-4 2-4 1-4 5-20 0-5-3-7 0 0 4-4 4-5 0-3 6-4-2-1 4 5 4 0 12-4 1-8-6-8 0 4 1 4 4 0 8-8 8-4 7-8 1 1 4-5 5-1-5-4-4 1-1 5 1 3-8 0-5-5 1 0 4-7 6-8-2-1-4 1-4 4 7 5-3-2-4 1-12-4-4 0-4-4 0-5-4 8-12-3-3-4 6-4-2-4 3-2-4 6-8-3-4-5-2-10 2 2-5-4 1-8-9 0-7 2-4 6-1 4-3zM616 480l-5 4 1 8 2 0-2-4 4-4zM676 442l-4 2 4 3 4 0 0-4zM803 432l10 0-2 4-3 3zM845 432l9 0 2 2 0-2 38 0 2 6 6 2-2 1-4 0-8-5-4 5-4-7-8 6-15 0-1 3-4 1-7-8zM914 432l41 0 1 5 4 3 4-3 4 3-1 4 1 4-8 0 3 4-4 8-3 3-8 1-1 8-3 4-4-4 0-2-1 6-3 1-4-2-4 3-2-2 2-4-4-8 2-12-2-4-1 4-3 1-2-1 0-4 6-8zM932 451l-3 1 2 4 9 1-1-5zM936 461l-4 7 8 0 0-4zM903 448l8 4 0 4 4 4-3 2-12 1-1-7 5-4zM774 452l2-1 3 1 0 4-3 1-2-1zM780 452l4-2 4 1 4-2 1 3-5 7zM853 452l7 0-3 4 3 9-7-5 2-4zM770 464l2-2 9 6-9 4-4-4zM468 468l4 3 6 1-2 1-4 8-4-1 1-4-4-4zM783 472l5-3 3 3 0 4 5 1 3-1-6-4 3-2 5 2-2 8 3 8-2 3-8-5-4 1-4 5-4-4 6-8zM853 472l3-2 5 2-1 4zM491 476l1-2 8 3 4 7-4 3-4-2-4 2-2-3zM741 476l3-3 7 3 1 7 4 2 4 7 3 8-3 4-8-9-4-2-4 1-4-4 0 6 4 0 4 4 0 4-4 4-16-1-3-3-2-4 1-6 4 1 6-7 7-4 2-4zM762 476l3 0-5 7-4-3zM812 476l8-2 5 2-9 2zM906 476l2-4 12 4 3 4-3 2-4-5-4 3 0 6-3-2-5 1zM839 480l1-1 4 2 4-3 2 2-2 4-4 3-4-3zM859 488l9-1 5 5-1 4 3 8-3 4-8-1-3 1-5 6-8 2-4 4-4-4-4 7-3-3 0-4 3-6 4-2 4-7 0-8 10 11 5 0-4-4-2-4 6-4zM494 492l2-3 8 6 4-1 12 5 4-3 4 5 2-5 6-3 4-2 4 4 2 5-2 3-6 1 0 4 5 8 0 8-4 4 3 4-10 6-4-4 0 5 7 5-3 1-6-1-9-8 0-4-5 2-2-6-7-4-3-5-1 5-6 4-1 4-4 1-4-8-4 4-2-1 1-4 7-4-5-8 3-4-6-4 10-6 4 2 4-4zM508 503l-8 8 4 7 4-2 1-4-3-4 6-4zM904 492l4 0 2 4-2 3-4-3zM776 496l4-4 3 4-3 4zM960 500l4 10 6 2 8 8-5 4 3 1 4-3 1 2 3 8 0 5 4-3 8 4 4 4 0 9-8 1 8 4-4 4-4 0-4-5-4-1-3 2-1 4 4 2 4-2 4 5 4-4 1 3-4 8 3 1 12-6 7 5-7 4-2 4 1 4 9 4 12-1 3 1-1 4 2 0 0-8-4-5-5-3 5-8 8-3 4 7 0 5 4-1 3 4-2 4 3 2 4-5 4 1 4 4 0-6 4-3 4 0 6 7-6 4-6 0-2 4-1-4-3-2-7 6 6 12-3 4 0 6 4-4 1 6 3 1 2-1-1-4 3-2 4 2-2 4 3 4-1 2-4-2-4 3-4-2-8 3-4-3-8 3-8 8-8 0-4-4-6 4 1 4-1 4-2 1-12-13 2-4-2-10-4 3 1-5-8 0 2-4-3-2-4 2-1 4 5 4-4 3-4-3-8 0 4 4-7 8 3 3 4-4 8 9 0 3 4 1 0 4 4 5 4 1 12-1 16 4 2 3-2 4 4 4 9 0 3 11 4-3 7 4-3 3 0 2 4 0 4 4 8-3 4 2-7 4 3 4 4 2 4-6 4 4 1 4-3 4 11 0 4-4-5-4 0-4 4 0 6-4-2-5-9 1 4-4-3-4 4-4 4-1 0-7-3-4 0-8 3-4 4 4 4-1 0 13 4-1 4 1 7 8 0 4-4 4 1 4 4-2 1 2 9 4 0 12-5 8 10 4 1 8-4 6-6 2 6 6 8 2-12 8 7 4 1 4 8 2 2 2-2 4-4 0-5 4 1 4 4-3 8 2 0 11 1 2 7 0 0 4 4 0 4 8-1 4 6 16-2 12-7 10-4-2-4 4-4-1-4-7-8 12 0 4-8 8-3-4 0-4-5-4 0-12-4-3-4 5-4-4-5 2-3 9-3-1 2-4-3-3-4 3-4-1-3 1 2 4 0 4-3 3-3-3 0-8-9-10-4 6-9-4 4-4-6-4 7-4 8-8-8-7-3 3 5 4-6 3-4-3 0-4-4 0 0-4 4-6 4 5 1-3-1-6 4 2-3-16 5-8-5-4 2-12-1-4 6-8-5 0 1-8-4-8-4-3-8 0-2-5-2-1-4-6-4 0-5-5-1-8 2-3 4-3 4-1 3-5-7-2-6 10-2 1-4 1-10-2-1 4 2 8-3 4-4-4-5 4 7 8-6 4-4 6-4 0-2-2 4-4-9 0-1 5-3-1 1-4-1-4-5 3-4 0-4-5-4 2-4-4-2 8 1 8-3 4-7-4 3-2 1-6-5 3-4-6-2 3 2 4 4 4-7 8 10 8-3 4-4-1-4 4-4-4-4 0-8-7-1 4 4 4-1 4 6 4-4 2-8-1-4 1-2-2 7-4-5-7-8-2-1 1 2 4-1 1-14 3 3-4 0-8 2-4-2-4 0-8 3-3 3 3 1 12 4-4-3-4-1-8-4-3-4 3-6-4 4-4-5-4-1-3-4 2-3-3 2-4-3-1-2-3 2-3 8 3 0 4 7 4 1 4 4 7 4-3-2-4 2-4-5-8-11-8-12-4 0-4 5-4-1-6-12 10-6-4 2-1 1-7-2-4-10 0 6 8-3 3-8-7 4-4-5-4-1-4-10 3-3-3 7-7 4 0 4 5 5-2-1-11 2 7 8 4 3-8 7-6 2 2-9 12 0 4 1 4 6 4 0 4 8-1 8-15 4 2 4-2 5 4-2 4 5 3 4-12 3 13-3 3-4 0 3 5-3 4 4 2 8 10 0 4 1-16-5 0-4-4 8-3 4 3 8-8-6-4 2-2 4-1 4 4 4-3 0-3-4-4-4 0-2-3 2-4 13 8 3 7 5 1 7-8-1-4-3-4 5-4-3-8-5-4-5-12 2-4-2-1-4 4-4-2-4 2-7-7 11-8 4-8-4-7-3 3 1 4-2 2-7-6-1-4-4 3-3-3 2-4-2-4 3-5 4 0 5-3-5-4 2-12 2-3 1 3 4 0 1-8-2-7-4 1-6-2 6-16 12 1 12-4 4 3 5-4-1-4zM960 555l0 8 4 4 9-7-1-4zM980 570l-3 6-4 4 3 1 8-6 4 5 2-4-2-3-4-4zM1048 696l-6 4-1 4 7 2 3-6zM1112 751l0 5 7-4-3-2zM888 653l-4 7 1 4 7 4 8 0-8-1zM944 676l-12 4-8 7-12 5 4 5 4-3 4 6 4-1 4-7 13-12zM920 564l-3 8 3 4 4 0zM944 553l-4 7 0 8 8 8 0 8-2 4 2 1 6-5-1-4 3-3 4 3 0 4 0-8-4 0-11-8 0-4 3-4zM952 691l-7 13 3 0 6-4zM948 595l-4 2-2 3 2 2 6-2zM960 591l-4 1 0 9 4 1 8-1 4 2 4-3 4 0-12-1-5-3 0-4zM912 710l-2 2 6 5 5-5zM956 661l-2 3 6 1 7-1-3-4zM590 504l2-2 7 6-3 2zM973 504l3-2 8 6-8 6-3-6zM747 512l1-1 2 1 2 9-6-1-2-3zM910 520l6-4 3 4-3 2zM832 528l0-2 4-1 5 3-13 15-3-3 5-4zM501 536l3-3 5 3 0 4-5 0zM635 536l1-2 4 6-4 6-4 1-3-3zM641 540l3-2 10 6-6 4-4 36-8 6-4 1-8 9-4-1-4-4-4 0-8 8-4 0-3-3 11-8 2-4 0-4 2-3 6-1-6-6-4 0-7-6-1-17 4-3 8 11 8-3 5 4 11-6 4 0 8-6zM864 540l11 4 2 4-3 0-2-2-4 3-6-1zM612 548l4-2 4 2 4-2 5 6-5 4-4 0zM1072 548l4-4 6 8-2 3-4 1zM1060 552l4-4 4 0 3 8-1 4-6 3-6-7zM1015 556l1-1 4 5 6 0-2 4-4 1-4-3zM1051 560l3 0 3 12-1 1-7-1 0-8zM1079 560l1-3 8 2 3 5-7 6-4 1-7-7 3-1 4 2zM507 564l1-3 4 6 8 1-8 4-4-4zM1092 564l8-3 3 3-2 4 7 16 7 4 0 8-7 4 1 8-2 12-3 4-1 8-3 3-4-3-4 1 0 6 2 1-2 2-4-1-4-5 7-4-3-4-1-8 9-12 4 0 0-3-4 3-7 0 1 4-2 2-3-6 3-4-3-4 2-4-3-4-4 1-3-5 1-4-4-4 2-3 8-3 4 4 4-9 5 3-1-4zM900 568l4 0 4 4-1 8 3 4-10 11-4-3-4 2-4-3-4-8-5-3 1-4 8 1zM896 576l-4 8 5 0 1-4zM822 584l6-4 4 3 4-2 4 6 4-5 4 1-5 5 0 4-3 4 6 4-6 4-4 0 0 4-4 2-8-6 4-8-8-3-4 3-1-4zM1121 584l3-2 8 6 1 4-2 4 1 4-3 4 0 4-5 1-4 4-4 1-6-2 10-12-3-4 4-8zM618 604l2-3 3 3-3 4 4 1 2 3-2 5-6-5zM866 604l5 0 4 4-3 1-4 5-6-2 2-2 6-2zM610 612l2-2 3 6 4 4-3 3-6-7zM1063 628l5 0 2 4-1 4 9 4-10 3-4 6-8-5 4-5 6-3zM1045 632l11 0-8 8-3-4zM592 636l4-3 4 3-1 4 6 0-5 10-4-3-4-1-1 6-7 5-5-5 1-5 4 0 6-3 3-4zM781 644l3-2 4 4 12 5-3 5 3 2 4-5 4 3 15 4-1 4 2 1 4-5 4 3 8-10 4 7-4 4 3 4-3 4 4 3 4-6 12 12 4-4 3 3-2 4 7 8-6 4-1 4 6 4 1 3 4-2 7 3 2 8 6 4-3 3-16-6-4-6-4 1-3 4 3 4-4 4-5-4 4-4-3-1-6-7 2-3 11 3-1-4-9-8-2-8 3-4-10-2-4-4 1 6-9 7-4 1-4-3-4 1-4-4-8-3-4 4-3-3 3-4-4-7-8 3-12-2-1-6-4-4-9-4-2-4 8 2 3-2-6-4 3-3 4 1 4 5 3-3-2-4zM1069 652l3-3 8-1 3 4-3 7-4-4-5 1zM1046 660l2-2 4 0 2 2-6 7-3-3zM609 664l3-3 4 1 5 6-9 4-3-4zM745 664l4 0-6 12-3 2-8-5-4 13-4-3-4 4-2-3 0-12 2-2 12 1 4-6zM1063 668l15 0 1 4-3 5-8-5-4 3-4-3zM707 676l1-2 1 6 3 4-2 4 6 4 0 4 3 4 2 12-1 3-4-4-8-2-4 5-2-2 3-12-1-3-8-1 0-9 0 5 4 4 4-3 2-5-3-4 5-4zM769 676l5 0 8 8-2 2-8-3zM1184 680l4-1 4 5 14 4 2 4 8 8 0 4 4 4 0 7 12 25-8 8-8 1-2-1-2-7-5-5-3-11-4-4 0-5-18-20 2-4zM604 684l4 8-4 3-4-2-1-5zM680 684l4 0 2 4-6 6-2-2zM754 684l2-2 2 2-6 9-3-5zM793 684l3-4 3 4-6 4-1 4-5-4 5-2zM585 696l3-3 2 3-2 3-4 1 8 4 1 4 7 2 2 2-1 4-9 6-10-2 1 4-3 5-4-5 5-8-4-4 0-4zM584 708l-1 4 5 1 4 5 2-2-2-6-4 0zM600 700l4 0-4 4-7 0zM957 724l3-2 2 2-2 8-4 4-1 4-3 3-3-3zM975 724l1-2 8 2 4 4-4 3-8-3zM874 728l2-2 2 2-1 4 3 1 2-1-2-4 4-4 4 4-8 10-8-1-4 2-4-3 0-7 4-1 4 5zM588 732l4-4 4 0 3 4 1 4-4 2zM599 744l2 8 13 8-8 4 0 8 3 0 3-7 4-2 2 1-2 4 4 1 4 3-3 8 5 4-2 2 0 6-8 4 1-4-3-4-2-8-4 1-4 7 1 4 7 4-4 6-4 0 0 6 5 0 1 4 10 4-3 8-5 6-4-3-4 3 0 3 5 3-5 1-4-1-4 3-4-5-12-3-3-3 3-4 3 4 1 4 0-12 11-12 1-4 6-4 2-4-4-3-4 0-8 10-4-2 0-5 4-4-5-4 2-4-1-8-4 3-4-2-4-10-3-3 3-4 1 4 11 3 1-3 12-8-9-2-4 5-2-3 10-12 4 4 4 0zM934 748l2-2 3 2-2 4-8 0zM719 780l1-1 4 2 4 7-4-1zM630 784l3 0 9 12-1 4-5 4-4-4zM572 800l4-4 3 4-3 5zM1249 860l11-4 8 1 2 3-2 4 1 4 8 4-1 4 9 0-4 4 3 4-8 4 7 8-4 4 1 3 4 0-1 5 5 2 1 2-1 4 3 4-3 8 0 4 4 1 2 3 0 4 6 4-4 1-4 7-1 4 2 4-4 4 2 12-3 4 6 8 8 0-14 16-8 3-8-3-4-4 4-4-4-2-1 6-3 3-5 1 8 8 1 4-4 0 0 4 3 4 0 4-7 4-4 6-7 2 3 4-4 4-8 0 3 4-1 4 3 12-5 7-2-3-3 0 0 4-3 6-4 3-13-5-3 4 6 8-2 2-4-3-4 1-8-4-4 5-4-2-12 0-3-3 0-4 3-4-4-1-11-7 3-8-3-4 11-12 4-3 4 1 7-10 8 0 5-4 4 3 16 5-2 4 2 1 4-1-4-4 8-7 3 3 1 6 6-2-6-12 0-4-8-1-2-3 0-4 3-4-5 0-10-12-4-8-1-8-5 4-9-4 1-3 6-1 2-5 5-3 3-8-4-6-4 1-4-2-4-7-4-2 8-3 3-5 9-7 7 3 1 5 4 0 4-2 5 1 1-4-8-8 5-4 1-4-4-1-4-3 3-32 5-4 4 0 1-8-3-4 2-4 8 0zM1268 889l-4 11 8 2 1-2-1-10zM844 868l4-3 4 2 4-3 2 4-2 3-8 0zM1048 888l8 0 4 7 4 0 12-6 4 1 3 6 17-2 12 3 4-3 8 3 12 1 2 2 0 4-6 11-4 0-4-4-4 4-8 3-4-2-8 0-4 2-8-2-4 4-10 0-2 4-8 0-4 7-3-3 0-4-8-4-1-4-4-4 0-12 3-4-2-4zM607 900l5-4 4 1 4 3-2 4 2 6 4-1 4 2 8-5 1 2-5 5-12 2-4 3-8-3-3-3-1-4 3-4zM623 936l1-4 4 2 4 0 3 2-3 3zM1060 936l8 4-2 4 1 4-11 8 0 6-4 2 4 1 4-1 1 4-9 6-8-6 1-4 5-4-7-4 6-4 4-8zM643 944l1-2 4 2 5 8-1 4-9 0 2-4-2-4zM1040 992l4-4 6 8-2 3-8-1zM1314 992l6-3 5 3-5 2-4 0zM1304 996l4-3 6 3-6 2zM675 1004l9 0 0 4 4 0 4 4 0 4 4-3 2 3-2 4 5 8 5 4 2 8 4 4 3 8-1 4 2 3 8 2 2 3-3 4 5 2 4 6-1 8 8 8 12 20 0 8 3 4 2 10 8 14-4 4 4 1 3 3-11 14-8-6 1-4-9-12 2-16-3-8-26-28 3-4 4 1 0-4-8-2-4 1 0-4-4-1-8-6-4-5 0-8-7-4 0-4-4-4-4-16-5-4 0-8-8-8 0-4 4-3 4-1zM1037 1012l3-2 5 2 1 4-2 3-4 1 2-4zM1308 1020l1 4-1 5-4-1zM1026 1028l2-2 4 2 4-4 3 4-3 8 3 4-3 3-4-4-2 1 1 4-3 4 1 4-6 8 2 8-5 0-1 4-3 4-8 1-3-1 3-2 3-6-3-4 8-8-5-4 0-4 1-2 5 2 10-8 2-4zM1292 1044l4-3 4 2 4-2 4 3 4-2 2 2-1 8 13 16-1 4 2 4-3 9-8-3-2 2 3 8-1 4-17 12 0 4-3 3-4 1 8 5 3 7-3 8-8 11-7-7 2-4-3-4 1-8-5-12-13-12 13-13 4 0 8-7-1-4 4-12-2-4zM1244 1076l4-3 3 3-3 5zM1235 1088l1-1 4 4 4-1 3 6-8 0-5-4zM1231 1096l5 1 2 3-1 4-8 0-1 2-1-2zM1233 1116l3-3 4 1 2 2-2 8 4 4 0 6 6 10-2 6-4-7-4 2-8-5-2-4 2-4-3-8 4-4zM1244 1152l3 4-1 4-2 1-2-5zM1283 1164l1-2 4-1 2 7-2 3-4-3zM1102 1256l2-1 16 7 8 10-1 4-3 2-20-10z"/>
<path fill="#E6B8AF" d="M511 436l0 4 3 4-3 4-7 6-7-2 2-4-7-4 4-3 4 6 4-1 0-6zM565 432l98 0 5 4-9 8 1 2 4 4 4-9 8 7 0 5 4-4 4 4 1-5-5-7-4 1-7-6 0-4 14 0-1 8 2 1 4-4 3 3 0 4 5-4 7 4 1 13 1-9 3-2 1-6 6-8 9 8 4-3 4 1 2 2-1 8 3 1 5-5 0-8 3-3 3 3-4 12 3 4-6 7-4 0-5-3 2-4-1-3-4-3-4 1-1 5-7 6-5-2 0 8-3 4-4-5-6-3-2-4-4 0 3 4-7 9-4-1 0-4 5-4-1-2-11 6 7 4-4 3-12-1-3-2 3-4-12 3-1 5-3 3-7 1-1 5-5-1-2 4 6 4 0 8-3 4-8-7-8 1-2 2 6 1 3 3 0 8-7 7-4 7-8 1-1-3 2-8-5-2-3 6-1 1-1-1-2-4 0-12-4-4 1-4-9-4 1-4 7-8-1-5-8-1-8-9-8-1-4-6-4 4-1-2-2-4 8-12 0-4zM620 464l-4 4-4 0-4 3-5 1 1 6 17-10 1-4zM600 483l-2 1 2 7 5-3 1-4-2-2zM608 496l-1 8 5 1 3-5zM616 480l-6 4 1 8 5 6 2-6-6-4 7-8zM846 432l5 0 4 4 1 4-4 3-6-7zM857 432l25 0-6 2-4 5-12 0-4-3zM883 436l2-4 8 0 2 4-3 2-4-3-4 3zM914 432l9 0 1 2 1-2 28 0 7 12-4 4 5 4-3 8-2 3-8-3-4 3-4-3 1-4 4-4-13-2-4 1-7-7 4-4-1-2zM907 452l2 0 5 8-2 2-8-2-4 2 0-7zM926 456l2-4 2 4 6 4-5 8 8 4-3 4-9 0 2-4-4-8zM785 472l3-2 2 2 0 4 7 4 5 8-2 2-8-6-8 6-3-2 6-8zM742 476l2-2 4 3 2 3-2 4-4-1zM733 492l3-3 3 7 7 4 1 4-3 3-4-3-4 2-8-2-1-4zM533 496l3-2 5 2-13 15-4-2-1 7-3 4 4 4-8 7-11-7 0-4 6-4 1-4 4-3 7-1zM753 496l3-4 6 8-2 2zM856 496l4-4 4 0 4 0 3 4-3 3-8 1zM497 500l3-4 3 4-7 16-12-1-2-3 3-4-3-4 6-3 8 4 3-1zM852 504l7 4-4 4-11 6-4-3-4 6-2-5 2-4 8-7zM958 504l2-2 4 11 4-1 4 4 2 4-2 4 4 2 4-1 4 13 4-3 4 4 4 1-4 1-1 3 8 4-11 4-4-1-4 4-1 5 5 3 5 1-9 4-4 0 1 4-7 8 6 3 8-6 2 3-2 4 0 2 4 7 7-5-7-4 4-10 12-1 4-4 3 3-5 4-2 8-2 0 2 5 4-3 12 4 8-2 0 4 4 1 2-9-9-8 3-7 10 7-2 4 4 7 4-2 7 3-8 8 5 0 7 8-7 8-3 0 2 4 7 4-6 3-4-4-9 5-7 6-8 1-4-4-9 5 2 4-1 3-11-11 3-4-3-4-1-9-4 0-8-5-8 2 0 5-9 3 4 4-3 6-8-6 2-4-2-4 0-7-4 2-1 5 2 4-1 5 3 7 0 8 6 0-4-4 3-4 4 4 4-3 7 7 1 5 12 12 4-4 8 0 4 3 4-1 4 2 4 3-1 4 4 4-2 8 6 4-7 8-4 1-8-4-5 3 4 12-3 3-3-3-1-5-2 5-4 4 2 8-4 4-8-1-8-4-4 3-4 0-2-2-2-6-4 5-4-5-3 10 1 8-2 2-2-2 0-8-2-1-4 3-2-6 13-8-2-8-1-1-4 5-4-4-5 8 1 4 4-6 3 2-3 4-11 4 3 1 7 11-3 3-8 0-4 4-5 1 1 2 12-2 10 8-2 3-8 2-4-4-4 0-8-6-1 5 1 10 0-6-4-1-8-7 6-4-2-5-6 5 2 4-7 4 2 4-7 1-3-9 3-4 4 2 5-6-3-4-1-4 3-4 8 1 4 4 6-5-2-2-4 1-4-3 1-8-1-1-2 5 1 4-3 3-8-1-3-2 8-4-5-2 1-6-5-8-8-4-4-6-10-2-1-4 5-4-1-12 7-10 4 1 4-2 4 3-1 4 5 4 4-7 2 7-2 2-4-2 0 8-4 3-7-7 1-4-2-5-5 9 0 4 9 6 8-2 11 12 1 4 1-16-5-1-3-3 7-3 4 4 2-1 7-8-5-4 4-2 4 4 4-3 0-5-4-4-4 0-2-2 2-3 12 7 4 4 0 4 9 0 7-2 2-6-1-4-5-1-3-3 4-4 0-8-7-4 0-4-5-8 3-5 7-3-1-4-6-1-8 11-4-2-4 1-5-5 9-7 5-9-4-4-1-5-5 5 2 4-1 2-6-6 4-4-5-12 6-4-6-4 3-11 5-1 2-8-2-4 0-4-8-8 3-3 24-8 4 4 6-5zM972 535l-1 1 1 7 4-2 1-1zM1016 611l-3 1 6 4 5 1 5-5-9-2zM1036 608l-3 4 3 4 8-4zM988 672l-2 8 2 5 4-8 7-1-7-1zM940 675l-16 12-12 5 4 6 4-2 0 4 4 1 4 4 4 1 2-2-6-4 4-4 0-4 13-12 0-4zM956 655l0 5-4 4 16 2 1-2-9-9zM932 563l-6 5 6 2 3-2zM944 548l-5 4 3 4-3 4 0 8 4 4 3 8-2 4 0 6 4 0 7-6 1-5 2 5 2 1 1-5-1-6-4 1-4-5-4 0-2-2 2-8-3-8 3-3 6-1-2-3zM952 526l-2 6 2 5 9-5-5 0zM968 692l-2 8 2 1 5-5zM952 591l2 9 6 3 12 3 4-5 5-1-1-3-4 2-4-1-12-8-4-1zM960 551l-2 5 2 8 4 4 10-8-1-4-9-1zM532 512l4-3 7 7-4 4 3 4-4 4 3 4-5 3-4 0-3-3 1-8-4-8 2-3zM489 520l3-3 4 3-8 7-3-3zM520 532l4-3 4 3-1 4-3 4-6-4zM631 540l5-4 3 4-3 6-4 1-3-3zM642 540l2-2 8 6-4 3zM614 548l2-1 8 1 4 4-4 3-4 0zM600 552l4-3 8 12 4-4 4 0 4 4 4-1 8-6 4 2 4-3 2 3 1 8-6 16 2 4-11 6-8 9-4 0-4-5-4 0-4 5-8 3-3-2 3-3 4 2 0-3 8-8-2-4 9-4-7-7-4 0-6-5zM608 563l-3 1 2 4 1 3 4-1 0-4zM628 572l-2 4 6 5 0-5zM1061 552l3-3 4 2 2 5-6 7-5-7zM1051 564l1-2 3 6-3 3-3-3zM897 572l3-3 4 4 3 3-4 4 6 4-2 4-7 5-4-2-5 1-6-8 0-4 7-6 3 2-1 4-3 4 5 2 4-2zM1090 576l2-4 8 6 4-1 8 15-1 4-7 7-2-3-1-8-6 0 4 4 0 8-3 3-4-1-6-6 3-4-5-5-4-1-1-6-3-4 4-3 4 0 8 4zM1061 580l3-3 4 1 4 6-4 3-4-1zM827 584l2 0-5 9-4-5zM835 584l4 8-1 4 5 4-3 2-4 0-4 6-6-4 2-4 7 0-3-8 3-4zM1123 584l2 0-1 4 4 1 4 3-5 12-7 6-4-2 5-8 0-8 3-4zM1103 608l1-3 1 3 0 12-3 12-2 1-2-1 0-4-2-2-4 5-3-3 4-4-4-4 3-3 4 4 7-1 0-4-8-4zM618 612l2-3 4 1 1 2-1 3-4 0zM593 636l3-2 3 2-1 4 4 4-2 6-7-6zM1062 640l6-3 7 3-7 3-4 4-3-3zM834 644l2-2 4 0 2 2-10 6-2-2zM850 644l2-3 8 7 1 4 6 4 0 4 5 4-8 7-4-3 0-14-12 2-4-4 0-4zM585 648l3-3 3 3-7 8-4-4zM1086 648l2-2 7 10-2 4 3 0 4 5 4-4 2 3-2 4 4 0 2 4-4 4 1 4 5 0 8 4 0 4-4 4 4 2 1 2-5 8 4 1 7 7-4 8-7 4 4 1 6 7-1 4-6 4 9 9 4 0 4 3-11 8 3 6 4-4 5 2 2 4-2 4 1 4 6 1 4 5 4 1-2 9 10 16-1 12-6 4-1 4-2-4-2 0-1 4-3 3-8-8-8 5 2 4-4 4 1 4-7 4 0-8 5-4-4-4-1-8-4-1-4-3-4 4-4 0-8-6-5 2 7 4-6 4-4-5-4 6-4 1-12-5-4-6-4 0-3-3 0-4 8-8-4-16-6-8-2-8 7-8-5-4 2-12-2-4 1-2 5-2 1-4-5-4 4-4-1-2-4 1-4-8-4-4-4 1-3-4 3-2 4 0 4-6-4-5-4-5-4 2 4 4-4 5-7-5-1-5-3-3 0-4 11-11 5 3-2 4 1 2 4-1 4 6 8 6 4 2 4-6 3 3-4 4 1 4 12 1 3-1 3-4-5-4 7-6 3 2-2 4 3 4 2-4-2-8-4-6-7-6 3-3 5-1 1-8-4-4 2-3 3-1zM1116 744l0 4-5 4 1 5 5-1 4-4 0-4zM1080 796l-1 4 7 0 0-4zM1088 791l0 2 4 4 4-1-4-5zM794 652l4 0-2 4 4 3 4-5 20 12 4-5 4 3 8-8 2 4-3 4 3 4-4 4 1 12-7 6-4 1-11-7 3-5-7 1 2 4-3 1-11-13-5 3-3-3 4-4-1-4-8 10-7-6 0-4-5-4 12-8zM1070 652l2-2 7 2-7 3zM846 660l2-3 6 7-2 2zM1047 660l5-1 1 1-5 7-3-3zM609 664l3-3 4 1 3 6-7 3zM735 668l9-3 2 3-6 8zM1029 668l3-4 3 4-1 4-2 1-3-1zM720 672l10 0-2 6-4 0zM846 672l2-2 2 2-1 4 3 4 4-3 4 5 4-5 3 3-4 4 9 8-7 4-1 4-4 3-7-7 0-4 3-4 4 1 0-2-8-7-8 0 2-4zM1185 684l3-4 9 8 7 0 10 12 5 8 1 8 3 4 2 8-2 4 5 1 3 7-7 6-9 2-2-8-5-4-4-12-3-4-1-5-11-11-6-8zM600 688l4-2 3 6-3 2-4-2zM706 692l2-3 5 3-2 4 6 4-1 8-4 1-3-1 6-4-7-1-4-7zM885 696l3-2 3 2 0 4 5 8-4 3-4-3 2-4-5-4zM580 704l4-4 4 2 4 6-4 1-4-2-4 6-2-5zM865 704l3-2 3 2 1 5 4-2 4 0 2 9-2 2-8-3-7-7zM851 708l1-2 4 0 7 6-3 4-4-2zM582 716l6-3 5 7zM856 720l4-4 3 4-3 3zM589 732l3-3 4 0 3 3-1 4-2 1zM865 732l3-2 3 6-3 2zM953 732l3-4 3 4-5 4 0 4-2 2-2-2zM590 748l2-3 15 15-4 4 2 8 5 0 2-6 11 6-7 10-4-3-5 1-1 4-6 7-4-4-8 3-3-2-1-13-4 3-6-6-1-4 3-2 12 4 2-2-4-4 12-8-10-3zM614 788l2-4 4 0 3 4-3 5zM633 792l3-3 3 3 1 4-4 7-2-3zM585 796l3-3 5 3-5 6-3-2zM604 796l4-3 3 3-3 5-2-1zM597 804l3-3 3 3-3 4-4 0 6 4 10 1 5 7-5 9-2-1-2-11-1 7-7 10-13-2-3-8 12-16zM1113 828l3-4 3 4-2 4 2 4-3 2-2-2 1-4zM1257 860l3-3 6 3-1 4 3 5 5 3-5 4 3 4 1 4-6 4-2 13 4 0 4 3 3-4-1-8 2-2 6 6-4 4 1 4 5 7 4 1-2 4 3 8-3 4 1 4 1 3 5 1-2 4 5 4-9 16 4 12 0 4-4 4 4 4-3 4 8 1 3 3-19 14-8-3-3-3 4-4-5-4-3 8-7 4 8 8-3 4 0 4 3 4 0 4-7 4-3 5-12 3-6-8-2-9-8-3-1-4 3-4-2-2-4 1-11-15-2-4 1-8-4-1-4 4-7-3 7-4 2-4 5-4 1-8-4-8-4 2-9-10 5-2 4-6 8-5 5 1 3 6 8 2 6-4 3-8-5 1-4-5 5-4 0-4-1-2-4 0-2-2-1-4 4-16 0-12 3-3 6-1 2-8-2-4 14-4zM1256 916l-1 4 1 4 4-3 0-5zM1045 892l3-3 4 0 8 7 4 0 12-6 3 2 1 4 36 0 20 3 1 5-5 11-4-1-4-6-4 7-8 2-12-1-4 2-8-2-4 3-12 1-4 3-5 1-3 6-2-6-8-4-1-4-4-4 0-12 3-4zM608 900l8-2 2 2 0 8 2 4 5 0-5 0-4 4-8-2-3-6 3-4zM1060 940l5 0 1 8-12 8-2 4-5-4 5-6 2-6zM1046 964l2-1 4 5 5 0-5 6-2-2zM1041 992l3-3 5 7-5 1-2-1zM673 1008l3-3 4 0 3 3 5 1 3 3 1 5 4-3 2 2-2 4 4 8 6 4 1 8 5 4 2 8-1 4 3 3 8 4 1 1-3 4 2 3 5 1 2 4 0 8 20 28-3 8 5 4 2 12 4 4-1 4 4 4-3 4 8 4-11 14-7-6 0-4-8-12 1-16-2-8-26-28 2-3 5-1-1-5-8 0-16-10-4-5 1-8-8-4-7-24-5-4 1-8-9-12 3-3zM1027 1028l5 1 4-4 2 3-5 8 5 4-2 2zM1203 1036l1-1 12 3 8 7 5-1 0-8 3-2 2 2 2 9 4-2 3 1-4 4 4 20-3 4-7 0 2 4-7 7-4-5-4 3-4-2-4 4-5 1 0 4-11-1-8 4-8 0-3-3 5-8-9-4-1-6-4 3-2-1 4-4-3-8 9-11 8-2 8-10 8 3zM1021 1044l7-3 2 3-3 4-1 8-4 4 0 4-3 4 0 4-3 3-4 0-2-3 3-4-4-4 7-7 4 1 2-2-2-7 0 3-4 4-4-4 0-4 7 0zM1294 1044l2-1 4 1 5 0 3 9 4-1 4 4 0 4 4 5 4 0 2 3-2 3-4 0 0 2 4-1 3 4-3 7-4 0-4-3 1-4-3 0-2 3 0 5 4 8-18 16-2 6-4-2-1 4 9 7 2 5-3 8-3 4-4 3-4 0-3-3 3-4-3-4 3-4-3-8-4-8-12-12 11-11 8 0 1-5 4-4-1-4 4-12-3-4zM1208 1088l4-3 5 7-1 1zM1229 1100l3-3 5 3-1 3-4 0zM1234 1116l6-2 2 2-6 6zM1230 1124l2-2 7 6 6 12-1 1-4-1-4 3-3-3 0-12zM1283 1164l5-2 2 6-2 2-3-2zM1109 1260l3-1 9 5 6 8-1 4-2 1-19-9 4-4z"/>
<path fill="#CA9186" d="M566 432l10 2 1-2 86 0 4 4-9 8 3 4-6 8-1 4 2 3 2-3 0-4 6-4 4-10 6 6 2 6 4-4 4 5 2-3 0-4-3-4 5-5 0 5 4 1 4-4 4 1 3 6-2 8 3 3 2-3 4-16 6-7 8 8 4-3 5 2-1 3-8 3-4 7-4-1 0 5-6-1-2 4 3 4-3 3-4-6-5-1 0-4-3-2-7 2 6 4-7 8-3-4 4-4-1-4-13 8 8 4-3 2-12 0-2-2 3-4-1-1-12 3-1 6-3 2-8 2-8 8 0 5 4-3 2 2 0 8-2 3-8-7-7 0-1-5-4 5-4-1-3-3 7-8-7 0-3 4 0 8 5 4-3 3-4-4-2 9 6 1 4-5 4 4 0 4 2 0 2-1 0-3-3-4 3-2 4 0 3 6 0 4-7 6-4 7-8 1-1-2 2-8-5-2-4 6-3-8 0-8-2-4 1-4 6-4 0-4-2-3-4 1-3 2 1 4-2 2-5-2-1-4 8-8-2-8-8 1-7-9-5-2-4 1-3-3 4-4-1-2-4 0-1-6 1-1 4 3 4-2 0-4-4 1zM620 463l-4 5-4-3-4 6-6 1 2 7 18-11 2-4zM628 472l-2 4 6 5 1-5zM671 432l2 0 3 4 1-4 5 0-2 4-4 0 4 4-6 0-4-4zM847 432l7 4 1 4-3 3-5-7zM858 432l12 0 5 4-3 3-12-1-3-2zM915 432l8 0 1 4 1-4 27 0 5 8 1 4-3 4 5 4-2 8-2 2-8-3-4 4-3-3 0-4 6-4-15-2-4-2 0-2-4 0-2-2 4-4-2-4zM506 440l2-2 4 6-4 4-3-4zM744 444l0 8-2 4-2 2-4 0-3-2 1-4 6-7zM900 456l8-3 5 7-5 1-4-2-4 1zM928 456l7 4-3 6-3 2 10 4-3 3-4-1-5-6-1-4zM789 480l3-1 6 5-2 2-4-4-4 3-2-1zM736 492l1 4 7 4 2 4-2 2-4-3-4 1-6-8zM535 496l2 0 1 4-3 4-7 5-2-1 4-8zM857 496l3-3 4 0 6 3-6 3-4 0zM486 504l6 0 5 4 1 4-2 3-12-2-1-1zM960 504l4 10 4-1 3 3 1 9 8 2 3 5-2 4 3 3 4-2 3 3-1 4 2 3 6 1-10 3-4-1-4 3-4-4-1 3 3 4-1 4 6 4-3 3-4 0 0 5-9 8 5 1 4 5 0-2 8-5 1 1-2 4-5 4 6 2 4 6 1-4 11-6 4 5 4 1 4-4 8 3 4-1 8 3 4-9 4 5 6-1-6 8 8 1 6 7-6 7-4 1-8-5-8 3-12 0-8-7-2 1 0 4 6 6 8 3 4 1 8-6 4 5 8-3 8 6-4 3-4-6-16 12-8 1-4-4-12 8-6-6 3-4-5-13-4 0-4-6-12 2-3-3 3-3 6-1-2-5-4 4-6-3 5-8-5 0-2 5-11-5 5-4 1-4-3-7-4 2-4-6-4 1-2-2 2-5 4 4 5 1-10-12 0-4 9-4 4-5 0-4-4-3 5-4-5-1-4-6-3 7 6 8-17 12 3 4-4 12 6 4 2 8-2 4 0 12-7 9-4-2-4 0-3-3 7-6 5-10-3-4-2-7-4 3-2-4 6-1 4-3-3-4-1-1-3 1-5 4-2-4 6-3 0-6-4 4-3-3 3-9 6-3 1-8-2-4 2-4-9-8 2-2 24-8 4 4 4-5 3-1zM972 534l-3 2 3 8 6-4zM960 551l-3 5 2 8 5 5 11-9-1-4-10-1zM842 508l2-2 13 2-3 4-10 5-4-3-4 5-1-3zM514 512l2-2 4 1 3 5-4 4 4 4-7 6-11-6 1-4 6-3zM534 512l2-2 6 6-3 4 2 4-4 4 3 4-4 3-4-1-3-6 4-4-5-4 0-4zM521 532l3-2 3 2 0 4-3 3-5-3zM632 540l4-3 3 3-3 5-4 1-2-2zM616 548l8 1 3 3-3 3-4 0zM602 552l2-1 8 12 4-5 4-1 8 9 8-3 0-5-4 4-3-2 7-5 4 2 4-4 2 3 1 8-7 16 1 4-9 5-8 10-4-1-4-5-4 0-4 6-3-3 7-6 0-7 4-1 9 6-1-5-4-3 3-4-7 2-1-2 1-4-8 0 4 0 1-4-2-4-7 0-2-4zM628 571l-4 5 8 5 2-1-1-4zM1063 552l1-1 2 1 3 4-5 6-4-6zM899 572l1-1 6 5-2 3-4 1zM1026 572l2-2 9 6-5 6zM890 576l2-1 2 1 0 4-4 4 9 4-7 3-4-3-2-4zM992 576l8-2 4 2 0 6-12 4-2-2 0-4zM1091 576l1-1 4 1 4 4 0 6 0-6 4-2 6 10-2 1-4-2-9 5 3 4-2 4 2 4-2 2-4-1-6-5 5-4-10-8-1-4-3-4 3-2 12 6 2-4zM1061 580l3-2 4 0 3 6-3 2-4-1zM901 584l3-3 4 3-1 4-7 4zM1103 592l1-2 6 6-2 2-4 0zM1123 600l1-3 2 7-6 4zM827 604l1-2 4 0 3 2-3 3zM944 604l4-2 4 3 4-3 4 2-5 4-3 7-4-4-4 1-3-4zM961 604l7 1 7 7-3 2-4-1-3 3 6 4-3 5-7-5 2-4-2-4zM946 620l2-3 4 0 3 3 3 8 0 8 2 2 5-2-3-4 2-3 4 4 4-3 6 6 3 8 11 10 4-4 8 0 8 6 4-2 3 2 0 4 4 4-3 4-4 2-4-4-4 1 0 5 12 0 6 4-6 7-4 2-4-5-4 0-6 4 1 4 3 4 0 4-2 2-2-2-2-6-7 10 2 8-3 3-8-1-4-3-8 2-5-1 1-5 4 3 1-2-2-4 2-4-5-5-5 13-3 3-7-11 1-4-2-2-4 5-4-4-6 9 1 4-3 1-7-5 4-4 0-4 13-12 0-4-6-3-4 5-4 1-8 7-8 2-4 3 2 5-5 4 0 8-5 3-5-3 8-4-7-4 1-4-4-8-9-5-4-6-8-1-3-4 6-4-1-12 6-8 3 4-5 8 0 4 10 8 4-3 4 0 10 11 0 4 2 1 2-17-8-4 6-2 4 3 5-1 5-8 6-4 1-4-3-4 2-2 7 6 1 5 16-1 3-8-1-4-8-4 2-1 4-11zM988 672l-2 8 2 7 4-10 8-1-8-1zM956 652l-1 8-4 4 9 2 4 0 4 2 3-4zM992 687l-3 1 1 4 2 2 5-6zM1095 624l5-2 1 2-1 8-1-4-3-3-4 6-2-3zM594 636l2-1 2 1-1 4 4 4-1 5-5-5zM851 644l1-2 4 3 3 3 1 4-4 3-8 0-3-3 0-4zM888 648l4-3 3 3-1 4 5 4 0 8-3 2-6-6 1-4zM785 656l3-3 4 0 8 7 4-4 20 10 4-5 4 4 4-3 6 6-2 3-4-4-4 3-4 0-1 2 5 1 4-1 2 4-1 4 1 4-10 6-9-6 3-4-2-2-12 2-8-9-4 3-2-2 4-4-2-5-8 10-5-5 0-4-6-4 3-3zM861 656l3-2 3 2-1 4 6 4-8 7-3-3zM1086 656l2-2 4-1 3 3-3 4zM610 664l2-2 4 1 1 5-5 1zM1090 664l2-4 4 1 4 4 4-2-1 5 5 4-2 4 0 4 6 1 6 3 1 4-4 4 5 4-4 4-1 4 1 3 6 1-5 4 3 2 4-4 2 2-6 8-5 4 1 2 4 0 4 6-1 4-4 4 2 4-6 0 0 4-5 4 0 4 7 0 5-4 2-6 4 4 4 0 3 2-13 8 7 8 3 1 4-3 2 2-3 4 1 4 8 2 3 2 4 8-3 5 11 15-2 4 1 8-2 2-4-2-5 4 0 4-3 3-3-3-1-4-4-1-8 3-1 2 2 4-1 2-6-6 0-8-10-5-4 4-4 0-8-7-16 13-8-2-8-11-4 2-2-2 1-4 5-5 4 2 1-1-3-4 1-4 5-4 4 0-4 0-4-4-4 2-1-6-5-4-4-12 7-8-5-4 4-8-5-8 7-4 1-4-5-4 7-8-1-4-4-3-1 3 2 4-5 3-3-7-5-6-4 0-2-2 2-2 4 1 5-7-7-8 2-2 4 0 13 6 3 5 12 1 3 6 2 0 3-4-3-4 3-7 4 4 5-5-9-16-7-4 3-3 4 0zM1088 790l-4 5-5 1-1 4 6 1 12-3 0-2-3-4zM742 668l2-1 1 1-5 7-3-3zM1037 676l3-3 4 3-2 4 2 3 4-2 3 3-12 8 3 4-2 3-4 0-6-11 0-4zM860 684l4 1 7 7-8 4-3 6-6-6-1-4 3-3 4 2 1-3zM1186 684l2-3 8 7 8 2 9 10 5 8 1 8 5 12-3 4 7 4 0 4-4 5-8 3-2-4 0-4-5-4-4-12-4-4-1-7-10-9-2-4-4-4zM707 692l1-2 2 2-1 4 5 4-2 2-5-2zM885 696l3-2 2 2 0 4-2 2-2-2zM915 700l2 0 3 6 4-5 4 5 8 4 6 10-18 7 0 4 4-2 8 0 4 4 4 1 2 2-2 2-8 1-4-3-4 0-8-5-4 7-7-6 6-4-3-6-4 4-6-10 2-3 4-1 8 5 7-5-3-3-4 1-3-2zM581 704l3-3 6 3-2 4-4-1-4 4-2-3zM866 704l2-2 3 6-3 2-3-2zM891 704l1-1 3 5-3 3-3-3zM950 704l2-2 3 2-3 16-1-8-3-1-4 2-1-1 1-4zM851 708l5-1 7 5-3 3-4-2zM589 732l3-3 4 1 2 2-2 4zM894 732l2-3 4 2 4-3 2 4-7 4 0 4-3 0zM591 748l1-2 6 6-6 2-4-2zM594 760l2-2 6 6 1 4-9 4 2 6 4-5 4 6 8-11 10 4-6 7-4-1-7 2 1 4-6 7-4-5-8 3-4-14-4 2-5-5-1-4 2-1 12 5 3-4-4-4zM615 788l1-3 4 0 3 3-3 4zM634 792l2-2 3 6-3 5-2-5zM595 812l5 0 8 4-2 8-6 9-10-1-5-8 4-4 3-7 4 7 4-4zM608 816l4-3 3 3 1 5-4 2zM1258 860l2-2 2 2 0 4 8 8-3 4 4 8-3 3-4 1 2 4-3 8 1 3 4-2 5 3 3-4-2-4 2-5 5 5-5 4 8 12-4 4-6 0 10 1 4 7-3 4 3 8 7 8-1 4-6 9-4 2-4 0-5 5 0 4 1 2 8-9 2 3-3 4 5 0 3 4-1 4-3 4 4 4-3 5 4 3 4-2 2 2-6 5-4-2-1 5-7 6-8-3-3-3 5-4-5-4-2 0-3 8-7 4 9 8-4 4 0 4 3 4 0 4-9 8-4 2-4-2-4 3-2-3 2-5-4 2-4-10-5-3-3-4 3-4-3-3-4 1-10-14-2-4 1-8-8-4 7-8 1-8-5-11-4 4-6-9 10-10 8-2 4 7 6 1-4 4 2 3 5-7 6-4 4-8 5-4 4 1 2-1-6 0-4-3-4 6-4 1-4-4 6-4-1-8-6 0-2-8 5-12-1-8 1-4 10-4-1-4 5-8 4-3 4 0zM1248 956l-2 4 6 5 1-5zM1256 915l-3 5 3 5 4-3 1-6zM1260 925l-2 7 2 1 3-1 1-4zM1248 995l-4 5 1 4 3 1 1-5 4-4zM1046 892l2-3 4 1 8 6 12-2 4-3 4 5 40 1 15 3 2 4-5 10-6-2-2-6-4 8-24 3-8-1-4 2-12 1-8 4-4 6-2-5-8-4-1-4-4-4 0-12 4-4zM612 900l5 0-1 8 3 4-3 3-9-3-1-4zM1055 944l5-3 5 7-9 6-3-2zM674 1008l2-2 4 0 8 3 3 3 1 5 4-2 1 1-1 4 4 9 5 3 2 8 4 4 2 8-1 4 4 4 8 4-3 4 3 4 4 0 3 4-1 8 20 28-2 8 4 3 2 13 5 4-3 4-4 0 4 0 4 3-1 5 7 4-8 8-2 5-6-5 0-4-5-4 4-4-5 0-3-4 2-4-2-8 2-4-3-8-8-10-12-10-5-8 6-4-1-6-8 0-12-6-7-8 0-8-7-4-8-24-5-4 2-8-5-4 0-4-5-4zM1230 1036l2-1 1 1 0 4 6 12 0 4 3 4-2 4 3 4-3 3-9 1 3 4-2 3-4 1-4-4-2 4-2 1-4-2-4 3-4 0-4 5-8 0-8 3-8 0-2-2 5-8-7-4-7-12 4-4-3-4 3-4 3-3 4 3 8 1 4 3 0-6-8-2 8-10 8 2 4-3 12 1 4 6 4 2 5-2zM1022 1044l6-2 1 2-4 8 1 4-2 2-2-2 2-4-3-4zM1296 1044l8 1 3 3 1 13 0-5 4-3 3 3 1 6 4 5 5 1-1 2-4-1-1 3 1 2 4-1 3 3-3 6-7-2 1-4-2-1-5 1 0 4-3 4 7 8-18 16-1 4-5 0 0 4 8 8 2 4-2 8-3 3-8 4-2-3 2-4-3-4 4-4-3-8-16-20 10-10 8 0 6-10-1-4 4-12-3-4 1-4-2-4zM1014 1060l2-2 5 2 0 4-3 4 1 4-3 3-6-3 4-4-4-4zM1235 1128l2 0 5 8-6 6-2-2zM1111 1260l9 4 7 8-3 4-18-8z"/>
<path fill="#AF6A5E" d="M571 436l5-1 2-3 26 0 4 9 1-5-1-4 27 0 1 1 1-1 18 0 1 2 1-2 5 0 4 4-9 8 2 4-6 12 3 3 3-3 0-4 6-4 3-9 8 12 4-4 4 5-10 8 7 4-5 2-8-1-1-1 3-4-2-2-12 3-4 9-7-2 0-4-2 0 1 8-9 8 1 6 5-2 1 8-2 2-4-5-8-1-4-5-4 4-4 0-3-3 8-8-1-1-8 1-3 4 0 8 5 4-2 2-4-4-2 2-1 8 3 2 4 0 4-5 3 3 0 4 5 1 1-5-3-4 2-1 4 0 3 5-1 4-6 6-4 7-8 0 2-9-6-3-4 5-3-6 2-4-2-12 6-4 0-4-3-4-4 1-4 3 1 4-1 2-3-2-2-4 7-8 1-8-11 0-7-8-5-3-4 2-3-3 4-4-4-4 8-4-1-6-4 1zM612 464l-1 4-3 2-7 2 3 8 16-11 12 13 1-6-9-8 1-4-5-2-4 5zM715 436l1-2 4 6 7 4-7 8-4-1-8 6-1-5 3-4 0-8zM858 432l12 0 4 4-2 2-4-2-4 2-6-2zM926 432l26 1 4 7-5 4 8 8-3 10-8-4-4 5-3-3 3-6 5-2-1-4-4 2-14-2-5-12zM944 433l-1 7 5 2 2-2zM693 444l3-3 5 3 1 8-2 4-4-3-8 0-1-5 1-2zM738 448l2-2 3 6-3 5-5-1 0-4zM690 460l2-2 2 2-6 8-3-4zM927 460l1-3 6 3-2 6-4 2zM731 496l9 2 6 6-2 2-4-4-4 1zM858 496l6-3 5 3-5 3-4-1zM531 500l1-2 4 2-4 6-3-2zM486 508l2-3 4 0 5 7-5 2-7-2zM843 508l1-1 8 1 0 4-4 2zM515 512l5 0 2 4-4 4 4 4-6 4-10-4 1-4 5-2zM535 512l1-1 5 5-5 7-4 0-3-3 0-4zM946 512l2-1 4 4 1-3 7-4 4 8 4-3 3 3 0 8 9 5 2 3-2 4 4 4 4-2 3 10-7 1-4 3-4-4-4 6-8 0-4-4-4 6-7 0 7 0 2 4 0 4-2 2-8-10 2-4 11-8-1-6-3-2 5-4-6-2-4-6-4 8 5 8-5 2-10 10 2 4-4 11-7-7-1-5-4 4-3-3 1-4 2-4 6-4 2-8-3-4 3-4-6-4-3-4zM960 517l-1 3 5 5 2-1-2-8zM968 536l4 9 4-2 5 1-9-11zM529 528l3-3 4 1 3 6-3 2-4-1zM522 532l3 0 1 4-2 3-4-3zM633 540l3-3 2 3-2 4-4 2-2-2zM604 552l6 8-6 3-2-7zM618 552l6-3 3 3-3 3zM1064 552l4 4-4 5-3-5zM642 556l2-2 2 6-3 12-4 8 1 4-12 8-4 6-4-1-4-4-5-1 2-4-1-4 4-2 8 7 2-1-2-6-3-2 3-3 8 4 2-1 0-4-6-6-4 6-8 1 1-5-5-8 2-4 6-2 6 6-2 2-4-3-1 5 5 1 12-4 2-5zM975 556l2 0-1 4 6 4-2 2-4 0-1 6-3 4-4 0-3 4 10 4-11 6-6-2 4-4 2-4-4-8-4 2-2-2 6-6 4 4 4-2 2-4 6-4zM932 572l8-2 4 10-2 4 0 12-6 9-8-5 10-16-4-4zM1027 572l1-2 7 6-3 6zM994 576l6-1 4 5-4 3-8 2-2-5zM1062 580l2-2 4 1 1 5-5 0zM1078 580l2-1 12 6 4-7 2 2 0 4 3 4-7 4-2 3-4-1zM902 584l2-2 2 2 0 4-2 2-3-2zM1034 588l2-3 6 7-2 4 0 5 4-4 4 0 6 7-6 6-4 1-8-4-20 3-2-2 2-3 8 2 2-3-2-3-8-1 0-5-4 0 0 7 2 2-10 0 1 4 7 8 12 3 8-6 4 4 7-1-15 12-8 1-4-3-12 7-5-5 3-4-6-14-4 0-4-7-8 4-4 0-2-3 9-4-1-4-2-2-4 5-4-3 4-7 8 4 4 4 4-6 8-3 4 5 4 0 4-4 8 3 4-2 8 4 2-2zM1093 596l4 0-2 4 1 5-4 0-5-5zM946 604l2-1 6 5-2 6-4-3-4 0-2-3zM962 608l2-3 4 0 7 7-3 2-4-2-4 4 6 4-2 4-6-4 2-4-3-4zM955 628l1-2 3 6-3 5-5-1zM962 632l2-2 4 4 4-2 6 4 2 8 5 4-1 2-4 0-1 2 1 4-2 4 2 2 1-2-1-4 4-3 4-2 4 4 4-4 8-1 8 7 4-3 2 2 1 4 3 4-6 5-4-4-6 3 2 5 12 0 4 3-4 7-4 1-4-5-4 0-7 5 1 4 4 4-1 4-2 0-3-7-9 11 3 4 1 4-3 3-4-3-4 2-4-4-4 0-2-2 2-4-8-10-5 14-3 2-6-10 0-4-2-2-4 4-4-3-5 5-3 9-6-5 3-4 0-4 14-12-1-4-6-4-2 4-10 7-12 4-5 5 3 4-2 2-5-2 1 4-4 3-3-3 1-4-4-4 0-4-10-5-3-3 0-4-9 0-3-4 7-4-1-12 5-6 2 2-5 8 0 4 11 8 4-3 4 0 4 7 5 4 0 4 3 1 2-1 0-16 10-4 0-4 9-8-1-9 7 5-1 4 2 1 12 0 3 3-4 8 17 4 4-3 4 8 4-1-4-6-8-4-11-10 3-8-2-4 8-4zM900 681l0 6 9 1-5-7zM988 671l-3 9 3 12 4 3 6-7-8-4 1-4 1-2 8 0 1-2-9-2zM851 644l1-1 6 5 1 4-3 2-8 0-2-2-1-4zM889 648l3-2 2 2-1 4 6 4-1 8-2 2-6-6 2-4zM786 656l6-2 8 7 4-3 4 1 16 8 4-5 5 6-5 0-2 4 10 2 0 5-4-2-2 3 2 2 4 0 1 2-9 6-8-6 4-4-4-3-12 2-9-11-3-6-8 11-4-5 1-4-7-4zM862 656l2-2 2 2 0 4 5 4-7 6-2-2zM1090 664l2-3 4 0 11 11-2 8 7 1 7 7-4 4 4 4-4 8 1 9 6 3-8 8 2 4 4-1 3 5-4 8-5 4 0 4-4 4-1 4 3 2 6-2 4-4 2-5 4 4 6 1-10 3-4 5 8 8 7 4 1 5 10 3 4 8-3 4 1 2 6 6-3 4 1 5 4-4 2 3-2 4 1 8-1 1-5-1-5 4 0 4-2 2-3-2 0-4-17-8-4 2-8-3-4 3-4 0-4-6-4-2-13 10-3 4-8-2-3-2-3-8-7 0 1-4 4-4 4 2 2-2-3-4 2-4 3-3 5-1-17-11-3-5-2-8 6-8-4-4 7-12-4 0-4-4 7-4 2-8-2-4 3-4-1-4-5-4-2 4 1 4-3 2-2-2 0-4-4-4 2-2 8 1 0-5-8 1-2-3 5-4-6-4-2-4 9 0 8 5 1 3 7 3 4-1 4 1 2 5 3 0 4-4-1-9 4 2 6-5-3-8-3-2-4-7-6-3 2-2 4 0zM1088 788l-1 4-3 3-6 1-2 4 8 2 12-3 1-3zM1037 676l3-3 3 3-1 4 2 8-5 4 2 4-5 2-5-10zM1187 684l1-1 8 6 8 2 14 17 5 20-3 4 7 4-3 7-8 4-2-3 1-4-6-4-4-12-3-4 1-4-12-12-1-4-5-4zM862 688l2-2 7 6-9 4-2 5-6-5 0-4 2-2 4 3zM582 704l2-2 5 2-9 7-1-3zM914 704l2-3 4 6 4-5 4 5 8 4 4 9-16 6-6 6-2 6-6-6 6-4-4-7-4 4-5-9 5-3 8 5 8-6-4-4-4 2-2-2zM950 704l2-2 2 2-2 8-4-1-4 2 1-5zM925 732l11-3 4 5 5 2-5 2-12-3zM594 760l2-2 2 2 4 8-9 4 1 4 6 6 4-1 1 3-5 6-4-5-4 2-4 0-3-11-4-4 3-2 5 2 3-4-4-4 9 0zM611 772l1-3 9 3-5 6-8 0-2-2zM601 816l3-2 3 2-2 8-5 7-8 1-7-8 3-3 8 0zM1124 820l4 3 4 1-4 1-4 5-2-2zM1255 864l1-1 8 2 4 7-1 4 4 8-8 4 1 16 4-2 4 3 4-3 7 10-3 2-8 2 4 2 4-1 7 7-3 4 4 10 6 6 0 4-7 8-3 2-4-1-4 6-4 1 4 8 4-6 4 3 4 0 2 3 0 4-4 4 4 4-3 4 4 4-5 4 0 4-6 5-8-3-2-2 5-4-7-5-2 1-2 6-6 2-2-10-4 4-4 0-4 3 0 7 4 1 2-1-1-4 3-3 4 3 1 4 3 1 5 7-4 4 3 12-12 9-4-2-4 2 0-8-4 3-4-10-6-6 2-8-8 1-12-17 1-8-6-4 6-8 0-8-4-8 0-4-5 0-4-4 4-6 8-5 4 1 4 5 3 1-2 4 3 4 4-5 4 1-2-4 6-4 1-4 3-4 12-4-8-1-5-3-3 5-4 2-3-3 6-4 0-8-7 0-2-8 6-12 0-4-3-4 2-4 9-3 0-5 1-4 7-7 4 2zM1256 914l-3 2-1 4 6 8-1 4 7 0 1-4-5-4 1-8zM1244 933l-3 7 3 1 4-5zM1248 955l-2 1-2 8 4 0 8 5 2-1-5-4 1-4zM1264 948l4 5 6-1-6-5zM1244 971l0 7 4 3 4-7 0-4-4 3zM1240 1009l-2 7 6 1 1-1zM1046 892l2-2 4 1 8 6 12-1 4-4 4 5 40 0 8 4 4-1 4 4-4 9-5-1-3-7-3 7-5 3-20 1-8-1-19 5-8 4-1 3-1-3-8-4-1-4-5-4 2-4-1-8 3-4zM610 904l2-3 2 3 4 8-2 2-9-2 0-4zM1056 944l4-2 4 6-8 4-2-4zM675 1008l5-1 8 2 3 3 1 5 4-1-1 4 5 9 5 3 2 8 4 4 1 12 3 4 8 4-3 4 4 5 4-1 2 4 0 8 20 28-3 8 5 4 1 12 5 4-2 3-4-6-1 7 5 0 4 4 0 6 5 2-7 8-2 5-10-13 4-4-6-1-3-3 2-4-2-8 2-4-2-8-9-11-11-9-1-4-4-4 6-4-2-7-8 1-12-7-7-7 0-8-7-4-7-24-5-4 2-8-5-4 1-4-6-4zM1231 1036l7 16 0 4 3 4-1 4 2 4-2 2-10 2 4 4-2 3-4 0-4-4-4 5-4-2-16 9-4-1-16 4-2-2 6-8-8-4-6-12 4-4-3-4 3-4 2-2 4 3 8 1 4 3 2-5-2-3-5-1 0-4 5-5 8 2 8-3 8 1-1 5 5 5 10-5zM1208 1061l-1 3 5 6 2-2-2-4zM1023 1044l5 0-4 7-3-3zM1295 1048l1-2 8 0 2 2 0 12 2 3 1-7 3-2 8 14-4 6-7 2 1 4-3 4 7 8-18 18-5 2-1 4 10 12-2 8-2 3-8 3-2-2 3-4-3-4 3-4-2-8-15-20 8-9 4-2 4 2 7-11-1-4 3-12-2-4 1-4-3-4zM1015 1060l1-1 3 1 1 4-3 4 1 4-2 2-5-2 4-4-4-4zM1320 1076l4-2 2 2-2 5-6-1zM1235 1132l1-3 5 7-5 5zM1110 1264l2-3 4 2 10 9-2 3-8-3-9-4z"/>
<path fill="#FFFFFF" d="M578 432l25 0 5 10 2-6-1-4 26 0 1 2 2-2 16 0 2 4 4 1 1 3-5 4-3 16 3 4-3 8-5 1-3-5-2 0 0 8-9 8 1 4-3 3-4 0-4-4-8 4-3-3 10-8-3-2-8 1-3 5 0 8-4 4-1 8 4 3 4 0 4-5 2 6 6 2 1 2-5 8-8 0 2-8-2-3-4 0-4 3-2-4 2-4-3-12 6-4 0-4-3-4 16-11 12 14 2-7-9-8 0-4-5-3-4 6-4-4-2 5-6 3-4-3 2-4-2-1-4 3-8 1-4-5-8-6-4 2-2-2 3-4-2-4 7-4-2-8zM616 443l0 3 4 2-4 1-1 3 1 2 3-2 1-4 4 0-4-5zM715 436l10 8-5 7-4-1-4 4-4-2 3-4 0-8zM859 432l10 0-2 4-3 2-5-2zM926 432l12 0 4 4 0 4 10 5 6 7-2 9-8-4-4 5-3-2 3-6 4 1 2-3-2-6-4 4-4-2-4 1-4-1-7-12zM944 432l6 0 4 4-1 4-5-2zM694 444l2-2 4 2 2 4-2 7-4-3-6 0-2-2 0-3zM666 448l2-4 8 12 4-4 3 4-3 3-16 2-4 3 0-7 6-5zM739 448l1-1 3 5-3 4-4-1-1-3zM691 460l1-2 2 2-6 7-3-3zM927 460l1-2 5 2-1 5-4 1zM671 464l1-3 4 6 4 1-7 0zM624 500l4 0 3 4-3 6-3-2zM487 508l1-2 4 0 5 6-5 2-3-2zM536 512l4 4-4 6-4 0-3-6zM954 512l6-3 2 3-3 4 0 4 5 6 2-2-1-8 3-2 2 2 0 8 5 4-8 8 5 9 10-1-3-4 1-3 7 7 1 4-4-1-4 4-4-7-4 10-4-2-4 2-4-4-4 5-4-3 10-8-4-8 4-4-6-2-4-7-5 9 5 8-4 1-1 3-7 6-4-3-1 1 5 8-4 11-6-7 0-4-2-2-4 4-2-2 2-7 7-5 1-4 0-4-2-4 3-4-1-5-4 2-1-1 2-4 6-4 13-4 4 5zM514 516l2-3 4 1 1 2-4 4 4 4-5 3-8-2-1-1 1-4 4-1zM530 528l2-2 7 6-3 2-4-2zM634 540l2-2 2 2-2 3-4 2-1-1zM602 556l2-3 6 7-6 3zM642 556l2-1 2 5-3 12-4 4 1 8-4 3-4 1-8 9-4 0-4-5-4 0 1-8 3-1 4 2 4 4 2-1-3-8 1-2 8 4 2-2 1-4-6-4-2-4 5 0 4-3 2-5zM615 560l6 0-2 8 7 4-2 3-8 1 1-4-4-8zM951 560l1-3 4 0 1 7-1 1zM971 564l5-2 5 2-5 1-1 7-3 3-4 0-4 5-2-8 6-3zM937 572l3-2 2 2 2 8-2 4-1 12-5 8-7-4 9-16-3-4zM996 576l4 0 3 4-3 3-8 1-1-4zM1096 580l4 8-8 6-4-1-6-9 2-2 8 4zM963 584l1-2 10 2-10 5-5-1zM1034 588l2-3 5 7-2 4 1 6 4-4 4 0 5 6-5 6-4 1-4-3-8-2-16 3 0-3 8 2 2-4-2-3-5-1-3-7-4 1-1 6-3 2-4-5-7 11 6 0 1-2 7 10 12 4 1 2 4-6 4-2 7 6-11 7-8 1-4-3-4 1-1 2-7 5-3-5 2-4-7-15-4 1-2-2-2-6-4-1-1 3-3 2-6-2 10-4 0-5 4 4 3-7 5-2 4 2-7 4 3 3 3-3 1-3 4 2 8-5 8 3 4-2 8 3 3-2zM975 592l1-1 3 1 0 4-3 2-3-2zM1088 600l4-3 3 3-3 4zM947 604l6 4-1 6-10-6zM963 608l1-2 4 0 6 6-2 1-4-2-4 4-2-3zM967 636l5-4 5 4 3 10 3 2-3 1-2 3 2 4-2 4 6 5 2-1-4-4-1-4 3-3 4-1 4 4 4-4 8-1 2 1-5 4 3 1 4-2 4 3 4-3 5 9-5 4-4-4-7 4 3 6 12-1 4 3-4 6-4 1-4-5-4 0-8 6 1 4 5 4-2 4-4-8-10-4 2-5 8 0 1-3-9-2-4-3-1 1-2 8 1 8 6 8-4 4 5 4 1 4-2 2-4-3-4 2-4-5-4 2-2-2 3-4-9-10-8 16-6-10 5-12-7-5-3 1 4 4 1 4-6 6-4-4-5 6-3 7-5-3 3-4-1-4 14-12 0-4-7-5-3 5-9 7-12 4-5 5 2 4-1 1-4-2-2 1 1 4-3 2-3-2 1-4-3-4 1-4-8-3-6-5 2-4-12-1-2-3 2-2 8-2 8 5 4-3 4-1 3 3 1 6 4 2 0 4-4-3-4-1 0 8 8 1 6-5 1-16 9-4 1-4 9-8 0-4 2-3 3 3-1 4 2 2 12-1 2 3-4 8 18 5 4-2 4 6 4-1-4-7-8-3-10-10 2-8-1-4zM846 648l2-2 4 4 4-4 2 6-2 2-8 0zM787 656l5-1 1 1-1 4 5 0-9 11-2-3 0-4-7-4zM862 656l2-1 1 1 0 4 6 4-7 5-2-1zM893 656l3-2 2 2-2 9-6-5zM803 660l5-1 12 8 6 1 0 4 10 4-4 0-8 10-3-2 4-4-5-4-12 3-3-7-6-4-1-4zM1091 664l5-2 10 10-1 8 7 1 6 7-3 4 3 4-6 12 4 8 5 0-8 8 3 9 4-5 2 4-4 8-5 4-5 12 4 2 8-3 2 1-3 4 9 9 6 3 2 6 9 2 5 8-3 4 1 4 5 4-2 8 1 4 4 4 0 4-4-1-7 5 1 4-2 2-2-2 0-4-16-8-2-3-4 4-4-3-4 0-4 4-4-1-4-7-4-1-16 14-8-1-2-2-3-8-6-4 3-3 6 3-2 4 4 2 4-1 8-5-4-2-4 4-4-3-4-7 4-6 4 0 1-2-17-12-2-4-2-8 6-8-5-4 8-12-1-2-4 1-3-3 8-4 1-4-2-8 2-4-1-4-5-4 0-8-8 3-2-3 6-4-7-4 3-3 4 1 8 6 8 4 4-2 4 2 1 4 5 0 3-4-1-4 11-8 2-8-1-2-4 2-4-3-4-7-5-2 5-1zM1096 670l-3 2 7 5 2-1zM1088 788l-4 6-6 2-3 4 9 3 16-2-6-9zM1038 676l2-2 3 2-3 8 3 4-5 4 2 4-4 1-4-9zM1188 684l20 12 11 16 3 16-3 4 7 4-2 4-8 6-2-2 2-4-6-4-4-12-4-4 2-4-12-12 0-4-7-4zM863 688l7 4-8 4-2 4-5-4-1-4 2-2 4 4zM923 704l1-1 4 5-4 3-3-3zM951 704l1-1 2 1-2 6-4 0-3-2zM931 712l5-1 3 9-3 2-8-1-1 3-7 6-4-3-4-7-4 0-5-4 5-3 8 5 4-4zM926 732l10-2 4 4 5 2-5 1zM593 768l3-3 4 0 1 3-5 2zM582 772l2-2 4 3 4-3 2 6 3 4-1 4-4 3-4-2-2-9zM612 772l5 0 0 4-9 2-1-2zM601 816l3-2 2 2-2 7-4-1-1 2 2 4-1 2-8 1-6-7 2-3 8 1zM1256 864l9 4 2 4-1 4 4 8-7 4-1 12-3 4 5 1 4-3 4 3 4-2 5 9-10 4 5 3 4-1 4 3 2 3-3 4 2 4 3 7 6 5-1 4-5 5-4-1 1 4-5 0-4 6-4 0 2 6-4 4 2 1 6-1 2-6 4 3 4 0 2 3-1 4-3 4 4 4-3 4 2 4-4 4 1 4-6 5-4-3-4 0-2-2 5-4-7-5-3 1-5 8-3-4-1-7-12 7-2 4 2 5 4 1 2-2 2-6 4 6 4 2 5 6-4 4 2 12-11 9-4-2-4-7-4 2-9-14 1-9-8 2-7-9-4-8 1-8-6-4 6-8 0-8-4-8 2-4-8-1-3-3 6-8 5-2 8 6 0 4 4 5 4-4 4 0 0-5 4-3 8 1 4-6 0-4-5 0 1-1 4 1 8-5 0 5 8 1 1-5-4-4 1-8-2-2-4-1-4 3-1 4 3 4-2 3-8 0-4-4-4 0 0-7-8-1-2-3 2-8 4-4 1-8-3-4 6-6 4 1 4-7-2-4 4-4 2-2 4 2zM1248 955l-3 1-2 8 4 4-5 4 2 8-6 4 2 1 4 1 8-10 1-4 5-4-4-4 0-4zM1264 948l4 6 7-2-7-6zM1240 990l-4 3 0 7 5-8zM1240 1008l-3 8 7 2 2-2zM1047 892l1-2 4 2 8 5 13-1 3-3 4 4 24-1 4 2 12 0 4 2 0 4-3 8-5 2-28 1-24 7-4-3 0 6-9-5-1-4-4-4 1-4-1-4 0-4 3-4zM611 904l1-1 1 1 4 8-1 1-7-1-1-4zM1125 904l7-3 4 3-4 9-4-1zM1057 944l3-2 4 6-8 3-1-3zM677 1008l3-1 10 5 0 4 6 6 4 8 4 2 2 8 5 4 1 13 9 7-1 4 2 4 6 1 2 3 0 8 20 28-2 4-4-4-3 4 10 8 0 20 5 1 4 3-1 4 1 2 5 2-2 4-6 4-1 4-10-12 4-4-6-1-2-3 1-4-1-8 1-4-2-8-9-12-11-8 0-4-4-4 5-4-1-4 5-4-2-2-8 4-4 0-12-7-6-7-1-8-6-4-8-24-5-4 2-8-4-4 4-1zM666 1012l6-2 3 2-3 4zM1192 1040l4 0 8 5 0-5 4-2 7 2-1 4 6 6 11-6 1-2 5 10-3 8 7 8-12 4 4 4-1 2-8-4-4 5-12-5-2 2 2 4 2 0-10 6-4-1-16 4-2-1 7-8-8-4-6-12 5-7-2-5 2-1 4 2 8 1 4 4 2-6-6-8zM1208 1060l-2 4 6 7 3-3-3-5zM1296 1048l4-2 4 1 1 13 3 5 2-9 2-2 2 2 1 8 4 4-3 5-8 3 2 4-4 4 7 8-9 10-13 10-1 4 7 8 2 8-3 6-8 3-1-1 2-4-3-4 4-4-2-8-16-20 12-10 4 1 9-11-3-4 4-12-3-4 1-4-2-4zM1016 1060l1 0 2 4-3 4-4-4zM1321 1076l3-2 2 2-2 5-5-1zM1111 1264l1-1 4 1-1 4-6 0zM1117 1268l3-2 6 6-2 3-8-3z"/>
</g></g>
</g>
<path fill="#FF0000" d="M985.5,265.5 L989.0,261.5 L995.0,258.0 L1001.0,255.8 L1004.0,256.5 L1002.5,259.5 L998.0,262.5 L992.0,266.0 L987.0,268.0Z"/>
<path fill="#FF0000" d="M949.0,291.0 L953.0,288.5 L956.0,286.0 L960.0,284.0 L961.5,286.5 L959.0,290.5 L956.0,293.0 L951.0,293.5Z"/>
<path fill="#F69999" d="M331.0,630.0 L336.0,628.3 L341.0,628.8 L346.0,630.2 L343.0,632.0 L336.0,632.0Z"/>
<path fill="#FFAB57" d="M327.0,629.5 L330.0,629.0 L330.5,631.0 L327.5,631.2Z"/>
<path fill="#80DE07" d="M366.5,655.0 L369.0,654.0 L373.5,658.0 L372.0,660.2 L369.0,658.0Z"/>
<path fill="#A6EE03" d="M369.0,664.0 L371.5,663.5 L373.5,668.0 L371.5,668.8Z"/>
<path fill="#CCFF00" d="M348.0,650.0 L351.0,649.6 L351.5,651.5 L348.5,651.8Z"/>
<path fill="#DAD2E9" fill-opacity=".55" d="M1128.0,882.0 L1136.0,879.5 L1144.0,876.5 L1145.0,878.0 L1137.0,881.5 L1129.0,884.0Z"/>
<path fill="#DAD2E9" fill-opacity=".55" d="M1149.0,874.5 L1158.0,870.5 L1166.0,866.5 L1167.0,868.0 L1159.0,872.5 L1150.0,876.5Z"/>
<path fill="#DAD2E9" fill-opacity=".55" d="M1170.0,864.5 L1176.0,861.0 L1180.0,857.5 L1181.0,859.0 L1177.0,863.0 L1171.0,866.5Z"/>
<g fill="none" stroke="#000" stroke-width="3.8" stroke-linejoin="round" stroke-linecap="round">
<path d="M279.5,235.5 L861.3,235.5 L861.3,225.5 L869.9,225.5 L870.6,229.0 L871.8,232.4 L870.4,236.0 L871.2,239.4 L872.8,242.9 L876.1,244.2 L879.7,242.7 L882.9,244.4 L886.2,245.7 L889.7,245.0 L899.2,245.5 L907.6,245.0 L911.3,245.7 L913.7,248.3 L916.6,250.3 L919.2,252.6 L923.2,254.8 L927.6,256.0 L931.0,256.9 L934.0,258.6 L937.1,260.0 L940.7,259.3 L943.8,257.1 L947.0,255.2 L950.8,255.2 L954.0,257.2 L957.1,259.2 L965.6,258.9 L969.4,260.1 L973.2,261.0 L977.3,260.6 L981.1,261.3 L977.9,263.5 L974.3,264.7 L970.1,264.6 L967.2,267.5 L963.4,268.4 L960.5,269.9 L957.9,272.1 L954.0,272.0 L952.0,275.2 L948.7,276.1 L945.4,277.0 L943.4,280.2 L940.2,282.7 L936.8,285.1 L934.0,288.1 L930.8,289.5 L928.0,291.5 L925.5,293.9 L929.7,296.0 L933.1,294.0 L937.0,293.6 L941.0,293.8 L944.5,292.0 L948.1,290.5 L951.9,289.4 L952.8,292.6 L952.9,296.0 L957.1,295.9 L960.3,298.6 L963.4,297.7 L966.5,296.6 L969.2,294.6 L972.3,293.6 L975.2,291.9 L978.2,290.7 L980.7,288.4 L984.2,287.8 L987.5,286.9 L990.0,284.4 L992.9,282.8 L996.4,281.8 L1000.0,280.9 L1003.5,279.9 L1006.5,277.9 L1009.8,276.3 L1012.9,277.0 L1016.1,277.6 L1013.1,279.0 L1010.7,281.3 L1007.7,282.8 L1004.2,285.5 L1002.4,289.4 L1002.0,293.9 L1005.1,292.2 L1008.0,290.0 L1011.9,290.7 L1016.0,292.0 L1020.3,292.0 L1022.2,294.8 L1022.7,298.2 L1025.0,300.7 L1029.1,301.1 L1033.1,302.0 L1037.2,302.6 L1040.5,301.3 L1043.8,300.0 L1047.4,299.3 L1051.1,299.2 L1054.1,296.8 L1057.5,296.9 L1060.7,295.5 L1064.2,295.7 L1067.5,295.1 L1070.9,294.7 L1076.2,294.1 L1075.7,297.7 L1075.1,301.2 L1079.2,302.6 L1083.5,302.6 L1088.8,301.2 L1092.0,304.1 L1094.1,307.8 L1096.8,310.7 L1098.3,314.4 L1101.5,314.6 L1104.6,315.7 L1094.1,315.7 L1081.4,315.7 L1078.4,314.5 L1075.2,314.1 L1071.9,314.0 L1068.8,313.1 L1065.5,313.1 L1062.6,315.1 L1059.1,313.8 L1056.2,315.7 L1052.6,315.5 L1049.3,318.0 L1045.6,317.0 L1043.4,319.9 L1041.4,322.8 L1038.8,320.2 L1035.1,319.7 L1031.9,322.3 L1029.6,325.8 L1026.7,328.9 L1024.3,331.8 L1023.4,335.6 L1020.3,338.1 L1018.3,341.8 L1015.1,344.6 L1013.7,348.8 L1011.5,352.5 L1014.0,351.2 L1016.2,348.6 L1019.1,347.0 L1022.3,345.8 L1024.6,343.3 L1027.7,341.6 L1029.2,338.5 L1031.0,335.6 L1033.4,333.3 L1031.6,336.2 L1030.5,339.4 L1027.5,341.8 L1025.9,345.0 L1025.0,348.6 L1023.0,351.8 L1022.9,355.6 L1022.0,359.1 L1019.8,362.3 L1019.2,366.1 L1017.8,369.6 L1017.4,373.0 L1015.3,376.0 L1016.3,379.7 L1014.6,382.8 L1014.2,393.3 L1015.5,396.5 L1015.4,399.8 L1015.1,403.2 L1016.1,406.5 L1015.7,410.2 L1017.7,413.4 L1018.2,417.0 L1019.6,420.1 L1020.1,423.5 L1023.5,428.8 L1028.8,429.6 L1032.5,428.1 L1036.1,426.2 L1037.6,422.3 L1040.1,419.3 L1043.5,417.0 L1046.3,413.3 L1048.2,409.1 L1049.4,405.7 L1047.9,401.9 L1049.6,398.6 L1048.0,394.8 L1047.1,390.8 L1046.7,386.7 L1046.0,382.6 L1045.4,378.5 L1043.1,374.9 L1043.3,365.7 L1044.6,362.1 L1045.9,358.4 L1047.2,354.8 L1048.8,351.2 L1050.1,347.0 L1052.6,343.3 L1055.0,340.9 L1057.6,338.7 L1061.4,338.2 L1063.5,335.4 L1063.8,340.1 L1062.5,344.6 L1065.6,342.0 L1067.4,339.2 L1068.7,336.2 L1068.8,332.8 L1071.6,330.3 L1075.1,328.9 L1076.7,325.9 L1077.6,322.5 L1080.4,320.2 L1083.4,322.1 L1086.7,323.6 L1090.1,325.2 L1093.6,326.6 L1096.4,329.5 L1100.4,329.7 L1104.4,331.7 L1108.8,332.8 L1108.7,336.2 L1107.8,339.4 L1110.9,344.6 L1110.3,357.8 L1107.2,360.4 L1106.1,364.8 L1102.5,367.0 L1100.3,369.5 L1098.9,372.4 L1097.7,375.4 L1104.6,376.2 L1106.4,373.4 L1108.9,371.0 L1110.9,368.3 L1114.1,366.1 L1117.9,365.2 L1120.9,366.8 L1122.4,369.9 L1124.6,372.3 L1125.4,375.8 L1125.7,379.4 L1126.2,383.0 L1127.9,386.3 L1127.7,390.0 L1129.5,393.3 L1127.9,396.6 L1128.3,400.5 L1126.7,403.8 L1124.0,406.6 L1120.4,405.1 L1118.3,408.1 L1116.2,410.9 L1114.4,414.5 L1113.5,418.3 L1112.8,422.1 L1110.2,424.5 L1107.4,426.7 L1110.8,426.9 L1113.8,428.6 L1117.3,428.8 L1120.3,430.2 L1122.5,432.8 L1126.2,433.9 L1129.9,434.6 L1133.5,433.8 L1137.4,434.5 L1141.0,433.6 L1144.7,432.8 L1147.3,430.1 L1151.0,429.0 L1153.5,426.2 L1156.6,425.2 L1159.6,424.0 L1162.4,422.0 L1166.0,422.5 L1168.9,420.9 L1172.7,420.0 L1175.3,417.1 L1178.8,415.7 L1182.5,414.8 L1185.5,412.5 L1188.2,409.9 L1191.6,408.4 L1194.6,406.5 L1195.7,403.0 L1199.1,401.8 L1201.9,400.1 L1203.6,397.2 L1201.4,394.5 L1200.5,391.2 L1200.5,386.5 L1204.5,386.1 L1208.3,385.0 L1212.1,383.6 L1215.9,383.6 L1219.7,384.0 L1223.4,385.4 L1227.3,384.5 L1231.0,385.4 L1243.7,386.2 L1247.3,384.8 L1251.2,384.1 L1254.2,381.5 L1256.6,378.2 L1260.5,377.5 L1260.5,369.6 L1258.5,367.0 L1257.4,363.8 L1260.5,362.2 L1263.0,359.4 L1266.4,358.3 L1268.5,355.8 L1270.9,353.5 L1273.1,351.0 L1275.3,348.6 L1278.1,346.1 L1281.7,345.2 L1285.2,344.2 L1288.2,342.1 L1291.5,340.7 L1320.6,340.7 L1359.6,340.4 L1361.9,336.8 L1363.8,332.8 L1368.0,334.1 L1370.1,331.5 L1373.3,330.2 L1375.3,327.3 L1378.1,325.1 L1380.9,322.9 L1382.3,319.4 L1384.8,317.0 L1385.5,313.5 L1386.5,310.1 L1387.0,306.5 L1388.0,302.9 L1389.3,299.3 L1391.2,296.0 L1394.1,294.2 L1395.5,291.1 L1397.9,289.0 L1399.7,286.2 L1401.6,283.6 L1402.7,280.3 L1405.8,278.7 L1407.6,276.0 L1409.7,278.4 L1412.9,279.8 L1414.3,282.8 L1417.7,282.3 L1420.8,281.0 L1423.7,279.2 L1427.0,278.6 L1430.2,279.9 L1432.8,281.9 L1434.8,284.7 L1437.7,286.3 L1437.7,316.0 L1441.3,318.0 L1442.8,321.7 L1444.9,324.9 L1447.2,327.5 L1447.5,331.2 L1451.3,332.9 L1451.2,336.8 L1452.1,340.0 L1453.6,342.9 L1455.4,345.7 L1453.0,348.8 L1449.4,349.8 L1446.0,351.2 L1442.0,352.7 L1438.3,355.0 L1434.4,356.5 L1431.2,359.4 L1427.0,360.4 L1423.6,359.1 L1419.9,360.1 L1416.5,359.1 L1414.0,361.5 L1410.6,363.0 L1410.1,367.0 L1406.5,367.9 L1402.9,369.1 L1399.6,370.9 L1395.0,371.0 L1391.2,373.6 L1388.4,375.4 L1385.9,377.5 L1384.5,380.7 L1381.4,382.5 L1379.6,385.4 L1379.2,389.0 L1376.4,391.5 L1373.9,396.7 L1377.0,399.0 L1378.5,402.5 L1375.8,404.4 L1373.3,406.5 L1370.1,410.4 L1373.4,412.1 L1376.4,414.3 L1377.2,417.6 L1377.5,420.9 L1380.6,425.4 L1389.1,426.2 L1387.1,422.4 L1388.0,418.3 L1386.5,417.8 L1389.0,420.2 L1391.8,422.2 L1392.2,428.3 L1388.7,430.1 L1384.8,429.6 L1381.3,431.1 L1377.5,432.0 L1377.5,426.2 L1373.5,428.4 L1370.1,431.4 L1365.9,432.8 L1362.7,427.5 L1361.2,431.8 L1360.0,436.2 L1356.0,436.8 L1352.0,437.7 L1348.2,437.9 L1344.5,439.3 L1340.6,438.8 L1330.1,439.3 L1326.3,439.9 L1323.2,442.3 L1319.5,443.3 L1316.1,444.8 L1313.2,447.2 L1310.2,449.5 L1307.9,452.5 L1305.8,456.4 L1306.9,459.8 L1306.3,469.6 L1305.2,474.1 L1304.8,478.8 L1302.0,481.9 L1300.2,485.6 L1298.0,489.0 L1295.3,491.9 L1293.2,495.4 L1288.9,496.8 L1286.9,500.3 L1284.7,496.8 L1282.7,493.2 L1279.4,491.7 L1276.9,489.0 L1274.2,486.7 L1274.9,480.1 L1275.3,489.3 L1276.5,493.2 L1277.4,497.2 L1280.6,500.6 L1283.9,503.8 L1284.9,508.3 L1284.8,513.0 L1283.2,516.6 L1281.5,520.2 L1279.6,523.6 L1278.4,527.4 L1278.3,532.1 L1275.4,535.1 L1272.1,538.0 L1269.7,541.1 L1267.3,544.2 L1265.8,547.9 L1265.2,538.0 L1266.6,533.9 L1268.0,529.9 L1270.0,526.1 L1267.6,523.1 L1264.1,521.2 L1261.6,518.2 L1259.5,513.8 L1259.5,509.0 L1258.6,505.4 L1260.7,502.1 L1260.5,498.5 L1261.6,495.2 L1263.5,492.2 L1263.3,488.5 L1264.8,485.3 L1261.6,487.1 L1258.6,489.1 L1255.3,490.6 L1254.8,499.8 L1254.2,511.6 L1256.1,515.5 L1257.0,519.6 L1258.0,523.7 L1259.5,527.4 L1258.8,531.4 L1258.4,535.3 L1258.0,539.4 L1256.3,543.2 L1257.5,547.1 L1257.4,551.1 L1261.3,551.2 L1264.8,552.9 L1266.0,556.2 L1266.4,559.7 L1267.5,562.9 L1268.9,566.3 L1270.3,569.6 L1271.9,572.9 L1271.7,576.7 L1273.2,580.0 L1273.3,583.6 L1273.8,587.2 L1274.4,590.7 L1275.3,594.3 L1274.7,597.9 L1271.4,599.4 L1268.1,600.8 L1264.8,601.9 L1263.0,604.7 L1260.9,607.4 L1257.6,608.9 L1255.7,611.7 L1253.6,614.2 L1249.8,612.2 L1245.5,612.7 L1241.6,611.6 L1238.9,613.6 L1237.3,616.7 L1233.9,617.8 L1232.0,620.6 L1229.4,622.7 L1226.8,624.7 L1225.8,627.8 L1223.7,630.6 L1223.5,633.9 L1219.3,633.7 L1215.1,633.7 L1211.0,632.6 L1206.7,634.8 L1203.6,638.4 L1201.1,641.1 L1199.9,644.4 L1199.5,648.0 L1197.7,651.0 L1195.5,654.3 L1192.1,656.3 L1189.2,658.9 L1186.1,661.1 L1182.6,662.9 L1180.0,665.0 L1177.0,666.4 L1174.9,669.1 L1172.0,670.8 L1170.3,674.0 L1166.9,675.8 L1164.7,678.7 L1162.6,682.6 L1160.5,685.7 L1159.9,689.7 L1156.9,692.4 L1155.2,695.8 L1153.2,699.0 L1151.5,702.4 L1151.0,706.3 L1151.6,709.9 L1150.3,713.3 L1149.9,716.8 L1149.3,720.9 L1151.0,724.7 L1152.5,727.8 L1152.6,731.2 L1152.7,734.5 L1153.1,737.8 L1153.9,741.0 L1154.2,744.3 L1156.7,746.9 L1157.2,750.1 L1158.4,753.2 L1159.4,756.2 L1161.7,759.2 L1162.2,763.1 L1165.4,765.6 L1166.5,769.2 L1167.4,772.8 L1169.3,776.0 L1170.9,779.2 L1169.7,782.9 L1170.7,786.3 L1172.4,789.5 L1172.0,793.1 L1172.2,796.4 L1174.5,799.2 L1173.1,803.0 L1176.5,805.5 L1176.7,808.8 L1177.4,812.2 L1179.0,815.2 L1179.8,818.5 L1179.8,822.0 L1179.4,825.5 L1178.7,828.9 L1178.7,832.5 L1177.8,835.9 L1178.7,839.5 L1177.8,842.9 L1177.7,846.4 L1176.9,849.7 L1175.2,852.6 L1174.1,855.7 L1173.1,858.8 L1168.5,859.9 L1164.7,862.8 L1157.7,863.5 L1156.1,860.0 L1155.2,856.2 L1151.8,853.9 L1150.2,850.0 L1147.8,846.9 L1144.7,844.3 L1143.7,840.4 L1142.5,836.5 L1139.7,834.4 L1137.8,831.6 L1136.2,828.6 L1134.8,824.6 L1133.1,820.7 L1131.8,817.5 L1130.7,814.3 L1128.8,811.5 L1127.0,808.3 L1125.7,804.9 L1125.8,800.8 L1122.5,798.3 L1120.9,793.9 L1120.8,789.1 L1121.5,782.5 L1123.2,779.0 L1122.9,775.2 L1121.6,771.4 L1121.6,767.6 L1123.6,764.1 L1121.0,759.8 L1116.2,758.1 L1114.7,755.2 L1113.0,752.3 L1111.3,747.9 L1108.8,743.9 L1106.8,741.2 L1103.4,740.1 L1101.0,737.9 L1098.5,735.8 L1096.2,733.4 L1092.5,735.6 L1088.8,737.8 L1085.4,740.6 L1081.1,741.3 L1077.2,743.1 L1073.0,745.2 L1067.3,743.6 L1066.1,740.5 L1064.4,737.7 L1063.6,734.4 L1060.4,732.6 L1056.8,731.7 L1054.1,728.6 L1050.4,727.9 L1046.6,727.2 L1043.5,725.2 L1040.1,725.5 L1036.9,726.8 L1033.3,724.7 L1030.1,726.7 L1026.7,726.5 L1022.0,727.8 L1018.6,728.1 L1015.1,727.0 L1011.9,729.2 L1007.5,727.6 L1003.5,725.2 L992.9,724.9 L988.4,725.0 L984.5,727.3 L979.7,730.5 L982.4,735.2 L984.5,740.5 L983.2,743.7 L980.3,745.7 L982.7,748.1 L984.5,751.0 L986.6,753.6 L987.2,757.6 L987.7,761.5 L982.4,762.8 L980.5,760.0 L977.3,758.6 L975.4,755.8 L972.9,753.6 L968.7,756.2 L965.6,757.5 L962.1,757.5 L959.2,759.4 L950.8,760.2 L947.9,756.6 L944.5,753.6 L941.7,751.5 L940.3,748.4 L935.4,748.7 L930.8,747.0 L927.8,744.7 L925.5,741.8 L922.4,743.9 L920.3,747.0 L915.8,744.5 L910.8,745.7 L907.4,744.0 L903.8,742.9 L900.2,741.8 L896.4,742.6 L892.6,743.8 L888.7,743.1 L885.3,744.9 L881.9,746.5 L878.1,747.0 L875.2,749.6 L872.1,751.8 L868.6,753.6 L866.3,756.3 L862.8,757.5 L859.3,758.9 L858.1,762.8 L856.0,766.0 L852.1,766.3 L849.5,768.8 L846.6,770.7 L843.4,772.0 L840.5,774.2 L837.9,776.6 L834.9,778.6 L831.2,780.1 L828.1,782.5 L824.9,784.8 L822.3,787.8 L820.8,791.4 L819.2,795.0 L817.0,798.3 L816.4,801.5 L817.1,804.8 L814.9,807.7 L815.1,811.0 L814.3,814.1 L814.7,817.3 L813.6,820.7 L816.3,823.5 L816.6,826.7 L817.0,829.9 L819.1,834.0 L819.1,838.6 L819.1,841.5 L815.9,844.1 L811.7,843.8 L808.3,841.9 L804.3,841.8 L800.5,840.9 L797.0,839.1 L794.4,836.9 L791.4,835.4 L788.4,833.9 L785.1,833.0 L782.2,831.2 L780.0,827.0 L775.9,824.6 L773.4,821.5 L771.7,817.9 L770.7,814.1 L772.4,810.6 L768.5,807.7 L770.3,804.2 L769.2,801.0 L766.2,799.1 L764.3,796.3 L764.6,791.9 L761.7,790.0 L759.1,787.8 L757.5,784.6 L754.6,782.2 L753.1,779.0 L750.3,776.5 L749.6,772.9 L748.5,769.4 L746.7,766.0 L745.1,762.6 L743.7,759.0 L741.5,755.8 L740.1,752.3 L737.2,749.9 L733.8,748.4 L730.8,746.2 L729.3,742.7 L726.4,740.5 L716.9,741.0 L713.7,739.7 L710.6,738.4 L707.7,740.5 L704.3,741.8 L701.3,745.3 L699.7,749.7 L698.4,753.3 L696.9,756.8 L695.3,760.2 L692.1,762.3 L689.5,760.0 L686.5,758.6 L683.2,757.6 L680.8,755.3 L678.0,753.6 L675.2,751.7 L672.3,750.0 L670.0,747.3 L666.4,746.8 L664.5,744.0 L663.6,740.9 L663.6,737.5 L660.4,735.3 L660.5,731.8 L658.2,729.0 L656.7,725.8 L655.0,722.7 L653.7,719.4 L651.2,716.4 L647.9,714.2 L644.3,712.4 L642.1,708.9 L638.8,707.0 L635.3,705.2 L634.0,701.2 L631.6,698.4 L629.8,695.5 L626.6,694.1 L624.5,691.5 L622.1,689.2 L621.5,688.4 L586.1,688.4 L586.1,700.2 L525.8,700.2 L447.0,669.7 L448.9,663.7 L398.4,668.7 L398.0,664.0 L395.2,660.2 L394.1,657.2 L392.9,654.2 L392.5,651.0 L389.7,648.6 L386.4,646.5 L384.3,643.4 L381.9,640.5 L378.9,638.6 L375.6,637.1 L371.4,636.6 L368.9,633.7 L369.3,630.0 L364.6,628.6 L359.8,628.7 L356.7,626.8 L355.1,623.1 L351.4,622.1 L347.7,620.6 L344.0,619.5 L340.8,619.1 L337.5,618.9 L334.2,619.5 L330.9,619.4 L327.8,618.2 L324.0,614.2 L323.2,610.6 L323.9,607.0 L322.4,603.4 L322.9,599.8 L320.2,597.1 L318.8,593.3 L315.2,591.3 L313.4,587.9 L311.6,585.0 L309.1,582.5 L307.0,579.8 L304.5,577.3 L302.9,574.1 L300.0,572.1 L297.6,569.5 L295.7,565.7 L296.6,561.6 L299.7,556.4 L296.6,555.0 L294.5,552.4 L291.4,550.9 L289.2,548.5 L287.1,545.8 L285.9,542.3 L285.7,538.7 L286.3,534.8 L284.8,531.4 L280.8,527.4 L277.6,526.3 L274.5,524.8 L275.0,520.7 L273.4,516.9 L271.3,514.1 L267.9,512.5 L266.7,508.9 L263.7,506.9 L261.2,504.5 L259.7,501.1 L259.2,497.8 L257.5,494.7 L257.7,491.3 L257.2,488.0 L256.3,484.8 L253.7,482.1 L254.5,478.4 L252.0,475.7 L252.3,472.2 L250.0,469.6 L248.4,466.5 L247.1,463.2 L244.8,460.6 L246.6,457.7 L247.2,454.1 L249.2,451.2 L249.8,447.6 L251.5,444.3 L251.3,440.6 L250.3,437.1 L250.4,433.3 L249.5,429.7 L248.1,426.2 L249.1,423.0 L249.2,419.6 L248.5,416.3 L246.9,413.4 L245.8,410.2 L245.5,406.8 L245.1,403.4 L243.5,400.4 L241.8,397.5 L243.0,394.2 L243.9,390.8 L247.1,388.1 L246.0,384.1 L247.8,380.9 L248.2,377.3 L249.2,374.0 L248.0,369.9 L250.7,367.0 L251.1,363.5 L250.4,359.9 L250.6,356.4 L251.3,353.0 L251.5,349.5 L251.9,346.0 L252.8,342.3 L253.3,338.7 L252.6,334.8 L254.0,331.3 L254.0,327.5 L253.8,324.3 L253.4,321.0 L254.2,317.6 L252.7,314.4 L252.7,311.1 L252.8,307.8 L252.3,296.0 L250.8,292.9 L250.2,289.4 L249.3,286.3 L247.6,283.5 L247.1,280.2 L245.5,277.1 L245.0,273.5 L242.7,270.7 L240.6,267.8 L239.7,264.4 L238.7,260.3 L240.4,255.8 L238.2,251.8 L241.7,253.2 L245.3,254.2 L248.8,255.4 L252.5,256.0 L256.3,256.4 L259.7,257.9 L264.0,257.2 L268.2,258.4 L272.4,259.2 L279.7,258.6 L281.3,261.9 L282.3,265.3 L283.3,268.8 L283.9,272.3 L283.5,276.2 L280.0,278.5 L279.4,282.3 L277.6,285.5 L281.8,283.5 L286.0,281.5 L286.9,276.9 L288.2,272.3 L288.7,268.8 L290.0,265.4 L290.3,261.8 L287.5,258.7 L285.9,254.9 L283.9,251.3 L283.3,246.5 L285.0,242.1 L282.5,238.5 L279.5,235.5ZM1306.9,456.4 L1317.4,456.9 L1321.1,455.9 L1324.8,454.6 L1328.6,454.1 L1332.2,452.5 L1336.5,451.7 L1340.6,449.8 L1344.1,448.1 L1347.9,446.8 L1351.1,444.6 L1352.0,444.1 L1348.4,445.1 L1344.8,445.9 L1343.8,441.7 L1339.6,443.6 L1336.4,446.7 L1325.9,447.2 L1322.3,447.6 L1318.8,447.5 L1315.3,448.5 L1311.1,451.2 L1306.5,453.8Z"/>
<path d="M252.8,307.8 L256.5,308.4 L260.2,308.5 L263.9,309.1 L267.2,309.2 L270.2,310.5 L275.5,311.8 L277.7,314.7 L278.7,318.3 L280.4,321.1 L280.8,324.4 L284.4,324.4 L287.8,325.8 L291.3,326.2 L295.0,325.2 L298.4,323.2 L302.5,323.6 L306.1,322.3 L309.8,323.5 L313.4,324.9 L316.0,322.1 L319.6,322.7 L322.9,322.3 L326.3,320.8 L329.8,320.6 L333.5,321.0 L336.6,320.1 L339.5,318.0 L342.7,317.1 L346.1,317.0 L352.4,316.2 L355.6,314.5 L359.2,314.4 L402.6,314.4M400.0,235.5 L400.0,303.4 L402.6,314.4M402.6,314.4 L405.3,316.6 L406.6,320.0 L409.2,322.3 L411.4,324.9 L408.1,328.2 L407.2,332.8 L405.3,336.1 L405.3,339.9 L404.0,343.3 L402.7,346.3 L400.3,348.6 L399.6,352.0 L396.7,353.8 L398.4,357.1 L399.8,360.4 L400.8,363.8 L402.4,367.0 L400.2,372.3 L400.2,419.6M249.2,419.6 L526.2,419.6M337.7,419.6 L337.7,498.5 L450.8,603.7M463.2,419.6 L463.2,574.8 L459.5,575.0 L455.7,575.1 L452.3,577.6 L448.5,577.4 L447.5,580.8 L448.9,584.0 L450.4,587.2 L449.6,590.6 L449.5,593.9 L449.3,597.2 L450.7,600.4 L450.8,603.7 L452.2,607.6 L453.6,611.6 L456.0,614.2 L457.2,617.6 L459.4,620.5 L462.0,622.9 L459.1,625.1 L458.5,628.6 L457.4,631.8 L454.9,634.2 L454.0,637.5 L452.5,640.5 L451.9,643.7 L451.1,646.8 L449.2,649.7 L449.3,653.0 L449.3,656.3 L448.9,663.7M420.9,235.5 L420.9,262.3 L423.2,265.0 L425.8,267.3 L428.3,269.7 L426.1,273.4 L427.2,277.6 L430.6,278.4 L433.0,280.9 L435.8,282.7 L437.9,285.5 L441.0,286.8 L444.1,288.1 L446.4,291.6 L450.9,292.0 L453.7,294.8 L456.7,297.3 L456.1,301.3 L455.8,305.3 L454.6,309.1 L455.1,312.6 L453.5,315.7 L454.4,319.2 L452.5,322.3 L456.7,326.2 L460.9,327.8 L465.1,328.9 L465.1,322.3 L467.3,325.1 L468.7,328.3 L471.2,330.9 L472.2,334.3 L475.4,336.4 L475.9,340.2 L478.0,343.0 L479.9,346.0 L482.3,349.4 L485.4,352.2 L488.3,355.2 L492.1,354.4 L496.1,354.7 L499.9,353.8 L503.3,353.9 L506.6,353.1 L510.1,353.4 L513.4,353.3 L516.8,352.5 L519.9,347.3 L523.3,350.3 L526.2,353.8M526.2,340.7 L526.2,445.9 L568.4,445.9 L568.4,551.1M526.2,340.7 L673.7,340.7M673.7,235.5 L673.7,445.9M673.7,316.0 L831.6,316.0M673.7,393.3 L790.7,393.3 L793.9,394.2 L796.8,395.9 L800.1,396.4 L803.3,397.2 L816.0,397.2 L820.4,398.6 L824.4,401.2 L827.6,403.0 L831.2,404.0 L833.9,406.7M568.4,445.9 L715.9,445.9 L715.9,472.2 L858.1,472.2M715.9,472.2 L715.9,551.1M463.2,551.1 L872.4,551.1M568.4,551.1 L568.4,700.2M695.9,551.1 L695.9,564.2 L695.0,564.2 L694.6,682.6 L619.6,682.6 L621.5,688.4M695.9,564.2 L759.1,564.2 L759.1,615.3 L761.9,617.9 L765.4,619.5 L769.0,620.9 L772.0,623.8 L775.9,624.7 L780.3,623.6 L784.3,626.1 L788.6,626.1 L791.9,627.6 L795.7,626.2 L799.1,627.4 L801.6,629.6 L804.4,631.4 L807.5,632.6 L811.0,634.0 L814.6,635.0 L818.1,636.6 L821.7,635.4 L824.4,632.6 L827.5,635.3 L832.1,634.8 L834.9,637.9 L837.9,636.5 L841.6,637.2 L844.3,634.5 L847.6,633.9 L851.2,634.2 L854.6,633.2 L858.1,632.6 L861.3,635.3 L866.0,635.6 L868.6,639.2 L872.0,638.7 L874.9,640.8 L878.3,640.2 L881.5,641.1 L884.6,641.8M884.6,641.8 L884.6,655.8 L884.6,682.9 L885.3,686.5 L886.8,689.7 L889.6,692.3 L890.8,695.8 L892.3,698.9 L893.7,702.1 L894.7,705.4 L895.0,708.9 L894.8,712.4 L893.7,715.6 L892.4,718.8 L891.4,722.1 L891.4,732.6 L890.4,736.1 L888.7,739.4 L888.7,743.1M872.4,564.2 L876.4,593.2 L875.4,639.2M884.6,655.8 L945.1,656.3M858.1,472.2 L861.1,474.1 L864.7,475.3 L866.5,478.8 L865.0,481.8 L863.2,484.7 L862.3,488.0 L864.7,490.2 L867.1,492.4 L869.9,493.9 L872.8,495.3 L872.4,564.2M872.4,564.2 L966.6,564.2 L963.9,567.0 L963.9,570.7 L964.5,574.6 L962.0,577.4 L976.1,577.4M833.9,406.7 L834.5,410.1 L836.2,413.1 L836.7,416.5 L838.1,419.6 L839.1,422.9 L839.9,426.3 L840.3,429.8 L842.3,432.8 L843.4,436.0 L844.4,439.3 L844.8,442.7 L846.1,445.9 L846.6,449.6 L847.4,453.3 L848.2,456.9 L850.1,459.6 L850.6,463.1 L852.8,465.6 L856.2,468.4 L858.1,472.2M848.2,456.9 L933.3,456.4 L939.9,462.2M833.9,380.2 L944.1,380.2M817.4,235.5 L817.2,238.9 L817.0,242.2 L818.3,245.4 L819.1,248.7 L819.0,252.0 L820.6,255.2 L821.2,258.4 L821.2,261.8 L822.2,265.1 L823.1,268.4 L824.4,271.7 L825.4,275.0 L826.1,288.1 L826.3,291.6 L826.0,295.2 L826.9,298.6 L828.6,302.7 L830.7,306.5 L831.4,311.2 L831.6,316.0 L829.6,319.0 L826.5,321.3 L825.4,324.9 L828.1,327.7 L831.5,329.7 L833.9,332.8 L833.9,380.2 L833.9,390.7 L832.7,394.8 L830.7,398.6 L832.7,402.5 L833.9,406.7M925.5,296.0 L921.5,297.0 L921.5,312.3 L918.7,314.3 L915.0,314.6 L912.5,317.0 L911.1,321.5 L909.1,325.7 L910.6,329.5 L912.9,332.8 L912.9,337.5 L911.4,342.0 L910.8,347.3 L914.0,349.5 L917.8,350.9 L921.3,352.5 L925.2,353.4 L927.6,356.5 L930.2,359.5 L932.6,362.6 L935.0,365.7 L938.2,367.3 L941.4,368.7 L943.0,372.3 L943.7,376.2 L944.1,380.2 L943.6,383.5 L946.0,386.6 L945.7,390.0 L945.5,393.3 L946.1,396.7 L947.2,399.9 L950.2,402.0 L954.0,403.1 L956.1,406.5 L957.9,409.3 L960.8,411.3 L962.4,414.3 L961.9,418.1 L964.3,420.7 L966.0,423.5 L963.2,426.4 L961.2,430.0 L958.2,432.8 L954.5,432.5 L951.2,434.6 L947.6,434.9 L947.9,438.1 L947.0,441.4 L947.1,444.6 L947.0,447.9 L946.6,451.2 L943.2,453.5 L940.3,456.4 L939.9,462.2 L939.9,474.0 L941.3,480.1 L944.9,481.7 L946.5,485.1 L948.7,488.0 L951.9,490.9 L953.9,494.4 L955.0,498.5 L959.0,499.1 L963.2,499.0 L966.6,501.7 L966.0,508.2 L964.7,512.0 L963.6,515.8 L962.4,519.5 L964.9,522.2 L967.5,524.6 L970.8,526.1 L973.6,528.9 L977.6,529.8 L980.3,532.7 L979.9,543.2 L981.7,546.6 L985.0,548.6 L987.7,551.1 L987.7,556.4 L985.4,558.8 L983.7,561.8 L980.3,562.9 L978.4,566.0 L979.3,569.5 L977.7,573.4 L976.1,577.4 L975.2,580.7 L973.5,583.6 L971.9,586.6 L970.6,589.8 L970.2,593.2 L970.7,596.9 L968.3,599.8 L963.4,603.7 L961.8,607.0 L960.3,610.3 L959.1,613.7 L957.1,616.9 L955.4,620.2 L953.9,623.7 L952.8,627.4 L949.8,630.0 L947.9,633.8 L946.6,637.9 L946.6,645.8 L947.6,649.5 L944.3,652.6 L945.1,656.3 L945.9,659.8 L947.7,663.0 L948.9,666.4 L950.1,669.8 L950.8,673.4 L949.6,676.6 L948.2,679.6 L946.6,682.6 L946.6,686.5 L943.5,688.6 L941.0,691.2 L939.9,694.4 L937.6,697.7 L938.5,701.8 L936.1,705.1 L936.1,708.9 L975.5,708.9 L974.7,713.6 L972.9,718.1 L974.6,721.2 L976.6,724.1 L978.1,727.3 L979.7,730.5M960.3,298.6 L962.5,301.6 L966.6,301.8 L969.0,304.5 L971.9,306.5 L975.1,308.1 L978.8,308.2 L982.2,308.9 L985.7,309.6 L988.7,311.8 L992.5,312.4 L995.9,314.1 L999.3,315.7 L1002.6,317.4 L1006.7,317.4 L1009.8,319.7 L1012.5,322.8 L1016.1,324.9 L1018.6,327.8 L1019.3,331.5 L1019.2,334.9 L1020.3,338.1M956.1,406.5 L1016.1,406.5M1021.8,425.9 L1021.8,489.3 L1021.4,501.1 L1020.5,504.7 L1020.5,508.5 L1018.2,511.6 L1015.9,515.8 L1013.0,519.5 L1012.4,523.0 L1011.5,526.5 L1011.3,530.1M1028.8,425.9 L1078.9,425.9 L1078.9,427.5 L1107.4,426.7M1078.9,427.5 L1078.9,495.9M987.7,551.1 L991.2,550.1 L994.4,548.0 L997.9,547.1 L1001.4,545.8 L1004.2,543.2 L1008.0,541.6 L1009.8,538.0 L1011.3,534.2 L1011.3,530.1 L1016.0,529.5 L1020.3,527.4 L1023.8,528.6 L1027.6,528.4 L1030.9,530.1 L1033.8,528.2 L1036.8,526.8 L1040.1,526.2 L1043.5,526.1 L1047.7,525.3 L1051.9,524.8 L1054.2,522.2 L1057.5,520.7 L1059.3,517.7 L1061.6,515.2 L1063.1,512.1 L1065.6,509.7 L1066.7,506.4 L1070.5,505.1 L1074.3,504.3 L1078.3,503.8 L1078.9,495.9 L1083.3,496.8 L1087.8,497.2 L1090.2,500.3 L1092.0,503.8 L1095.3,504.2 L1098.1,506.4 L1101.8,505.8 L1104.6,507.7 L1107.8,507.0 L1111.1,507.0 L1114.3,506.5 L1117.3,505.1 L1119.8,508.0 L1122.4,510.8 L1125.7,513.0 L1128.6,511.7 L1132.0,511.2 L1134.5,509.0 L1137.0,506.5 L1139.6,504.2 L1141.0,500.8 L1143.6,498.5 L1147.3,496.4 L1147.0,491.1 L1151.0,489.3 L1153.5,487.3 L1156.6,486.1 L1159.7,485.0 L1162.1,482.7 L1163.3,479.6 L1163.0,476.1 L1163.0,472.7 L1165.6,470.0 L1166.8,466.9 L1169.4,463.5 L1168.3,459.1 L1169.5,455.4M1169.5,420.1 L1169.5,479.6 L1269.2,479.6M981.4,564.2 L1010.9,564.2 L1010.9,560.3 L1102.9,561.6 L1145.1,561.9 L1267.5,562.9M1125.7,513.0 L1125.7,520.9 L1127.1,525.2 L1129.9,528.7 L1132.6,531.8 L1135.0,535.2 L1139.0,536.9 L1136.4,538.8 L1133.9,540.8 L1131.0,542.2 L1128.2,543.9 L1125.7,545.8 L1122.8,547.5 L1119.7,548.8 L1118.4,552.6 L1115.2,553.7 L1111.9,555.4 L1108.8,557.2 L1105.7,559.2 L1102.9,561.6M1139.0,536.9 L1142.5,537.5 L1144.9,540.2 L1148.2,541.2 L1151.0,543.2 L1155.0,545.3 L1159.4,544.5 L1163.3,541.9 L1167.8,540.6 L1171.0,539.3 L1174.1,538.0 L1176.2,535.3 L1177.4,532.1 L1178.7,529.0 L1180.5,526.1 L1182.6,523.5 L1182.7,519.7 L1185.3,517.3 L1186.8,514.3 L1187.8,509.0 L1191.4,507.6 L1194.7,505.8 L1198.0,503.9 L1201.5,502.4 L1204.8,499.9 L1209.3,499.3 L1212.1,495.9 L1213.7,493.0 L1214.3,489.8 L1215.2,486.7 L1218.7,486.8 L1221.8,488.2 L1224.9,489.6 L1228.3,490.1 L1226.2,495.1 L1230.4,495.6 L1234.6,496.4 L1238.4,498.5 L1243.0,502.4 L1242.2,505.7 L1239.1,507.8 L1238.8,511.3 L1237.4,514.3 L1242.5,513.6 L1244.7,518.2 L1248.1,519.4 L1251.0,521.8 L1254.8,522.2 L1258.0,523.7M1191.4,479.6 L1191.4,493.2 L1194.7,491.5 L1198.1,489.7 L1200.5,486.7 L1203.9,484.3 L1206.8,481.4 L1210.7,480.8 L1214.5,480.3 L1218.4,480.1 L1221.9,480.7 L1224.7,482.7 L1225.1,487.1 L1228.3,490.1M1145.1,561.9 L1141.9,564.4 L1140.4,568.1 L1137.9,571.2 L1136.2,574.8 L1132.6,574.6 L1129.5,576.6 L1126.1,577.2 L1122.8,578.4 L1119.4,578.7 L1116.3,580.4 L1113.2,582.0 L1111.1,585.0 L1108.8,587.7 L1105.7,589.2 L1103.0,591.5 L1100.8,594.6 L1096.9,595.1 L1094.1,597.1 L1091.1,600.1 L1089.4,604.0M963.4,603.7 L1007.7,603.7 L1062.5,604.0 L1115.2,604.0 L1119.5,604.4 L1122.5,601.2 L1126.2,599.8 L1129.9,598.4 L1133.5,598.5 L1137.0,598.8 L1140.5,600.7 L1144.1,600.0 L1147.6,600.3 L1151.2,599.9 L1154.8,599.0 L1158.3,599.8 L1160.5,602.4 L1162.0,605.4 L1163.6,608.4 L1187.2,609.0 L1189.3,611.6 L1191.6,614.0 L1194.5,616.0 L1196.4,618.7 L1198.7,621.3 L1201.6,623.1 L1202.6,626.8 L1206.1,628.0 L1207.8,631.1 L1211.0,632.6M1007.7,603.7 L1009.8,606.3 L1002.4,682.6 L1003.5,725.2M1062.5,604.0 L1071.3,659.7 L1073.8,663.1 L1074.1,667.1 L1074.3,671.2 L1076.2,674.7 L1076.4,678.3 L1076.2,681.8 L1075.3,685.2 L1074.6,688.7 L1072.2,692.0 L1074.1,695.8 L1074.5,699.0 L1075.9,702.2 L1075.3,705.6 L1075.1,708.9 L1076.7,712.8 L1078.1,716.8M1022.0,727.8 L1024.6,716.8 L1020.3,708.9 L1075.1,708.9M1078.1,716.8 L1133.7,720.2 L1134.3,723.8 L1137.3,726.0 L1136.8,722.4 L1137.5,718.9 L1138.3,715.5 L1142.2,715.6 L1146.1,715.8 L1149.9,716.8M1115.2,604.0 L1112.8,608.0 L1109.9,611.6 L1112.0,615.2 L1116.2,615.1 L1119.4,616.9 L1121.3,620.1 L1121.9,624.1 L1125.3,626.5 L1126.7,630.0 L1129.1,632.6 L1130.0,636.5 L1133.6,637.9 L1136.5,640.1 L1138.3,643.1 L1140.2,646.0 L1142.6,648.3 L1145.1,650.7 L1147.3,653.2 L1148.9,656.3 L1150.1,659.8 L1151.5,663.1 L1154.5,665.7 L1155.2,669.5 L1156.6,672.5 L1158.9,675.1 L1159.0,678.8 L1161.5,681.3M1185.5,412.5 L1185.5,419.6 L1278.4,419.6 L1281.6,423.5 L1283.7,426.3 L1285.8,429.0 L1285.8,432.8 L1288.6,435.2 L1292.1,436.4 L1294.9,438.2 L1298.1,439.0 L1300.6,441.1 L1302.5,444.4 L1306.0,444.6 L1309.0,445.9 L1308.7,449.4 L1306.9,452.5M1292.1,436.4 L1289.3,438.2 L1288.1,441.6 L1286.0,444.1 L1283.1,445.9 L1282.7,450.6 L1281.6,455.1 L1283.5,458.2 L1284.8,461.7 L1288.2,464.7 L1291.1,468.3 L1286.9,469.6 L1284.2,472.8 L1281.6,476.1 L1278.3,477.6 L1275.3,479.6M1269.2,479.6 L1271.1,512.7 L1284.8,513.0M1269.2,479.6 L1273.2,476.7 L1277.0,477.5M1272.1,524.3 L1276.0,524.5 L1279.5,526.1M1320.6,340.7 L1320.6,353.8 L1321.3,357.3 L1320.3,360.6 L1320.3,364.0 L1319.5,367.4 L1319.5,370.7 L1319.3,374.1 L1319.5,377.5 L1322.7,378.8 L1322.3,399.9 L1321.3,403.5 L1320.6,407.3 L1319.6,411.0 L1317.2,414.3 L1317.4,418.3 L1317.6,421.6 L1318.4,424.9 L1317.4,428.2 L1317.4,431.5 L1315.4,434.7 L1316.4,438.0 L1314.3,440.5 L1312.6,443.3 L1314.1,446.4M1359.6,340.4 L1357.9,343.7 L1357.5,347.3 L1357.6,350.8 L1355.1,353.3 L1354.3,356.5 L1352.0,358.8 L1350.7,361.8 L1348.0,363.8 L1346.9,367.0 L1345.2,370.2 L1344.1,373.6 L1342.9,377.0 L1341.0,380.2 L1341.0,383.5 L1340.4,386.9 L1340.8,390.3 L1340.2,393.7 L1339.4,397.0 L1339.3,400.4M1322.3,399.9 L1339.3,400.4 L1363.8,401.2 L1368.0,398.0 L1373.9,396.7M1317.4,418.3 L1353.2,418.8 L1362.1,419.1 L1362.1,422.2 L1366.9,427.5 L1367.4,432.8M1353.2,419.1 L1353.2,435.4 L1352.0,437.7M1368.4,332.8 L1370.1,367.0 L1370.7,378.8 L1376.0,390.7"/>
<path stroke-width="3.2" d="M1251.6,482.6 L1252.6,485.5 L1254.3,488.1 L1254.7,491.4 L1257.0,493.7 L1256.4,496.2 L1255.0,498.5 L1256.0,501.3 L1254.5,503.6 L1256.4,505.7 L1257.2,508.2 L1258.3,510.6 L1258.6,513.4 L1259.5,515.9 L1259.7,518.5 L1259.5,521.0 L1258.5,523.4 L1257.7,525.8 L1257.0,528.2 L1255.3,530.5 L1254.7,533.3 L1253.6,535.8 L1252.1,538.1 L1252.8,540.8 L1254.0,543.3 L1255.5,545.6 L1257.0,548.0 L1258.8,550.4 L1261.0,552.5 L1261.6,555.7 L1263.9,557.8M1223.7,485.1 L1225.2,487.4 L1226.4,490.1 L1228.3,492.1 L1230.5,494.1 L1232.3,496.2 L1234.1,498.7 L1236.3,500.9 L1237.8,503.6 L1239.7,506.0 L1240.8,508.6 L1242.6,510.5 L1244.0,512.8 L1245.9,514.7 L1247.9,516.7 L1250.1,518.4 L1252.2,520.3 L1254.5,522.0 L1257.0,523.3M1243.4,536.9 L1246.0,538.5 L1248.9,539.8 L1251.0,542.2 L1253.3,544.3 L1255.6,545.6 L1257.9,546.9 L1260.1,548.4 L1261.9,550.4M1244.7,546.7 L1247.5,548.4 L1249.6,550.8 L1252.1,552.9 L1255.0,553.5 L1257.2,555.5 L1259.7,556.8 L1262.4,557.8M1262.4,485.1 L1262.8,487.8 L1263.2,490.5 L1263.3,493.2 L1263.6,495.9 L1263.4,498.6 L1263.1,501.4 L1264.6,503.6 L1265.1,506.1 L1267.0,508.3 L1266.9,511.0 L1267.8,513.4 L1268.0,515.9 L1268.3,518.4 L1268.3,520.9 L1269.3,523.3 L1269.9,526.0 L1268.6,528.3 L1267.7,530.7 L1267.5,533.3 L1266.7,535.7 L1265.9,538.1 L1264.8,541.3 L1264.3,544.6 L1264.4,548.0M1272.3,475.2 L1273.4,477.6 L1274.7,479.7 L1276.0,482.0 L1277.6,484.0 L1278.7,486.3 L1279.1,489.1 L1281.6,491.0 L1281.7,494.0 L1283.1,496.3 L1284.6,498.6 L1288.6,500.6M1273.3,479.4 L1274.5,482.0 L1274.6,484.9 L1275.5,487.6 L1276.2,490.3 L1276.5,493.1 L1277.1,495.9 L1277.7,498.6 L1279.3,500.9 L1280.5,503.4 L1281.8,505.8 L1282.6,508.5M1249.6,570.2 L1251.8,571.8 L1254.5,571.8 L1257.0,572.6 L1259.9,573.5 L1261.5,576.0 L1263.4,578.1 L1261.5,580.3 L1259.5,582.5 L1261.9,584.2 L1264.6,585.4 L1266.9,587.4 L1267.9,584.8 L1270.1,583.0M1246.6,590.4 L1250.0,590.5 L1252.1,593.1 L1254.5,594.8 L1257.2,596.2 L1260.0,597.3 L1257.0,598.5 L1255.0,601.0 L1252.1,602.2 L1249.8,603.6 L1247.4,604.8 L1244.7,604.7 L1246.9,606.2 L1249.6,605.8 L1252.3,605.3 L1254.5,607.1 L1257.0,607.6 L1254.5,609.0 L1252.0,610.5 L1249.6,612.1 L1247.2,613.1 L1244.9,614.3 L1242.3,614.4 L1239.7,614.5 L1236.4,615.6 L1233.6,617.5M1261.9,562.8 L1263.4,565.1 L1264.4,567.7 L1265.9,570.0 L1266.9,572.6 L1269.0,574.6 L1268.4,577.7 L1270.0,579.9 L1270.6,582.5M1377.8,414.8 L1379.1,417.3 L1380.6,419.6 L1383.4,420.9 L1384.7,423.4 L1387.3,424.5 L1390.2,424.7 L1391.8,421.8 L1391.4,418.5 L1387.7,417.3M1375.4,437.0 L1380.3,436.5M1386.5,438.2 L1391.4,437.5"/>
<path stroke-width="6.5" d="M275.3,244.7 L277.9,244.5 L280.5,243.9 L283.0,243.3 L284.9,246.5 L286.0,250.0 L287.0,253.4 L288.3,256.7 L287.5,260.7 L290.7,263.3 L289.5,266.5 L287.0,268.7 L284.4,269.2 L282.3,270.9 L280.0,272.0 L277.5,273.4 L275.3,275.3 L276.1,278.8 L278.3,281.7 L281.6,282.6 L285.0,283.3 L286.6,280.1 L288.3,277.0M280.0,250.0 L283.7,253.3M285.5,522.5 L286.5,525.4 L288.0,528.0 L290.5,530.7 L291.2,534.2 L294.1,536.1 L295.5,539.2M1123.0,786.2 L1124.3,789.5 L1126.2,792.5 L1127.2,795.1 L1128.8,797.5M1157.0,860.0 L1160.5,862.0"/>
<path stroke-width="3.8" d="M1133.8,816.2 L1135.5,818.7 L1137.0,821.2M1011.2,716.5 L1010.8,727.0M1033.8,318.8 L1036.1,319.9 L1039.0,319.8 L1041.2,321.2M1062.5,337.5 L1063.0,340.2 L1064.1,342.7 L1065.5,345.0"/>
<path stroke-width="5.5" d="M867.0,744.5 L868.8,746.4 L871.0,748.0M829.0,777.5 L830.6,775.4 L833.0,774.6 L834.1,771.8 L837.0,771.5M809.5,808.0 L809.9,805.3 L811.4,803.1 L812.1,800.5 L813.0,798.0 L814.9,796.2 L815.6,793.7 L817.0,791.5M831.5,774.5 L828.5,776.6 L827.0,780.0"/>
<path stroke-width="3.0" d="M961.2,731.2 L963.1,728.9 L965.0,726.5 L967.6,726.4 L970.0,727.5 L972.5,727.5 L973.4,730.2 L975.0,732.5 L972.0,734.0 L968.8,735.0 L966.3,733.7 L964.0,732.1 L961.2,731.2M975.0,735.0 L977.3,736.1 L979.4,737.4 L981.1,739.3 L983.4,740.4 L985.0,742.5 L981.8,744.3 L980.0,747.5 L981.9,749.4 L983.3,751.7 L985.7,753.0 L987.5,755.0 L989.1,757.1 L991.2,758.8M972.5,748.8 L974.7,751.5 L977.5,753.8 L979.9,756.0 L982.0,758.5 L983.8,761.2M985.0,735.0 L985.5,738.3 L987.9,740.3 L990.0,742.5M1011.2,351.2 L1012.8,349.3 L1015.0,347.8 L1015.0,344.5 L1017.5,343.3 L1019.9,341.9 L1021.4,339.9 L1022.5,337.5 L1025.2,336.0 L1027.9,334.7 L1031.0,334.4 L1033.8,333.0"/>
</g>
    <g id="legend">
    <rect x="1498" y="421.1" width="26" height="25.8" fill="#DAD2E9"/>
<text x="1535.3" y="441.4">Jan-22</text>
<rect x="1498" y="446.6" width="26" height="25.8" fill="#B0A4CC"/>
<text x="1535.3" y="466.9">Jan-29</text>
<rect x="1498" y="472.0" width="26" height="25.8" fill="#AAF7DE"/>
<text x="1535.3" y="492.3">Feb-05</text>
<rect x="1498" y="497.5" width="26" height="25.8" fill="#8FE6D0"/>
<text x="1535.3" y="517.8">Feb-12</text>
<rect x="1498" y="522.9" width="26" height="25.8" fill="#72D4C3"/>
<text x="1535.3" y="543.2">Feb-19</text>
<rect x="1498" y="548.4" width="26" height="25.8" fill="#52BFB5"/>
<text x="1535.3" y="568.6">Feb-26</text>
<rect x="1498" y="573.8" width="26" height="25.8" fill="#B7FFC1"/>
<text x="1535.3" y="594.1">Mar-05</text>
<rect x="1498" y="599.2" width="26" height="25.8" fill="#91D49A"/>
<text x="1535.3" y="619.5">Mar-12</text>
<rect x="1498" y="624.7" width="26" height="25.8" fill="#6AA871"/>
<text x="1535.3" y="645.0">Mar-19</text>
<rect x="1498" y="650.1" width="26" height="25.8" fill="#3F7D40"/>
<text x="1535.3" y="670.4">Mar-26</text>
<rect x="1498" y="675.6" width="26" height="25.8" fill="#CCFF00"/>
<text x="1535.3" y="695.9">Apr-02</text>
<rect x="1498" y="701.0" width="26" height="25.8" fill="#A6EE03"/>
<text x="1535.3" y="721.3">Apr-09</text>
<rect x="1498" y="726.5" width="26" height="25.8" fill="#80DE07"/>
<text x="1535.3" y="746.8">Apr-16</text>
<rect x="1498" y="752.0" width="26" height="25.8" fill="#59CF0B"/>
<text x="1535.3" y="772.2">Apr-23</text>
<rect x="1498" y="777.4" width="26" height="25.8" fill="#33C00F"/>
<text x="1535.3" y="797.7">Apr-30</text>
<rect x="1620" y="421.1" width="26" height="25.8" fill="#FFFF00"/>
<text x="1657.3" y="441.4">May-07</text>
<rect x="1620" y="446.6" width="26" height="25.8" fill="#DDD800"/>
<text x="1657.3" y="466.9">May-14</text>
<rect x="1620" y="472.0" width="26" height="25.8" fill="#BBAE00"/>
<text x="1657.3" y="492.3">May-21</text>
<rect x="1620" y="497.5" width="26" height="25.8" fill="#998408"/>
<text x="1657.3" y="517.8">May-28</text>
<rect x="1620" y="522.9" width="26" height="25.8" fill="#FFD890"/>
<text x="1657.3" y="543.2">Jun-04</text>
<rect x="1620" y="548.4" width="26" height="25.8" fill="#FFC174"/>
<text x="1657.3" y="568.6">Jun-11</text>
<rect x="1620" y="573.8" width="26" height="25.8" fill="#FFAB57"/>
<text x="1657.3" y="594.1">Jun-18</text>
<rect x="1620" y="599.2" width="26" height="25.8" fill="#FF9533"/>
<text x="1657.3" y="619.5">Jun-25</text>
<rect x="1620" y="624.7" width="26" height="25.8" fill="#F4CCCC"/>
<text x="1657.3" y="645.0">Jul-02</text>
<rect x="1620" y="650.1" width="26" height="25.8" fill="#F69999"/>
<text x="1657.3" y="670.4">Jul-09</text>
<rect x="1620" y="675.6" width="26" height="25.8" fill="#F96666"/>
<text x="1657.3" y="695.9">Jul-16</text>
<rect x="1620" y="701.0" width="26" height="25.8" fill="#FC3333"/>
<text x="1657.3" y="721.3">Jul-23</text>
<rect x="1620" y="726.5" width="26" height="25.8" fill="#FF0000"/>
<text x="1657.3" y="746.8">Jul-30</text>
<rect x="1620" y="752.0" width="26" height="25.8" fill="#E6B8AF"/>
<text x="1657.3" y="772.2">Aug-06</text>
<rect x="1620" y="777.4" width="26" height="25.8" fill="#CA9186"/>
<text x="1657.3" y="797.7">Aug-13</text>
<rect x="1747" y="421.1" width="26" height="25.8" fill="#AF6A5E"/>
<text x="1784.3" y="441.4">Aug-20</text>
<rect x="1747" y="446.6" width="26" height="25.8" fill="#9A4634"/>
<text x="1784.3" y="466.9">Aug-27</text>
<rect x="1747" y="472.0" width="26" height="25.8" fill="#FFAFD8"/>
<text x="1784.3" y="492.3">Sep-03</text>
<rect x="1747" y="497.5" width="26" height="25.8" fill="#FF83E2"/>
<text x="1784.3" y="517.8">Sep-10</text>
<rect x="1747" y="522.9" width="26" height="25.8" fill="#FF57EC"/>
<text x="1784.3" y="543.2">Sep-17</text>
<rect x="1747" y="548.4" width="26" height="25.8" fill="#FF2BF5"/>
<text x="1784.3" y="568.6">Sep-24</text>
<rect x="1747" y="573.8" width="26" height="25.8" fill="#E1BDE4"/>
<text x="1784.3" y="594.1">Oct-01</text>
<rect x="1747" y="599.2" width="26" height="25.8" fill="#C994D2"/>
<text x="1784.3" y="619.5">Oct-08</text>
<rect x="1747" y="624.7" width="26" height="25.8" fill="#B16CC1"/>
<text x="1784.3" y="645.0">Oct-15</text>
<rect x="1747" y="650.1" width="26" height="25.8" fill="#9A4AB3"/>
<text x="1784.3" y="670.4">Oct-22</text>
<rect x="1747" y="675.6" width="26" height="25.8" fill="#B3ECFF"/>
<text x="1784.3" y="695.9">Nov-02</text>
<rect x="1747" y="701.0" width="26" height="25.8" fill="#87D3F0"/>
<text x="1784.3" y="721.3">Nov-05</text>
<rect x="1747" y="726.5" width="26" height="25.8" fill="#5BBAE1"/>
<text x="1784.3" y="746.8">Nov-13</text>
    </g>
    </svg>
    </body></html>
